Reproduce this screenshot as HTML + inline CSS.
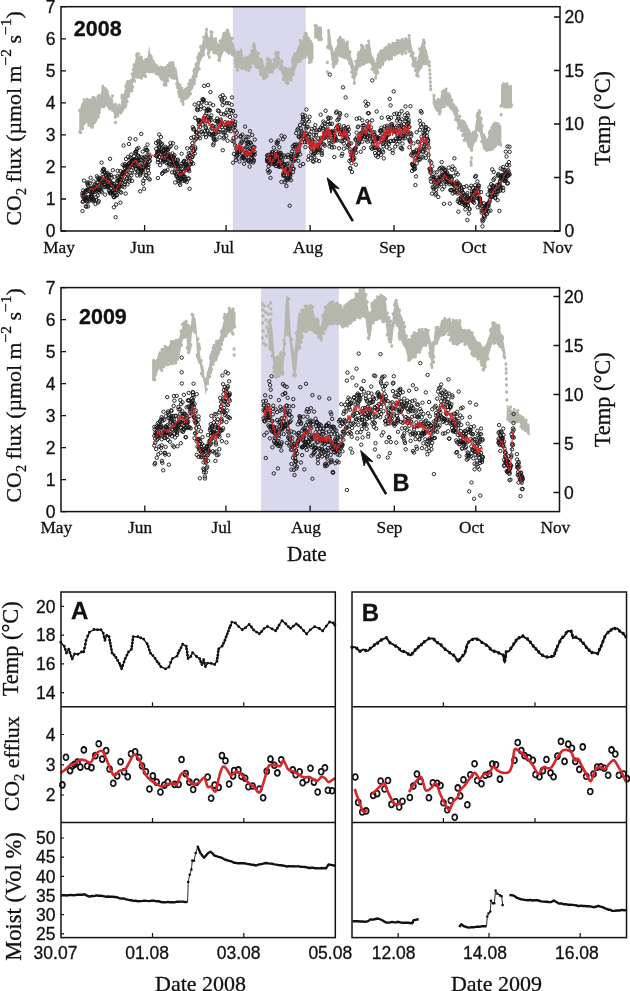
<!DOCTYPE html>
<html><head><meta charset="utf-8"><style>html,body{margin:0;padding:0;background:#fff;overflow:hidden}svg{display:block}text{fill:#111;stroke:#111;stroke-width:0.3px}</style></head><body>
<svg width="630" height="991" viewBox="0 0 630 991" style="will-change:transform">
<rect width="630" height="991" fill="#fff"/>
<rect x="232.8" y="6.7" width="73" height="224.3" fill="#d9d8ec"/>
<path d="M79.2,113.6 79.9,110.5 80.6,106.5 81.3,103.8 82,102.7 82.7,101.7 83.4,101.4 84.1,99.9 84.8,100.8 85.5,100.6 86.2,101.2 86.9,100.8 87.6,99.3 88.3,99.7 89,99.7 89.7,101 90.4,101 91.1,99.6 91.8,100.4 92.5,99 93.2,98.5 93.9,98.9 94.6,97.8 95.3,98.4 96,98.8 96.7,99.1 97.4,96.9 98.1,95.4 98.8,95 99.5,96.4 100.2,95.3 100.9,92.4 101.6,90.1 102.3,89.2 103,87.1 103.7,85.9 104.4,88.1 105.1,89.4 105.8,89.5 106.5,89.3 107.2,89.6 107.9,90 108.6,92.3 109.3,94.9 110,96.4 110.7,97.6 111.4,98.1 112.1,97.1 112.8,98.7 113.5,103.4 114.2,104.8 114.9,104.9 115.6,105.6 116.3,104.6 117,105.6 117.7,107 118.4,106.2 119.1,106.6 119.8,107 120.5,106.3 121.2,100.8 121.9,95.8 122.6,95 123.3,95.3 124,93.8 124.7,90 125.4,87.5 126.1,85.7 126.8,85.2 127.5,82.8 128.2,81.3 128.9,80.6 129.6,79.6 130.3,78.9 131,79.4 131.7,78.2 132.4,72.9 133.1,70.2 133.8,66.6 134.5,63.4 135.2,60.8 135.9,56.3 136.6,55 137.3,55.5 138,54.8 138.7,55.8 139.4,56.4 140.1,56.9 140.8,56.3 141.5,57.1 142.2,57.1 142.9,58.2 143.6,60.3 144.3,61 145,61.3 145.7,58.9 146.4,57.9 147.1,57.9 147.8,55 148.5,50.8 149.2,45.4 149.9,50.7 150.6,54.8 151.3,57.6 152,61.9 152.7,63.5 153.4,62.7 154.1,63.7 154.8,62.9 155.5,64.9 156.2,64.1 156.9,66.5 157.6,66 158.3,66.3 159,68.3 159.7,67.8 160.4,67.9 161.1,69.1 161.8,68.1 162.5,68.1 163.2,68.1 163.9,67.9 164.6,68.3 165.3,68.7 166,68.4 166.7,68.2 167.4,67 168.1,65.7 168.8,63.7 169.5,63.2 170.2,63.7 170.9,62.2 171.6,62.3 172.3,62.1 173,63 173.7,64.8 174.4,65.2 175.1,67 175.8,67.5 176.5,68.3 177.2,72.4 177.9,76.7 178.6,80.9 179.3,83.7 180,85.2 180.7,87.4 181.4,87 182.1,87.9 182.8,89 183.5,89.9 184.2,88 184.9,88.2 185.6,88.1 186.3,86.3 187,86.3 187.7,87.1 188.4,84.4 189.1,83.7 189.8,81.7 190.5,81.4 191.2,79 191.9,75.8 192.6,74.9 193.3,71.7 194,71.1 194.7,67.6 195.4,65.5 196.1,63.8 196.8,62 197.5,60.7 198.2,57.1 198.9,55.1 199.6,51.3 200.3,49.6 201,46 201.7,45.1 202.4,41.9 203.1,39.8 203.8,38 204.5,35.4 205.2,32.1 205.9,29.9 206.6,28.8 207.3,31.5 208,34.9 208.7,38.7 209.4,37.2 210.1,34.5 210.8,31.8 211.5,31 212.2,32.3 212.9,36.1 213.6,38.3 214.3,39.2 215,39.3 215.7,40.3 216.4,40 217.1,42 217.8,42.9 218.5,43.6 219.2,44 219.9,41.9 220.6,39.2 221.3,38.4 222,35.7 222.7,35 223.4,34 224.1,33.5 224.8,34.4 225.5,32.4 226.2,32 226.9,30.8 227.6,31.7 228.3,31.9 229,32.2 229.7,33.1 230.4,34.6 231.1,36.8 231.8,39.1 232.5,41.2 233.2,42.9 233.9,44.1 234.6,47.1 235.3,48.9 236,50 236.7,54.1 237.4,54.8 238.1,52.6 238.8,52.4 239.5,52.1 240.2,49.6 240.9,47.7 241.6,48.5 242.3,51.6 243,54.8 243.7,58.1 244.4,58.7 245.1,58.9 245.8,59.9 246.5,58.8 247.2,58.4 247.9,57.9 248.6,55.8 249.3,56.2 250,54.8 250.7,52.9 251.4,51.5 252.1,50.7 252.8,48.3 253.5,45 254.2,43.8 254.9,43.3 255.6,45.1 256.3,49.1 257,51.9 257.7,52.9 258.4,54.2 259.1,56.5 259.8,58.1 260.5,57.8 261.2,61.3 261.9,62.5 262.6,63.8 263.3,64.7 264,65.5 264.7,68 265.4,66.3 266.1,64 266.8,60.3 267.5,58.4 268.2,55.5 268.9,57.8 269.6,58.5 270.3,60.2 271,60.3 271.7,62.5 272.4,63.1 273.1,62.8 273.8,59.6 274.5,58.6 275.2,55.2 275.9,52.9 276.6,52.2 277.3,52.6 278,52.5 278.7,53.8 279.4,55.4 280.1,58.3 280.8,59.7 281.5,62 282.2,63.3 282.9,65.1 283.6,66.9 284.3,67.4 285,69.7 285.7,69.9 286.4,70.6 287.1,73 287.8,71.7 288.5,70.8 289.2,69.4 289.9,68.8 290.6,68 291.3,66.3 292,63 292.7,60.1 293.4,57.9 294.1,55.9 294.8,54.8 295.5,53.5 296.2,51.1 296.9,49.2 297.6,46.8 298.3,46.8 299,44.1 299.7,43 300.4,40.9 301.1,40.5 301.8,40.9 302.5,40 303.2,37.6 303.9,38.2 304.6,36.6 305.3,35.1 306,35 306.7,35.7 307.4,35 308.1,36.9 308.8,38.8 309.5,39.2 310.2,39.5 310.9,39.4 311.6,40.5 312.3,42.1 313,43.3 313.5,46.3 313.5,58.4 313,59 312.3,60.7 311.6,62.3 310.9,62.4 310.2,62.3 309.5,63.1 308.8,61.6 308.1,59.8 307.4,57 306.7,55.4 306,55.6 305.3,56.5 304.6,55.3 303.9,56.9 303.2,58.1 302.5,57.4 301.8,59.8 301.1,59.6 300.4,59.9 299.7,60.6 299,62.5 298.3,62.6 297.6,64 296.9,65.2 296.2,67.3 295.5,69.2 294.8,72.2 294.1,73 293.4,74.6 292.7,75.7 292,76.8 291.3,79.5 290.6,79 289.9,81.2 289.2,80.5 288.5,81.6 287.8,82.2 287.1,82.8 286.4,83.4 285.7,82.3 285,81.5 284.3,81 283.6,80.6 282.9,77.8 282.2,74.6 281.5,73.1 280.8,71.4 280.1,68.9 279.4,66.8 278.7,63 278,62.9 277.3,65.7 276.6,66.9 275.9,66.6 275.2,68.4 274.5,69.8 273.8,70.5 273.1,71.3 272.4,72.4 271.7,71.2 271,72.5 270.3,72.8 269.6,72.3 268.9,72.7 268.2,73.6 267.5,73.6 266.8,76.4 266.1,77.1 265.4,77.8 264.7,77.8 264,78.5 263.3,78.7 262.6,79.4 261.9,76.3 261.2,75.8 260.5,72.8 259.8,72.3 259.1,69.8 258.4,68.6 257.7,68.3 257,67 256.3,66.4 255.6,64.1 254.9,62.2 254.2,62.2 253.5,62.1 252.8,61.8 252.1,63.1 251.4,65 250.7,66.1 250,69.1 249.3,69.3 248.6,70.3 247.9,70.6 247.2,70.5 246.5,71.8 245.8,72.3 245.1,69.5 244.4,69.5 243.7,68 243,68.1 242.3,67.1 241.6,66.5 240.9,67.2 240.2,65.5 239.5,63.3 238.8,66 238.1,68.1 237.4,71.4 236.7,70.1 236,66.6 235.3,62.4 234.6,58.3 233.9,57.2 233.2,56.8 232.5,54.9 231.8,54.1 231.1,53.2 230.4,52.4 229.7,52.7 229,51.8 228.3,51.6 227.6,50.9 226.9,50.4 226.2,50.3 225.5,51.5 224.8,50.7 224.1,51.5 223.4,52.3 222.7,54 222,55.4 221.3,57.7 220.6,59 219.9,58.7 219.2,60.9 218.5,58.4 217.8,56.7 217.1,55.1 216.4,53.6 215.7,53.6 215,52.3 214.3,52.6 213.6,51.5 212.9,50.5 212.2,50.9 211.5,50.7 210.8,51.1 210.1,52.9 209.4,55 208.7,55.8 208,53.4 207.3,50.8 206.6,48.3 205.9,48.5 205.2,50 204.5,53.3 203.8,53.8 203.1,56.5 202.4,57.9 201.7,59.1 201,60.8 200.3,62.1 199.6,64.9 198.9,69.7 198.2,73.7 197.5,73.8 196.8,76.2 196.1,75.7 195.4,78.6 194.7,80.7 194,85.2 193.3,88.3 192.6,89.3 191.9,90 191.2,91.3 190.5,91.5 189.8,93.2 189.1,94.2 188.4,95.4 187.7,97.2 187,97.2 186.3,98.8 185.6,99.5 184.9,99.1 184.2,101.7 183.5,103.5 182.8,104 182.1,101.8 181.4,100.8 180.7,98.9 180,98.5 179.3,94.3 178.6,92.8 177.9,89.4 177.2,84.8 176.5,81.4 175.8,79.9 175.1,78.8 174.4,78.3 173.7,77.1 173,76.3 172.3,76.5 171.6,76.7 170.9,76.3 170.2,76.7 169.5,76.9 168.8,78.2 168.1,79.5 167.4,81.7 166.7,85.3 166,86.4 165.3,85.7 164.6,84.2 163.9,84 163.2,82 162.5,81.3 161.8,79.7 161.1,78.7 160.4,79.3 159.7,78.8 159,77.5 158.3,75.5 157.6,75.9 156.9,75.4 156.2,75 155.5,74.2 154.8,72.4 154.1,72.1 153.4,73.3 152.7,71.8 152,72.3 151.3,71.8 150.6,70.7 149.9,71 149.2,70.6 148.5,71.6 147.8,71.4 147.1,72.7 146.4,72.7 145.7,74.2 145,75.8 144.3,77.7 143.6,77 142.9,77.8 142.2,77.3 141.5,76.9 140.8,77.2 140.1,77 139.4,76.5 138.7,76.2 138,74.8 137.3,76.3 136.6,76.7 135.9,76.6 135.2,78.7 134.5,80.7 133.8,80.2 133.1,83.4 132.4,88.2 131.7,89.9 131,92.1 130.3,92.3 129.6,93.6 128.9,95.3 128.2,96.2 127.5,99.1 126.8,101.3 126.1,105.3 125.4,106.8 124.7,108.4 124,110.1 123.3,111.7 122.6,112.5 121.9,114.5 121.2,114 120.5,114.8 119.8,114.8 119.1,113.3 118.4,114.4 117.7,115 117,115.7 116.3,116.3 115.6,116.7 114.9,116.4 114.2,115.1 113.5,112.7 112.8,111.8 112.1,109.5 111.4,109.8 110.7,109.3 110,107.8 109.3,108.1 108.6,106.2 107.9,106.7 107.2,105.1 106.5,105.5 105.8,105.9 105.1,105.3 104.4,106.9 103.7,106.5 103,106.9 102.3,108.1 101.6,107.7 100.9,109.8 100.2,111.4 99.5,113.7 98.8,115.2 98.1,116.4 97.4,120 96.7,121.8 96,122.8 95.3,124.2 94.6,123.8 93.9,124.3 93.2,124.2 92.5,126 91.8,126.9 91.1,126.7 90.4,126.7 89.7,126 89,124.9 88.3,123.8 87.6,122 86.9,122.8 86.2,122.9 85.5,124 84.8,125.6 84.1,124.7 83.4,127.1 82.7,127 82,129.1 81.3,130.6 80.6,131.5 79.9,131.5 79.2,132.3ZM314.2,27.3 314.9,27.8 315.6,27.1 316.3,27.8 317,27.2 317.7,27.6 318.4,27.1 319.1,27.4 319.8,27.3 320.5,28.8 321.2,28.5 321.9,27.6 322,28.2 322,39.1 321.9,38.4 321.2,38.5 320.5,39.1 319.8,38.8 319.1,38.8 318.4,39.5 317.7,39.5 317,38.6 316.3,38.2 315.6,38.9 314.9,38.5 314.2,38.5ZM327.4,30.5 328.1,30.3 328.8,30.6 329.5,30.1 330.2,33.2 330.9,39.6 331.6,44.9 332.3,46 333,48.3 333.7,52.1 334.4,50.9 335.1,47.7 335.8,47.5 336.5,46.7 337.2,43.8 337.9,42.5 338.6,39.8 339.3,37.8 340,37.6 340.7,37 341.4,36.7 342.1,38.5 342.8,39.9 343.5,40 344.2,42.8 344.9,44.1 345.6,43.9 346.3,43.5 347,43.1 347.7,44 348.4,44.5 349.1,49.3 349.8,51.5 350.5,54.3 351.2,56.8 351.9,58.4 352.6,60.4 353.3,62.3 354,65.5 354.7,66.4 355.4,63 356.1,61.3 356.8,57.8 357.5,55.4 358.2,55.2 358.9,53.1 359.6,52 360.3,48.5 361,45.4 361.7,43.9 362.4,46.2 363.1,48.5 363.8,48.7 364.5,49 365.2,48.8 365.9,46.3 366.6,46.7 367.3,44.8 368,43.9 368.7,42.2 369.4,40.1 370.1,44.7 370.8,48.1 371.5,53.8 372.2,55.7 372.9,56.8 373.6,57.7 374.3,60.2 375,60.2 375.7,62.9 376.4,61.3 377.1,60.2 377.8,57.6 378.5,55.3 379.2,53.8 379.9,53.1 380.6,52.1 381.3,50.5 382,51.1 382.7,48.7 383.4,49.5 384.1,48.5 384.8,47.8 385.5,46.3 386.2,47.4 386.9,46.5 387.6,46.7 388.3,46.8 389,46.3 389.7,44.9 390.4,44.4 391.1,43.8 391.8,44.3 392.5,43.6 393.2,44.1 393.9,43.1 394.6,41.8 395.3,41.8 396,42.3 396.7,42.1 397.4,41.3 398.1,42.1 398.8,40.5 399.5,40.4 400.2,41.6 400.9,41.3 401.6,41.1 402.3,40.7 403,39.5 403.7,40.9 404.4,40.8 405.1,40.6 405.8,39.6 406.5,39.4 407.2,39.1 407.9,37.9 408.6,38.1 409.3,37.4 410,36 410.7,40.4 411.4,45.6 412.1,48.1 412.8,50.8 413.5,54.6 414.2,56.2 414.9,58.9 415.6,59.9 416.3,60.5 417,62.8 417.7,59 418.4,55.9 419.1,52.4 419.8,50.4 420.5,46.7 421.2,44.9 421.9,42.4 422.6,40.2 423.3,39.9 424,41.7 424.7,43.4 425.4,45.8 426.1,49.2 426.8,49.6 427.5,53.5 428.2,55.5 428.7,57.7 428.7,63.7 428.2,63.6 427.5,62.2 426.8,61.7 426.1,62.6 425.4,63.4 424.7,62.6 424,63.4 423.3,64 422.6,66.7 421.9,68.2 421.2,69.4 420.5,70 419.8,71.1 419.1,72.4 418.4,74.1 417.7,76.4 417,76.7 416.3,73.4 415.6,71.2 414.9,69.6 414.2,67.3 413.5,66.1 412.8,64.8 412.1,61.4 411.4,58.7 410.7,55.1 410,51.4 409.3,49.6 408.6,49.5 407.9,50.1 407.2,50.4 406.5,50.6 405.8,51.2 405.1,52.4 404.4,51.7 403.7,53.2 403,51.9 402.3,53.9 401.6,53.6 400.9,52.6 400.2,54.6 399.5,53.8 398.8,53.4 398.1,55.6 397.4,54.3 396.7,55 396,56.4 395.3,55.9 394.6,57 393.9,56.1 393.2,55.8 392.5,57.8 391.8,57.9 391.1,56.6 390.4,57.1 389.7,57.3 389,59.7 388.3,59.8 387.6,59.7 386.9,59.9 386.2,60.9 385.5,62.5 384.8,61.1 384.1,62.3 383.4,62.5 382.7,64 382,64.1 381.3,64.1 380.6,65.8 379.9,66.6 379.2,67.6 378.5,68.5 377.8,71.7 377.1,74 376.4,77.2 375.7,77.5 375,75.2 374.3,71 373.6,70.3 372.9,68.3 372.2,68.3 371.5,65.9 370.8,64.6 370.1,62.3 369.4,58.6 368.7,61 368,61.5 367.3,61.1 366.6,63 365.9,63.8 365.2,64.8 364.5,65.2 363.8,65.1 363.1,63.2 362.4,62.6 361.7,60.3 361,61.8 360.3,63 359.6,66.4 358.9,68 358.2,69.8 357.5,71.4 356.8,71.4 356.1,75.5 355.4,79 354.7,81.7 354,82 353.3,79.5 352.6,76.5 351.9,73.5 351.2,69.7 350.5,68.5 349.8,65.5 349.1,61.4 348.4,59.8 347.7,56.8 347,58.3 346.3,57.9 345.6,57.1 344.9,55.5 344.2,56.7 343.5,56.2 342.8,54.6 342.1,54.4 341.4,53.9 340.7,56.1 340,56.8 339.3,56.7 338.6,56.7 337.9,58.5 337.2,59.6 336.5,61.8 335.8,63.9 335.1,63.7 334.4,64.8 333.7,66 333,63.2 332.3,62.2 331.6,61.1 330.9,56.2 330.2,50.9 329.5,47.4 328.8,48 328.1,46.8 327.4,47.5ZM432.7,92.6 433.4,93.7 434.1,94.2 434.8,97.6 435.5,99.4 436.2,99.4 436.9,101 437.6,101.4 438.3,100.6 439,100.6 439.7,99.9 440.4,97.6 441.1,94.3 441.8,92.3 442.5,91 443.2,89.9 443.9,89.8 444.6,88.4 445.3,89.3 446,89.2 446.7,90.6 447.4,91.5 448.1,93.5 448.8,95.5 449.5,95.7 450.2,96.5 450.9,99 451.6,98.8 452.3,100.9 453,102.5 453.7,103.5 454.4,103.1 455.1,104.3 455.8,106.6 456.5,109.3 457.2,110.7 457.9,112.7 458.6,114.1 459.3,116.3 460,118.2 460.7,119.3 461.4,119.9 462.1,120.2 462.8,122.5 463.5,122.8 464.2,123.3 464.9,124.4 465.6,124.9 466.3,126.7 467,129 467.7,129.8 468.4,131.5 469.1,132.7 469.8,132.6 470.5,134.4 471.2,134 471.9,134.3 472.6,133.2 473.3,133 474,132.4 474.7,129.9 475.4,125.6 476.1,120.4 476.8,117.6 477.5,115.2 478.2,112.3 478.9,110.6 479.6,113.2 480.3,114.4 481,117.1 481.7,120.8 482.4,127.9 483.1,132 483.8,136.6 484.5,136.6 485.2,138.4 485.9,139.3 486.6,138.4 487.3,137.9 488,137.3 488.7,134.4 489.4,133.7 490.1,132.8 490.8,131.7 491.5,129.5 492.2,128.6 492.9,126.8 493.6,125 494.3,123.7 495,124.2 495.7,122.6 496.4,122.2 497.1,121.7 497.8,122.3 498.5,122.4 499.2,122.6 499.9,124.6 500.6,124.9 501.3,126.5 501.3,126.3 501.3,146.8 501.3,148.1 500.6,145.5 499.9,143.1 499.2,143 498.5,142.9 497.8,143.8 497.1,143.8 496.4,145.5 495.7,146.8 495,145.7 494.3,147 493.6,147.4 492.9,148.1 492.2,147.5 491.5,147.1 490.8,148.6 490.1,149.1 489.4,150.1 488.7,150.8 488,150.2 487.3,151.9 486.6,152.3 485.9,152.1 485.2,150.7 484.5,150.1 483.8,149.6 483.1,149.3 482.4,144.9 481.7,142.7 481,138.5 480.3,135.5 479.6,132.8 478.9,129.8 478.2,130.1 477.5,131.2 476.8,134.1 476.1,136.3 475.4,138.9 474.7,143.2 474,144.8 473.3,147.3 472.6,149.1 471.9,150.2 471.2,151 470.5,151.7 469.8,149.1 469.1,147.9 468.4,148 467.7,146.6 467,144 466.3,142.3 465.6,141.3 464.9,139.9 464.2,138.4 463.5,135.8 462.8,134 462.1,131.6 461.4,129.9 460.7,129.3 460,128.3 459.3,127.3 458.6,127.1 457.9,126.7 457.2,124.1 456.5,121.5 455.8,120.5 455.1,118 454.4,115.9 453.7,114.6 453,112.7 452.3,111.6 451.6,110.3 450.9,110.5 450.2,109 449.5,109.1 448.8,106.9 448.1,106.3 447.4,106.7 446.7,105.1 446,104.4 445.3,104.2 444.6,104.4 443.9,105.7 443.2,106.6 442.5,107.3 441.8,109.2 441.1,109.4 440.4,110.6 439.7,112.5 439,113.5 438.3,113.6 437.6,111.9 436.9,111.7 436.2,111.2 435.5,110.5 434.8,108.2 434.1,108 433.4,105.3 432.7,104.3ZM501,85.1 501.7,84.6 502.4,85.1 503.1,85.5 503.8,85 504.5,86.1 505.2,84.4 505.9,85 506.6,85.5 507.3,85 508,85.5 508.7,84.3 509.4,86.3 510.1,84.6 510.8,84.8 511.5,85.3 512,85.4 512,106.1 511.5,105.5 510.8,105.5 510.1,106.3 509.4,105.1 508.7,105.9 508,105.7 507.3,105 506.6,105.8 505.9,105.9 505.2,105.3 504.5,106.2 503.8,105.4 503.1,105.2 502.4,106.7 501.7,106.7 501,106Z" fill="#b6b7ac"/>
<path d="M104.1 89.1a1.4 1.4 0 1 0 2.7 0a1.4 1.4 0 1 0 -2.7 0M214.4 39.1a1.4 1.4 0 1 0 2.7 0a1.4 1.4 0 1 0 -2.7 0M218.7 41.2a1.4 1.4 0 1 0 2.7 0a1.4 1.4 0 1 0 -2.7 0M185.8 97.7a1.4 1.4 0 1 0 2.7 0a1.4 1.4 0 1 0 -2.7 0M284.9 69.9a1.4 1.4 0 1 0 2.7 0a1.4 1.4 0 1 0 -2.7 0M135.7 76.6a1.4 1.4 0 1 0 2.7 0a1.4 1.4 0 1 0 -2.7 0M149.9 57.5a1.4 1.4 0 1 0 2.7 0a1.4 1.4 0 1 0 -2.7 0M235.9 53.7a1.4 1.4 0 1 0 2.7 0a1.4 1.4 0 1 0 -2.7 0M234.2 63.1a1.4 1.4 0 1 0 2.7 0a1.4 1.4 0 1 0 -2.7 0M85.8 99.6a1.4 1.4 0 1 0 2.7 0a1.4 1.4 0 1 0 -2.7 0M237.8 52.5a1.4 1.4 0 1 0 2.7 0a1.4 1.4 0 1 0 -2.7 0M251 62.1a1.4 1.4 0 1 0 2.7 0a1.4 1.4 0 1 0 -2.7 0M305.1 34.9a1.4 1.4 0 1 0 2.7 0a1.4 1.4 0 1 0 -2.7 0M131.9 69.6a1.4 1.4 0 1 0 2.7 0a1.4 1.4 0 1 0 -2.7 0M147 71.4a1.4 1.4 0 1 0 2.7 0a1.4 1.4 0 1 0 -2.7 0M121.7 95.4a1.4 1.4 0 1 0 2.7 0a1.4 1.4 0 1 0 -2.7 0M233.7 60.3a1.4 1.4 0 1 0 2.7 0a1.4 1.4 0 1 0 -2.7 0M170 62.9a1.4 1.4 0 1 0 2.7 0a1.4 1.4 0 1 0 -2.7 0M111.1 96.2a1.4 1.4 0 1 0 2.7 0a1.4 1.4 0 1 0 -2.7 0M170 77.2a1.4 1.4 0 1 0 2.7 0a1.4 1.4 0 1 0 -2.7 0M249.5 67.2a1.4 1.4 0 1 0 2.7 0a1.4 1.4 0 1 0 -2.7 0M155 65.8a1.4 1.4 0 1 0 2.7 0a1.4 1.4 0 1 0 -2.7 0M252.7 44a1.4 1.4 0 1 0 2.7 0a1.4 1.4 0 1 0 -2.7 0M166.6 65.5a1.4 1.4 0 1 0 2.7 0a1.4 1.4 0 1 0 -2.7 0M117.5 105.4a1.4 1.4 0 1 0 2.7 0a1.4 1.4 0 1 0 -2.7 0M160.2 79.1a1.4 1.4 0 1 0 2.7 0a1.4 1.4 0 1 0 -2.7 0M303.8 35a1.4 1.4 0 1 0 2.7 0a1.4 1.4 0 1 0 -2.7 0M270.3 72.1a1.4 1.4 0 1 0 2.7 0a1.4 1.4 0 1 0 -2.7 0M89.4 100.2a1.4 1.4 0 1 0 2.7 0a1.4 1.4 0 1 0 -2.7 0M293.3 54.5a1.4 1.4 0 1 0 2.7 0a1.4 1.4 0 1 0 -2.7 0M288 69.4a1.4 1.4 0 1 0 2.7 0a1.4 1.4 0 1 0 -2.7 0M268.1 71.9a1.4 1.4 0 1 0 2.7 0a1.4 1.4 0 1 0 -2.7 0M86 100.8a1.4 1.4 0 1 0 2.7 0a1.4 1.4 0 1 0 -2.7 0M138.1 77.1a1.4 1.4 0 1 0 2.7 0a1.4 1.4 0 1 0 -2.7 0M157.3 68.1a1.4 1.4 0 1 0 2.7 0a1.4 1.4 0 1 0 -2.7 0M222.4 34.6a1.4 1.4 0 1 0 2.7 0a1.4 1.4 0 1 0 -2.7 0M152 61.4a1.4 1.4 0 1 0 2.7 0a1.4 1.4 0 1 0 -2.7 0M254.9 66.5a1.4 1.4 0 1 0 2.7 0a1.4 1.4 0 1 0 -2.7 0M298.9 40.7a1.4 1.4 0 1 0 2.7 0a1.4 1.4 0 1 0 -2.7 0M189.2 93.8a1.4 1.4 0 1 0 2.7 0a1.4 1.4 0 1 0 -2.7 0M168.4 63.2a1.4 1.4 0 1 0 2.7 0a1.4 1.4 0 1 0 -2.7 0M193.5 80.1a1.4 1.4 0 1 0 2.7 0a1.4 1.4 0 1 0 -2.7 0M265.9 76a1.4 1.4 0 1 0 2.7 0a1.4 1.4 0 1 0 -2.7 0M258.9 72a1.4 1.4 0 1 0 2.7 0a1.4 1.4 0 1 0 -2.7 0M152.7 63.7a1.4 1.4 0 1 0 2.7 0a1.4 1.4 0 1 0 -2.7 0M96.4 97a1.4 1.4 0 1 0 2.7 0a1.4 1.4 0 1 0 -2.7 0M135.8 54.1a1.4 1.4 0 1 0 2.7 0a1.4 1.4 0 1 0 -2.7 0M207.3 39a1.4 1.4 0 1 0 2.7 0a1.4 1.4 0 1 0 -2.7 0M284.8 82.5a1.4 1.4 0 1 0 2.7 0a1.4 1.4 0 1 0 -2.7 0M97.6 95.6a1.4 1.4 0 1 0 2.7 0a1.4 1.4 0 1 0 -2.7 0M244.1 58.2a1.4 1.4 0 1 0 2.7 0a1.4 1.4 0 1 0 -2.7 0M175.5 83.6a1.4 1.4 0 1 0 2.7 0a1.4 1.4 0 1 0 -2.7 0M253.1 63.3a1.4 1.4 0 1 0 2.7 0a1.4 1.4 0 1 0 -2.7 0M106.2 105.7a1.4 1.4 0 1 0 2.7 0a1.4 1.4 0 1 0 -2.7 0M210.7 32.6a1.4 1.4 0 1 0 2.7 0a1.4 1.4 0 1 0 -2.7 0M124.5 86.3a1.4 1.4 0 1 0 2.7 0a1.4 1.4 0 1 0 -2.7 0M113.8 117.1a1.4 1.4 0 1 0 2.7 0a1.4 1.4 0 1 0 -2.7 0M154.3 65.3a1.4 1.4 0 1 0 2.7 0a1.4 1.4 0 1 0 -2.7 0M196.7 58.8a1.4 1.4 0 1 0 2.7 0a1.4 1.4 0 1 0 -2.7 0M230.9 53.6a1.4 1.4 0 1 0 2.7 0a1.4 1.4 0 1 0 -2.7 0M189.1 93.7a1.4 1.4 0 1 0 2.7 0a1.4 1.4 0 1 0 -2.7 0M292.1 57.3a1.4 1.4 0 1 0 2.7 0a1.4 1.4 0 1 0 -2.7 0M105.8 91.2a1.4 1.4 0 1 0 2.7 0a1.4 1.4 0 1 0 -2.7 0M214.5 52.6a1.4 1.4 0 1 0 2.7 0a1.4 1.4 0 1 0 -2.7 0M280.8 61.9a1.4 1.4 0 1 0 2.7 0a1.4 1.4 0 1 0 -2.7 0M260.1 74.7a1.4 1.4 0 1 0 2.7 0a1.4 1.4 0 1 0 -2.7 0M217.5 59.9a1.4 1.4 0 1 0 2.7 0a1.4 1.4 0 1 0 -2.7 0M164.2 67.6a1.4 1.4 0 1 0 2.7 0a1.4 1.4 0 1 0 -2.7 0M137.6 76a1.4 1.4 0 1 0 2.7 0a1.4 1.4 0 1 0 -2.7 0M125.5 84.1a1.4 1.4 0 1 0 2.7 0a1.4 1.4 0 1 0 -2.7 0M236.8 52.6a1.4 1.4 0 1 0 2.7 0a1.4 1.4 0 1 0 -2.7 0M125.5 102.1a1.4 1.4 0 1 0 2.7 0a1.4 1.4 0 1 0 -2.7 0M92.7 97.8a1.4 1.4 0 1 0 2.7 0a1.4 1.4 0 1 0 -2.7 0M206.7 53.4a1.4 1.4 0 1 0 2.7 0a1.4 1.4 0 1 0 -2.7 0M116.2 114.8a1.4 1.4 0 1 0 2.7 0a1.4 1.4 0 1 0 -2.7 0M144.2 60.5a1.4 1.4 0 1 0 2.7 0a1.4 1.4 0 1 0 -2.7 0M151 71.8a1.4 1.4 0 1 0 2.7 0a1.4 1.4 0 1 0 -2.7 0M175.4 84a1.4 1.4 0 1 0 2.7 0a1.4 1.4 0 1 0 -2.7 0M163.1 68.9a1.4 1.4 0 1 0 2.7 0a1.4 1.4 0 1 0 -2.7 0M125.6 85.4a1.4 1.4 0 1 0 2.7 0a1.4 1.4 0 1 0 -2.7 0M177.1 91.6a1.4 1.4 0 1 0 2.7 0a1.4 1.4 0 1 0 -2.7 0M284.7 69.3a1.4 1.4 0 1 0 2.7 0a1.4 1.4 0 1 0 -2.7 0M81.3 128.5a1.4 1.4 0 1 0 2.7 0a1.4 1.4 0 1 0 -2.7 0M291 61.9a1.4 1.4 0 1 0 2.7 0a1.4 1.4 0 1 0 -2.7 0M164.7 85a1.4 1.4 0 1 0 2.7 0a1.4 1.4 0 1 0 -2.7 0M144.2 76.3a1.4 1.4 0 1 0 2.7 0a1.4 1.4 0 1 0 -2.7 0M103.3 88.7a1.4 1.4 0 1 0 2.7 0a1.4 1.4 0 1 0 -2.7 0M304.4 33.5a1.4 1.4 0 1 0 2.7 0a1.4 1.4 0 1 0 -2.7 0M298.8 60.9a1.4 1.4 0 1 0 2.7 0a1.4 1.4 0 1 0 -2.7 0M90.4 127a1.4 1.4 0 1 0 2.7 0a1.4 1.4 0 1 0 -2.7 0M289.7 79.9a1.4 1.4 0 1 0 2.7 0a1.4 1.4 0 1 0 -2.7 0M115.4 115.4a1.4 1.4 0 1 0 2.7 0a1.4 1.4 0 1 0 -2.7 0M172.6 78.3a1.4 1.4 0 1 0 2.7 0a1.4 1.4 0 1 0 -2.7 0M120.7 95.4a1.4 1.4 0 1 0 2.7 0a1.4 1.4 0 1 0 -2.7 0M199.2 47a1.4 1.4 0 1 0 2.7 0a1.4 1.4 0 1 0 -2.7 0M135.7 77.1a1.4 1.4 0 1 0 2.7 0a1.4 1.4 0 1 0 -2.7 0M87.5 125.2a1.4 1.4 0 1 0 2.7 0a1.4 1.4 0 1 0 -2.7 0M86.8 122.1a1.4 1.4 0 1 0 2.7 0a1.4 1.4 0 1 0 -2.7 0M218.3 60.3a1.4 1.4 0 1 0 2.7 0a1.4 1.4 0 1 0 -2.7 0M149.6 56.2a1.4 1.4 0 1 0 2.7 0a1.4 1.4 0 1 0 -2.7 0M177.6 93.5a1.4 1.4 0 1 0 2.7 0a1.4 1.4 0 1 0 -2.7 0M180.6 88.6a1.4 1.4 0 1 0 2.7 0a1.4 1.4 0 1 0 -2.7 0M192.5 71.2a1.4 1.4 0 1 0 2.7 0a1.4 1.4 0 1 0 -2.7 0M260.6 61.6a1.4 1.4 0 1 0 2.7 0a1.4 1.4 0 1 0 -2.7 0M188.7 80.6a1.4 1.4 0 1 0 2.7 0a1.4 1.4 0 1 0 -2.7 0M178.7 85a1.4 1.4 0 1 0 2.7 0a1.4 1.4 0 1 0 -2.7 0M197.4 55.7a1.4 1.4 0 1 0 2.7 0a1.4 1.4 0 1 0 -2.7 0M97.1 116.4a1.4 1.4 0 1 0 2.7 0a1.4 1.4 0 1 0 -2.7 0M197.7 54.1a1.4 1.4 0 1 0 2.7 0a1.4 1.4 0 1 0 -2.7 0M166.4 80.8a1.4 1.4 0 1 0 2.7 0a1.4 1.4 0 1 0 -2.7 0M278.7 68.8a1.4 1.4 0 1 0 2.7 0a1.4 1.4 0 1 0 -2.7 0M268.8 61.3a1.4 1.4 0 1 0 2.7 0a1.4 1.4 0 1 0 -2.7 0M193.1 83.6a1.4 1.4 0 1 0 2.7 0a1.4 1.4 0 1 0 -2.7 0M116.5 115.7a1.4 1.4 0 1 0 2.7 0a1.4 1.4 0 1 0 -2.7 0M93.2 98.7a1.4 1.4 0 1 0 2.7 0a1.4 1.4 0 1 0 -2.7 0M115 116a1.4 1.4 0 1 0 2.7 0a1.4 1.4 0 1 0 -2.7 0M269 60.4a1.4 1.4 0 1 0 2.7 0a1.4 1.4 0 1 0 -2.7 0M293.4 54a1.4 1.4 0 1 0 2.7 0a1.4 1.4 0 1 0 -2.7 0M196.4 57.8a1.4 1.4 0 1 0 2.7 0a1.4 1.4 0 1 0 -2.7 0M120.5 97.6a1.4 1.4 0 1 0 2.7 0a1.4 1.4 0 1 0 -2.7 0M237.1 66.1a1.4 1.4 0 1 0 2.7 0a1.4 1.4 0 1 0 -2.7 0M261.7 64.8a1.4 1.4 0 1 0 2.7 0a1.4 1.4 0 1 0 -2.7 0M226.9 33.2a1.4 1.4 0 1 0 2.7 0a1.4 1.4 0 1 0 -2.7 0M207.9 57.2a1.4 1.4 0 1 0 2.7 0a1.4 1.4 0 1 0 -2.7 0M102.4 106.7a1.4 1.4 0 1 0 2.7 0a1.4 1.4 0 1 0 -2.7 0M170.2 75.7a1.4 1.4 0 1 0 2.7 0a1.4 1.4 0 1 0 -2.7 0M309.9 61.5a1.4 1.4 0 1 0 2.7 0a1.4 1.4 0 1 0 -2.7 0M257 53.2a1.4 1.4 0 1 0 2.7 0a1.4 1.4 0 1 0 -2.7 0M252.1 46.5a1.4 1.4 0 1 0 2.7 0a1.4 1.4 0 1 0 -2.7 0M137.3 76.6a1.4 1.4 0 1 0 2.7 0a1.4 1.4 0 1 0 -2.7 0M215.1 52.8a1.4 1.4 0 1 0 2.7 0a1.4 1.4 0 1 0 -2.7 0M78.3 110.6a1.4 1.4 0 1 0 2.7 0a1.4 1.4 0 1 0 -2.7 0M222.2 34.4a1.4 1.4 0 1 0 2.7 0a1.4 1.4 0 1 0 -2.7 0M287.7 69.3a1.4 1.4 0 1 0 2.7 0a1.4 1.4 0 1 0 -2.7 0M230.9 38.5a1.4 1.4 0 1 0 2.7 0a1.4 1.4 0 1 0 -2.7 0M161 68a1.4 1.4 0 1 0 2.7 0a1.4 1.4 0 1 0 -2.7 0M130.4 90.8a1.4 1.4 0 1 0 2.7 0a1.4 1.4 0 1 0 -2.7 0M125.7 101.3a1.4 1.4 0 1 0 2.7 0a1.4 1.4 0 1 0 -2.7 0M109.4 108.2a1.4 1.4 0 1 0 2.7 0a1.4 1.4 0 1 0 -2.7 0M112.8 105.5a1.4 1.4 0 1 0 2.7 0a1.4 1.4 0 1 0 -2.7 0M282 79.4a1.4 1.4 0 1 0 2.7 0a1.4 1.4 0 1 0 -2.7 0M139.8 57.2a1.4 1.4 0 1 0 2.7 0a1.4 1.4 0 1 0 -2.7 0M209.6 31.9a1.4 1.4 0 1 0 2.7 0a1.4 1.4 0 1 0 -2.7 0M181.8 104.2a1.4 1.4 0 1 0 2.7 0a1.4 1.4 0 1 0 -2.7 0M136.1 74.8a1.4 1.4 0 1 0 2.7 0a1.4 1.4 0 1 0 -2.7 0M202.4 37.4a1.4 1.4 0 1 0 2.7 0a1.4 1.4 0 1 0 -2.7 0M91.5 124.2a1.4 1.4 0 1 0 2.7 0a1.4 1.4 0 1 0 -2.7 0M206.9 54.1a1.4 1.4 0 1 0 2.7 0a1.4 1.4 0 1 0 -2.7 0M124.6 105.4a1.4 1.4 0 1 0 2.7 0a1.4 1.4 0 1 0 -2.7 0M228.2 52.2a1.4 1.4 0 1 0 2.7 0a1.4 1.4 0 1 0 -2.7 0M150.3 59.1a1.4 1.4 0 1 0 2.7 0a1.4 1.4 0 1 0 -2.7 0M286.2 83.6a1.4 1.4 0 1 0 2.7 0a1.4 1.4 0 1 0 -2.7 0M79.3 132.6a1.4 1.4 0 1 0 2.7 0a1.4 1.4 0 1 0 -2.7 0M186.9 96a1.4 1.4 0 1 0 2.7 0a1.4 1.4 0 1 0 -2.7 0M130.8 74.3a1.4 1.4 0 1 0 2.7 0a1.4 1.4 0 1 0 -2.7 0M86.9 100.4a1.4 1.4 0 1 0 2.7 0a1.4 1.4 0 1 0 -2.7 0M240.7 68.2a1.4 1.4 0 1 0 2.7 0a1.4 1.4 0 1 0 -2.7 0M140.2 77.9a1.4 1.4 0 1 0 2.7 0a1.4 1.4 0 1 0 -2.7 0M262.6 78.2a1.4 1.4 0 1 0 2.7 0a1.4 1.4 0 1 0 -2.7 0M228.3 52.4a1.4 1.4 0 1 0 2.7 0a1.4 1.4 0 1 0 -2.7 0M284 68.6a1.4 1.4 0 1 0 2.7 0a1.4 1.4 0 1 0 -2.7 0M133.2 81a1.4 1.4 0 1 0 2.7 0a1.4 1.4 0 1 0 -2.7 0M252.7 44.6a1.4 1.4 0 1 0 2.7 0a1.4 1.4 0 1 0 -2.7 0M154.8 65.6a1.4 1.4 0 1 0 2.7 0a1.4 1.4 0 1 0 -2.7 0M225.6 51.3a1.4 1.4 0 1 0 2.7 0a1.4 1.4 0 1 0 -2.7 0M307.2 38.2a1.4 1.4 0 1 0 2.7 0a1.4 1.4 0 1 0 -2.7 0M241.3 67.5a1.4 1.4 0 1 0 2.7 0a1.4 1.4 0 1 0 -2.7 0M247.6 70.4a1.4 1.4 0 1 0 2.7 0a1.4 1.4 0 1 0 -2.7 0M127.5 93.7a1.4 1.4 0 1 0 2.7 0a1.4 1.4 0 1 0 -2.7 0M291.2 59.6a1.4 1.4 0 1 0 2.7 0a1.4 1.4 0 1 0 -2.7 0M102.8 105.9a1.4 1.4 0 1 0 2.7 0a1.4 1.4 0 1 0 -2.7 0M111.1 96.1a1.4 1.4 0 1 0 2.7 0a1.4 1.4 0 1 0 -2.7 0M240.1 68.1a1.4 1.4 0 1 0 2.7 0a1.4 1.4 0 1 0 -2.7 0M250.5 50.7a1.4 1.4 0 1 0 2.7 0a1.4 1.4 0 1 0 -2.7 0M163 84.9a1.4 1.4 0 1 0 2.7 0a1.4 1.4 0 1 0 -2.7 0M286.7 71.8a1.4 1.4 0 1 0 2.7 0a1.4 1.4 0 1 0 -2.7 0M292.1 74.6a1.4 1.4 0 1 0 2.7 0a1.4 1.4 0 1 0 -2.7 0M126.1 82.1a1.4 1.4 0 1 0 2.7 0a1.4 1.4 0 1 0 -2.7 0M276.5 64.3a1.4 1.4 0 1 0 2.7 0a1.4 1.4 0 1 0 -2.7 0M271.2 71.7a1.4 1.4 0 1 0 2.7 0a1.4 1.4 0 1 0 -2.7 0M101.3 88.4a1.4 1.4 0 1 0 2.7 0a1.4 1.4 0 1 0 -2.7 0M125.9 83.5a1.4 1.4 0 1 0 2.7 0a1.4 1.4 0 1 0 -2.7 0M82.8 99.9a1.4 1.4 0 1 0 2.7 0a1.4 1.4 0 1 0 -2.7 0M245.6 57.7a1.4 1.4 0 1 0 2.7 0a1.4 1.4 0 1 0 -2.7 0M303.7 57a1.4 1.4 0 1 0 2.7 0a1.4 1.4 0 1 0 -2.7 0M222.7 33.6a1.4 1.4 0 1 0 2.7 0a1.4 1.4 0 1 0 -2.7 0M180.1 100.9a1.4 1.4 0 1 0 2.7 0a1.4 1.4 0 1 0 -2.7 0M243 68.5a1.4 1.4 0 1 0 2.7 0a1.4 1.4 0 1 0 -2.7 0M279.9 61a1.4 1.4 0 1 0 2.7 0a1.4 1.4 0 1 0 -2.7 0M117.8 105.2a1.4 1.4 0 1 0 2.7 0a1.4 1.4 0 1 0 -2.7 0M256.4 67.5a1.4 1.4 0 1 0 2.7 0a1.4 1.4 0 1 0 -2.7 0M192.8 70.4a1.4 1.4 0 1 0 2.7 0a1.4 1.4 0 1 0 -2.7 0M121.1 95.3a1.4 1.4 0 1 0 2.7 0a1.4 1.4 0 1 0 -2.7 0M272.7 59.7a1.4 1.4 0 1 0 2.7 0a1.4 1.4 0 1 0 -2.7 0M144.3 59.7a1.4 1.4 0 1 0 2.7 0a1.4 1.4 0 1 0 -2.7 0M194.6 64.8a1.4 1.4 0 1 0 2.7 0a1.4 1.4 0 1 0 -2.7 0M96.8 117a1.4 1.4 0 1 0 2.7 0a1.4 1.4 0 1 0 -2.7 0M262.2 78.4a1.4 1.4 0 1 0 2.7 0a1.4 1.4 0 1 0 -2.7 0M171.9 64.5a1.4 1.4 0 1 0 2.7 0a1.4 1.4 0 1 0 -2.7 0M98 112.8a1.4 1.4 0 1 0 2.7 0a1.4 1.4 0 1 0 -2.7 0M126.1 84.1a1.4 1.4 0 1 0 2.7 0a1.4 1.4 0 1 0 -2.7 0M195.3 63.4a1.4 1.4 0 1 0 2.7 0a1.4 1.4 0 1 0 -2.7 0M132.6 65.8a1.4 1.4 0 1 0 2.7 0a1.4 1.4 0 1 0 -2.7 0M254.6 66a1.4 1.4 0 1 0 2.7 0a1.4 1.4 0 1 0 -2.7 0M159.5 67.2a1.4 1.4 0 1 0 2.7 0a1.4 1.4 0 1 0 -2.7 0M275.4 66.8a1.4 1.4 0 1 0 2.7 0a1.4 1.4 0 1 0 -2.7 0M117.6 106.6a1.4 1.4 0 1 0 2.7 0a1.4 1.4 0 1 0 -2.7 0M213.5 39.2a1.4 1.4 0 1 0 2.7 0a1.4 1.4 0 1 0 -2.7 0M285.2 70.2a1.4 1.4 0 1 0 2.7 0a1.4 1.4 0 1 0 -2.7 0M148.5 71.5a1.4 1.4 0 1 0 2.7 0a1.4 1.4 0 1 0 -2.7 0M114.1 104.5a1.4 1.4 0 1 0 2.7 0a1.4 1.4 0 1 0 -2.7 0M154.4 73.2a1.4 1.4 0 1 0 2.7 0a1.4 1.4 0 1 0 -2.7 0M154.7 65.6a1.4 1.4 0 1 0 2.7 0a1.4 1.4 0 1 0 -2.7 0M248.6 55.4a1.4 1.4 0 1 0 2.7 0a1.4 1.4 0 1 0 -2.7 0M101.7 88.1a1.4 1.4 0 1 0 2.7 0a1.4 1.4 0 1 0 -2.7 0M264.1 77.8a1.4 1.4 0 1 0 2.7 0a1.4 1.4 0 1 0 -2.7 0M123.8 107.2a1.4 1.4 0 1 0 2.7 0a1.4 1.4 0 1 0 -2.7 0M126.2 81.7a1.4 1.4 0 1 0 2.7 0a1.4 1.4 0 1 0 -2.7 0M171.3 77.3a1.4 1.4 0 1 0 2.7 0a1.4 1.4 0 1 0 -2.7 0M195.1 76a1.4 1.4 0 1 0 2.7 0a1.4 1.4 0 1 0 -2.7 0M111.1 110a1.4 1.4 0 1 0 2.7 0a1.4 1.4 0 1 0 -2.7 0M251.5 62.7a1.4 1.4 0 1 0 2.7 0a1.4 1.4 0 1 0 -2.7 0M212.3 51.7a1.4 1.4 0 1 0 2.7 0a1.4 1.4 0 1 0 -2.7 0M131.4 86.9a1.4 1.4 0 1 0 2.7 0a1.4 1.4 0 1 0 -2.7 0M259.2 74.1a1.4 1.4 0 1 0 2.7 0a1.4 1.4 0 1 0 -2.7 0M237.1 66.9a1.4 1.4 0 1 0 2.7 0a1.4 1.4 0 1 0 -2.7 0M151.2 71.2a1.4 1.4 0 1 0 2.7 0a1.4 1.4 0 1 0 -2.7 0M176.2 87.2a1.4 1.4 0 1 0 2.7 0a1.4 1.4 0 1 0 -2.7 0M225.4 31.5a1.4 1.4 0 1 0 2.7 0a1.4 1.4 0 1 0 -2.7 0M184.5 98.4a1.4 1.4 0 1 0 2.7 0a1.4 1.4 0 1 0 -2.7 0M236.1 70.2a1.4 1.4 0 1 0 2.7 0a1.4 1.4 0 1 0 -2.7 0M231.2 54.7a1.4 1.4 0 1 0 2.7 0a1.4 1.4 0 1 0 -2.7 0M192.6 83.5a1.4 1.4 0 1 0 2.7 0a1.4 1.4 0 1 0 -2.7 0M205.2 29.6a1.4 1.4 0 1 0 2.7 0a1.4 1.4 0 1 0 -2.7 0M298.2 60.6a1.4 1.4 0 1 0 2.7 0a1.4 1.4 0 1 0 -2.7 0M212.5 52.5a1.4 1.4 0 1 0 2.7 0a1.4 1.4 0 1 0 -2.7 0M197.9 68.9a1.4 1.4 0 1 0 2.7 0a1.4 1.4 0 1 0 -2.7 0M200.1 46.4a1.4 1.4 0 1 0 2.7 0a1.4 1.4 0 1 0 -2.7 0M127.1 96.1a1.4 1.4 0 1 0 2.7 0a1.4 1.4 0 1 0 -2.7 0M256.6 54.3a1.4 1.4 0 1 0 2.7 0a1.4 1.4 0 1 0 -2.7 0M161.1 67.8a1.4 1.4 0 1 0 2.7 0a1.4 1.4 0 1 0 -2.7 0M171.5 62.9a1.4 1.4 0 1 0 2.7 0a1.4 1.4 0 1 0 -2.7 0M176.4 87.5a1.4 1.4 0 1 0 2.7 0a1.4 1.4 0 1 0 -2.7 0M140 57.6a1.4 1.4 0 1 0 2.7 0a1.4 1.4 0 1 0 -2.7 0M298.1 61.1a1.4 1.4 0 1 0 2.7 0a1.4 1.4 0 1 0 -2.7 0M265.6 59.2a1.4 1.4 0 1 0 2.7 0a1.4 1.4 0 1 0 -2.7 0M108.1 108.5a1.4 1.4 0 1 0 2.7 0a1.4 1.4 0 1 0 -2.7 0M226.5 31.9a1.4 1.4 0 1 0 2.7 0a1.4 1.4 0 1 0 -2.7 0M130.8 88.4a1.4 1.4 0 1 0 2.7 0a1.4 1.4 0 1 0 -2.7 0M227.5 53.1a1.4 1.4 0 1 0 2.7 0a1.4 1.4 0 1 0 -2.7 0M187.5 84a1.4 1.4 0 1 0 2.7 0a1.4 1.4 0 1 0 -2.7 0M107.2 106.6a1.4 1.4 0 1 0 2.7 0a1.4 1.4 0 1 0 -2.7 0M277.2 52.7a1.4 1.4 0 1 0 2.7 0a1.4 1.4 0 1 0 -2.7 0M137.3 54a1.4 1.4 0 1 0 2.7 0a1.4 1.4 0 1 0 -2.7 0M78.5 132.2a1.4 1.4 0 1 0 2.7 0a1.4 1.4 0 1 0 -2.7 0M135.2 55.4a1.4 1.4 0 1 0 2.7 0a1.4 1.4 0 1 0 -2.7 0M178.2 96.6a1.4 1.4 0 1 0 2.7 0a1.4 1.4 0 1 0 -2.7 0M162.8 84.7a1.4 1.4 0 1 0 2.7 0a1.4 1.4 0 1 0 -2.7 0M91.2 127a1.4 1.4 0 1 0 2.7 0a1.4 1.4 0 1 0 -2.7 0M261.6 65.3a1.4 1.4 0 1 0 2.7 0a1.4 1.4 0 1 0 -2.7 0M226.2 30.3a1.4 1.4 0 1 0 2.7 0a1.4 1.4 0 1 0 -2.7 0M300.8 58.3a1.4 1.4 0 1 0 2.7 0a1.4 1.4 0 1 0 -2.7 0M101.6 86.3a1.4 1.4 0 1 0 2.7 0a1.4 1.4 0 1 0 -2.7 0M259.7 59.2a1.4 1.4 0 1 0 2.7 0a1.4 1.4 0 1 0 -2.7 0M289.7 78.4a1.4 1.4 0 1 0 2.7 0a1.4 1.4 0 1 0 -2.7 0M286.6 83.3a1.4 1.4 0 1 0 2.7 0a1.4 1.4 0 1 0 -2.7 0M234.5 66a1.4 1.4 0 1 0 2.7 0a1.4 1.4 0 1 0 -2.7 0M274.4 54.1a1.4 1.4 0 1 0 2.7 0a1.4 1.4 0 1 0 -2.7 0M202.2 54.8a1.4 1.4 0 1 0 2.7 0a1.4 1.4 0 1 0 -2.7 0M284.7 82.4a1.4 1.4 0 1 0 2.7 0a1.4 1.4 0 1 0 -2.7 0M132.7 65a1.4 1.4 0 1 0 2.7 0a1.4 1.4 0 1 0 -2.7 0M91.5 97.8a1.4 1.4 0 1 0 2.7 0a1.4 1.4 0 1 0 -2.7 0M193 69.4a1.4 1.4 0 1 0 2.7 0a1.4 1.4 0 1 0 -2.7 0M280 61.4a1.4 1.4 0 1 0 2.7 0a1.4 1.4 0 1 0 -2.7 0M187.5 95.6a1.4 1.4 0 1 0 2.7 0a1.4 1.4 0 1 0 -2.7 0M274.8 52.5a1.4 1.4 0 1 0 2.7 0a1.4 1.4 0 1 0 -2.7 0M302.9 37a1.4 1.4 0 1 0 2.7 0a1.4 1.4 0 1 0 -2.7 0M226.9 32.5a1.4 1.4 0 1 0 2.7 0a1.4 1.4 0 1 0 -2.7 0M237.8 63.9a1.4 1.4 0 1 0 2.7 0a1.4 1.4 0 1 0 -2.7 0M307.9 62.4a1.4 1.4 0 1 0 2.7 0a1.4 1.4 0 1 0 -2.7 0M288.1 70a1.4 1.4 0 1 0 2.7 0a1.4 1.4 0 1 0 -2.7 0M319 28.1a1.4 1.4 0 1 0 2.7 0a1.4 1.4 0 1 0 -2.7 0M319.8 37.9a1.4 1.4 0 1 0 2.7 0a1.4 1.4 0 1 0 -2.7 0M315.2 26.3a1.4 1.4 0 1 0 2.7 0a1.4 1.4 0 1 0 -2.7 0M320 39.4a1.4 1.4 0 1 0 2.7 0a1.4 1.4 0 1 0 -2.7 0M319 39.3a1.4 1.4 0 1 0 2.7 0a1.4 1.4 0 1 0 -2.7 0M317.7 39.5a1.4 1.4 0 1 0 2.7 0a1.4 1.4 0 1 0 -2.7 0M317.5 38.3a1.4 1.4 0 1 0 2.7 0a1.4 1.4 0 1 0 -2.7 0M318.1 28.1a1.4 1.4 0 1 0 2.7 0a1.4 1.4 0 1 0 -2.7 0M313.6 25.7a1.4 1.4 0 1 0 2.7 0a1.4 1.4 0 1 0 -2.7 0M407.8 36a1.4 1.4 0 1 0 2.7 0a1.4 1.4 0 1 0 -2.7 0M326.2 47.1a1.4 1.4 0 1 0 2.7 0a1.4 1.4 0 1 0 -2.7 0M344.9 44.4a1.4 1.4 0 1 0 2.7 0a1.4 1.4 0 1 0 -2.7 0M348.2 63.2a1.4 1.4 0 1 0 2.7 0a1.4 1.4 0 1 0 -2.7 0M344.3 57.5a1.4 1.4 0 1 0 2.7 0a1.4 1.4 0 1 0 -2.7 0M346 42.3a1.4 1.4 0 1 0 2.7 0a1.4 1.4 0 1 0 -2.7 0M387.7 44.8a1.4 1.4 0 1 0 2.7 0a1.4 1.4 0 1 0 -2.7 0M346.9 59.7a1.4 1.4 0 1 0 2.7 0a1.4 1.4 0 1 0 -2.7 0M408.3 49.6a1.4 1.4 0 1 0 2.7 0a1.4 1.4 0 1 0 -2.7 0M332.7 65.3a1.4 1.4 0 1 0 2.7 0a1.4 1.4 0 1 0 -2.7 0M399.2 41.2a1.4 1.4 0 1 0 2.7 0a1.4 1.4 0 1 0 -2.7 0M360 61a1.4 1.4 0 1 0 2.7 0a1.4 1.4 0 1 0 -2.7 0M376 59.6a1.4 1.4 0 1 0 2.7 0a1.4 1.4 0 1 0 -2.7 0M374.3 77.6a1.4 1.4 0 1 0 2.7 0a1.4 1.4 0 1 0 -2.7 0M344.9 56.9a1.4 1.4 0 1 0 2.7 0a1.4 1.4 0 1 0 -2.7 0M342.6 41.9a1.4 1.4 0 1 0 2.7 0a1.4 1.4 0 1 0 -2.7 0M326.5 47.1a1.4 1.4 0 1 0 2.7 0a1.4 1.4 0 1 0 -2.7 0M378.3 54a1.4 1.4 0 1 0 2.7 0a1.4 1.4 0 1 0 -2.7 0M408.8 50.9a1.4 1.4 0 1 0 2.7 0a1.4 1.4 0 1 0 -2.7 0M398.1 41.3a1.4 1.4 0 1 0 2.7 0a1.4 1.4 0 1 0 -2.7 0M332.3 66.9a1.4 1.4 0 1 0 2.7 0a1.4 1.4 0 1 0 -2.7 0M376.2 72.8a1.4 1.4 0 1 0 2.7 0a1.4 1.4 0 1 0 -2.7 0M380.5 51.3a1.4 1.4 0 1 0 2.7 0a1.4 1.4 0 1 0 -2.7 0M348.7 51.9a1.4 1.4 0 1 0 2.7 0a1.4 1.4 0 1 0 -2.7 0M351.4 75.9a1.4 1.4 0 1 0 2.7 0a1.4 1.4 0 1 0 -2.7 0M335.8 60a1.4 1.4 0 1 0 2.7 0a1.4 1.4 0 1 0 -2.7 0M327.8 48.1a1.4 1.4 0 1 0 2.7 0a1.4 1.4 0 1 0 -2.7 0M379 65.2a1.4 1.4 0 1 0 2.7 0a1.4 1.4 0 1 0 -2.7 0M414.1 70.7a1.4 1.4 0 1 0 2.7 0a1.4 1.4 0 1 0 -2.7 0M338.5 38.2a1.4 1.4 0 1 0 2.7 0a1.4 1.4 0 1 0 -2.7 0M354.4 61.4a1.4 1.4 0 1 0 2.7 0a1.4 1.4 0 1 0 -2.7 0M339.9 56.1a1.4 1.4 0 1 0 2.7 0a1.4 1.4 0 1 0 -2.7 0M341 55.9a1.4 1.4 0 1 0 2.7 0a1.4 1.4 0 1 0 -2.7 0M342.7 57.3a1.4 1.4 0 1 0 2.7 0a1.4 1.4 0 1 0 -2.7 0M365.4 46.3a1.4 1.4 0 1 0 2.7 0a1.4 1.4 0 1 0 -2.7 0M379.3 53.1a1.4 1.4 0 1 0 2.7 0a1.4 1.4 0 1 0 -2.7 0M404.8 39.4a1.4 1.4 0 1 0 2.7 0a1.4 1.4 0 1 0 -2.7 0M360 45.2a1.4 1.4 0 1 0 2.7 0a1.4 1.4 0 1 0 -2.7 0M407.5 51.4a1.4 1.4 0 1 0 2.7 0a1.4 1.4 0 1 0 -2.7 0M411.9 53a1.4 1.4 0 1 0 2.7 0a1.4 1.4 0 1 0 -2.7 0M423.1 63.1a1.4 1.4 0 1 0 2.7 0a1.4 1.4 0 1 0 -2.7 0M368.8 61.9a1.4 1.4 0 1 0 2.7 0a1.4 1.4 0 1 0 -2.7 0M379.8 51a1.4 1.4 0 1 0 2.7 0a1.4 1.4 0 1 0 -2.7 0M377.2 54.7a1.4 1.4 0 1 0 2.7 0a1.4 1.4 0 1 0 -2.7 0M424.3 63.5a1.4 1.4 0 1 0 2.7 0a1.4 1.4 0 1 0 -2.7 0M390.2 58.5a1.4 1.4 0 1 0 2.7 0a1.4 1.4 0 1 0 -2.7 0M415.7 62.5a1.4 1.4 0 1 0 2.7 0a1.4 1.4 0 1 0 -2.7 0M353 82.7a1.4 1.4 0 1 0 2.7 0a1.4 1.4 0 1 0 -2.7 0M381 64.6a1.4 1.4 0 1 0 2.7 0a1.4 1.4 0 1 0 -2.7 0M351.4 76.9a1.4 1.4 0 1 0 2.7 0a1.4 1.4 0 1 0 -2.7 0M422.4 40.2a1.4 1.4 0 1 0 2.7 0a1.4 1.4 0 1 0 -2.7 0M391.6 43.4a1.4 1.4 0 1 0 2.7 0a1.4 1.4 0 1 0 -2.7 0M422.9 63.3a1.4 1.4 0 1 0 2.7 0a1.4 1.4 0 1 0 -2.7 0M373.3 72.2a1.4 1.4 0 1 0 2.7 0a1.4 1.4 0 1 0 -2.7 0M338.6 37.6a1.4 1.4 0 1 0 2.7 0a1.4 1.4 0 1 0 -2.7 0M367.2 41.2a1.4 1.4 0 1 0 2.7 0a1.4 1.4 0 1 0 -2.7 0M334.9 63.3a1.4 1.4 0 1 0 2.7 0a1.4 1.4 0 1 0 -2.7 0M387.8 59.2a1.4 1.4 0 1 0 2.7 0a1.4 1.4 0 1 0 -2.7 0M346.4 57.9a1.4 1.4 0 1 0 2.7 0a1.4 1.4 0 1 0 -2.7 0M381.6 63.7a1.4 1.4 0 1 0 2.7 0a1.4 1.4 0 1 0 -2.7 0M357.5 52.6a1.4 1.4 0 1 0 2.7 0a1.4 1.4 0 1 0 -2.7 0M378 54.2a1.4 1.4 0 1 0 2.7 0a1.4 1.4 0 1 0 -2.7 0M327.3 30.7a1.4 1.4 0 1 0 2.7 0a1.4 1.4 0 1 0 -2.7 0M350.2 72.2a1.4 1.4 0 1 0 2.7 0a1.4 1.4 0 1 0 -2.7 0M354.9 73.9a1.4 1.4 0 1 0 2.7 0a1.4 1.4 0 1 0 -2.7 0M404.3 39.1a1.4 1.4 0 1 0 2.7 0a1.4 1.4 0 1 0 -2.7 0M414.3 58.4a1.4 1.4 0 1 0 2.7 0a1.4 1.4 0 1 0 -2.7 0M365.3 46.2a1.4 1.4 0 1 0 2.7 0a1.4 1.4 0 1 0 -2.7 0M337.1 41.8a1.4 1.4 0 1 0 2.7 0a1.4 1.4 0 1 0 -2.7 0M400.9 39.7a1.4 1.4 0 1 0 2.7 0a1.4 1.4 0 1 0 -2.7 0M361.8 64.2a1.4 1.4 0 1 0 2.7 0a1.4 1.4 0 1 0 -2.7 0M412.2 66.1a1.4 1.4 0 1 0 2.7 0a1.4 1.4 0 1 0 -2.7 0M400.9 53.8a1.4 1.4 0 1 0 2.7 0a1.4 1.4 0 1 0 -2.7 0M374.2 78a1.4 1.4 0 1 0 2.7 0a1.4 1.4 0 1 0 -2.7 0M418.7 49.3a1.4 1.4 0 1 0 2.7 0a1.4 1.4 0 1 0 -2.7 0M326.5 47.4a1.4 1.4 0 1 0 2.7 0a1.4 1.4 0 1 0 -2.7 0M376.5 71.9a1.4 1.4 0 1 0 2.7 0a1.4 1.4 0 1 0 -2.7 0M368.4 61.7a1.4 1.4 0 1 0 2.7 0a1.4 1.4 0 1 0 -2.7 0M387.6 45.3a1.4 1.4 0 1 0 2.7 0a1.4 1.4 0 1 0 -2.7 0M372.4 69.8a1.4 1.4 0 1 0 2.7 0a1.4 1.4 0 1 0 -2.7 0M365.6 61.9a1.4 1.4 0 1 0 2.7 0a1.4 1.4 0 1 0 -2.7 0M358.7 65.5a1.4 1.4 0 1 0 2.7 0a1.4 1.4 0 1 0 -2.7 0M376.7 56.1a1.4 1.4 0 1 0 2.7 0a1.4 1.4 0 1 0 -2.7 0M356.8 54.8a1.4 1.4 0 1 0 2.7 0a1.4 1.4 0 1 0 -2.7 0M385 47.4a1.4 1.4 0 1 0 2.7 0a1.4 1.4 0 1 0 -2.7 0M358.9 64.8a1.4 1.4 0 1 0 2.7 0a1.4 1.4 0 1 0 -2.7 0M423.2 42.9a1.4 1.4 0 1 0 2.7 0a1.4 1.4 0 1 0 -2.7 0M418.3 49.1a1.4 1.4 0 1 0 2.7 0a1.4 1.4 0 1 0 -2.7 0M383.3 48.7a1.4 1.4 0 1 0 2.7 0a1.4 1.4 0 1 0 -2.7 0M404.4 53.1a1.4 1.4 0 1 0 2.7 0a1.4 1.4 0 1 0 -2.7 0M378.5 67.3a1.4 1.4 0 1 0 2.7 0a1.4 1.4 0 1 0 -2.7 0M365.5 45.6a1.4 1.4 0 1 0 2.7 0a1.4 1.4 0 1 0 -2.7 0M361.6 64a1.4 1.4 0 1 0 2.7 0a1.4 1.4 0 1 0 -2.7 0M379.3 51.7a1.4 1.4 0 1 0 2.7 0a1.4 1.4 0 1 0 -2.7 0M366.7 61.3a1.4 1.4 0 1 0 2.7 0a1.4 1.4 0 1 0 -2.7 0M415.2 75.2a1.4 1.4 0 1 0 2.7 0a1.4 1.4 0 1 0 -2.7 0M370.6 69.1a1.4 1.4 0 1 0 2.7 0a1.4 1.4 0 1 0 -2.7 0M360.8 62.2a1.4 1.4 0 1 0 2.7 0a1.4 1.4 0 1 0 -2.7 0M343.3 44.3a1.4 1.4 0 1 0 2.7 0a1.4 1.4 0 1 0 -2.7 0M409.7 55.5a1.4 1.4 0 1 0 2.7 0a1.4 1.4 0 1 0 -2.7 0M416.7 76.1a1.4 1.4 0 1 0 2.7 0a1.4 1.4 0 1 0 -2.7 0M426.4 63.4a1.4 1.4 0 1 0 2.7 0a1.4 1.4 0 1 0 -2.7 0M341.9 40.2a1.4 1.4 0 1 0 2.7 0a1.4 1.4 0 1 0 -2.7 0M377.2 54.8a1.4 1.4 0 1 0 2.7 0a1.4 1.4 0 1 0 -2.7 0M389.9 57.3a1.4 1.4 0 1 0 2.7 0a1.4 1.4 0 1 0 -2.7 0M426.7 63a1.4 1.4 0 1 0 2.7 0a1.4 1.4 0 1 0 -2.7 0M367.7 59.5a1.4 1.4 0 1 0 2.7 0a1.4 1.4 0 1 0 -2.7 0M396 40.7a1.4 1.4 0 1 0 2.7 0a1.4 1.4 0 1 0 -2.7 0M411.4 64.4a1.4 1.4 0 1 0 2.7 0a1.4 1.4 0 1 0 -2.7 0M346 43.5a1.4 1.4 0 1 0 2.7 0a1.4 1.4 0 1 0 -2.7 0M353 83.4a1.4 1.4 0 1 0 2.7 0a1.4 1.4 0 1 0 -2.7 0M427.1 64.3a1.4 1.4 0 1 0 2.7 0a1.4 1.4 0 1 0 -2.7 0M338.4 38.9a1.4 1.4 0 1 0 2.7 0a1.4 1.4 0 1 0 -2.7 0M336.9 40.4a1.4 1.4 0 1 0 2.7 0a1.4 1.4 0 1 0 -2.7 0M379 66.6a1.4 1.4 0 1 0 2.7 0a1.4 1.4 0 1 0 -2.7 0M407.8 35.7a1.4 1.4 0 1 0 2.7 0a1.4 1.4 0 1 0 -2.7 0M404.1 40.7a1.4 1.4 0 1 0 2.7 0a1.4 1.4 0 1 0 -2.7 0M361.9 47.4a1.4 1.4 0 1 0 2.7 0a1.4 1.4 0 1 0 -2.7 0M336.1 60.3a1.4 1.4 0 1 0 2.7 0a1.4 1.4 0 1 0 -2.7 0M361.4 46.4a1.4 1.4 0 1 0 2.7 0a1.4 1.4 0 1 0 -2.7 0M331.6 64.2a1.4 1.4 0 1 0 2.7 0a1.4 1.4 0 1 0 -2.7 0M492 125.9a1.4 1.4 0 1 0 2.7 0a1.4 1.4 0 1 0 -2.7 0M454.2 119.4a1.4 1.4 0 1 0 2.7 0a1.4 1.4 0 1 0 -2.7 0M483.5 137.6a1.4 1.4 0 1 0 2.7 0a1.4 1.4 0 1 0 -2.7 0M472.4 133.5a1.4 1.4 0 1 0 2.7 0a1.4 1.4 0 1 0 -2.7 0M488.4 132.4a1.4 1.4 0 1 0 2.7 0a1.4 1.4 0 1 0 -2.7 0M456.1 110.6a1.4 1.4 0 1 0 2.7 0a1.4 1.4 0 1 0 -2.7 0M450.6 100.3a1.4 1.4 0 1 0 2.7 0a1.4 1.4 0 1 0 -2.7 0M462.1 121.7a1.4 1.4 0 1 0 2.7 0a1.4 1.4 0 1 0 -2.7 0M463.5 123.2a1.4 1.4 0 1 0 2.7 0a1.4 1.4 0 1 0 -2.7 0M436.3 101.5a1.4 1.4 0 1 0 2.7 0a1.4 1.4 0 1 0 -2.7 0M482.8 137.1a1.4 1.4 0 1 0 2.7 0a1.4 1.4 0 1 0 -2.7 0M498.6 143a1.4 1.4 0 1 0 2.7 0a1.4 1.4 0 1 0 -2.7 0M464.9 126a1.4 1.4 0 1 0 2.7 0a1.4 1.4 0 1 0 -2.7 0M468.6 134.1a1.4 1.4 0 1 0 2.7 0a1.4 1.4 0 1 0 -2.7 0M475.6 135.4a1.4 1.4 0 1 0 2.7 0a1.4 1.4 0 1 0 -2.7 0M476.1 114.7a1.4 1.4 0 1 0 2.7 0a1.4 1.4 0 1 0 -2.7 0M440.9 92.1a1.4 1.4 0 1 0 2.7 0a1.4 1.4 0 1 0 -2.7 0M488.9 131a1.4 1.4 0 1 0 2.7 0a1.4 1.4 0 1 0 -2.7 0M475.1 136.8a1.4 1.4 0 1 0 2.7 0a1.4 1.4 0 1 0 -2.7 0M442.9 106.6a1.4 1.4 0 1 0 2.7 0a1.4 1.4 0 1 0 -2.7 0M482.3 135.2a1.4 1.4 0 1 0 2.7 0a1.4 1.4 0 1 0 -2.7 0M488 133.4a1.4 1.4 0 1 0 2.7 0a1.4 1.4 0 1 0 -2.7 0M469.2 134.6a1.4 1.4 0 1 0 2.7 0a1.4 1.4 0 1 0 -2.7 0M447.8 95.5a1.4 1.4 0 1 0 2.7 0a1.4 1.4 0 1 0 -2.7 0M474.4 138.9a1.4 1.4 0 1 0 2.7 0a1.4 1.4 0 1 0 -2.7 0M493.4 146.5a1.4 1.4 0 1 0 2.7 0a1.4 1.4 0 1 0 -2.7 0M465.6 127.8a1.4 1.4 0 1 0 2.7 0a1.4 1.4 0 1 0 -2.7 0M471.2 133.9a1.4 1.4 0 1 0 2.7 0a1.4 1.4 0 1 0 -2.7 0M442.6 90.9a1.4 1.4 0 1 0 2.7 0a1.4 1.4 0 1 0 -2.7 0M437.5 100.7a1.4 1.4 0 1 0 2.7 0a1.4 1.4 0 1 0 -2.7 0M444.4 103.8a1.4 1.4 0 1 0 2.7 0a1.4 1.4 0 1 0 -2.7 0M489 149.5a1.4 1.4 0 1 0 2.7 0a1.4 1.4 0 1 0 -2.7 0M460.5 121a1.4 1.4 0 1 0 2.7 0a1.4 1.4 0 1 0 -2.7 0M466.7 129.7a1.4 1.4 0 1 0 2.7 0a1.4 1.4 0 1 0 -2.7 0M461.4 135.4a1.4 1.4 0 1 0 2.7 0a1.4 1.4 0 1 0 -2.7 0M493.4 123.3a1.4 1.4 0 1 0 2.7 0a1.4 1.4 0 1 0 -2.7 0M461.8 135.2a1.4 1.4 0 1 0 2.7 0a1.4 1.4 0 1 0 -2.7 0M444.8 89.2a1.4 1.4 0 1 0 2.7 0a1.4 1.4 0 1 0 -2.7 0M462.9 140.2a1.4 1.4 0 1 0 2.7 0a1.4 1.4 0 1 0 -2.7 0M490.7 149.1a1.4 1.4 0 1 0 2.7 0a1.4 1.4 0 1 0 -2.7 0M473.9 139.7a1.4 1.4 0 1 0 2.7 0a1.4 1.4 0 1 0 -2.7 0M477.8 129.8a1.4 1.4 0 1 0 2.7 0a1.4 1.4 0 1 0 -2.7 0M470.5 150a1.4 1.4 0 1 0 2.7 0a1.4 1.4 0 1 0 -2.7 0M475.8 116.4a1.4 1.4 0 1 0 2.7 0a1.4 1.4 0 1 0 -2.7 0M492.1 124.9a1.4 1.4 0 1 0 2.7 0a1.4 1.4 0 1 0 -2.7 0M477.9 110.9a1.4 1.4 0 1 0 2.7 0a1.4 1.4 0 1 0 -2.7 0M476.7 113.4a1.4 1.4 0 1 0 2.7 0a1.4 1.4 0 1 0 -2.7 0M459.9 130.2a1.4 1.4 0 1 0 2.7 0a1.4 1.4 0 1 0 -2.7 0M458.5 116.4a1.4 1.4 0 1 0 2.7 0a1.4 1.4 0 1 0 -2.7 0M492.4 146.1a1.4 1.4 0 1 0 2.7 0a1.4 1.4 0 1 0 -2.7 0M490.5 127.6a1.4 1.4 0 1 0 2.7 0a1.4 1.4 0 1 0 -2.7 0M467.8 131.7a1.4 1.4 0 1 0 2.7 0a1.4 1.4 0 1 0 -2.7 0M469.4 134.3a1.4 1.4 0 1 0 2.7 0a1.4 1.4 0 1 0 -2.7 0M439.1 111.5a1.4 1.4 0 1 0 2.7 0a1.4 1.4 0 1 0 -2.7 0M436.9 99.5a1.4 1.4 0 1 0 2.7 0a1.4 1.4 0 1 0 -2.7 0M461.5 134.9a1.4 1.4 0 1 0 2.7 0a1.4 1.4 0 1 0 -2.7 0M480.4 141.5a1.4 1.4 0 1 0 2.7 0a1.4 1.4 0 1 0 -2.7 0M499.3 144.8a1.4 1.4 0 1 0 2.7 0a1.4 1.4 0 1 0 -2.7 0M488.3 132.2a1.4 1.4 0 1 0 2.7 0a1.4 1.4 0 1 0 -2.7 0M497.2 144.2a1.4 1.4 0 1 0 2.7 0a1.4 1.4 0 1 0 -2.7 0M440.7 106.9a1.4 1.4 0 1 0 2.7 0a1.4 1.4 0 1 0 -2.7 0M447.6 93.9a1.4 1.4 0 1 0 2.7 0a1.4 1.4 0 1 0 -2.7 0M472.1 132.5a1.4 1.4 0 1 0 2.7 0a1.4 1.4 0 1 0 -2.7 0M479.9 118.8a1.4 1.4 0 1 0 2.7 0a1.4 1.4 0 1 0 -2.7 0M474 140.6a1.4 1.4 0 1 0 2.7 0a1.4 1.4 0 1 0 -2.7 0M494.3 145.3a1.4 1.4 0 1 0 2.7 0a1.4 1.4 0 1 0 -2.7 0M482.5 136.8a1.4 1.4 0 1 0 2.7 0a1.4 1.4 0 1 0 -2.7 0M478 130.7a1.4 1.4 0 1 0 2.7 0a1.4 1.4 0 1 0 -2.7 0M456.9 128.2a1.4 1.4 0 1 0 2.7 0a1.4 1.4 0 1 0 -2.7 0M480.9 125.9a1.4 1.4 0 1 0 2.7 0a1.4 1.4 0 1 0 -2.7 0M438.2 113.8a1.4 1.4 0 1 0 2.7 0a1.4 1.4 0 1 0 -2.7 0M439.1 111.7a1.4 1.4 0 1 0 2.7 0a1.4 1.4 0 1 0 -2.7 0M448.8 96.8a1.4 1.4 0 1 0 2.7 0a1.4 1.4 0 1 0 -2.7 0M488.8 147.9a1.4 1.4 0 1 0 2.7 0a1.4 1.4 0 1 0 -2.7 0M432.8 95.8a1.4 1.4 0 1 0 2.7 0a1.4 1.4 0 1 0 -2.7 0M444.1 104.1a1.4 1.4 0 1 0 2.7 0a1.4 1.4 0 1 0 -2.7 0M478.5 112.6a1.4 1.4 0 1 0 2.7 0a1.4 1.4 0 1 0 -2.7 0M491.4 148a1.4 1.4 0 1 0 2.7 0a1.4 1.4 0 1 0 -2.7 0M486.8 149.5a1.4 1.4 0 1 0 2.7 0a1.4 1.4 0 1 0 -2.7 0M454.8 108a1.4 1.4 0 1 0 2.7 0a1.4 1.4 0 1 0 -2.7 0M491.2 146.5a1.4 1.4 0 1 0 2.7 0a1.4 1.4 0 1 0 -2.7 0M443.9 105.3a1.4 1.4 0 1 0 2.7 0a1.4 1.4 0 1 0 -2.7 0M510.2 105.1a1.4 1.4 0 1 0 2.7 0a1.4 1.4 0 1 0 -2.7 0M505.8 107.2a1.4 1.4 0 1 0 2.7 0a1.4 1.4 0 1 0 -2.7 0M508.2 106.6a1.4 1.4 0 1 0 2.7 0a1.4 1.4 0 1 0 -2.7 0M503.6 85.8a1.4 1.4 0 1 0 2.7 0a1.4 1.4 0 1 0 -2.7 0M509.3 106.7a1.4 1.4 0 1 0 2.7 0a1.4 1.4 0 1 0 -2.7 0M503 106.8a1.4 1.4 0 1 0 2.7 0a1.4 1.4 0 1 0 -2.7 0M505.2 105.9a1.4 1.4 0 1 0 2.7 0a1.4 1.4 0 1 0 -2.7 0M505.7 84a1.4 1.4 0 1 0 2.7 0a1.4 1.4 0 1 0 -2.7 0M503.4 86.3a1.4 1.4 0 1 0 2.7 0a1.4 1.4 0 1 0 -2.7 0M504.9 84.4a1.4 1.4 0 1 0 2.7 0a1.4 1.4 0 1 0 -2.7 0M502.2 84.1a1.4 1.4 0 1 0 2.7 0a1.4 1.4 0 1 0 -2.7 0M499.7 106.1a1.4 1.4 0 1 0 2.7 0a1.4 1.4 0 1 0 -2.7 0M504.6 105.8a1.4 1.4 0 1 0 2.7 0a1.4 1.4 0 1 0 -2.7 0M114.2 122.5a1.4 1.4 0 1 0 2.7 0a1.4 1.4 0 1 0 -2.7 0M470.1 158a1.4 1.4 0 1 0 2.7 0a1.4 1.4 0 1 0 -2.7 0M469.6 162a1.4 1.4 0 1 0 2.7 0a1.4 1.4 0 1 0 -2.7 0M469.9 165a1.4 1.4 0 1 0 2.7 0a1.4 1.4 0 1 0 -2.7 0M499.8 114.7a1.4 1.4 0 1 0 2.7 0a1.4 1.4 0 1 0 -2.7 0M326 62.6a1.4 1.4 0 1 0 2.7 0a1.4 1.4 0 1 0 -2.7 0M326 72a1.4 1.4 0 1 0 2.7 0a1.4 1.4 0 1 0 -2.7 0M428.2 66a1.4 1.4 0 1 0 2.7 0a1.4 1.4 0 1 0 -2.7 0M428.4 70a1.4 1.4 0 1 0 2.7 0a1.4 1.4 0 1 0 -2.7 0M428.6 74a1.4 1.4 0 1 0 2.7 0a1.4 1.4 0 1 0 -2.7 0M428.8 78a1.4 1.4 0 1 0 2.7 0a1.4 1.4 0 1 0 -2.7 0M429 82a1.4 1.4 0 1 0 2.7 0a1.4 1.4 0 1 0 -2.7 0M429.2 86a1.4 1.4 0 1 0 2.7 0a1.4 1.4 0 1 0 -2.7 0M429.4 89.5a1.4 1.4 0 1 0 2.7 0a1.4 1.4 0 1 0 -2.7 0M428 62a1.4 1.4 0 1 0 2.7 0a1.4 1.4 0 1 0 -2.7 0" fill="#b6b7ac"/>
<path d="M80.7 195.4a1.7 1.7 0 1 0 3.4 0a1.7 1.7 0 1 0 -3.4 0M80.9 201.9a1.7 1.7 0 1 0 3.4 0a1.7 1.7 0 1 0 -3.4 0M80.8 211a1.7 1.7 0 1 0 3.4 0a1.7 1.7 0 1 0 -3.4 0M80.7 193.2a1.7 1.7 0 1 0 3.4 0a1.7 1.7 0 1 0 -3.4 0M81.6 197.6a1.7 1.7 0 1 0 3.4 0a1.7 1.7 0 1 0 -3.4 0M81.5 190.5a1.7 1.7 0 1 0 3.4 0a1.7 1.7 0 1 0 -3.4 0M81.9 194.9a1.7 1.7 0 1 0 3.4 0a1.7 1.7 0 1 0 -3.4 0M81.5 201.3a1.7 1.7 0 1 0 3.4 0a1.7 1.7 0 1 0 -3.4 0M82.4 192.7a1.7 1.7 0 1 0 3.4 0a1.7 1.7 0 1 0 -3.4 0M82.7 198.1a1.7 1.7 0 1 0 3.4 0a1.7 1.7 0 1 0 -3.4 0M82.3 194.4a1.7 1.7 0 1 0 3.4 0a1.7 1.7 0 1 0 -3.4 0M82.3 180.6a1.7 1.7 0 1 0 3.4 0a1.7 1.7 0 1 0 -3.4 0M83.2 197.8a1.7 1.7 0 1 0 3.4 0a1.7 1.7 0 1 0 -3.4 0M83.5 197.9a1.7 1.7 0 1 0 3.4 0a1.7 1.7 0 1 0 -3.4 0M83.5 196.2a1.7 1.7 0 1 0 3.4 0a1.7 1.7 0 1 0 -3.4 0M83.4 200.3a1.7 1.7 0 1 0 3.4 0a1.7 1.7 0 1 0 -3.4 0M84 206.2a1.7 1.7 0 1 0 3.4 0a1.7 1.7 0 1 0 -3.4 0M84.2 196.6a1.7 1.7 0 1 0 3.4 0a1.7 1.7 0 1 0 -3.4 0M84.1 190.6a1.7 1.7 0 1 0 3.4 0a1.7 1.7 0 1 0 -3.4 0M83.9 191.9a1.7 1.7 0 1 0 3.4 0a1.7 1.7 0 1 0 -3.4 0M85.1 201.2a1.7 1.7 0 1 0 3.4 0a1.7 1.7 0 1 0 -3.4 0M84.8 199.6a1.7 1.7 0 1 0 3.4 0a1.7 1.7 0 1 0 -3.4 0M84.7 206.8a1.7 1.7 0 1 0 3.4 0a1.7 1.7 0 1 0 -3.4 0M85.1 201.6a1.7 1.7 0 1 0 3.4 0a1.7 1.7 0 1 0 -3.4 0M85.7 184.2a1.7 1.7 0 1 0 3.4 0a1.7 1.7 0 1 0 -3.4 0M85.6 189.7a1.7 1.7 0 1 0 3.4 0a1.7 1.7 0 1 0 -3.4 0M85.6 190.3a1.7 1.7 0 1 0 3.4 0a1.7 1.7 0 1 0 -3.4 0M85.6 182.7a1.7 1.7 0 1 0 3.4 0a1.7 1.7 0 1 0 -3.4 0M86.5 190.3a1.7 1.7 0 1 0 3.4 0a1.7 1.7 0 1 0 -3.4 0M86.3 206.4a1.7 1.7 0 1 0 3.4 0a1.7 1.7 0 1 0 -3.4 0M86.5 185.7a1.7 1.7 0 1 0 3.4 0a1.7 1.7 0 1 0 -3.4 0M86.7 182.5a1.7 1.7 0 1 0 3.4 0a1.7 1.7 0 1 0 -3.4 0M87.1 197.2a1.7 1.7 0 1 0 3.4 0a1.7 1.7 0 1 0 -3.4 0M87.3 191.1a1.7 1.7 0 1 0 3.4 0a1.7 1.7 0 1 0 -3.4 0M87.1 201.5a1.7 1.7 0 1 0 3.4 0a1.7 1.7 0 1 0 -3.4 0M87.1 188.6a1.7 1.7 0 1 0 3.4 0a1.7 1.7 0 1 0 -3.4 0M87.9 200.1a1.7 1.7 0 1 0 3.4 0a1.7 1.7 0 1 0 -3.4 0M88.3 191.5a1.7 1.7 0 1 0 3.4 0a1.7 1.7 0 1 0 -3.4 0M88.2 183.4a1.7 1.7 0 1 0 3.4 0a1.7 1.7 0 1 0 -3.4 0M88 198.7a1.7 1.7 0 1 0 3.4 0a1.7 1.7 0 1 0 -3.4 0M89 197.5a1.7 1.7 0 1 0 3.4 0a1.7 1.7 0 1 0 -3.4 0M89.1 196.4a1.7 1.7 0 1 0 3.4 0a1.7 1.7 0 1 0 -3.4 0M88.9 177.8a1.7 1.7 0 1 0 3.4 0a1.7 1.7 0 1 0 -3.4 0M89 196.8a1.7 1.7 0 1 0 3.4 0a1.7 1.7 0 1 0 -3.4 0M88.8 188.9a1.7 1.7 0 1 0 3.4 0a1.7 1.7 0 1 0 -3.4 0M89.8 195.7a1.7 1.7 0 1 0 3.4 0a1.7 1.7 0 1 0 -3.4 0M89.6 193.6a1.7 1.7 0 1 0 3.4 0a1.7 1.7 0 1 0 -3.4 0M89.5 189.1a1.7 1.7 0 1 0 3.4 0a1.7 1.7 0 1 0 -3.4 0M89.9 188.1a1.7 1.7 0 1 0 3.4 0a1.7 1.7 0 1 0 -3.4 0M90.4 199.3a1.7 1.7 0 1 0 3.4 0a1.7 1.7 0 1 0 -3.4 0M90.7 194a1.7 1.7 0 1 0 3.4 0a1.7 1.7 0 1 0 -3.4 0M90.5 197a1.7 1.7 0 1 0 3.4 0a1.7 1.7 0 1 0 -3.4 0M90.7 192.2a1.7 1.7 0 1 0 3.4 0a1.7 1.7 0 1 0 -3.4 0M91.5 201.3a1.7 1.7 0 1 0 3.4 0a1.7 1.7 0 1 0 -3.4 0M91.5 199.2a1.7 1.7 0 1 0 3.4 0a1.7 1.7 0 1 0 -3.4 0M91.1 188.8a1.7 1.7 0 1 0 3.4 0a1.7 1.7 0 1 0 -3.4 0M91.1 192a1.7 1.7 0 1 0 3.4 0a1.7 1.7 0 1 0 -3.4 0M91.9 186.9a1.7 1.7 0 1 0 3.4 0a1.7 1.7 0 1 0 -3.4 0M91.9 181.4a1.7 1.7 0 1 0 3.4 0a1.7 1.7 0 1 0 -3.4 0M92.3 200.4a1.7 1.7 0 1 0 3.4 0a1.7 1.7 0 1 0 -3.4 0M91.9 189.9a1.7 1.7 0 1 0 3.4 0a1.7 1.7 0 1 0 -3.4 0M91.9 199.7a1.7 1.7 0 1 0 3.4 0a1.7 1.7 0 1 0 -3.4 0M92.9 189.6a1.7 1.7 0 1 0 3.4 0a1.7 1.7 0 1 0 -3.4 0M92.8 189.4a1.7 1.7 0 1 0 3.4 0a1.7 1.7 0 1 0 -3.4 0M92.7 185.3a1.7 1.7 0 1 0 3.4 0a1.7 1.7 0 1 0 -3.4 0M92.7 188.9a1.7 1.7 0 1 0 3.4 0a1.7 1.7 0 1 0 -3.4 0M93.8 185.1a1.7 1.7 0 1 0 3.4 0a1.7 1.7 0 1 0 -3.4 0M93.7 188.2a1.7 1.7 0 1 0 3.4 0a1.7 1.7 0 1 0 -3.4 0M93.6 191.8a1.7 1.7 0 1 0 3.4 0a1.7 1.7 0 1 0 -3.4 0M93.8 204a1.7 1.7 0 1 0 3.4 0a1.7 1.7 0 1 0 -3.4 0M93.5 187.9a1.7 1.7 0 1 0 3.4 0a1.7 1.7 0 1 0 -3.4 0M94.5 190.1a1.7 1.7 0 1 0 3.4 0a1.7 1.7 0 1 0 -3.4 0M94.4 197.2a1.7 1.7 0 1 0 3.4 0a1.7 1.7 0 1 0 -3.4 0M94.5 188.3a1.7 1.7 0 1 0 3.4 0a1.7 1.7 0 1 0 -3.4 0M94.6 200.2a1.7 1.7 0 1 0 3.4 0a1.7 1.7 0 1 0 -3.4 0M95.2 185.8a1.7 1.7 0 1 0 3.4 0a1.7 1.7 0 1 0 -3.4 0M95.5 182.4a1.7 1.7 0 1 0 3.4 0a1.7 1.7 0 1 0 -3.4 0M95.1 191.3a1.7 1.7 0 1 0 3.4 0a1.7 1.7 0 1 0 -3.4 0M95.1 176.3a1.7 1.7 0 1 0 3.4 0a1.7 1.7 0 1 0 -3.4 0M96 177.8a1.7 1.7 0 1 0 3.4 0a1.7 1.7 0 1 0 -3.4 0M95.9 195.7a1.7 1.7 0 1 0 3.4 0a1.7 1.7 0 1 0 -3.4 0M96.3 202.5a1.7 1.7 0 1 0 3.4 0a1.7 1.7 0 1 0 -3.4 0M96.2 182.6a1.7 1.7 0 1 0 3.4 0a1.7 1.7 0 1 0 -3.4 0M97.1 201.2a1.7 1.7 0 1 0 3.4 0a1.7 1.7 0 1 0 -3.4 0M97 189.9a1.7 1.7 0 1 0 3.4 0a1.7 1.7 0 1 0 -3.4 0M97.1 179.2a1.7 1.7 0 1 0 3.4 0a1.7 1.7 0 1 0 -3.4 0M97 185.2a1.7 1.7 0 1 0 3.4 0a1.7 1.7 0 1 0 -3.4 0M97.7 177.9a1.7 1.7 0 1 0 3.4 0a1.7 1.7 0 1 0 -3.4 0M97.8 180a1.7 1.7 0 1 0 3.4 0a1.7 1.7 0 1 0 -3.4 0M97.6 192.2a1.7 1.7 0 1 0 3.4 0a1.7 1.7 0 1 0 -3.4 0M97.6 190.2a1.7 1.7 0 1 0 3.4 0a1.7 1.7 0 1 0 -3.4 0M98.5 178.6a1.7 1.7 0 1 0 3.4 0a1.7 1.7 0 1 0 -3.4 0M98.3 189.7a1.7 1.7 0 1 0 3.4 0a1.7 1.7 0 1 0 -3.4 0M98.5 179a1.7 1.7 0 1 0 3.4 0a1.7 1.7 0 1 0 -3.4 0M98.4 188.1a1.7 1.7 0 1 0 3.4 0a1.7 1.7 0 1 0 -3.4 0M99.5 190.8a1.7 1.7 0 1 0 3.4 0a1.7 1.7 0 1 0 -3.4 0M99.5 186.4a1.7 1.7 0 1 0 3.4 0a1.7 1.7 0 1 0 -3.4 0M99.5 183.8a1.7 1.7 0 1 0 3.4 0a1.7 1.7 0 1 0 -3.4 0M99.1 181.1a1.7 1.7 0 1 0 3.4 0a1.7 1.7 0 1 0 -3.4 0M100.1 182.1a1.7 1.7 0 1 0 3.4 0a1.7 1.7 0 1 0 -3.4 0M99.9 162.6a1.7 1.7 0 1 0 3.4 0a1.7 1.7 0 1 0 -3.4 0M100.1 192.3a1.7 1.7 0 1 0 3.4 0a1.7 1.7 0 1 0 -3.4 0M100.2 179.1a1.7 1.7 0 1 0 3.4 0a1.7 1.7 0 1 0 -3.4 0M100.9 174.5a1.7 1.7 0 1 0 3.4 0a1.7 1.7 0 1 0 -3.4 0M100.8 171.4a1.7 1.7 0 1 0 3.4 0a1.7 1.7 0 1 0 -3.4 0M100.8 183.2a1.7 1.7 0 1 0 3.4 0a1.7 1.7 0 1 0 -3.4 0M100.7 182.4a1.7 1.7 0 1 0 3.4 0a1.7 1.7 0 1 0 -3.4 0M101.6 187.3a1.7 1.7 0 1 0 3.4 0a1.7 1.7 0 1 0 -3.4 0M101.5 170.1a1.7 1.7 0 1 0 3.4 0a1.7 1.7 0 1 0 -3.4 0M101.7 168.9a1.7 1.7 0 1 0 3.4 0a1.7 1.7 0 1 0 -3.4 0M101.8 177a1.7 1.7 0 1 0 3.4 0a1.7 1.7 0 1 0 -3.4 0M102.6 180a1.7 1.7 0 1 0 3.4 0a1.7 1.7 0 1 0 -3.4 0M102.5 171.7a1.7 1.7 0 1 0 3.4 0a1.7 1.7 0 1 0 -3.4 0M102.4 169.3a1.7 1.7 0 1 0 3.4 0a1.7 1.7 0 1 0 -3.4 0M102.7 184.7a1.7 1.7 0 1 0 3.4 0a1.7 1.7 0 1 0 -3.4 0M103.4 194.6a1.7 1.7 0 1 0 3.4 0a1.7 1.7 0 1 0 -3.4 0M103.1 179a1.7 1.7 0 1 0 3.4 0a1.7 1.7 0 1 0 -3.4 0M103.3 172.6a1.7 1.7 0 1 0 3.4 0a1.7 1.7 0 1 0 -3.4 0M103.4 187.2a1.7 1.7 0 1 0 3.4 0a1.7 1.7 0 1 0 -3.4 0M104.3 180.7a1.7 1.7 0 1 0 3.4 0a1.7 1.7 0 1 0 -3.4 0M104.1 184.5a1.7 1.7 0 1 0 3.4 0a1.7 1.7 0 1 0 -3.4 0M104.1 174.9a1.7 1.7 0 1 0 3.4 0a1.7 1.7 0 1 0 -3.4 0M104.2 178.5a1.7 1.7 0 1 0 3.4 0a1.7 1.7 0 1 0 -3.4 0M104.9 173.6a1.7 1.7 0 1 0 3.4 0a1.7 1.7 0 1 0 -3.4 0M105 186.8a1.7 1.7 0 1 0 3.4 0a1.7 1.7 0 1 0 -3.4 0M105.1 186.2a1.7 1.7 0 1 0 3.4 0a1.7 1.7 0 1 0 -3.4 0M104.7 180.1a1.7 1.7 0 1 0 3.4 0a1.7 1.7 0 1 0 -3.4 0M105.8 172.7a1.7 1.7 0 1 0 3.4 0a1.7 1.7 0 1 0 -3.4 0M105.5 178.2a1.7 1.7 0 1 0 3.4 0a1.7 1.7 0 1 0 -3.4 0M105.9 174.9a1.7 1.7 0 1 0 3.4 0a1.7 1.7 0 1 0 -3.4 0M105.9 184.5a1.7 1.7 0 1 0 3.4 0a1.7 1.7 0 1 0 -3.4 0M106.7 186.4a1.7 1.7 0 1 0 3.4 0a1.7 1.7 0 1 0 -3.4 0M106.4 179.6a1.7 1.7 0 1 0 3.4 0a1.7 1.7 0 1 0 -3.4 0M106.5 186.1a1.7 1.7 0 1 0 3.4 0a1.7 1.7 0 1 0 -3.4 0M106.5 186.7a1.7 1.7 0 1 0 3.4 0a1.7 1.7 0 1 0 -3.4 0M106.7 183.5a1.7 1.7 0 1 0 3.4 0a1.7 1.7 0 1 0 -3.4 0M107.2 189.8a1.7 1.7 0 1 0 3.4 0a1.7 1.7 0 1 0 -3.4 0M107.3 184.9a1.7 1.7 0 1 0 3.4 0a1.7 1.7 0 1 0 -3.4 0M107.3 174.8a1.7 1.7 0 1 0 3.4 0a1.7 1.7 0 1 0 -3.4 0M107.5 191.2a1.7 1.7 0 1 0 3.4 0a1.7 1.7 0 1 0 -3.4 0M108 176.7a1.7 1.7 0 1 0 3.4 0a1.7 1.7 0 1 0 -3.4 0M108 181.8a1.7 1.7 0 1 0 3.4 0a1.7 1.7 0 1 0 -3.4 0M108.2 180.8a1.7 1.7 0 1 0 3.4 0a1.7 1.7 0 1 0 -3.4 0M108.1 193a1.7 1.7 0 1 0 3.4 0a1.7 1.7 0 1 0 -3.4 0M108.3 158.8a1.7 1.7 0 1 0 3.4 0a1.7 1.7 0 1 0 -3.4 0M109 193.4a1.7 1.7 0 1 0 3.4 0a1.7 1.7 0 1 0 -3.4 0M109.1 192.4a1.7 1.7 0 1 0 3.4 0a1.7 1.7 0 1 0 -3.4 0M109.1 188.4a1.7 1.7 0 1 0 3.4 0a1.7 1.7 0 1 0 -3.4 0M109.1 174.9a1.7 1.7 0 1 0 3.4 0a1.7 1.7 0 1 0 -3.4 0M109.6 185.4a1.7 1.7 0 1 0 3.4 0a1.7 1.7 0 1 0 -3.4 0M109.5 192.8a1.7 1.7 0 1 0 3.4 0a1.7 1.7 0 1 0 -3.4 0M109.5 183a1.7 1.7 0 1 0 3.4 0a1.7 1.7 0 1 0 -3.4 0M109.9 177.7a1.7 1.7 0 1 0 3.4 0a1.7 1.7 0 1 0 -3.4 0M110.6 191.6a1.7 1.7 0 1 0 3.4 0a1.7 1.7 0 1 0 -3.4 0M110.3 185.7a1.7 1.7 0 1 0 3.4 0a1.7 1.7 0 1 0 -3.4 0M110.4 184.7a1.7 1.7 0 1 0 3.4 0a1.7 1.7 0 1 0 -3.4 0M110.5 183.2a1.7 1.7 0 1 0 3.4 0a1.7 1.7 0 1 0 -3.4 0M111.2 195.1a1.7 1.7 0 1 0 3.4 0a1.7 1.7 0 1 0 -3.4 0M111.1 193a1.7 1.7 0 1 0 3.4 0a1.7 1.7 0 1 0 -3.4 0M111.1 170.2a1.7 1.7 0 1 0 3.4 0a1.7 1.7 0 1 0 -3.4 0M111.4 190.5a1.7 1.7 0 1 0 3.4 0a1.7 1.7 0 1 0 -3.4 0M112.2 197a1.7 1.7 0 1 0 3.4 0a1.7 1.7 0 1 0 -3.4 0M112.2 207.3a1.7 1.7 0 1 0 3.4 0a1.7 1.7 0 1 0 -3.4 0M112.3 197.2a1.7 1.7 0 1 0 3.4 0a1.7 1.7 0 1 0 -3.4 0M112.3 183.9a1.7 1.7 0 1 0 3.4 0a1.7 1.7 0 1 0 -3.4 0M112.9 189.1a1.7 1.7 0 1 0 3.4 0a1.7 1.7 0 1 0 -3.4 0M112.7 176.8a1.7 1.7 0 1 0 3.4 0a1.7 1.7 0 1 0 -3.4 0M112.9 192.5a1.7 1.7 0 1 0 3.4 0a1.7 1.7 0 1 0 -3.4 0M112.7 187.9a1.7 1.7 0 1 0 3.4 0a1.7 1.7 0 1 0 -3.4 0M113.9 217.2a1.7 1.7 0 1 0 3.4 0a1.7 1.7 0 1 0 -3.4 0M113.7 196a1.7 1.7 0 1 0 3.4 0a1.7 1.7 0 1 0 -3.4 0M113.8 187.7a1.7 1.7 0 1 0 3.4 0a1.7 1.7 0 1 0 -3.4 0M113.6 185.7a1.7 1.7 0 1 0 3.4 0a1.7 1.7 0 1 0 -3.4 0M114.6 190.4a1.7 1.7 0 1 0 3.4 0a1.7 1.7 0 1 0 -3.4 0M114.3 186.7a1.7 1.7 0 1 0 3.4 0a1.7 1.7 0 1 0 -3.4 0M114.6 187.8a1.7 1.7 0 1 0 3.4 0a1.7 1.7 0 1 0 -3.4 0M114.5 204.4a1.7 1.7 0 1 0 3.4 0a1.7 1.7 0 1 0 -3.4 0M115.1 189.8a1.7 1.7 0 1 0 3.4 0a1.7 1.7 0 1 0 -3.4 0M115.2 181.2a1.7 1.7 0 1 0 3.4 0a1.7 1.7 0 1 0 -3.4 0M115.1 194.9a1.7 1.7 0 1 0 3.4 0a1.7 1.7 0 1 0 -3.4 0M115.2 195.3a1.7 1.7 0 1 0 3.4 0a1.7 1.7 0 1 0 -3.4 0M115.9 175.9a1.7 1.7 0 1 0 3.4 0a1.7 1.7 0 1 0 -3.4 0M115.9 170.8a1.7 1.7 0 1 0 3.4 0a1.7 1.7 0 1 0 -3.4 0M116.1 186.9a1.7 1.7 0 1 0 3.4 0a1.7 1.7 0 1 0 -3.4 0M116.1 180.4a1.7 1.7 0 1 0 3.4 0a1.7 1.7 0 1 0 -3.4 0M116.1 186.5a1.7 1.7 0 1 0 3.4 0a1.7 1.7 0 1 0 -3.4 0M116.8 191a1.7 1.7 0 1 0 3.4 0a1.7 1.7 0 1 0 -3.4 0M116.7 180.3a1.7 1.7 0 1 0 3.4 0a1.7 1.7 0 1 0 -3.4 0M116.9 187.7a1.7 1.7 0 1 0 3.4 0a1.7 1.7 0 1 0 -3.4 0M116.8 177.5a1.7 1.7 0 1 0 3.4 0a1.7 1.7 0 1 0 -3.4 0M116.7 185.6a1.7 1.7 0 1 0 3.4 0a1.7 1.7 0 1 0 -3.4 0M117.6 186.1a1.7 1.7 0 1 0 3.4 0a1.7 1.7 0 1 0 -3.4 0M117.5 180.4a1.7 1.7 0 1 0 3.4 0a1.7 1.7 0 1 0 -3.4 0M117.8 181.8a1.7 1.7 0 1 0 3.4 0a1.7 1.7 0 1 0 -3.4 0M117.5 184.9a1.7 1.7 0 1 0 3.4 0a1.7 1.7 0 1 0 -3.4 0M118.6 191.7a1.7 1.7 0 1 0 3.4 0a1.7 1.7 0 1 0 -3.4 0M118.7 176.1a1.7 1.7 0 1 0 3.4 0a1.7 1.7 0 1 0 -3.4 0M118.7 202.6a1.7 1.7 0 1 0 3.4 0a1.7 1.7 0 1 0 -3.4 0M118.7 171.1a1.7 1.7 0 1 0 3.4 0a1.7 1.7 0 1 0 -3.4 0M118.4 186.6a1.7 1.7 0 1 0 3.4 0a1.7 1.7 0 1 0 -3.4 0M119.1 179.8a1.7 1.7 0 1 0 3.4 0a1.7 1.7 0 1 0 -3.4 0M119.2 184.7a1.7 1.7 0 1 0 3.4 0a1.7 1.7 0 1 0 -3.4 0M119.5 192.7a1.7 1.7 0 1 0 3.4 0a1.7 1.7 0 1 0 -3.4 0M119.3 181.3a1.7 1.7 0 1 0 3.4 0a1.7 1.7 0 1 0 -3.4 0M120.2 177a1.7 1.7 0 1 0 3.4 0a1.7 1.7 0 1 0 -3.4 0M120.3 176.4a1.7 1.7 0 1 0 3.4 0a1.7 1.7 0 1 0 -3.4 0M119.9 179.2a1.7 1.7 0 1 0 3.4 0a1.7 1.7 0 1 0 -3.4 0M120.3 173.7a1.7 1.7 0 1 0 3.4 0a1.7 1.7 0 1 0 -3.4 0M120.7 186.3a1.7 1.7 0 1 0 3.4 0a1.7 1.7 0 1 0 -3.4 0M121 164.8a1.7 1.7 0 1 0 3.4 0a1.7 1.7 0 1 0 -3.4 0M121.1 172.4a1.7 1.7 0 1 0 3.4 0a1.7 1.7 0 1 0 -3.4 0M121 174.6a1.7 1.7 0 1 0 3.4 0a1.7 1.7 0 1 0 -3.4 0M121.9 145.5a1.7 1.7 0 1 0 3.4 0a1.7 1.7 0 1 0 -3.4 0M121.9 173.7a1.7 1.7 0 1 0 3.4 0a1.7 1.7 0 1 0 -3.4 0M121.6 180a1.7 1.7 0 1 0 3.4 0a1.7 1.7 0 1 0 -3.4 0M121.7 173.2a1.7 1.7 0 1 0 3.4 0a1.7 1.7 0 1 0 -3.4 0M122.7 171.4a1.7 1.7 0 1 0 3.4 0a1.7 1.7 0 1 0 -3.4 0M122.6 166a1.7 1.7 0 1 0 3.4 0a1.7 1.7 0 1 0 -3.4 0M122.6 187.2a1.7 1.7 0 1 0 3.4 0a1.7 1.7 0 1 0 -3.4 0M122.3 171.8a1.7 1.7 0 1 0 3.4 0a1.7 1.7 0 1 0 -3.4 0M123.2 164.1a1.7 1.7 0 1 0 3.4 0a1.7 1.7 0 1 0 -3.4 0M123.1 167.8a1.7 1.7 0 1 0 3.4 0a1.7 1.7 0 1 0 -3.4 0M123.1 184.2a1.7 1.7 0 1 0 3.4 0a1.7 1.7 0 1 0 -3.4 0M123.4 182.1a1.7 1.7 0 1 0 3.4 0a1.7 1.7 0 1 0 -3.4 0M124 165.5a1.7 1.7 0 1 0 3.4 0a1.7 1.7 0 1 0 -3.4 0M124 193.6a1.7 1.7 0 1 0 3.4 0a1.7 1.7 0 1 0 -3.4 0M124 171.1a1.7 1.7 0 1 0 3.4 0a1.7 1.7 0 1 0 -3.4 0M124.3 159.1a1.7 1.7 0 1 0 3.4 0a1.7 1.7 0 1 0 -3.4 0M124.7 173.9a1.7 1.7 0 1 0 3.4 0a1.7 1.7 0 1 0 -3.4 0M125.1 167.4a1.7 1.7 0 1 0 3.4 0a1.7 1.7 0 1 0 -3.4 0M124.8 178.9a1.7 1.7 0 1 0 3.4 0a1.7 1.7 0 1 0 -3.4 0M124.8 165.9a1.7 1.7 0 1 0 3.4 0a1.7 1.7 0 1 0 -3.4 0M125.7 174.5a1.7 1.7 0 1 0 3.4 0a1.7 1.7 0 1 0 -3.4 0M125.5 170.2a1.7 1.7 0 1 0 3.4 0a1.7 1.7 0 1 0 -3.4 0M125.5 177.9a1.7 1.7 0 1 0 3.4 0a1.7 1.7 0 1 0 -3.4 0M125.9 184.3a1.7 1.7 0 1 0 3.4 0a1.7 1.7 0 1 0 -3.4 0M126.3 156.7a1.7 1.7 0 1 0 3.4 0a1.7 1.7 0 1 0 -3.4 0M126.4 164.8a1.7 1.7 0 1 0 3.4 0a1.7 1.7 0 1 0 -3.4 0M126.7 167.4a1.7 1.7 0 1 0 3.4 0a1.7 1.7 0 1 0 -3.4 0M126.5 166.7a1.7 1.7 0 1 0 3.4 0a1.7 1.7 0 1 0 -3.4 0M127.4 163.5a1.7 1.7 0 1 0 3.4 0a1.7 1.7 0 1 0 -3.4 0M127.4 163.1a1.7 1.7 0 1 0 3.4 0a1.7 1.7 0 1 0 -3.4 0M127.3 144a1.7 1.7 0 1 0 3.4 0a1.7 1.7 0 1 0 -3.4 0M127.5 181.6a1.7 1.7 0 1 0 3.4 0a1.7 1.7 0 1 0 -3.4 0M128.1 167.1a1.7 1.7 0 1 0 3.4 0a1.7 1.7 0 1 0 -3.4 0M128.2 138.6a1.7 1.7 0 1 0 3.4 0a1.7 1.7 0 1 0 -3.4 0M128 177.9a1.7 1.7 0 1 0 3.4 0a1.7 1.7 0 1 0 -3.4 0M127.9 179.8a1.7 1.7 0 1 0 3.4 0a1.7 1.7 0 1 0 -3.4 0M128.7 157.6a1.7 1.7 0 1 0 3.4 0a1.7 1.7 0 1 0 -3.4 0M128.8 173.1a1.7 1.7 0 1 0 3.4 0a1.7 1.7 0 1 0 -3.4 0M128.8 159.4a1.7 1.7 0 1 0 3.4 0a1.7 1.7 0 1 0 -3.4 0M129 163.9a1.7 1.7 0 1 0 3.4 0a1.7 1.7 0 1 0 -3.4 0M129.6 175.3a1.7 1.7 0 1 0 3.4 0a1.7 1.7 0 1 0 -3.4 0M129.6 162.7a1.7 1.7 0 1 0 3.4 0a1.7 1.7 0 1 0 -3.4 0M129.7 170.4a1.7 1.7 0 1 0 3.4 0a1.7 1.7 0 1 0 -3.4 0M129.5 154.6a1.7 1.7 0 1 0 3.4 0a1.7 1.7 0 1 0 -3.4 0M130.3 163.9a1.7 1.7 0 1 0 3.4 0a1.7 1.7 0 1 0 -3.4 0M130.3 160.1a1.7 1.7 0 1 0 3.4 0a1.7 1.7 0 1 0 -3.4 0M130.4 180.9a1.7 1.7 0 1 0 3.4 0a1.7 1.7 0 1 0 -3.4 0M130.4 160.5a1.7 1.7 0 1 0 3.4 0a1.7 1.7 0 1 0 -3.4 0M131.2 160a1.7 1.7 0 1 0 3.4 0a1.7 1.7 0 1 0 -3.4 0M131.2 164.2a1.7 1.7 0 1 0 3.4 0a1.7 1.7 0 1 0 -3.4 0M131.5 162.2a1.7 1.7 0 1 0 3.4 0a1.7 1.7 0 1 0 -3.4 0M131.3 167.5a1.7 1.7 0 1 0 3.4 0a1.7 1.7 0 1 0 -3.4 0M132.2 160.2a1.7 1.7 0 1 0 3.4 0a1.7 1.7 0 1 0 -3.4 0M132.1 165.5a1.7 1.7 0 1 0 3.4 0a1.7 1.7 0 1 0 -3.4 0M132.2 161.9a1.7 1.7 0 1 0 3.4 0a1.7 1.7 0 1 0 -3.4 0M132.3 156.2a1.7 1.7 0 1 0 3.4 0a1.7 1.7 0 1 0 -3.4 0M133 159.4a1.7 1.7 0 1 0 3.4 0a1.7 1.7 0 1 0 -3.4 0M133.1 172.3a1.7 1.7 0 1 0 3.4 0a1.7 1.7 0 1 0 -3.4 0M132.8 165.9a1.7 1.7 0 1 0 3.4 0a1.7 1.7 0 1 0 -3.4 0M132.7 159.2a1.7 1.7 0 1 0 3.4 0a1.7 1.7 0 1 0 -3.4 0M133.8 139.2a1.7 1.7 0 1 0 3.4 0a1.7 1.7 0 1 0 -3.4 0M133.6 166.4a1.7 1.7 0 1 0 3.4 0a1.7 1.7 0 1 0 -3.4 0M133.9 153.5a1.7 1.7 0 1 0 3.4 0a1.7 1.7 0 1 0 -3.4 0M133.6 152.3a1.7 1.7 0 1 0 3.4 0a1.7 1.7 0 1 0 -3.4 0M134.4 151.5a1.7 1.7 0 1 0 3.4 0a1.7 1.7 0 1 0 -3.4 0M134.3 168.7a1.7 1.7 0 1 0 3.4 0a1.7 1.7 0 1 0 -3.4 0M134.5 151.2a1.7 1.7 0 1 0 3.4 0a1.7 1.7 0 1 0 -3.4 0M134.3 159.6a1.7 1.7 0 1 0 3.4 0a1.7 1.7 0 1 0 -3.4 0M135.3 148.9a1.7 1.7 0 1 0 3.4 0a1.7 1.7 0 1 0 -3.4 0M135.3 162.2a1.7 1.7 0 1 0 3.4 0a1.7 1.7 0 1 0 -3.4 0M135.3 160.4a1.7 1.7 0 1 0 3.4 0a1.7 1.7 0 1 0 -3.4 0M135.5 175.5a1.7 1.7 0 1 0 3.4 0a1.7 1.7 0 1 0 -3.4 0M135.4 162.6a1.7 1.7 0 1 0 3.4 0a1.7 1.7 0 1 0 -3.4 0M136.2 155.5a1.7 1.7 0 1 0 3.4 0a1.7 1.7 0 1 0 -3.4 0M136.2 166.1a1.7 1.7 0 1 0 3.4 0a1.7 1.7 0 1 0 -3.4 0M136.2 161a1.7 1.7 0 1 0 3.4 0a1.7 1.7 0 1 0 -3.4 0M136 171.7a1.7 1.7 0 1 0 3.4 0a1.7 1.7 0 1 0 -3.4 0M136.8 168.1a1.7 1.7 0 1 0 3.4 0a1.7 1.7 0 1 0 -3.4 0M136.7 155.9a1.7 1.7 0 1 0 3.4 0a1.7 1.7 0 1 0 -3.4 0M136.8 147.8a1.7 1.7 0 1 0 3.4 0a1.7 1.7 0 1 0 -3.4 0M136.7 170.6a1.7 1.7 0 1 0 3.4 0a1.7 1.7 0 1 0 -3.4 0M137.5 159.8a1.7 1.7 0 1 0 3.4 0a1.7 1.7 0 1 0 -3.4 0M137.5 156.8a1.7 1.7 0 1 0 3.4 0a1.7 1.7 0 1 0 -3.4 0M137.5 167.9a1.7 1.7 0 1 0 3.4 0a1.7 1.7 0 1 0 -3.4 0M137.5 166.5a1.7 1.7 0 1 0 3.4 0a1.7 1.7 0 1 0 -3.4 0M138.5 175.5a1.7 1.7 0 1 0 3.4 0a1.7 1.7 0 1 0 -3.4 0M138.6 169.4a1.7 1.7 0 1 0 3.4 0a1.7 1.7 0 1 0 -3.4 0M138.5 191.3a1.7 1.7 0 1 0 3.4 0a1.7 1.7 0 1 0 -3.4 0M138.6 174.1a1.7 1.7 0 1 0 3.4 0a1.7 1.7 0 1 0 -3.4 0M139.4 168.2a1.7 1.7 0 1 0 3.4 0a1.7 1.7 0 1 0 -3.4 0M139.3 160.1a1.7 1.7 0 1 0 3.4 0a1.7 1.7 0 1 0 -3.4 0M139.2 171.4a1.7 1.7 0 1 0 3.4 0a1.7 1.7 0 1 0 -3.4 0M139.5 172.8a1.7 1.7 0 1 0 3.4 0a1.7 1.7 0 1 0 -3.4 0M139.5 133.9a1.7 1.7 0 1 0 3.4 0a1.7 1.7 0 1 0 -3.4 0M139.9 157.4a1.7 1.7 0 1 0 3.4 0a1.7 1.7 0 1 0 -3.4 0M140.1 170.5a1.7 1.7 0 1 0 3.4 0a1.7 1.7 0 1 0 -3.4 0M139.9 162.8a1.7 1.7 0 1 0 3.4 0a1.7 1.7 0 1 0 -3.4 0M140.2 170.8a1.7 1.7 0 1 0 3.4 0a1.7 1.7 0 1 0 -3.4 0M140.7 166.8a1.7 1.7 0 1 0 3.4 0a1.7 1.7 0 1 0 -3.4 0M140.9 164a1.7 1.7 0 1 0 3.4 0a1.7 1.7 0 1 0 -3.4 0M141.1 167.8a1.7 1.7 0 1 0 3.4 0a1.7 1.7 0 1 0 -3.4 0M141 151.6a1.7 1.7 0 1 0 3.4 0a1.7 1.7 0 1 0 -3.4 0M141.6 180.8a1.7 1.7 0 1 0 3.4 0a1.7 1.7 0 1 0 -3.4 0M141.8 167.8a1.7 1.7 0 1 0 3.4 0a1.7 1.7 0 1 0 -3.4 0M141.6 172a1.7 1.7 0 1 0 3.4 0a1.7 1.7 0 1 0 -3.4 0M141.6 183.7a1.7 1.7 0 1 0 3.4 0a1.7 1.7 0 1 0 -3.4 0M141.5 158.1a1.7 1.7 0 1 0 3.4 0a1.7 1.7 0 1 0 -3.4 0M142.3 188.7a1.7 1.7 0 1 0 3.4 0a1.7 1.7 0 1 0 -3.4 0M142.3 166.7a1.7 1.7 0 1 0 3.4 0a1.7 1.7 0 1 0 -3.4 0M142.7 156.8a1.7 1.7 0 1 0 3.4 0a1.7 1.7 0 1 0 -3.4 0M142.5 168.1a1.7 1.7 0 1 0 3.4 0a1.7 1.7 0 1 0 -3.4 0M143.3 159.8a1.7 1.7 0 1 0 3.4 0a1.7 1.7 0 1 0 -3.4 0M143.2 178.4a1.7 1.7 0 1 0 3.4 0a1.7 1.7 0 1 0 -3.4 0M143.5 164.6a1.7 1.7 0 1 0 3.4 0a1.7 1.7 0 1 0 -3.4 0M143.3 162.4a1.7 1.7 0 1 0 3.4 0a1.7 1.7 0 1 0 -3.4 0M143.9 148.1a1.7 1.7 0 1 0 3.4 0a1.7 1.7 0 1 0 -3.4 0M144 149.9a1.7 1.7 0 1 0 3.4 0a1.7 1.7 0 1 0 -3.4 0M144.3 157.5a1.7 1.7 0 1 0 3.4 0a1.7 1.7 0 1 0 -3.4 0M144.1 175.3a1.7 1.7 0 1 0 3.4 0a1.7 1.7 0 1 0 -3.4 0M144.8 164.1a1.7 1.7 0 1 0 3.4 0a1.7 1.7 0 1 0 -3.4 0M145.1 150a1.7 1.7 0 1 0 3.4 0a1.7 1.7 0 1 0 -3.4 0M144.8 161.2a1.7 1.7 0 1 0 3.4 0a1.7 1.7 0 1 0 -3.4 0M144.8 174.9a1.7 1.7 0 1 0 3.4 0a1.7 1.7 0 1 0 -3.4 0M144.7 166a1.7 1.7 0 1 0 3.4 0a1.7 1.7 0 1 0 -3.4 0M145.8 155a1.7 1.7 0 1 0 3.4 0a1.7 1.7 0 1 0 -3.4 0M145.8 144.5a1.7 1.7 0 1 0 3.4 0a1.7 1.7 0 1 0 -3.4 0M145.7 150.7a1.7 1.7 0 1 0 3.4 0a1.7 1.7 0 1 0 -3.4 0M145.6 165.4a1.7 1.7 0 1 0 3.4 0a1.7 1.7 0 1 0 -3.4 0M146.5 167.7a1.7 1.7 0 1 0 3.4 0a1.7 1.7 0 1 0 -3.4 0M146.3 170.2a1.7 1.7 0 1 0 3.4 0a1.7 1.7 0 1 0 -3.4 0M146.7 158.7a1.7 1.7 0 1 0 3.4 0a1.7 1.7 0 1 0 -3.4 0M146.7 164.8a1.7 1.7 0 1 0 3.4 0a1.7 1.7 0 1 0 -3.4 0M147.1 173.2a1.7 1.7 0 1 0 3.4 0a1.7 1.7 0 1 0 -3.4 0M147.1 178.6a1.7 1.7 0 1 0 3.4 0a1.7 1.7 0 1 0 -3.4 0M147.2 161.7a1.7 1.7 0 1 0 3.4 0a1.7 1.7 0 1 0 -3.4 0M147.5 154.7a1.7 1.7 0 1 0 3.4 0a1.7 1.7 0 1 0 -3.4 0M148 157a1.7 1.7 0 1 0 3.4 0a1.7 1.7 0 1 0 -3.4 0M147.9 157.4a1.7 1.7 0 1 0 3.4 0a1.7 1.7 0 1 0 -3.4 0M148.2 160.8a1.7 1.7 0 1 0 3.4 0a1.7 1.7 0 1 0 -3.4 0M148.1 179.5a1.7 1.7 0 1 0 3.4 0a1.7 1.7 0 1 0 -3.4 0M154.7 156.1a1.7 1.7 0 1 0 3.4 0a1.7 1.7 0 1 0 -3.4 0M154.5 155.5a1.7 1.7 0 1 0 3.4 0a1.7 1.7 0 1 0 -3.4 0M154.5 148.8a1.7 1.7 0 1 0 3.4 0a1.7 1.7 0 1 0 -3.4 0M154.3 142.8a1.7 1.7 0 1 0 3.4 0a1.7 1.7 0 1 0 -3.4 0M155.2 154.6a1.7 1.7 0 1 0 3.4 0a1.7 1.7 0 1 0 -3.4 0M155.1 156a1.7 1.7 0 1 0 3.4 0a1.7 1.7 0 1 0 -3.4 0M155.5 151.6a1.7 1.7 0 1 0 3.4 0a1.7 1.7 0 1 0 -3.4 0M155.2 156.3a1.7 1.7 0 1 0 3.4 0a1.7 1.7 0 1 0 -3.4 0M156.3 141.6a1.7 1.7 0 1 0 3.4 0a1.7 1.7 0 1 0 -3.4 0M156.2 152.4a1.7 1.7 0 1 0 3.4 0a1.7 1.7 0 1 0 -3.4 0M156.3 159.6a1.7 1.7 0 1 0 3.4 0a1.7 1.7 0 1 0 -3.4 0M156.2 162.2a1.7 1.7 0 1 0 3.4 0a1.7 1.7 0 1 0 -3.4 0M156.2 178a1.7 1.7 0 1 0 3.4 0a1.7 1.7 0 1 0 -3.4 0M156.7 152.1a1.7 1.7 0 1 0 3.4 0a1.7 1.7 0 1 0 -3.4 0M156.9 145.8a1.7 1.7 0 1 0 3.4 0a1.7 1.7 0 1 0 -3.4 0M157 152.5a1.7 1.7 0 1 0 3.4 0a1.7 1.7 0 1 0 -3.4 0M157.1 152a1.7 1.7 0 1 0 3.4 0a1.7 1.7 0 1 0 -3.4 0M157.1 140.9a1.7 1.7 0 1 0 3.4 0a1.7 1.7 0 1 0 -3.4 0M157.8 157a1.7 1.7 0 1 0 3.4 0a1.7 1.7 0 1 0 -3.4 0M157.5 146.9a1.7 1.7 0 1 0 3.4 0a1.7 1.7 0 1 0 -3.4 0M157.7 151.3a1.7 1.7 0 1 0 3.4 0a1.7 1.7 0 1 0 -3.4 0M157.6 147.6a1.7 1.7 0 1 0 3.4 0a1.7 1.7 0 1 0 -3.4 0M157.5 134.5a1.7 1.7 0 1 0 3.4 0a1.7 1.7 0 1 0 -3.4 0M158.6 160.7a1.7 1.7 0 1 0 3.4 0a1.7 1.7 0 1 0 -3.4 0M158.7 154.1a1.7 1.7 0 1 0 3.4 0a1.7 1.7 0 1 0 -3.4 0M158.5 142.3a1.7 1.7 0 1 0 3.4 0a1.7 1.7 0 1 0 -3.4 0M158.4 165.2a1.7 1.7 0 1 0 3.4 0a1.7 1.7 0 1 0 -3.4 0M159.4 144.8a1.7 1.7 0 1 0 3.4 0a1.7 1.7 0 1 0 -3.4 0M159.4 152a1.7 1.7 0 1 0 3.4 0a1.7 1.7 0 1 0 -3.4 0M159.2 154.1a1.7 1.7 0 1 0 3.4 0a1.7 1.7 0 1 0 -3.4 0M159.2 137.1a1.7 1.7 0 1 0 3.4 0a1.7 1.7 0 1 0 -3.4 0M160.2 152.2a1.7 1.7 0 1 0 3.4 0a1.7 1.7 0 1 0 -3.4 0M160.3 143.8a1.7 1.7 0 1 0 3.4 0a1.7 1.7 0 1 0 -3.4 0M160.3 173.8a1.7 1.7 0 1 0 3.4 0a1.7 1.7 0 1 0 -3.4 0M160 149a1.7 1.7 0 1 0 3.4 0a1.7 1.7 0 1 0 -3.4 0M161 172.7a1.7 1.7 0 1 0 3.4 0a1.7 1.7 0 1 0 -3.4 0M160.7 147.6a1.7 1.7 0 1 0 3.4 0a1.7 1.7 0 1 0 -3.4 0M161 162a1.7 1.7 0 1 0 3.4 0a1.7 1.7 0 1 0 -3.4 0M160.8 157.4a1.7 1.7 0 1 0 3.4 0a1.7 1.7 0 1 0 -3.4 0M161.6 160.6a1.7 1.7 0 1 0 3.4 0a1.7 1.7 0 1 0 -3.4 0M161.8 150.7a1.7 1.7 0 1 0 3.4 0a1.7 1.7 0 1 0 -3.4 0M161.8 153.8a1.7 1.7 0 1 0 3.4 0a1.7 1.7 0 1 0 -3.4 0M161.5 159.8a1.7 1.7 0 1 0 3.4 0a1.7 1.7 0 1 0 -3.4 0M162.3 160.3a1.7 1.7 0 1 0 3.4 0a1.7 1.7 0 1 0 -3.4 0M162.7 157.1a1.7 1.7 0 1 0 3.4 0a1.7 1.7 0 1 0 -3.4 0M162.3 149.5a1.7 1.7 0 1 0 3.4 0a1.7 1.7 0 1 0 -3.4 0M162.4 150.7a1.7 1.7 0 1 0 3.4 0a1.7 1.7 0 1 0 -3.4 0M162.6 171a1.7 1.7 0 1 0 3.4 0a1.7 1.7 0 1 0 -3.4 0M163.2 159.4a1.7 1.7 0 1 0 3.4 0a1.7 1.7 0 1 0 -3.4 0M163.2 157.1a1.7 1.7 0 1 0 3.4 0a1.7 1.7 0 1 0 -3.4 0M163.5 152.8a1.7 1.7 0 1 0 3.4 0a1.7 1.7 0 1 0 -3.4 0M163.1 153.7a1.7 1.7 0 1 0 3.4 0a1.7 1.7 0 1 0 -3.4 0M164.2 148.4a1.7 1.7 0 1 0 3.4 0a1.7 1.7 0 1 0 -3.4 0M163.9 146.9a1.7 1.7 0 1 0 3.4 0a1.7 1.7 0 1 0 -3.4 0M164.3 149.4a1.7 1.7 0 1 0 3.4 0a1.7 1.7 0 1 0 -3.4 0M164 171.2a1.7 1.7 0 1 0 3.4 0a1.7 1.7 0 1 0 -3.4 0M163.9 159.9a1.7 1.7 0 1 0 3.4 0a1.7 1.7 0 1 0 -3.4 0M165 150.1a1.7 1.7 0 1 0 3.4 0a1.7 1.7 0 1 0 -3.4 0M165 155.9a1.7 1.7 0 1 0 3.4 0a1.7 1.7 0 1 0 -3.4 0M164.7 163.1a1.7 1.7 0 1 0 3.4 0a1.7 1.7 0 1 0 -3.4 0M165 154.5a1.7 1.7 0 1 0 3.4 0a1.7 1.7 0 1 0 -3.4 0M165.5 161.9a1.7 1.7 0 1 0 3.4 0a1.7 1.7 0 1 0 -3.4 0M165.6 148.5a1.7 1.7 0 1 0 3.4 0a1.7 1.7 0 1 0 -3.4 0M165.9 169.8a1.7 1.7 0 1 0 3.4 0a1.7 1.7 0 1 0 -3.4 0M165.8 160.2a1.7 1.7 0 1 0 3.4 0a1.7 1.7 0 1 0 -3.4 0M166.3 149.8a1.7 1.7 0 1 0 3.4 0a1.7 1.7 0 1 0 -3.4 0M166.6 156.7a1.7 1.7 0 1 0 3.4 0a1.7 1.7 0 1 0 -3.4 0M166.3 156.1a1.7 1.7 0 1 0 3.4 0a1.7 1.7 0 1 0 -3.4 0M166.5 155.9a1.7 1.7 0 1 0 3.4 0a1.7 1.7 0 1 0 -3.4 0M167.5 154.3a1.7 1.7 0 1 0 3.4 0a1.7 1.7 0 1 0 -3.4 0M167.1 155.1a1.7 1.7 0 1 0 3.4 0a1.7 1.7 0 1 0 -3.4 0M167.5 163.9a1.7 1.7 0 1 0 3.4 0a1.7 1.7 0 1 0 -3.4 0M167.5 165.5a1.7 1.7 0 1 0 3.4 0a1.7 1.7 0 1 0 -3.4 0M167.9 163.9a1.7 1.7 0 1 0 3.4 0a1.7 1.7 0 1 0 -3.4 0M168 158a1.7 1.7 0 1 0 3.4 0a1.7 1.7 0 1 0 -3.4 0M168.1 156.1a1.7 1.7 0 1 0 3.4 0a1.7 1.7 0 1 0 -3.4 0M167.9 147.2a1.7 1.7 0 1 0 3.4 0a1.7 1.7 0 1 0 -3.4 0M168.8 158.1a1.7 1.7 0 1 0 3.4 0a1.7 1.7 0 1 0 -3.4 0M169.1 146.2a1.7 1.7 0 1 0 3.4 0a1.7 1.7 0 1 0 -3.4 0M169 155.3a1.7 1.7 0 1 0 3.4 0a1.7 1.7 0 1 0 -3.4 0M168.7 143a1.7 1.7 0 1 0 3.4 0a1.7 1.7 0 1 0 -3.4 0M169.7 158a1.7 1.7 0 1 0 3.4 0a1.7 1.7 0 1 0 -3.4 0M169.8 163.7a1.7 1.7 0 1 0 3.4 0a1.7 1.7 0 1 0 -3.4 0M169.8 166a1.7 1.7 0 1 0 3.4 0a1.7 1.7 0 1 0 -3.4 0M169.6 159.4a1.7 1.7 0 1 0 3.4 0a1.7 1.7 0 1 0 -3.4 0M170.7 153.5a1.7 1.7 0 1 0 3.4 0a1.7 1.7 0 1 0 -3.4 0M170.4 172.3a1.7 1.7 0 1 0 3.4 0a1.7 1.7 0 1 0 -3.4 0M170.3 159.2a1.7 1.7 0 1 0 3.4 0a1.7 1.7 0 1 0 -3.4 0M170.5 164.7a1.7 1.7 0 1 0 3.4 0a1.7 1.7 0 1 0 -3.4 0M171.5 158.3a1.7 1.7 0 1 0 3.4 0a1.7 1.7 0 1 0 -3.4 0M171.3 143.3a1.7 1.7 0 1 0 3.4 0a1.7 1.7 0 1 0 -3.4 0M171.5 159.7a1.7 1.7 0 1 0 3.4 0a1.7 1.7 0 1 0 -3.4 0M171.2 162.2a1.7 1.7 0 1 0 3.4 0a1.7 1.7 0 1 0 -3.4 0M171.3 156.2a1.7 1.7 0 1 0 3.4 0a1.7 1.7 0 1 0 -3.4 0M172 157a1.7 1.7 0 1 0 3.4 0a1.7 1.7 0 1 0 -3.4 0M171.9 165.4a1.7 1.7 0 1 0 3.4 0a1.7 1.7 0 1 0 -3.4 0M171.9 162.1a1.7 1.7 0 1 0 3.4 0a1.7 1.7 0 1 0 -3.4 0M172 162.1a1.7 1.7 0 1 0 3.4 0a1.7 1.7 0 1 0 -3.4 0M173 171.6a1.7 1.7 0 1 0 3.4 0a1.7 1.7 0 1 0 -3.4 0M173.1 173a1.7 1.7 0 1 0 3.4 0a1.7 1.7 0 1 0 -3.4 0M172.7 155.1a1.7 1.7 0 1 0 3.4 0a1.7 1.7 0 1 0 -3.4 0M172.7 162.9a1.7 1.7 0 1 0 3.4 0a1.7 1.7 0 1 0 -3.4 0M173.7 159.6a1.7 1.7 0 1 0 3.4 0a1.7 1.7 0 1 0 -3.4 0M173.8 168.7a1.7 1.7 0 1 0 3.4 0a1.7 1.7 0 1 0 -3.4 0M173.9 164.9a1.7 1.7 0 1 0 3.4 0a1.7 1.7 0 1 0 -3.4 0M173.5 182.5a1.7 1.7 0 1 0 3.4 0a1.7 1.7 0 1 0 -3.4 0M174.3 166.2a1.7 1.7 0 1 0 3.4 0a1.7 1.7 0 1 0 -3.4 0M174.7 174.1a1.7 1.7 0 1 0 3.4 0a1.7 1.7 0 1 0 -3.4 0M174.5 175.5a1.7 1.7 0 1 0 3.4 0a1.7 1.7 0 1 0 -3.4 0M174.5 147.5a1.7 1.7 0 1 0 3.4 0a1.7 1.7 0 1 0 -3.4 0M174.4 162.8a1.7 1.7 0 1 0 3.4 0a1.7 1.7 0 1 0 -3.4 0M175.5 162.5a1.7 1.7 0 1 0 3.4 0a1.7 1.7 0 1 0 -3.4 0M175.1 176.7a1.7 1.7 0 1 0 3.4 0a1.7 1.7 0 1 0 -3.4 0M175.4 164.6a1.7 1.7 0 1 0 3.4 0a1.7 1.7 0 1 0 -3.4 0M175.2 163.9a1.7 1.7 0 1 0 3.4 0a1.7 1.7 0 1 0 -3.4 0M176.2 178.2a1.7 1.7 0 1 0 3.4 0a1.7 1.7 0 1 0 -3.4 0M176.1 159.7a1.7 1.7 0 1 0 3.4 0a1.7 1.7 0 1 0 -3.4 0M176.1 160.5a1.7 1.7 0 1 0 3.4 0a1.7 1.7 0 1 0 -3.4 0M176.2 169.1a1.7 1.7 0 1 0 3.4 0a1.7 1.7 0 1 0 -3.4 0M176.2 168.3a1.7 1.7 0 1 0 3.4 0a1.7 1.7 0 1 0 -3.4 0M177.1 175.7a1.7 1.7 0 1 0 3.4 0a1.7 1.7 0 1 0 -3.4 0M177.1 180.6a1.7 1.7 0 1 0 3.4 0a1.7 1.7 0 1 0 -3.4 0M177 167a1.7 1.7 0 1 0 3.4 0a1.7 1.7 0 1 0 -3.4 0M176.7 180.9a1.7 1.7 0 1 0 3.4 0a1.7 1.7 0 1 0 -3.4 0M177.6 178.5a1.7 1.7 0 1 0 3.4 0a1.7 1.7 0 1 0 -3.4 0M177.7 176.5a1.7 1.7 0 1 0 3.4 0a1.7 1.7 0 1 0 -3.4 0M177.7 183.3a1.7 1.7 0 1 0 3.4 0a1.7 1.7 0 1 0 -3.4 0M177.8 171.5a1.7 1.7 0 1 0 3.4 0a1.7 1.7 0 1 0 -3.4 0M178.5 184.9a1.7 1.7 0 1 0 3.4 0a1.7 1.7 0 1 0 -3.4 0M178.4 175.6a1.7 1.7 0 1 0 3.4 0a1.7 1.7 0 1 0 -3.4 0M178.6 179.5a1.7 1.7 0 1 0 3.4 0a1.7 1.7 0 1 0 -3.4 0M178.6 165.8a1.7 1.7 0 1 0 3.4 0a1.7 1.7 0 1 0 -3.4 0M179.4 172.4a1.7 1.7 0 1 0 3.4 0a1.7 1.7 0 1 0 -3.4 0M179.4 179.2a1.7 1.7 0 1 0 3.4 0a1.7 1.7 0 1 0 -3.4 0M179.5 166.1a1.7 1.7 0 1 0 3.4 0a1.7 1.7 0 1 0 -3.4 0M179.3 171.6a1.7 1.7 0 1 0 3.4 0a1.7 1.7 0 1 0 -3.4 0M179.9 178.2a1.7 1.7 0 1 0 3.4 0a1.7 1.7 0 1 0 -3.4 0M179.9 174a1.7 1.7 0 1 0 3.4 0a1.7 1.7 0 1 0 -3.4 0M180 163.8a1.7 1.7 0 1 0 3.4 0a1.7 1.7 0 1 0 -3.4 0M179.9 153.8a1.7 1.7 0 1 0 3.4 0a1.7 1.7 0 1 0 -3.4 0M180.7 169.2a1.7 1.7 0 1 0 3.4 0a1.7 1.7 0 1 0 -3.4 0M180.9 180.8a1.7 1.7 0 1 0 3.4 0a1.7 1.7 0 1 0 -3.4 0M180.8 176.3a1.7 1.7 0 1 0 3.4 0a1.7 1.7 0 1 0 -3.4 0M180.7 174.6a1.7 1.7 0 1 0 3.4 0a1.7 1.7 0 1 0 -3.4 0M181.6 176.1a1.7 1.7 0 1 0 3.4 0a1.7 1.7 0 1 0 -3.4 0M181.7 162.2a1.7 1.7 0 1 0 3.4 0a1.7 1.7 0 1 0 -3.4 0M181.9 171a1.7 1.7 0 1 0 3.4 0a1.7 1.7 0 1 0 -3.4 0M181.8 172.3a1.7 1.7 0 1 0 3.4 0a1.7 1.7 0 1 0 -3.4 0M182.4 180.2a1.7 1.7 0 1 0 3.4 0a1.7 1.7 0 1 0 -3.4 0M182.5 160.8a1.7 1.7 0 1 0 3.4 0a1.7 1.7 0 1 0 -3.4 0M182.6 176.9a1.7 1.7 0 1 0 3.4 0a1.7 1.7 0 1 0 -3.4 0M182.3 161.2a1.7 1.7 0 1 0 3.4 0a1.7 1.7 0 1 0 -3.4 0M183.1 179.1a1.7 1.7 0 1 0 3.4 0a1.7 1.7 0 1 0 -3.4 0M183.4 180.9a1.7 1.7 0 1 0 3.4 0a1.7 1.7 0 1 0 -3.4 0M183.2 164.8a1.7 1.7 0 1 0 3.4 0a1.7 1.7 0 1 0 -3.4 0M183.1 176.6a1.7 1.7 0 1 0 3.4 0a1.7 1.7 0 1 0 -3.4 0M184 163.9a1.7 1.7 0 1 0 3.4 0a1.7 1.7 0 1 0 -3.4 0M184.3 161.7a1.7 1.7 0 1 0 3.4 0a1.7 1.7 0 1 0 -3.4 0M184 168.2a1.7 1.7 0 1 0 3.4 0a1.7 1.7 0 1 0 -3.4 0M184 166.3a1.7 1.7 0 1 0 3.4 0a1.7 1.7 0 1 0 -3.4 0M185 182.1a1.7 1.7 0 1 0 3.4 0a1.7 1.7 0 1 0 -3.4 0M184.8 166.3a1.7 1.7 0 1 0 3.4 0a1.7 1.7 0 1 0 -3.4 0M184.7 164.9a1.7 1.7 0 1 0 3.4 0a1.7 1.7 0 1 0 -3.4 0M184.9 167.7a1.7 1.7 0 1 0 3.4 0a1.7 1.7 0 1 0 -3.4 0M185.9 157a1.7 1.7 0 1 0 3.4 0a1.7 1.7 0 1 0 -3.4 0M185.7 169.8a1.7 1.7 0 1 0 3.4 0a1.7 1.7 0 1 0 -3.4 0M185.6 166.6a1.7 1.7 0 1 0 3.4 0a1.7 1.7 0 1 0 -3.4 0M185.5 148.3a1.7 1.7 0 1 0 3.4 0a1.7 1.7 0 1 0 -3.4 0M186.5 167.3a1.7 1.7 0 1 0 3.4 0a1.7 1.7 0 1 0 -3.4 0M186.4 178.6a1.7 1.7 0 1 0 3.4 0a1.7 1.7 0 1 0 -3.4 0M186.6 168.3a1.7 1.7 0 1 0 3.4 0a1.7 1.7 0 1 0 -3.4 0M186.7 158.1a1.7 1.7 0 1 0 3.4 0a1.7 1.7 0 1 0 -3.4 0M187.1 153.2a1.7 1.7 0 1 0 3.4 0a1.7 1.7 0 1 0 -3.4 0M187.1 169.6a1.7 1.7 0 1 0 3.4 0a1.7 1.7 0 1 0 -3.4 0M187.5 171.2a1.7 1.7 0 1 0 3.4 0a1.7 1.7 0 1 0 -3.4 0M187.2 178.6a1.7 1.7 0 1 0 3.4 0a1.7 1.7 0 1 0 -3.4 0M188.2 158a1.7 1.7 0 1 0 3.4 0a1.7 1.7 0 1 0 -3.4 0M187.9 164.9a1.7 1.7 0 1 0 3.4 0a1.7 1.7 0 1 0 -3.4 0M187.9 155.4a1.7 1.7 0 1 0 3.4 0a1.7 1.7 0 1 0 -3.4 0M187.9 188.8a1.7 1.7 0 1 0 3.4 0a1.7 1.7 0 1 0 -3.4 0M188.9 161.5a1.7 1.7 0 1 0 3.4 0a1.7 1.7 0 1 0 -3.4 0M189 152.7a1.7 1.7 0 1 0 3.4 0a1.7 1.7 0 1 0 -3.4 0M188.8 163.7a1.7 1.7 0 1 0 3.4 0a1.7 1.7 0 1 0 -3.4 0M188.7 164.1a1.7 1.7 0 1 0 3.4 0a1.7 1.7 0 1 0 -3.4 0M189.9 162.1a1.7 1.7 0 1 0 3.4 0a1.7 1.7 0 1 0 -3.4 0M189.8 147.9a1.7 1.7 0 1 0 3.4 0a1.7 1.7 0 1 0 -3.4 0M189.7 147.7a1.7 1.7 0 1 0 3.4 0a1.7 1.7 0 1 0 -3.4 0M189.5 137.9a1.7 1.7 0 1 0 3.4 0a1.7 1.7 0 1 0 -3.4 0M190.7 146.5a1.7 1.7 0 1 0 3.4 0a1.7 1.7 0 1 0 -3.4 0M190.5 157.2a1.7 1.7 0 1 0 3.4 0a1.7 1.7 0 1 0 -3.4 0M190.3 157.1a1.7 1.7 0 1 0 3.4 0a1.7 1.7 0 1 0 -3.4 0M190.6 143a1.7 1.7 0 1 0 3.4 0a1.7 1.7 0 1 0 -3.4 0M191.3 155.4a1.7 1.7 0 1 0 3.4 0a1.7 1.7 0 1 0 -3.4 0M191.1 127.3a1.7 1.7 0 1 0 3.4 0a1.7 1.7 0 1 0 -3.4 0M191.4 163.7a1.7 1.7 0 1 0 3.4 0a1.7 1.7 0 1 0 -3.4 0M191.5 129.4a1.7 1.7 0 1 0 3.4 0a1.7 1.7 0 1 0 -3.4 0M192 137a1.7 1.7 0 1 0 3.4 0a1.7 1.7 0 1 0 -3.4 0M191.9 151.1a1.7 1.7 0 1 0 3.4 0a1.7 1.7 0 1 0 -3.4 0M192.3 128.8a1.7 1.7 0 1 0 3.4 0a1.7 1.7 0 1 0 -3.4 0M192.2 150.5a1.7 1.7 0 1 0 3.4 0a1.7 1.7 0 1 0 -3.4 0M193.1 153.5a1.7 1.7 0 1 0 3.4 0a1.7 1.7 0 1 0 -3.4 0M193.1 140.2a1.7 1.7 0 1 0 3.4 0a1.7 1.7 0 1 0 -3.4 0M193 104.5a1.7 1.7 0 1 0 3.4 0a1.7 1.7 0 1 0 -3.4 0M193.6 149a1.7 1.7 0 1 0 3.4 0a1.7 1.7 0 1 0 -3.4 0M193.6 147.3a1.7 1.7 0 1 0 3.4 0a1.7 1.7 0 1 0 -3.4 0M193.5 117.8a1.7 1.7 0 1 0 3.4 0a1.7 1.7 0 1 0 -3.4 0M194.6 132.9a1.7 1.7 0 1 0 3.4 0a1.7 1.7 0 1 0 -3.4 0M194.5 132.1a1.7 1.7 0 1 0 3.4 0a1.7 1.7 0 1 0 -3.4 0M194.4 138.8a1.7 1.7 0 1 0 3.4 0a1.7 1.7 0 1 0 -3.4 0M195.2 109.4a1.7 1.7 0 1 0 3.4 0a1.7 1.7 0 1 0 -3.4 0M195.1 131.9a1.7 1.7 0 1 0 3.4 0a1.7 1.7 0 1 0 -3.4 0M195.2 136.3a1.7 1.7 0 1 0 3.4 0a1.7 1.7 0 1 0 -3.4 0M195.1 132.9a1.7 1.7 0 1 0 3.4 0a1.7 1.7 0 1 0 -3.4 0M196.3 120.2a1.7 1.7 0 1 0 3.4 0a1.7 1.7 0 1 0 -3.4 0M196 110.1a1.7 1.7 0 1 0 3.4 0a1.7 1.7 0 1 0 -3.4 0M196.3 107.5a1.7 1.7 0 1 0 3.4 0a1.7 1.7 0 1 0 -3.4 0M197.1 121.6a1.7 1.7 0 1 0 3.4 0a1.7 1.7 0 1 0 -3.4 0M197.1 124.7a1.7 1.7 0 1 0 3.4 0a1.7 1.7 0 1 0 -3.4 0M196.9 103a1.7 1.7 0 1 0 3.4 0a1.7 1.7 0 1 0 -3.4 0M196.8 136.6a1.7 1.7 0 1 0 3.4 0a1.7 1.7 0 1 0 -3.4 0M197.9 123.3a1.7 1.7 0 1 0 3.4 0a1.7 1.7 0 1 0 -3.4 0M197.5 119.9a1.7 1.7 0 1 0 3.4 0a1.7 1.7 0 1 0 -3.4 0M197.7 120.3a1.7 1.7 0 1 0 3.4 0a1.7 1.7 0 1 0 -3.4 0M198.7 109.3a1.7 1.7 0 1 0 3.4 0a1.7 1.7 0 1 0 -3.4 0M198.4 127a1.7 1.7 0 1 0 3.4 0a1.7 1.7 0 1 0 -3.4 0M198.4 138.2a1.7 1.7 0 1 0 3.4 0a1.7 1.7 0 1 0 -3.4 0M199.3 106.3a1.7 1.7 0 1 0 3.4 0a1.7 1.7 0 1 0 -3.4 0M199.2 132.1a1.7 1.7 0 1 0 3.4 0a1.7 1.7 0 1 0 -3.4 0M199.2 121.9a1.7 1.7 0 1 0 3.4 0a1.7 1.7 0 1 0 -3.4 0M200.2 102.3a1.7 1.7 0 1 0 3.4 0a1.7 1.7 0 1 0 -3.4 0M200.3 131.5a1.7 1.7 0 1 0 3.4 0a1.7 1.7 0 1 0 -3.4 0M199.9 121.3a1.7 1.7 0 1 0 3.4 0a1.7 1.7 0 1 0 -3.4 0M201 124.5a1.7 1.7 0 1 0 3.4 0a1.7 1.7 0 1 0 -3.4 0M200.8 99.2a1.7 1.7 0 1 0 3.4 0a1.7 1.7 0 1 0 -3.4 0M200.9 134.2a1.7 1.7 0 1 0 3.4 0a1.7 1.7 0 1 0 -3.4 0M201.9 100.1a1.7 1.7 0 1 0 3.4 0a1.7 1.7 0 1 0 -3.4 0M201.5 100.7a1.7 1.7 0 1 0 3.4 0a1.7 1.7 0 1 0 -3.4 0M201.8 99.3a1.7 1.7 0 1 0 3.4 0a1.7 1.7 0 1 0 -3.4 0M202.5 85.9a1.7 1.7 0 1 0 3.4 0a1.7 1.7 0 1 0 -3.4 0M202.3 117.7a1.7 1.7 0 1 0 3.4 0a1.7 1.7 0 1 0 -3.4 0M202.6 119.2a1.7 1.7 0 1 0 3.4 0a1.7 1.7 0 1 0 -3.4 0M202.5 108.3a1.7 1.7 0 1 0 3.4 0a1.7 1.7 0 1 0 -3.4 0M203.5 123.3a1.7 1.7 0 1 0 3.4 0a1.7 1.7 0 1 0 -3.4 0M203.4 131.1a1.7 1.7 0 1 0 3.4 0a1.7 1.7 0 1 0 -3.4 0M203.4 115.7a1.7 1.7 0 1 0 3.4 0a1.7 1.7 0 1 0 -3.4 0M204.3 137.1a1.7 1.7 0 1 0 3.4 0a1.7 1.7 0 1 0 -3.4 0M203.9 134.5a1.7 1.7 0 1 0 3.4 0a1.7 1.7 0 1 0 -3.4 0M203.9 126.8a1.7 1.7 0 1 0 3.4 0a1.7 1.7 0 1 0 -3.4 0M204.2 128.2a1.7 1.7 0 1 0 3.4 0a1.7 1.7 0 1 0 -3.4 0M204.7 120.2a1.7 1.7 0 1 0 3.4 0a1.7 1.7 0 1 0 -3.4 0M204.9 111.1a1.7 1.7 0 1 0 3.4 0a1.7 1.7 0 1 0 -3.4 0M204.8 103.2a1.7 1.7 0 1 0 3.4 0a1.7 1.7 0 1 0 -3.4 0M204.7 113.3a1.7 1.7 0 1 0 3.4 0a1.7 1.7 0 1 0 -3.4 0M205.7 130.7a1.7 1.7 0 1 0 3.4 0a1.7 1.7 0 1 0 -3.4 0M205.7 130.6a1.7 1.7 0 1 0 3.4 0a1.7 1.7 0 1 0 -3.4 0M205.7 109.7a1.7 1.7 0 1 0 3.4 0a1.7 1.7 0 1 0 -3.4 0M206.3 110.2a1.7 1.7 0 1 0 3.4 0a1.7 1.7 0 1 0 -3.4 0M206.4 85.1a1.7 1.7 0 1 0 3.4 0a1.7 1.7 0 1 0 -3.4 0M206.4 116.7a1.7 1.7 0 1 0 3.4 0a1.7 1.7 0 1 0 -3.4 0M206.7 108.7a1.7 1.7 0 1 0 3.4 0a1.7 1.7 0 1 0 -3.4 0M207.5 121.7a1.7 1.7 0 1 0 3.4 0a1.7 1.7 0 1 0 -3.4 0M207.5 109.9a1.7 1.7 0 1 0 3.4 0a1.7 1.7 0 1 0 -3.4 0M207.3 117.7a1.7 1.7 0 1 0 3.4 0a1.7 1.7 0 1 0 -3.4 0M207.4 134.3a1.7 1.7 0 1 0 3.4 0a1.7 1.7 0 1 0 -3.4 0M208 133.7a1.7 1.7 0 1 0 3.4 0a1.7 1.7 0 1 0 -3.4 0M208.2 103.5a1.7 1.7 0 1 0 3.4 0a1.7 1.7 0 1 0 -3.4 0M208.3 110.5a1.7 1.7 0 1 0 3.4 0a1.7 1.7 0 1 0 -3.4 0M207.9 119.6a1.7 1.7 0 1 0 3.4 0a1.7 1.7 0 1 0 -3.4 0M208.7 117.7a1.7 1.7 0 1 0 3.4 0a1.7 1.7 0 1 0 -3.4 0M208.8 134.5a1.7 1.7 0 1 0 3.4 0a1.7 1.7 0 1 0 -3.4 0M208.8 92.1a1.7 1.7 0 1 0 3.4 0a1.7 1.7 0 1 0 -3.4 0M209.6 119.8a1.7 1.7 0 1 0 3.4 0a1.7 1.7 0 1 0 -3.4 0M209.8 128.3a1.7 1.7 0 1 0 3.4 0a1.7 1.7 0 1 0 -3.4 0M209.6 115.4a1.7 1.7 0 1 0 3.4 0a1.7 1.7 0 1 0 -3.4 0M210.5 125.7a1.7 1.7 0 1 0 3.4 0a1.7 1.7 0 1 0 -3.4 0M210.3 135.3a1.7 1.7 0 1 0 3.4 0a1.7 1.7 0 1 0 -3.4 0M210.3 128.6a1.7 1.7 0 1 0 3.4 0a1.7 1.7 0 1 0 -3.4 0M211.2 134a1.7 1.7 0 1 0 3.4 0a1.7 1.7 0 1 0 -3.4 0M211.2 125.9a1.7 1.7 0 1 0 3.4 0a1.7 1.7 0 1 0 -3.4 0M211.5 105.2a1.7 1.7 0 1 0 3.4 0a1.7 1.7 0 1 0 -3.4 0M211.5 145.2a1.7 1.7 0 1 0 3.4 0a1.7 1.7 0 1 0 -3.4 0M212.2 139.4a1.7 1.7 0 1 0 3.4 0a1.7 1.7 0 1 0 -3.4 0M212 143.5a1.7 1.7 0 1 0 3.4 0a1.7 1.7 0 1 0 -3.4 0M212.1 138.6a1.7 1.7 0 1 0 3.4 0a1.7 1.7 0 1 0 -3.4 0M211.9 137.1a1.7 1.7 0 1 0 3.4 0a1.7 1.7 0 1 0 -3.4 0M213 132.3a1.7 1.7 0 1 0 3.4 0a1.7 1.7 0 1 0 -3.4 0M212.7 134.1a1.7 1.7 0 1 0 3.4 0a1.7 1.7 0 1 0 -3.4 0M213.1 140.1a1.7 1.7 0 1 0 3.4 0a1.7 1.7 0 1 0 -3.4 0M213.7 120.9a1.7 1.7 0 1 0 3.4 0a1.7 1.7 0 1 0 -3.4 0M213.9 133.9a1.7 1.7 0 1 0 3.4 0a1.7 1.7 0 1 0 -3.4 0M213.8 132.1a1.7 1.7 0 1 0 3.4 0a1.7 1.7 0 1 0 -3.4 0M214.6 139.7a1.7 1.7 0 1 0 3.4 0a1.7 1.7 0 1 0 -3.4 0M214.5 128.4a1.7 1.7 0 1 0 3.4 0a1.7 1.7 0 1 0 -3.4 0M214.6 126.6a1.7 1.7 0 1 0 3.4 0a1.7 1.7 0 1 0 -3.4 0M215.5 118.4a1.7 1.7 0 1 0 3.4 0a1.7 1.7 0 1 0 -3.4 0M215.5 121.2a1.7 1.7 0 1 0 3.4 0a1.7 1.7 0 1 0 -3.4 0M215.5 121.5a1.7 1.7 0 1 0 3.4 0a1.7 1.7 0 1 0 -3.4 0M216.2 121.7a1.7 1.7 0 1 0 3.4 0a1.7 1.7 0 1 0 -3.4 0M216.3 132.2a1.7 1.7 0 1 0 3.4 0a1.7 1.7 0 1 0 -3.4 0M216.2 110.5a1.7 1.7 0 1 0 3.4 0a1.7 1.7 0 1 0 -3.4 0M216.9 124.2a1.7 1.7 0 1 0 3.4 0a1.7 1.7 0 1 0 -3.4 0M217.1 111.1a1.7 1.7 0 1 0 3.4 0a1.7 1.7 0 1 0 -3.4 0M217 120.5a1.7 1.7 0 1 0 3.4 0a1.7 1.7 0 1 0 -3.4 0M217.8 132a1.7 1.7 0 1 0 3.4 0a1.7 1.7 0 1 0 -3.4 0M217.9 137.3a1.7 1.7 0 1 0 3.4 0a1.7 1.7 0 1 0 -3.4 0M217.8 123.2a1.7 1.7 0 1 0 3.4 0a1.7 1.7 0 1 0 -3.4 0M218.3 129.6a1.7 1.7 0 1 0 3.4 0a1.7 1.7 0 1 0 -3.4 0M218.7 96.7a1.7 1.7 0 1 0 3.4 0a1.7 1.7 0 1 0 -3.4 0M218.7 123a1.7 1.7 0 1 0 3.4 0a1.7 1.7 0 1 0 -3.4 0M219.5 113.8a1.7 1.7 0 1 0 3.4 0a1.7 1.7 0 1 0 -3.4 0M219.3 125.1a1.7 1.7 0 1 0 3.4 0a1.7 1.7 0 1 0 -3.4 0M219.1 119.5a1.7 1.7 0 1 0 3.4 0a1.7 1.7 0 1 0 -3.4 0M220.3 100.7a1.7 1.7 0 1 0 3.4 0a1.7 1.7 0 1 0 -3.4 0M220.2 127.1a1.7 1.7 0 1 0 3.4 0a1.7 1.7 0 1 0 -3.4 0M219.9 99.2a1.7 1.7 0 1 0 3.4 0a1.7 1.7 0 1 0 -3.4 0M220.2 122.8a1.7 1.7 0 1 0 3.4 0a1.7 1.7 0 1 0 -3.4 0M221.1 150.2a1.7 1.7 0 1 0 3.4 0a1.7 1.7 0 1 0 -3.4 0M220.9 105a1.7 1.7 0 1 0 3.4 0a1.7 1.7 0 1 0 -3.4 0M221 95.2a1.7 1.7 0 1 0 3.4 0a1.7 1.7 0 1 0 -3.4 0M221.7 132.1a1.7 1.7 0 1 0 3.4 0a1.7 1.7 0 1 0 -3.4 0M221.8 138.5a1.7 1.7 0 1 0 3.4 0a1.7 1.7 0 1 0 -3.4 0M221.9 133.1a1.7 1.7 0 1 0 3.4 0a1.7 1.7 0 1 0 -3.4 0M222.3 114.3a1.7 1.7 0 1 0 3.4 0a1.7 1.7 0 1 0 -3.4 0M222.7 102.5a1.7 1.7 0 1 0 3.4 0a1.7 1.7 0 1 0 -3.4 0M222.5 137.3a1.7 1.7 0 1 0 3.4 0a1.7 1.7 0 1 0 -3.4 0M223.3 132.2a1.7 1.7 0 1 0 3.4 0a1.7 1.7 0 1 0 -3.4 0M223.4 122.2a1.7 1.7 0 1 0 3.4 0a1.7 1.7 0 1 0 -3.4 0M223.1 97.8a1.7 1.7 0 1 0 3.4 0a1.7 1.7 0 1 0 -3.4 0M223.5 127.7a1.7 1.7 0 1 0 3.4 0a1.7 1.7 0 1 0 -3.4 0M223.9 127.3a1.7 1.7 0 1 0 3.4 0a1.7 1.7 0 1 0 -3.4 0M224.1 125a1.7 1.7 0 1 0 3.4 0a1.7 1.7 0 1 0 -3.4 0M224 113.1a1.7 1.7 0 1 0 3.4 0a1.7 1.7 0 1 0 -3.4 0M225.1 124.6a1.7 1.7 0 1 0 3.4 0a1.7 1.7 0 1 0 -3.4 0M225.1 103.2a1.7 1.7 0 1 0 3.4 0a1.7 1.7 0 1 0 -3.4 0M224.7 136a1.7 1.7 0 1 0 3.4 0a1.7 1.7 0 1 0 -3.4 0M225.6 109.6a1.7 1.7 0 1 0 3.4 0a1.7 1.7 0 1 0 -3.4 0M225.9 140.7a1.7 1.7 0 1 0 3.4 0a1.7 1.7 0 1 0 -3.4 0M225.8 115.1a1.7 1.7 0 1 0 3.4 0a1.7 1.7 0 1 0 -3.4 0M226.3 128.4a1.7 1.7 0 1 0 3.4 0a1.7 1.7 0 1 0 -3.4 0M226.4 129.4a1.7 1.7 0 1 0 3.4 0a1.7 1.7 0 1 0 -3.4 0M226.5 123.2a1.7 1.7 0 1 0 3.4 0a1.7 1.7 0 1 0 -3.4 0M227.2 103.2a1.7 1.7 0 1 0 3.4 0a1.7 1.7 0 1 0 -3.4 0M227.5 128.7a1.7 1.7 0 1 0 3.4 0a1.7 1.7 0 1 0 -3.4 0M227.2 130.3a1.7 1.7 0 1 0 3.4 0a1.7 1.7 0 1 0 -3.4 0M227.9 123.1a1.7 1.7 0 1 0 3.4 0a1.7 1.7 0 1 0 -3.4 0M228.2 126.1a1.7 1.7 0 1 0 3.4 0a1.7 1.7 0 1 0 -3.4 0M228.3 117a1.7 1.7 0 1 0 3.4 0a1.7 1.7 0 1 0 -3.4 0M228.2 109.9a1.7 1.7 0 1 0 3.4 0a1.7 1.7 0 1 0 -3.4 0M229 110.5a1.7 1.7 0 1 0 3.4 0a1.7 1.7 0 1 0 -3.4 0M229.1 131.2a1.7 1.7 0 1 0 3.4 0a1.7 1.7 0 1 0 -3.4 0M229.1 123.9a1.7 1.7 0 1 0 3.4 0a1.7 1.7 0 1 0 -3.4 0M229.7 124.1a1.7 1.7 0 1 0 3.4 0a1.7 1.7 0 1 0 -3.4 0M229.9 113a1.7 1.7 0 1 0 3.4 0a1.7 1.7 0 1 0 -3.4 0M229.9 104.8a1.7 1.7 0 1 0 3.4 0a1.7 1.7 0 1 0 -3.4 0M229.8 125.8a1.7 1.7 0 1 0 3.4 0a1.7 1.7 0 1 0 -3.4 0M230.4 123.7a1.7 1.7 0 1 0 3.4 0a1.7 1.7 0 1 0 -3.4 0M230.3 97.5a1.7 1.7 0 1 0 3.4 0a1.7 1.7 0 1 0 -3.4 0M230.7 141a1.7 1.7 0 1 0 3.4 0a1.7 1.7 0 1 0 -3.4 0M231.1 127.6a1.7 1.7 0 1 0 3.4 0a1.7 1.7 0 1 0 -3.4 0M231.2 120.6a1.7 1.7 0 1 0 3.4 0a1.7 1.7 0 1 0 -3.4 0M231.3 111a1.7 1.7 0 1 0 3.4 0a1.7 1.7 0 1 0 -3.4 0M231.4 162.7a1.7 1.7 0 1 0 3.4 0a1.7 1.7 0 1 0 -3.4 0M232.3 141.7a1.7 1.7 0 1 0 3.4 0a1.7 1.7 0 1 0 -3.4 0M231.9 138a1.7 1.7 0 1 0 3.4 0a1.7 1.7 0 1 0 -3.4 0M232.2 153.9a1.7 1.7 0 1 0 3.4 0a1.7 1.7 0 1 0 -3.4 0M233 124.6a1.7 1.7 0 1 0 3.4 0a1.7 1.7 0 1 0 -3.4 0M233 125.2a1.7 1.7 0 1 0 3.4 0a1.7 1.7 0 1 0 -3.4 0M232.8 127.1a1.7 1.7 0 1 0 3.4 0a1.7 1.7 0 1 0 -3.4 0M233.5 121.8a1.7 1.7 0 1 0 3.4 0a1.7 1.7 0 1 0 -3.4 0M233.7 130.7a1.7 1.7 0 1 0 3.4 0a1.7 1.7 0 1 0 -3.4 0M233.7 115.9a1.7 1.7 0 1 0 3.4 0a1.7 1.7 0 1 0 -3.4 0M233.5 145.3a1.7 1.7 0 1 0 3.4 0a1.7 1.7 0 1 0 -3.4 0M234.6 148.6a1.7 1.7 0 1 0 3.4 0a1.7 1.7 0 1 0 -3.4 0M234.3 160.1a1.7 1.7 0 1 0 3.4 0a1.7 1.7 0 1 0 -3.4 0M234.4 137.2a1.7 1.7 0 1 0 3.4 0a1.7 1.7 0 1 0 -3.4 0M234.6 157.3a1.7 1.7 0 1 0 3.4 0a1.7 1.7 0 1 0 -3.4 0M235.3 155.4a1.7 1.7 0 1 0 3.4 0a1.7 1.7 0 1 0 -3.4 0M235.1 132.7a1.7 1.7 0 1 0 3.4 0a1.7 1.7 0 1 0 -3.4 0M235.2 155.6a1.7 1.7 0 1 0 3.4 0a1.7 1.7 0 1 0 -3.4 0M235.2 152.7a1.7 1.7 0 1 0 3.4 0a1.7 1.7 0 1 0 -3.4 0M236 150.8a1.7 1.7 0 1 0 3.4 0a1.7 1.7 0 1 0 -3.4 0M236.3 152.1a1.7 1.7 0 1 0 3.4 0a1.7 1.7 0 1 0 -3.4 0M236.1 149.8a1.7 1.7 0 1 0 3.4 0a1.7 1.7 0 1 0 -3.4 0M237 149.4a1.7 1.7 0 1 0 3.4 0a1.7 1.7 0 1 0 -3.4 0M237 154.1a1.7 1.7 0 1 0 3.4 0a1.7 1.7 0 1 0 -3.4 0M236.7 150.4a1.7 1.7 0 1 0 3.4 0a1.7 1.7 0 1 0 -3.4 0M237.7 151.8a1.7 1.7 0 1 0 3.4 0a1.7 1.7 0 1 0 -3.4 0M237.8 161.5a1.7 1.7 0 1 0 3.4 0a1.7 1.7 0 1 0 -3.4 0M237.9 151.7a1.7 1.7 0 1 0 3.4 0a1.7 1.7 0 1 0 -3.4 0M238.3 148.1a1.7 1.7 0 1 0 3.4 0a1.7 1.7 0 1 0 -3.4 0M238.7 144a1.7 1.7 0 1 0 3.4 0a1.7 1.7 0 1 0 -3.4 0M238.4 151.4a1.7 1.7 0 1 0 3.4 0a1.7 1.7 0 1 0 -3.4 0M238.6 136.7a1.7 1.7 0 1 0 3.4 0a1.7 1.7 0 1 0 -3.4 0M239.5 150.4a1.7 1.7 0 1 0 3.4 0a1.7 1.7 0 1 0 -3.4 0M239.1 136a1.7 1.7 0 1 0 3.4 0a1.7 1.7 0 1 0 -3.4 0M239.4 148.8a1.7 1.7 0 1 0 3.4 0a1.7 1.7 0 1 0 -3.4 0M240 158a1.7 1.7 0 1 0 3.4 0a1.7 1.7 0 1 0 -3.4 0M239.9 141.4a1.7 1.7 0 1 0 3.4 0a1.7 1.7 0 1 0 -3.4 0M239.9 142.9a1.7 1.7 0 1 0 3.4 0a1.7 1.7 0 1 0 -3.4 0M240.7 134.6a1.7 1.7 0 1 0 3.4 0a1.7 1.7 0 1 0 -3.4 0M241.1 157.3a1.7 1.7 0 1 0 3.4 0a1.7 1.7 0 1 0 -3.4 0M240.9 153.4a1.7 1.7 0 1 0 3.4 0a1.7 1.7 0 1 0 -3.4 0M241.8 139.7a1.7 1.7 0 1 0 3.4 0a1.7 1.7 0 1 0 -3.4 0M241.9 157.3a1.7 1.7 0 1 0 3.4 0a1.7 1.7 0 1 0 -3.4 0M241.5 157.8a1.7 1.7 0 1 0 3.4 0a1.7 1.7 0 1 0 -3.4 0M241.8 155.7a1.7 1.7 0 1 0 3.4 0a1.7 1.7 0 1 0 -3.4 0M242.6 155.7a1.7 1.7 0 1 0 3.4 0a1.7 1.7 0 1 0 -3.4 0M242.3 158.2a1.7 1.7 0 1 0 3.4 0a1.7 1.7 0 1 0 -3.4 0M242.4 163.8a1.7 1.7 0 1 0 3.4 0a1.7 1.7 0 1 0 -3.4 0M243.4 126.6a1.7 1.7 0 1 0 3.4 0a1.7 1.7 0 1 0 -3.4 0M243.3 159.7a1.7 1.7 0 1 0 3.4 0a1.7 1.7 0 1 0 -3.4 0M243.3 149.6a1.7 1.7 0 1 0 3.4 0a1.7 1.7 0 1 0 -3.4 0M244.1 147.6a1.7 1.7 0 1 0 3.4 0a1.7 1.7 0 1 0 -3.4 0M244.1 157.3a1.7 1.7 0 1 0 3.4 0a1.7 1.7 0 1 0 -3.4 0M244 140a1.7 1.7 0 1 0 3.4 0a1.7 1.7 0 1 0 -3.4 0M244.2 153a1.7 1.7 0 1 0 3.4 0a1.7 1.7 0 1 0 -3.4 0M244.8 154.6a1.7 1.7 0 1 0 3.4 0a1.7 1.7 0 1 0 -3.4 0M244.9 136.7a1.7 1.7 0 1 0 3.4 0a1.7 1.7 0 1 0 -3.4 0M245.1 143.2a1.7 1.7 0 1 0 3.4 0a1.7 1.7 0 1 0 -3.4 0M244.9 153a1.7 1.7 0 1 0 3.4 0a1.7 1.7 0 1 0 -3.4 0M245.7 153.4a1.7 1.7 0 1 0 3.4 0a1.7 1.7 0 1 0 -3.4 0M245.6 146.7a1.7 1.7 0 1 0 3.4 0a1.7 1.7 0 1 0 -3.4 0M245.6 154.5a1.7 1.7 0 1 0 3.4 0a1.7 1.7 0 1 0 -3.4 0M246.6 137.1a1.7 1.7 0 1 0 3.4 0a1.7 1.7 0 1 0 -3.4 0M246.6 143.8a1.7 1.7 0 1 0 3.4 0a1.7 1.7 0 1 0 -3.4 0M246.3 142a1.7 1.7 0 1 0 3.4 0a1.7 1.7 0 1 0 -3.4 0M246.3 160.6a1.7 1.7 0 1 0 3.4 0a1.7 1.7 0 1 0 -3.4 0M247.5 151.3a1.7 1.7 0 1 0 3.4 0a1.7 1.7 0 1 0 -3.4 0M247.2 161.6a1.7 1.7 0 1 0 3.4 0a1.7 1.7 0 1 0 -3.4 0M247.3 160.2a1.7 1.7 0 1 0 3.4 0a1.7 1.7 0 1 0 -3.4 0M248.1 148.5a1.7 1.7 0 1 0 3.4 0a1.7 1.7 0 1 0 -3.4 0M248.3 131.2a1.7 1.7 0 1 0 3.4 0a1.7 1.7 0 1 0 -3.4 0M248.1 142.4a1.7 1.7 0 1 0 3.4 0a1.7 1.7 0 1 0 -3.4 0M247.9 166.6a1.7 1.7 0 1 0 3.4 0a1.7 1.7 0 1 0 -3.4 0M249.1 142.8a1.7 1.7 0 1 0 3.4 0a1.7 1.7 0 1 0 -3.4 0M248.9 162a1.7 1.7 0 1 0 3.4 0a1.7 1.7 0 1 0 -3.4 0M249 149.5a1.7 1.7 0 1 0 3.4 0a1.7 1.7 0 1 0 -3.4 0M249.6 154.7a1.7 1.7 0 1 0 3.4 0a1.7 1.7 0 1 0 -3.4 0M249.6 157.9a1.7 1.7 0 1 0 3.4 0a1.7 1.7 0 1 0 -3.4 0M249.5 153.7a1.7 1.7 0 1 0 3.4 0a1.7 1.7 0 1 0 -3.4 0M249.8 144.6a1.7 1.7 0 1 0 3.4 0a1.7 1.7 0 1 0 -3.4 0M250.3 159.1a1.7 1.7 0 1 0 3.4 0a1.7 1.7 0 1 0 -3.4 0M250.6 150.3a1.7 1.7 0 1 0 3.4 0a1.7 1.7 0 1 0 -3.4 0M250.7 155.4a1.7 1.7 0 1 0 3.4 0a1.7 1.7 0 1 0 -3.4 0M250.5 135a1.7 1.7 0 1 0 3.4 0a1.7 1.7 0 1 0 -3.4 0M251.4 147.3a1.7 1.7 0 1 0 3.4 0a1.7 1.7 0 1 0 -3.4 0M251.3 154.2a1.7 1.7 0 1 0 3.4 0a1.7 1.7 0 1 0 -3.4 0M251.3 154.2a1.7 1.7 0 1 0 3.4 0a1.7 1.7 0 1 0 -3.4 0M251.5 162.5a1.7 1.7 0 1 0 3.4 0a1.7 1.7 0 1 0 -3.4 0M252 160.8a1.7 1.7 0 1 0 3.4 0a1.7 1.7 0 1 0 -3.4 0M252 159.7a1.7 1.7 0 1 0 3.4 0a1.7 1.7 0 1 0 -3.4 0M252 153.2a1.7 1.7 0 1 0 3.4 0a1.7 1.7 0 1 0 -3.4 0M253.1 154.6a1.7 1.7 0 1 0 3.4 0a1.7 1.7 0 1 0 -3.4 0M253 151.8a1.7 1.7 0 1 0 3.4 0a1.7 1.7 0 1 0 -3.4 0M253.1 139.6a1.7 1.7 0 1 0 3.4 0a1.7 1.7 0 1 0 -3.4 0M252.7 147.1a1.7 1.7 0 1 0 3.4 0a1.7 1.7 0 1 0 -3.4 0M265.5 158.7a1.7 1.7 0 1 0 3.4 0a1.7 1.7 0 1 0 -3.4 0M265.4 155.4a1.7 1.7 0 1 0 3.4 0a1.7 1.7 0 1 0 -3.4 0M265.3 161.2a1.7 1.7 0 1 0 3.4 0a1.7 1.7 0 1 0 -3.4 0M265.5 159.3a1.7 1.7 0 1 0 3.4 0a1.7 1.7 0 1 0 -3.4 0M266.3 160.7a1.7 1.7 0 1 0 3.4 0a1.7 1.7 0 1 0 -3.4 0M266.3 155.9a1.7 1.7 0 1 0 3.4 0a1.7 1.7 0 1 0 -3.4 0M266.5 160.3a1.7 1.7 0 1 0 3.4 0a1.7 1.7 0 1 0 -3.4 0M266.2 170.2a1.7 1.7 0 1 0 3.4 0a1.7 1.7 0 1 0 -3.4 0M267 172.6a1.7 1.7 0 1 0 3.4 0a1.7 1.7 0 1 0 -3.4 0M266.9 166.2a1.7 1.7 0 1 0 3.4 0a1.7 1.7 0 1 0 -3.4 0M267.1 154.7a1.7 1.7 0 1 0 3.4 0a1.7 1.7 0 1 0 -3.4 0M267 163a1.7 1.7 0 1 0 3.4 0a1.7 1.7 0 1 0 -3.4 0M267.8 155.2a1.7 1.7 0 1 0 3.4 0a1.7 1.7 0 1 0 -3.4 0M268 161.3a1.7 1.7 0 1 0 3.4 0a1.7 1.7 0 1 0 -3.4 0M267.9 160.1a1.7 1.7 0 1 0 3.4 0a1.7 1.7 0 1 0 -3.4 0M268.1 171.5a1.7 1.7 0 1 0 3.4 0a1.7 1.7 0 1 0 -3.4 0M268.5 163a1.7 1.7 0 1 0 3.4 0a1.7 1.7 0 1 0 -3.4 0M268.8 177.9a1.7 1.7 0 1 0 3.4 0a1.7 1.7 0 1 0 -3.4 0M268.7 161.4a1.7 1.7 0 1 0 3.4 0a1.7 1.7 0 1 0 -3.4 0M268.8 164.3a1.7 1.7 0 1 0 3.4 0a1.7 1.7 0 1 0 -3.4 0M269.3 157.4a1.7 1.7 0 1 0 3.4 0a1.7 1.7 0 1 0 -3.4 0M269.4 158a1.7 1.7 0 1 0 3.4 0a1.7 1.7 0 1 0 -3.4 0M269.3 140.6a1.7 1.7 0 1 0 3.4 0a1.7 1.7 0 1 0 -3.4 0M269.4 162a1.7 1.7 0 1 0 3.4 0a1.7 1.7 0 1 0 -3.4 0M270.4 163.2a1.7 1.7 0 1 0 3.4 0a1.7 1.7 0 1 0 -3.4 0M270.3 152.1a1.7 1.7 0 1 0 3.4 0a1.7 1.7 0 1 0 -3.4 0M270.3 161.7a1.7 1.7 0 1 0 3.4 0a1.7 1.7 0 1 0 -3.4 0M270.5 154a1.7 1.7 0 1 0 3.4 0a1.7 1.7 0 1 0 -3.4 0M270.9 158.9a1.7 1.7 0 1 0 3.4 0a1.7 1.7 0 1 0 -3.4 0M271.3 158.2a1.7 1.7 0 1 0 3.4 0a1.7 1.7 0 1 0 -3.4 0M271 162.8a1.7 1.7 0 1 0 3.4 0a1.7 1.7 0 1 0 -3.4 0M271.1 152.2a1.7 1.7 0 1 0 3.4 0a1.7 1.7 0 1 0 -3.4 0M271.9 163.9a1.7 1.7 0 1 0 3.4 0a1.7 1.7 0 1 0 -3.4 0M272.1 147.7a1.7 1.7 0 1 0 3.4 0a1.7 1.7 0 1 0 -3.4 0M272.1 157.1a1.7 1.7 0 1 0 3.4 0a1.7 1.7 0 1 0 -3.4 0M271.7 161.7a1.7 1.7 0 1 0 3.4 0a1.7 1.7 0 1 0 -3.4 0M272.5 160.5a1.7 1.7 0 1 0 3.4 0a1.7 1.7 0 1 0 -3.4 0M272.9 161.6a1.7 1.7 0 1 0 3.4 0a1.7 1.7 0 1 0 -3.4 0M272.9 164.4a1.7 1.7 0 1 0 3.4 0a1.7 1.7 0 1 0 -3.4 0M272.6 156.5a1.7 1.7 0 1 0 3.4 0a1.7 1.7 0 1 0 -3.4 0M273.6 155.4a1.7 1.7 0 1 0 3.4 0a1.7 1.7 0 1 0 -3.4 0M273.5 158.4a1.7 1.7 0 1 0 3.4 0a1.7 1.7 0 1 0 -3.4 0M273.7 162a1.7 1.7 0 1 0 3.4 0a1.7 1.7 0 1 0 -3.4 0M273.6 164a1.7 1.7 0 1 0 3.4 0a1.7 1.7 0 1 0 -3.4 0M274.5 151.5a1.7 1.7 0 1 0 3.4 0a1.7 1.7 0 1 0 -3.4 0M274.2 166a1.7 1.7 0 1 0 3.4 0a1.7 1.7 0 1 0 -3.4 0M274.2 154.6a1.7 1.7 0 1 0 3.4 0a1.7 1.7 0 1 0 -3.4 0M274.2 158.9a1.7 1.7 0 1 0 3.4 0a1.7 1.7 0 1 0 -3.4 0M274.9 155.2a1.7 1.7 0 1 0 3.4 0a1.7 1.7 0 1 0 -3.4 0M275 141.9a1.7 1.7 0 1 0 3.4 0a1.7 1.7 0 1 0 -3.4 0M275 153.9a1.7 1.7 0 1 0 3.4 0a1.7 1.7 0 1 0 -3.4 0M275.1 143.7a1.7 1.7 0 1 0 3.4 0a1.7 1.7 0 1 0 -3.4 0M275.9 142.9a1.7 1.7 0 1 0 3.4 0a1.7 1.7 0 1 0 -3.4 0M276 156.9a1.7 1.7 0 1 0 3.4 0a1.7 1.7 0 1 0 -3.4 0M276.1 162.7a1.7 1.7 0 1 0 3.4 0a1.7 1.7 0 1 0 -3.4 0M275.9 160.6a1.7 1.7 0 1 0 3.4 0a1.7 1.7 0 1 0 -3.4 0M276.6 158.3a1.7 1.7 0 1 0 3.4 0a1.7 1.7 0 1 0 -3.4 0M276.6 159a1.7 1.7 0 1 0 3.4 0a1.7 1.7 0 1 0 -3.4 0M276.7 140.5a1.7 1.7 0 1 0 3.4 0a1.7 1.7 0 1 0 -3.4 0M276.8 152.5a1.7 1.7 0 1 0 3.4 0a1.7 1.7 0 1 0 -3.4 0M277.6 154.5a1.7 1.7 0 1 0 3.4 0a1.7 1.7 0 1 0 -3.4 0M277.6 147.3a1.7 1.7 0 1 0 3.4 0a1.7 1.7 0 1 0 -3.4 0M277.3 166.9a1.7 1.7 0 1 0 3.4 0a1.7 1.7 0 1 0 -3.4 0M277.3 165.2a1.7 1.7 0 1 0 3.4 0a1.7 1.7 0 1 0 -3.4 0M278.2 165.6a1.7 1.7 0 1 0 3.4 0a1.7 1.7 0 1 0 -3.4 0M278.1 166.4a1.7 1.7 0 1 0 3.4 0a1.7 1.7 0 1 0 -3.4 0M278.3 153.5a1.7 1.7 0 1 0 3.4 0a1.7 1.7 0 1 0 -3.4 0M278.1 165.6a1.7 1.7 0 1 0 3.4 0a1.7 1.7 0 1 0 -3.4 0M278.9 164.9a1.7 1.7 0 1 0 3.4 0a1.7 1.7 0 1 0 -3.4 0M279 152.9a1.7 1.7 0 1 0 3.4 0a1.7 1.7 0 1 0 -3.4 0M279 163.1a1.7 1.7 0 1 0 3.4 0a1.7 1.7 0 1 0 -3.4 0M279.2 158.2a1.7 1.7 0 1 0 3.4 0a1.7 1.7 0 1 0 -3.4 0M279.7 157a1.7 1.7 0 1 0 3.4 0a1.7 1.7 0 1 0 -3.4 0M279.9 155.2a1.7 1.7 0 1 0 3.4 0a1.7 1.7 0 1 0 -3.4 0M279.7 181.9a1.7 1.7 0 1 0 3.4 0a1.7 1.7 0 1 0 -3.4 0M279.8 135.7a1.7 1.7 0 1 0 3.4 0a1.7 1.7 0 1 0 -3.4 0M280.5 160a1.7 1.7 0 1 0 3.4 0a1.7 1.7 0 1 0 -3.4 0M280.7 167.3a1.7 1.7 0 1 0 3.4 0a1.7 1.7 0 1 0 -3.4 0M280.8 166.4a1.7 1.7 0 1 0 3.4 0a1.7 1.7 0 1 0 -3.4 0M280.5 162.3a1.7 1.7 0 1 0 3.4 0a1.7 1.7 0 1 0 -3.4 0M281.6 173.4a1.7 1.7 0 1 0 3.4 0a1.7 1.7 0 1 0 -3.4 0M281.3 139.2a1.7 1.7 0 1 0 3.4 0a1.7 1.7 0 1 0 -3.4 0M281.5 175.4a1.7 1.7 0 1 0 3.4 0a1.7 1.7 0 1 0 -3.4 0M281.3 164.2a1.7 1.7 0 1 0 3.4 0a1.7 1.7 0 1 0 -3.4 0M282.3 155.5a1.7 1.7 0 1 0 3.4 0a1.7 1.7 0 1 0 -3.4 0M282.3 174.9a1.7 1.7 0 1 0 3.4 0a1.7 1.7 0 1 0 -3.4 0M282.3 175.9a1.7 1.7 0 1 0 3.4 0a1.7 1.7 0 1 0 -3.4 0M282.3 163.9a1.7 1.7 0 1 0 3.4 0a1.7 1.7 0 1 0 -3.4 0M283 136.8a1.7 1.7 0 1 0 3.4 0a1.7 1.7 0 1 0 -3.4 0M283 164.3a1.7 1.7 0 1 0 3.4 0a1.7 1.7 0 1 0 -3.4 0M283.3 182.2a1.7 1.7 0 1 0 3.4 0a1.7 1.7 0 1 0 -3.4 0M283.3 171.8a1.7 1.7 0 1 0 3.4 0a1.7 1.7 0 1 0 -3.4 0M283.8 167.9a1.7 1.7 0 1 0 3.4 0a1.7 1.7 0 1 0 -3.4 0M284 157.1a1.7 1.7 0 1 0 3.4 0a1.7 1.7 0 1 0 -3.4 0M284 180.1a1.7 1.7 0 1 0 3.4 0a1.7 1.7 0 1 0 -3.4 0M283.9 172.6a1.7 1.7 0 1 0 3.4 0a1.7 1.7 0 1 0 -3.4 0M284.8 168.3a1.7 1.7 0 1 0 3.4 0a1.7 1.7 0 1 0 -3.4 0M284.7 186a1.7 1.7 0 1 0 3.4 0a1.7 1.7 0 1 0 -3.4 0M284.5 171.5a1.7 1.7 0 1 0 3.4 0a1.7 1.7 0 1 0 -3.4 0M284.5 168.4a1.7 1.7 0 1 0 3.4 0a1.7 1.7 0 1 0 -3.4 0M285.3 163.8a1.7 1.7 0 1 0 3.4 0a1.7 1.7 0 1 0 -3.4 0M285.3 178.4a1.7 1.7 0 1 0 3.4 0a1.7 1.7 0 1 0 -3.4 0M285.4 180.4a1.7 1.7 0 1 0 3.4 0a1.7 1.7 0 1 0 -3.4 0M285.4 170.7a1.7 1.7 0 1 0 3.4 0a1.7 1.7 0 1 0 -3.4 0M286.4 177.4a1.7 1.7 0 1 0 3.4 0a1.7 1.7 0 1 0 -3.4 0M286.2 156.8a1.7 1.7 0 1 0 3.4 0a1.7 1.7 0 1 0 -3.4 0M286.1 154.9a1.7 1.7 0 1 0 3.4 0a1.7 1.7 0 1 0 -3.4 0M286.3 178.5a1.7 1.7 0 1 0 3.4 0a1.7 1.7 0 1 0 -3.4 0M286.9 163.5a1.7 1.7 0 1 0 3.4 0a1.7 1.7 0 1 0 -3.4 0M287.3 171.4a1.7 1.7 0 1 0 3.4 0a1.7 1.7 0 1 0 -3.4 0M287.1 170.8a1.7 1.7 0 1 0 3.4 0a1.7 1.7 0 1 0 -3.4 0M287.3 173.6a1.7 1.7 0 1 0 3.4 0a1.7 1.7 0 1 0 -3.4 0M288 205.7a1.7 1.7 0 1 0 3.4 0a1.7 1.7 0 1 0 -3.4 0M287.8 178.7a1.7 1.7 0 1 0 3.4 0a1.7 1.7 0 1 0 -3.4 0M287.7 168.2a1.7 1.7 0 1 0 3.4 0a1.7 1.7 0 1 0 -3.4 0M287.7 174.8a1.7 1.7 0 1 0 3.4 0a1.7 1.7 0 1 0 -3.4 0M288.5 174.5a1.7 1.7 0 1 0 3.4 0a1.7 1.7 0 1 0 -3.4 0M288.5 172.8a1.7 1.7 0 1 0 3.4 0a1.7 1.7 0 1 0 -3.4 0M288.7 169.4a1.7 1.7 0 1 0 3.4 0a1.7 1.7 0 1 0 -3.4 0M288.5 176.1a1.7 1.7 0 1 0 3.4 0a1.7 1.7 0 1 0 -3.4 0M289.7 156a1.7 1.7 0 1 0 3.4 0a1.7 1.7 0 1 0 -3.4 0M289.3 180.3a1.7 1.7 0 1 0 3.4 0a1.7 1.7 0 1 0 -3.4 0M289.6 154.1a1.7 1.7 0 1 0 3.4 0a1.7 1.7 0 1 0 -3.4 0M289.5 159.4a1.7 1.7 0 1 0 3.4 0a1.7 1.7 0 1 0 -3.4 0M290.2 158.9a1.7 1.7 0 1 0 3.4 0a1.7 1.7 0 1 0 -3.4 0M290.4 157.1a1.7 1.7 0 1 0 3.4 0a1.7 1.7 0 1 0 -3.4 0M290.5 151.3a1.7 1.7 0 1 0 3.4 0a1.7 1.7 0 1 0 -3.4 0M290.3 165.9a1.7 1.7 0 1 0 3.4 0a1.7 1.7 0 1 0 -3.4 0M291 146.3a1.7 1.7 0 1 0 3.4 0a1.7 1.7 0 1 0 -3.4 0M291.3 172.2a1.7 1.7 0 1 0 3.4 0a1.7 1.7 0 1 0 -3.4 0M291.3 169a1.7 1.7 0 1 0 3.4 0a1.7 1.7 0 1 0 -3.4 0M291.2 161a1.7 1.7 0 1 0 3.4 0a1.7 1.7 0 1 0 -3.4 0M292 168.6a1.7 1.7 0 1 0 3.4 0a1.7 1.7 0 1 0 -3.4 0M292.1 148.6a1.7 1.7 0 1 0 3.4 0a1.7 1.7 0 1 0 -3.4 0M291.8 156.6a1.7 1.7 0 1 0 3.4 0a1.7 1.7 0 1 0 -3.4 0M292.5 154.6a1.7 1.7 0 1 0 3.4 0a1.7 1.7 0 1 0 -3.4 0M292.5 144.7a1.7 1.7 0 1 0 3.4 0a1.7 1.7 0 1 0 -3.4 0M292.5 160.9a1.7 1.7 0 1 0 3.4 0a1.7 1.7 0 1 0 -3.4 0M293.4 147.1a1.7 1.7 0 1 0 3.4 0a1.7 1.7 0 1 0 -3.4 0M293.6 158.8a1.7 1.7 0 1 0 3.4 0a1.7 1.7 0 1 0 -3.4 0M293.5 144.8a1.7 1.7 0 1 0 3.4 0a1.7 1.7 0 1 0 -3.4 0M294.5 146.8a1.7 1.7 0 1 0 3.4 0a1.7 1.7 0 1 0 -3.4 0M294.5 133.1a1.7 1.7 0 1 0 3.4 0a1.7 1.7 0 1 0 -3.4 0M294.4 155.8a1.7 1.7 0 1 0 3.4 0a1.7 1.7 0 1 0 -3.4 0M295.3 154.2a1.7 1.7 0 1 0 3.4 0a1.7 1.7 0 1 0 -3.4 0M295.1 144.5a1.7 1.7 0 1 0 3.4 0a1.7 1.7 0 1 0 -3.4 0M295 155.1a1.7 1.7 0 1 0 3.4 0a1.7 1.7 0 1 0 -3.4 0M295.7 129.8a1.7 1.7 0 1 0 3.4 0a1.7 1.7 0 1 0 -3.4 0M295.9 151.6a1.7 1.7 0 1 0 3.4 0a1.7 1.7 0 1 0 -3.4 0M295.7 155.8a1.7 1.7 0 1 0 3.4 0a1.7 1.7 0 1 0 -3.4 0M296.9 136.6a1.7 1.7 0 1 0 3.4 0a1.7 1.7 0 1 0 -3.4 0M296.6 160.9a1.7 1.7 0 1 0 3.4 0a1.7 1.7 0 1 0 -3.4 0M296.5 128.6a1.7 1.7 0 1 0 3.4 0a1.7 1.7 0 1 0 -3.4 0M296.9 149.3a1.7 1.7 0 1 0 3.4 0a1.7 1.7 0 1 0 -3.4 0M297.7 146.1a1.7 1.7 0 1 0 3.4 0a1.7 1.7 0 1 0 -3.4 0M297.3 151.6a1.7 1.7 0 1 0 3.4 0a1.7 1.7 0 1 0 -3.4 0M297.5 137a1.7 1.7 0 1 0 3.4 0a1.7 1.7 0 1 0 -3.4 0M297.7 144.2a1.7 1.7 0 1 0 3.4 0a1.7 1.7 0 1 0 -3.4 0M298.5 165.8a1.7 1.7 0 1 0 3.4 0a1.7 1.7 0 1 0 -3.4 0M298.4 154.4a1.7 1.7 0 1 0 3.4 0a1.7 1.7 0 1 0 -3.4 0M298.4 125a1.7 1.7 0 1 0 3.4 0a1.7 1.7 0 1 0 -3.4 0M299 136a1.7 1.7 0 1 0 3.4 0a1.7 1.7 0 1 0 -3.4 0M298.9 138.4a1.7 1.7 0 1 0 3.4 0a1.7 1.7 0 1 0 -3.4 0M299.2 128.4a1.7 1.7 0 1 0 3.4 0a1.7 1.7 0 1 0 -3.4 0M300.1 131.3a1.7 1.7 0 1 0 3.4 0a1.7 1.7 0 1 0 -3.4 0M299.8 132.6a1.7 1.7 0 1 0 3.4 0a1.7 1.7 0 1 0 -3.4 0M299.8 133.7a1.7 1.7 0 1 0 3.4 0a1.7 1.7 0 1 0 -3.4 0M300.9 114.7a1.7 1.7 0 1 0 3.4 0a1.7 1.7 0 1 0 -3.4 0M300.7 121.4a1.7 1.7 0 1 0 3.4 0a1.7 1.7 0 1 0 -3.4 0M300.5 142.2a1.7 1.7 0 1 0 3.4 0a1.7 1.7 0 1 0 -3.4 0M301.4 119.2a1.7 1.7 0 1 0 3.4 0a1.7 1.7 0 1 0 -3.4 0M301.3 117a1.7 1.7 0 1 0 3.4 0a1.7 1.7 0 1 0 -3.4 0M301.4 164.1a1.7 1.7 0 1 0 3.4 0a1.7 1.7 0 1 0 -3.4 0M302.4 124a1.7 1.7 0 1 0 3.4 0a1.7 1.7 0 1 0 -3.4 0M302.5 136.3a1.7 1.7 0 1 0 3.4 0a1.7 1.7 0 1 0 -3.4 0M302.1 138.7a1.7 1.7 0 1 0 3.4 0a1.7 1.7 0 1 0 -3.4 0M303.3 115.6a1.7 1.7 0 1 0 3.4 0a1.7 1.7 0 1 0 -3.4 0M303.1 142.1a1.7 1.7 0 1 0 3.4 0a1.7 1.7 0 1 0 -3.4 0M303 123.3a1.7 1.7 0 1 0 3.4 0a1.7 1.7 0 1 0 -3.4 0M303.8 133.2a1.7 1.7 0 1 0 3.4 0a1.7 1.7 0 1 0 -3.4 0M304.1 138.2a1.7 1.7 0 1 0 3.4 0a1.7 1.7 0 1 0 -3.4 0M303.7 147.1a1.7 1.7 0 1 0 3.4 0a1.7 1.7 0 1 0 -3.4 0M304.9 127a1.7 1.7 0 1 0 3.4 0a1.7 1.7 0 1 0 -3.4 0M304.7 109.5a1.7 1.7 0 1 0 3.4 0a1.7 1.7 0 1 0 -3.4 0M304.5 128.5a1.7 1.7 0 1 0 3.4 0a1.7 1.7 0 1 0 -3.4 0M305.5 142.2a1.7 1.7 0 1 0 3.4 0a1.7 1.7 0 1 0 -3.4 0M305.5 133.6a1.7 1.7 0 1 0 3.4 0a1.7 1.7 0 1 0 -3.4 0M305.7 140.4a1.7 1.7 0 1 0 3.4 0a1.7 1.7 0 1 0 -3.4 0M305.3 119.7a1.7 1.7 0 1 0 3.4 0a1.7 1.7 0 1 0 -3.4 0M306.1 126.8a1.7 1.7 0 1 0 3.4 0a1.7 1.7 0 1 0 -3.4 0M306.4 136.3a1.7 1.7 0 1 0 3.4 0a1.7 1.7 0 1 0 -3.4 0M306.5 159.7a1.7 1.7 0 1 0 3.4 0a1.7 1.7 0 1 0 -3.4 0M307 137.1a1.7 1.7 0 1 0 3.4 0a1.7 1.7 0 1 0 -3.4 0M307 156.1a1.7 1.7 0 1 0 3.4 0a1.7 1.7 0 1 0 -3.4 0M307.3 121.5a1.7 1.7 0 1 0 3.4 0a1.7 1.7 0 1 0 -3.4 0M307.7 134.4a1.7 1.7 0 1 0 3.4 0a1.7 1.7 0 1 0 -3.4 0M307.9 140.7a1.7 1.7 0 1 0 3.4 0a1.7 1.7 0 1 0 -3.4 0M307.9 116.9a1.7 1.7 0 1 0 3.4 0a1.7 1.7 0 1 0 -3.4 0M308.8 146.8a1.7 1.7 0 1 0 3.4 0a1.7 1.7 0 1 0 -3.4 0M308.9 144.3a1.7 1.7 0 1 0 3.4 0a1.7 1.7 0 1 0 -3.4 0M308.8 157.8a1.7 1.7 0 1 0 3.4 0a1.7 1.7 0 1 0 -3.4 0M309.4 148.2a1.7 1.7 0 1 0 3.4 0a1.7 1.7 0 1 0 -3.4 0M309.6 131.5a1.7 1.7 0 1 0 3.4 0a1.7 1.7 0 1 0 -3.4 0M309.5 143.2a1.7 1.7 0 1 0 3.4 0a1.7 1.7 0 1 0 -3.4 0M309.6 152.1a1.7 1.7 0 1 0 3.4 0a1.7 1.7 0 1 0 -3.4 0M310.2 143.8a1.7 1.7 0 1 0 3.4 0a1.7 1.7 0 1 0 -3.4 0M310.1 128.9a1.7 1.7 0 1 0 3.4 0a1.7 1.7 0 1 0 -3.4 0M310.1 139.4a1.7 1.7 0 1 0 3.4 0a1.7 1.7 0 1 0 -3.4 0M311.3 155.5a1.7 1.7 0 1 0 3.4 0a1.7 1.7 0 1 0 -3.4 0M311.1 161a1.7 1.7 0 1 0 3.4 0a1.7 1.7 0 1 0 -3.4 0M310.9 140.5a1.7 1.7 0 1 0 3.4 0a1.7 1.7 0 1 0 -3.4 0M312 151.6a1.7 1.7 0 1 0 3.4 0a1.7 1.7 0 1 0 -3.4 0M311.7 153.6a1.7 1.7 0 1 0 3.4 0a1.7 1.7 0 1 0 -3.4 0M312.1 135a1.7 1.7 0 1 0 3.4 0a1.7 1.7 0 1 0 -3.4 0M311.8 161.8a1.7 1.7 0 1 0 3.4 0a1.7 1.7 0 1 0 -3.4 0M312.9 139.4a1.7 1.7 0 1 0 3.4 0a1.7 1.7 0 1 0 -3.4 0M312.5 148.5a1.7 1.7 0 1 0 3.4 0a1.7 1.7 0 1 0 -3.4 0M312.9 128.2a1.7 1.7 0 1 0 3.4 0a1.7 1.7 0 1 0 -3.4 0M312.6 156.9a1.7 1.7 0 1 0 3.4 0a1.7 1.7 0 1 0 -3.4 0M313.6 125.1a1.7 1.7 0 1 0 3.4 0a1.7 1.7 0 1 0 -3.4 0M313.5 144.9a1.7 1.7 0 1 0 3.4 0a1.7 1.7 0 1 0 -3.4 0M313.3 153a1.7 1.7 0 1 0 3.4 0a1.7 1.7 0 1 0 -3.4 0M314.2 135.2a1.7 1.7 0 1 0 3.4 0a1.7 1.7 0 1 0 -3.4 0M314.4 130.2a1.7 1.7 0 1 0 3.4 0a1.7 1.7 0 1 0 -3.4 0M314.2 151.6a1.7 1.7 0 1 0 3.4 0a1.7 1.7 0 1 0 -3.4 0M315.3 149.1a1.7 1.7 0 1 0 3.4 0a1.7 1.7 0 1 0 -3.4 0M314.9 132.1a1.7 1.7 0 1 0 3.4 0a1.7 1.7 0 1 0 -3.4 0M314.9 160.1a1.7 1.7 0 1 0 3.4 0a1.7 1.7 0 1 0 -3.4 0M316 150.2a1.7 1.7 0 1 0 3.4 0a1.7 1.7 0 1 0 -3.4 0M316.1 147.7a1.7 1.7 0 1 0 3.4 0a1.7 1.7 0 1 0 -3.4 0M315.9 152.5a1.7 1.7 0 1 0 3.4 0a1.7 1.7 0 1 0 -3.4 0M316 145.9a1.7 1.7 0 1 0 3.4 0a1.7 1.7 0 1 0 -3.4 0M316.7 141.8a1.7 1.7 0 1 0 3.4 0a1.7 1.7 0 1 0 -3.4 0M316.6 138.4a1.7 1.7 0 1 0 3.4 0a1.7 1.7 0 1 0 -3.4 0M316.8 145.2a1.7 1.7 0 1 0 3.4 0a1.7 1.7 0 1 0 -3.4 0M317.6 149.9a1.7 1.7 0 1 0 3.4 0a1.7 1.7 0 1 0 -3.4 0M317.4 161.1a1.7 1.7 0 1 0 3.4 0a1.7 1.7 0 1 0 -3.4 0M317.5 129.9a1.7 1.7 0 1 0 3.4 0a1.7 1.7 0 1 0 -3.4 0M318.2 149.5a1.7 1.7 0 1 0 3.4 0a1.7 1.7 0 1 0 -3.4 0M318.1 147.5a1.7 1.7 0 1 0 3.4 0a1.7 1.7 0 1 0 -3.4 0M318.5 129.7a1.7 1.7 0 1 0 3.4 0a1.7 1.7 0 1 0 -3.4 0M318.5 141.5a1.7 1.7 0 1 0 3.4 0a1.7 1.7 0 1 0 -3.4 0M319.2 137.8a1.7 1.7 0 1 0 3.4 0a1.7 1.7 0 1 0 -3.4 0M319 114.7a1.7 1.7 0 1 0 3.4 0a1.7 1.7 0 1 0 -3.4 0M319 127.9a1.7 1.7 0 1 0 3.4 0a1.7 1.7 0 1 0 -3.4 0M319.3 142.4a1.7 1.7 0 1 0 3.4 0a1.7 1.7 0 1 0 -3.4 0M320.1 150.6a1.7 1.7 0 1 0 3.4 0a1.7 1.7 0 1 0 -3.4 0M320.1 153.2a1.7 1.7 0 1 0 3.4 0a1.7 1.7 0 1 0 -3.4 0M320.1 154.8a1.7 1.7 0 1 0 3.4 0a1.7 1.7 0 1 0 -3.4 0M320.9 139.2a1.7 1.7 0 1 0 3.4 0a1.7 1.7 0 1 0 -3.4 0M320.8 125.4a1.7 1.7 0 1 0 3.4 0a1.7 1.7 0 1 0 -3.4 0M320.9 138.3a1.7 1.7 0 1 0 3.4 0a1.7 1.7 0 1 0 -3.4 0M321.7 137.1a1.7 1.7 0 1 0 3.4 0a1.7 1.7 0 1 0 -3.4 0M321.5 144.3a1.7 1.7 0 1 0 3.4 0a1.7 1.7 0 1 0 -3.4 0M321.7 121.5a1.7 1.7 0 1 0 3.4 0a1.7 1.7 0 1 0 -3.4 0M321.3 128.2a1.7 1.7 0 1 0 3.4 0a1.7 1.7 0 1 0 -3.4 0M322.3 144.3a1.7 1.7 0 1 0 3.4 0a1.7 1.7 0 1 0 -3.4 0M322.3 133.8a1.7 1.7 0 1 0 3.4 0a1.7 1.7 0 1 0 -3.4 0M322.5 123.2a1.7 1.7 0 1 0 3.4 0a1.7 1.7 0 1 0 -3.4 0M323 126.8a1.7 1.7 0 1 0 3.4 0a1.7 1.7 0 1 0 -3.4 0M323.1 145.7a1.7 1.7 0 1 0 3.4 0a1.7 1.7 0 1 0 -3.4 0M322.9 132.6a1.7 1.7 0 1 0 3.4 0a1.7 1.7 0 1 0 -3.4 0M323 138.1a1.7 1.7 0 1 0 3.4 0a1.7 1.7 0 1 0 -3.4 0M323.9 110.8a1.7 1.7 0 1 0 3.4 0a1.7 1.7 0 1 0 -3.4 0M323.9 136.6a1.7 1.7 0 1 0 3.4 0a1.7 1.7 0 1 0 -3.4 0M324 134.2a1.7 1.7 0 1 0 3.4 0a1.7 1.7 0 1 0 -3.4 0M324.9 131.1a1.7 1.7 0 1 0 3.4 0a1.7 1.7 0 1 0 -3.4 0M324.8 135.7a1.7 1.7 0 1 0 3.4 0a1.7 1.7 0 1 0 -3.4 0M324.5 129.9a1.7 1.7 0 1 0 3.4 0a1.7 1.7 0 1 0 -3.4 0M325.4 132.1a1.7 1.7 0 1 0 3.4 0a1.7 1.7 0 1 0 -3.4 0M325.4 134.2a1.7 1.7 0 1 0 3.4 0a1.7 1.7 0 1 0 -3.4 0M325.5 137.1a1.7 1.7 0 1 0 3.4 0a1.7 1.7 0 1 0 -3.4 0M326.5 117.6a1.7 1.7 0 1 0 3.4 0a1.7 1.7 0 1 0 -3.4 0M326.3 121.9a1.7 1.7 0 1 0 3.4 0a1.7 1.7 0 1 0 -3.4 0M326.5 124.4a1.7 1.7 0 1 0 3.4 0a1.7 1.7 0 1 0 -3.4 0M327 118.3a1.7 1.7 0 1 0 3.4 0a1.7 1.7 0 1 0 -3.4 0M327.3 140.5a1.7 1.7 0 1 0 3.4 0a1.7 1.7 0 1 0 -3.4 0M327.2 131.4a1.7 1.7 0 1 0 3.4 0a1.7 1.7 0 1 0 -3.4 0M327 131.9a1.7 1.7 0 1 0 3.4 0a1.7 1.7 0 1 0 -3.4 0M327.8 146.4a1.7 1.7 0 1 0 3.4 0a1.7 1.7 0 1 0 -3.4 0M327.9 143.2a1.7 1.7 0 1 0 3.4 0a1.7 1.7 0 1 0 -3.4 0M328.1 74.6a1.7 1.7 0 1 0 3.4 0a1.7 1.7 0 1 0 -3.4 0M328.5 123.9a1.7 1.7 0 1 0 3.4 0a1.7 1.7 0 1 0 -3.4 0M328.6 131.7a1.7 1.7 0 1 0 3.4 0a1.7 1.7 0 1 0 -3.4 0M328.8 118a1.7 1.7 0 1 0 3.4 0a1.7 1.7 0 1 0 -3.4 0M329.6 132.2a1.7 1.7 0 1 0 3.4 0a1.7 1.7 0 1 0 -3.4 0M329.5 144.4a1.7 1.7 0 1 0 3.4 0a1.7 1.7 0 1 0 -3.4 0M329.6 137.9a1.7 1.7 0 1 0 3.4 0a1.7 1.7 0 1 0 -3.4 0M329.5 135.7a1.7 1.7 0 1 0 3.4 0a1.7 1.7 0 1 0 -3.4 0M330.3 123.8a1.7 1.7 0 1 0 3.4 0a1.7 1.7 0 1 0 -3.4 0M330.1 132a1.7 1.7 0 1 0 3.4 0a1.7 1.7 0 1 0 -3.4 0M330.2 147.4a1.7 1.7 0 1 0 3.4 0a1.7 1.7 0 1 0 -3.4 0M330.9 141.3a1.7 1.7 0 1 0 3.4 0a1.7 1.7 0 1 0 -3.4 0M330.9 131a1.7 1.7 0 1 0 3.4 0a1.7 1.7 0 1 0 -3.4 0M331 133.3a1.7 1.7 0 1 0 3.4 0a1.7 1.7 0 1 0 -3.4 0M331.8 140.2a1.7 1.7 0 1 0 3.4 0a1.7 1.7 0 1 0 -3.4 0M332 132.4a1.7 1.7 0 1 0 3.4 0a1.7 1.7 0 1 0 -3.4 0M332.1 133.3a1.7 1.7 0 1 0 3.4 0a1.7 1.7 0 1 0 -3.4 0M332.6 140.7a1.7 1.7 0 1 0 3.4 0a1.7 1.7 0 1 0 -3.4 0M332.5 147.3a1.7 1.7 0 1 0 3.4 0a1.7 1.7 0 1 0 -3.4 0M332.6 157a1.7 1.7 0 1 0 3.4 0a1.7 1.7 0 1 0 -3.4 0M333.3 136.5a1.7 1.7 0 1 0 3.4 0a1.7 1.7 0 1 0 -3.4 0M333.3 137.8a1.7 1.7 0 1 0 3.4 0a1.7 1.7 0 1 0 -3.4 0M333.5 140.4a1.7 1.7 0 1 0 3.4 0a1.7 1.7 0 1 0 -3.4 0M333.5 136.2a1.7 1.7 0 1 0 3.4 0a1.7 1.7 0 1 0 -3.4 0M334.4 112.8a1.7 1.7 0 1 0 3.4 0a1.7 1.7 0 1 0 -3.4 0M334.3 128.1a1.7 1.7 0 1 0 3.4 0a1.7 1.7 0 1 0 -3.4 0M334.4 139.1a1.7 1.7 0 1 0 3.4 0a1.7 1.7 0 1 0 -3.4 0M335.3 140.5a1.7 1.7 0 1 0 3.4 0a1.7 1.7 0 1 0 -3.4 0M335.1 130.5a1.7 1.7 0 1 0 3.4 0a1.7 1.7 0 1 0 -3.4 0M335 111.6a1.7 1.7 0 1 0 3.4 0a1.7 1.7 0 1 0 -3.4 0M335.9 126.9a1.7 1.7 0 1 0 3.4 0a1.7 1.7 0 1 0 -3.4 0M335.7 125.7a1.7 1.7 0 1 0 3.4 0a1.7 1.7 0 1 0 -3.4 0M335.7 120.2a1.7 1.7 0 1 0 3.4 0a1.7 1.7 0 1 0 -3.4 0M336.5 129.2a1.7 1.7 0 1 0 3.4 0a1.7 1.7 0 1 0 -3.4 0M336.9 119.2a1.7 1.7 0 1 0 3.4 0a1.7 1.7 0 1 0 -3.4 0M336.6 129a1.7 1.7 0 1 0 3.4 0a1.7 1.7 0 1 0 -3.4 0M337.4 117.5a1.7 1.7 0 1 0 3.4 0a1.7 1.7 0 1 0 -3.4 0M337.4 148.3a1.7 1.7 0 1 0 3.4 0a1.7 1.7 0 1 0 -3.4 0M337.5 125.1a1.7 1.7 0 1 0 3.4 0a1.7 1.7 0 1 0 -3.4 0M338.5 134.1a1.7 1.7 0 1 0 3.4 0a1.7 1.7 0 1 0 -3.4 0M338.1 113.1a1.7 1.7 0 1 0 3.4 0a1.7 1.7 0 1 0 -3.4 0M338.1 134.2a1.7 1.7 0 1 0 3.4 0a1.7 1.7 0 1 0 -3.4 0M338.4 114.5a1.7 1.7 0 1 0 3.4 0a1.7 1.7 0 1 0 -3.4 0M338.9 140.8a1.7 1.7 0 1 0 3.4 0a1.7 1.7 0 1 0 -3.4 0M339.1 128.7a1.7 1.7 0 1 0 3.4 0a1.7 1.7 0 1 0 -3.4 0M339 130.5a1.7 1.7 0 1 0 3.4 0a1.7 1.7 0 1 0 -3.4 0M340.1 133.5a1.7 1.7 0 1 0 3.4 0a1.7 1.7 0 1 0 -3.4 0M339.9 155.9a1.7 1.7 0 1 0 3.4 0a1.7 1.7 0 1 0 -3.4 0M339.7 130a1.7 1.7 0 1 0 3.4 0a1.7 1.7 0 1 0 -3.4 0M340 132.7a1.7 1.7 0 1 0 3.4 0a1.7 1.7 0 1 0 -3.4 0M340.7 132.3a1.7 1.7 0 1 0 3.4 0a1.7 1.7 0 1 0 -3.4 0M340.6 153.8a1.7 1.7 0 1 0 3.4 0a1.7 1.7 0 1 0 -3.4 0M340.5 141.3a1.7 1.7 0 1 0 3.4 0a1.7 1.7 0 1 0 -3.4 0M341.6 133.9a1.7 1.7 0 1 0 3.4 0a1.7 1.7 0 1 0 -3.4 0M341.6 137.6a1.7 1.7 0 1 0 3.4 0a1.7 1.7 0 1 0 -3.4 0M341.3 87.4a1.7 1.7 0 1 0 3.4 0a1.7 1.7 0 1 0 -3.4 0M342.1 143.5a1.7 1.7 0 1 0 3.4 0a1.7 1.7 0 1 0 -3.4 0M342.1 148.7a1.7 1.7 0 1 0 3.4 0a1.7 1.7 0 1 0 -3.4 0M342.1 126.1a1.7 1.7 0 1 0 3.4 0a1.7 1.7 0 1 0 -3.4 0M343.1 137.7a1.7 1.7 0 1 0 3.4 0a1.7 1.7 0 1 0 -3.4 0M342.9 139.8a1.7 1.7 0 1 0 3.4 0a1.7 1.7 0 1 0 -3.4 0M343.1 130.3a1.7 1.7 0 1 0 3.4 0a1.7 1.7 0 1 0 -3.4 0M343.9 136.9a1.7 1.7 0 1 0 3.4 0a1.7 1.7 0 1 0 -3.4 0M343.9 97.4a1.7 1.7 0 1 0 3.4 0a1.7 1.7 0 1 0 -3.4 0M343.7 127.9a1.7 1.7 0 1 0 3.4 0a1.7 1.7 0 1 0 -3.4 0M344.5 129.9a1.7 1.7 0 1 0 3.4 0a1.7 1.7 0 1 0 -3.4 0M344.7 134.4a1.7 1.7 0 1 0 3.4 0a1.7 1.7 0 1 0 -3.4 0M344.8 131.4a1.7 1.7 0 1 0 3.4 0a1.7 1.7 0 1 0 -3.4 0M344.8 115.4a1.7 1.7 0 1 0 3.4 0a1.7 1.7 0 1 0 -3.4 0M345.5 137.9a1.7 1.7 0 1 0 3.4 0a1.7 1.7 0 1 0 -3.4 0M345.7 131a1.7 1.7 0 1 0 3.4 0a1.7 1.7 0 1 0 -3.4 0M345.7 147a1.7 1.7 0 1 0 3.4 0a1.7 1.7 0 1 0 -3.4 0M346.4 145.1a1.7 1.7 0 1 0 3.4 0a1.7 1.7 0 1 0 -3.4 0M346.4 127a1.7 1.7 0 1 0 3.4 0a1.7 1.7 0 1 0 -3.4 0M346.4 139.3a1.7 1.7 0 1 0 3.4 0a1.7 1.7 0 1 0 -3.4 0M347.1 145a1.7 1.7 0 1 0 3.4 0a1.7 1.7 0 1 0 -3.4 0M347.1 129.5a1.7 1.7 0 1 0 3.4 0a1.7 1.7 0 1 0 -3.4 0M347.1 134.2a1.7 1.7 0 1 0 3.4 0a1.7 1.7 0 1 0 -3.4 0M347.8 143.3a1.7 1.7 0 1 0 3.4 0a1.7 1.7 0 1 0 -3.4 0M347.7 160.9a1.7 1.7 0 1 0 3.4 0a1.7 1.7 0 1 0 -3.4 0M347.9 148.9a1.7 1.7 0 1 0 3.4 0a1.7 1.7 0 1 0 -3.4 0M348.6 168.5a1.7 1.7 0 1 0 3.4 0a1.7 1.7 0 1 0 -3.4 0M348.6 152.1a1.7 1.7 0 1 0 3.4 0a1.7 1.7 0 1 0 -3.4 0M348.6 168.1a1.7 1.7 0 1 0 3.4 0a1.7 1.7 0 1 0 -3.4 0M349.4 159.8a1.7 1.7 0 1 0 3.4 0a1.7 1.7 0 1 0 -3.4 0M349.6 143.3a1.7 1.7 0 1 0 3.4 0a1.7 1.7 0 1 0 -3.4 0M349.6 155.6a1.7 1.7 0 1 0 3.4 0a1.7 1.7 0 1 0 -3.4 0M349.7 163.2a1.7 1.7 0 1 0 3.4 0a1.7 1.7 0 1 0 -3.4 0M350.3 172a1.7 1.7 0 1 0 3.4 0a1.7 1.7 0 1 0 -3.4 0M350.1 155a1.7 1.7 0 1 0 3.4 0a1.7 1.7 0 1 0 -3.4 0M350.4 152.4a1.7 1.7 0 1 0 3.4 0a1.7 1.7 0 1 0 -3.4 0M351.3 156a1.7 1.7 0 1 0 3.4 0a1.7 1.7 0 1 0 -3.4 0M351.1 155.5a1.7 1.7 0 1 0 3.4 0a1.7 1.7 0 1 0 -3.4 0M351.3 159a1.7 1.7 0 1 0 3.4 0a1.7 1.7 0 1 0 -3.4 0M351.9 151.6a1.7 1.7 0 1 0 3.4 0a1.7 1.7 0 1 0 -3.4 0M351.9 159.7a1.7 1.7 0 1 0 3.4 0a1.7 1.7 0 1 0 -3.4 0M351.8 151.4a1.7 1.7 0 1 0 3.4 0a1.7 1.7 0 1 0 -3.4 0M352.6 149.4a1.7 1.7 0 1 0 3.4 0a1.7 1.7 0 1 0 -3.4 0M352.8 149.5a1.7 1.7 0 1 0 3.4 0a1.7 1.7 0 1 0 -3.4 0M352.6 158a1.7 1.7 0 1 0 3.4 0a1.7 1.7 0 1 0 -3.4 0M353.4 150.3a1.7 1.7 0 1 0 3.4 0a1.7 1.7 0 1 0 -3.4 0M353.7 139.4a1.7 1.7 0 1 0 3.4 0a1.7 1.7 0 1 0 -3.4 0M353.4 148.6a1.7 1.7 0 1 0 3.4 0a1.7 1.7 0 1 0 -3.4 0M353.3 148.9a1.7 1.7 0 1 0 3.4 0a1.7 1.7 0 1 0 -3.4 0M354.1 164.7a1.7 1.7 0 1 0 3.4 0a1.7 1.7 0 1 0 -3.4 0M354.2 139.9a1.7 1.7 0 1 0 3.4 0a1.7 1.7 0 1 0 -3.4 0M354.3 152.7a1.7 1.7 0 1 0 3.4 0a1.7 1.7 0 1 0 -3.4 0M354.2 147.8a1.7 1.7 0 1 0 3.4 0a1.7 1.7 0 1 0 -3.4 0M355 118.8a1.7 1.7 0 1 0 3.4 0a1.7 1.7 0 1 0 -3.4 0M355.1 137.5a1.7 1.7 0 1 0 3.4 0a1.7 1.7 0 1 0 -3.4 0M354.9 132.6a1.7 1.7 0 1 0 3.4 0a1.7 1.7 0 1 0 -3.4 0M356 127.2a1.7 1.7 0 1 0 3.4 0a1.7 1.7 0 1 0 -3.4 0M355.7 143.4a1.7 1.7 0 1 0 3.4 0a1.7 1.7 0 1 0 -3.4 0M356 139.5a1.7 1.7 0 1 0 3.4 0a1.7 1.7 0 1 0 -3.4 0M356.5 139.1a1.7 1.7 0 1 0 3.4 0a1.7 1.7 0 1 0 -3.4 0M356.6 144.2a1.7 1.7 0 1 0 3.4 0a1.7 1.7 0 1 0 -3.4 0M356.6 126.6a1.7 1.7 0 1 0 3.4 0a1.7 1.7 0 1 0 -3.4 0M357.4 141.4a1.7 1.7 0 1 0 3.4 0a1.7 1.7 0 1 0 -3.4 0M357.7 118.1a1.7 1.7 0 1 0 3.4 0a1.7 1.7 0 1 0 -3.4 0M357.3 142.8a1.7 1.7 0 1 0 3.4 0a1.7 1.7 0 1 0 -3.4 0M357.5 138.7a1.7 1.7 0 1 0 3.4 0a1.7 1.7 0 1 0 -3.4 0M358.3 137a1.7 1.7 0 1 0 3.4 0a1.7 1.7 0 1 0 -3.4 0M358.5 133.6a1.7 1.7 0 1 0 3.4 0a1.7 1.7 0 1 0 -3.4 0M359 151.8a1.7 1.7 0 1 0 3.4 0a1.7 1.7 0 1 0 -3.4 0M359 139.2a1.7 1.7 0 1 0 3.4 0a1.7 1.7 0 1 0 -3.4 0M359.3 137.6a1.7 1.7 0 1 0 3.4 0a1.7 1.7 0 1 0 -3.4 0M359.8 132.9a1.7 1.7 0 1 0 3.4 0a1.7 1.7 0 1 0 -3.4 0M359.7 137.5a1.7 1.7 0 1 0 3.4 0a1.7 1.7 0 1 0 -3.4 0M359.8 137.3a1.7 1.7 0 1 0 3.4 0a1.7 1.7 0 1 0 -3.4 0M360.5 141.7a1.7 1.7 0 1 0 3.4 0a1.7 1.7 0 1 0 -3.4 0M360.8 125.7a1.7 1.7 0 1 0 3.4 0a1.7 1.7 0 1 0 -3.4 0M360.5 132.4a1.7 1.7 0 1 0 3.4 0a1.7 1.7 0 1 0 -3.4 0M360.6 120.3a1.7 1.7 0 1 0 3.4 0a1.7 1.7 0 1 0 -3.4 0M361.7 130.6a1.7 1.7 0 1 0 3.4 0a1.7 1.7 0 1 0 -3.4 0M361.3 132.9a1.7 1.7 0 1 0 3.4 0a1.7 1.7 0 1 0 -3.4 0M361.3 130.2a1.7 1.7 0 1 0 3.4 0a1.7 1.7 0 1 0 -3.4 0M362.1 125.3a1.7 1.7 0 1 0 3.4 0a1.7 1.7 0 1 0 -3.4 0M362.1 148.1a1.7 1.7 0 1 0 3.4 0a1.7 1.7 0 1 0 -3.4 0M362.4 125.5a1.7 1.7 0 1 0 3.4 0a1.7 1.7 0 1 0 -3.4 0M362.9 133.2a1.7 1.7 0 1 0 3.4 0a1.7 1.7 0 1 0 -3.4 0M363.1 136.5a1.7 1.7 0 1 0 3.4 0a1.7 1.7 0 1 0 -3.4 0M363.1 136.5a1.7 1.7 0 1 0 3.4 0a1.7 1.7 0 1 0 -3.4 0M363.3 136.9a1.7 1.7 0 1 0 3.4 0a1.7 1.7 0 1 0 -3.4 0M364.1 133.4a1.7 1.7 0 1 0 3.4 0a1.7 1.7 0 1 0 -3.4 0M363.9 134.9a1.7 1.7 0 1 0 3.4 0a1.7 1.7 0 1 0 -3.4 0M363.8 101.6a1.7 1.7 0 1 0 3.4 0a1.7 1.7 0 1 0 -3.4 0M364.6 105.8a1.7 1.7 0 1 0 3.4 0a1.7 1.7 0 1 0 -3.4 0M364.8 134.6a1.7 1.7 0 1 0 3.4 0a1.7 1.7 0 1 0 -3.4 0M364.8 140a1.7 1.7 0 1 0 3.4 0a1.7 1.7 0 1 0 -3.4 0M365.6 121.2a1.7 1.7 0 1 0 3.4 0a1.7 1.7 0 1 0 -3.4 0M365.4 137.5a1.7 1.7 0 1 0 3.4 0a1.7 1.7 0 1 0 -3.4 0M365.7 141.6a1.7 1.7 0 1 0 3.4 0a1.7 1.7 0 1 0 -3.4 0M366.3 126.4a1.7 1.7 0 1 0 3.4 0a1.7 1.7 0 1 0 -3.4 0M366.4 104.1a1.7 1.7 0 1 0 3.4 0a1.7 1.7 0 1 0 -3.4 0M366.5 127.5a1.7 1.7 0 1 0 3.4 0a1.7 1.7 0 1 0 -3.4 0M366.2 113.1a1.7 1.7 0 1 0 3.4 0a1.7 1.7 0 1 0 -3.4 0M367 131.4a1.7 1.7 0 1 0 3.4 0a1.7 1.7 0 1 0 -3.4 0M366.9 129.4a1.7 1.7 0 1 0 3.4 0a1.7 1.7 0 1 0 -3.4 0M367.1 113.3a1.7 1.7 0 1 0 3.4 0a1.7 1.7 0 1 0 -3.4 0M367.7 122.6a1.7 1.7 0 1 0 3.4 0a1.7 1.7 0 1 0 -3.4 0M367.7 135.8a1.7 1.7 0 1 0 3.4 0a1.7 1.7 0 1 0 -3.4 0M368.1 138.5a1.7 1.7 0 1 0 3.4 0a1.7 1.7 0 1 0 -3.4 0M368.5 136.1a1.7 1.7 0 1 0 3.4 0a1.7 1.7 0 1 0 -3.4 0M368.5 130.1a1.7 1.7 0 1 0 3.4 0a1.7 1.7 0 1 0 -3.4 0M368.8 136.7a1.7 1.7 0 1 0 3.4 0a1.7 1.7 0 1 0 -3.4 0M369.4 141.5a1.7 1.7 0 1 0 3.4 0a1.7 1.7 0 1 0 -3.4 0M369.4 147.4a1.7 1.7 0 1 0 3.4 0a1.7 1.7 0 1 0 -3.4 0M369.4 127.5a1.7 1.7 0 1 0 3.4 0a1.7 1.7 0 1 0 -3.4 0M370.4 120.4a1.7 1.7 0 1 0 3.4 0a1.7 1.7 0 1 0 -3.4 0M370.3 148.8a1.7 1.7 0 1 0 3.4 0a1.7 1.7 0 1 0 -3.4 0M370.5 80.4a1.7 1.7 0 1 0 3.4 0a1.7 1.7 0 1 0 -3.4 0M371.2 132.5a1.7 1.7 0 1 0 3.4 0a1.7 1.7 0 1 0 -3.4 0M371.3 142.6a1.7 1.7 0 1 0 3.4 0a1.7 1.7 0 1 0 -3.4 0M371.3 144.3a1.7 1.7 0 1 0 3.4 0a1.7 1.7 0 1 0 -3.4 0M372 148.1a1.7 1.7 0 1 0 3.4 0a1.7 1.7 0 1 0 -3.4 0M371.9 140.5a1.7 1.7 0 1 0 3.4 0a1.7 1.7 0 1 0 -3.4 0M371.8 134.8a1.7 1.7 0 1 0 3.4 0a1.7 1.7 0 1 0 -3.4 0M372.7 141.6a1.7 1.7 0 1 0 3.4 0a1.7 1.7 0 1 0 -3.4 0M372.6 132.1a1.7 1.7 0 1 0 3.4 0a1.7 1.7 0 1 0 -3.4 0M372.9 134.6a1.7 1.7 0 1 0 3.4 0a1.7 1.7 0 1 0 -3.4 0M373.3 153a1.7 1.7 0 1 0 3.4 0a1.7 1.7 0 1 0 -3.4 0M373.5 147.3a1.7 1.7 0 1 0 3.4 0a1.7 1.7 0 1 0 -3.4 0M373.7 148a1.7 1.7 0 1 0 3.4 0a1.7 1.7 0 1 0 -3.4 0M374.2 138.6a1.7 1.7 0 1 0 3.4 0a1.7 1.7 0 1 0 -3.4 0M374.3 137.6a1.7 1.7 0 1 0 3.4 0a1.7 1.7 0 1 0 -3.4 0M374.3 155.6a1.7 1.7 0 1 0 3.4 0a1.7 1.7 0 1 0 -3.4 0M374.4 136.4a1.7 1.7 0 1 0 3.4 0a1.7 1.7 0 1 0 -3.4 0M375 111.5a1.7 1.7 0 1 0 3.4 0a1.7 1.7 0 1 0 -3.4 0M375.1 138.7a1.7 1.7 0 1 0 3.4 0a1.7 1.7 0 1 0 -3.4 0M375.3 139.5a1.7 1.7 0 1 0 3.4 0a1.7 1.7 0 1 0 -3.4 0M375.9 148a1.7 1.7 0 1 0 3.4 0a1.7 1.7 0 1 0 -3.4 0M376.1 157.1a1.7 1.7 0 1 0 3.4 0a1.7 1.7 0 1 0 -3.4 0M375.7 138.6a1.7 1.7 0 1 0 3.4 0a1.7 1.7 0 1 0 -3.4 0M376.9 149.6a1.7 1.7 0 1 0 3.4 0a1.7 1.7 0 1 0 -3.4 0M376.9 138.4a1.7 1.7 0 1 0 3.4 0a1.7 1.7 0 1 0 -3.4 0M376.9 149.5a1.7 1.7 0 1 0 3.4 0a1.7 1.7 0 1 0 -3.4 0M376.9 153.3a1.7 1.7 0 1 0 3.4 0a1.7 1.7 0 1 0 -3.4 0M377.7 149.9a1.7 1.7 0 1 0 3.4 0a1.7 1.7 0 1 0 -3.4 0M377.4 152.9a1.7 1.7 0 1 0 3.4 0a1.7 1.7 0 1 0 -3.4 0M377.4 141.7a1.7 1.7 0 1 0 3.4 0a1.7 1.7 0 1 0 -3.4 0M378.2 130.7a1.7 1.7 0 1 0 3.4 0a1.7 1.7 0 1 0 -3.4 0M378.5 135.8a1.7 1.7 0 1 0 3.4 0a1.7 1.7 0 1 0 -3.4 0M378.5 138a1.7 1.7 0 1 0 3.4 0a1.7 1.7 0 1 0 -3.4 0M379.3 154.8a1.7 1.7 0 1 0 3.4 0a1.7 1.7 0 1 0 -3.4 0M379 131.6a1.7 1.7 0 1 0 3.4 0a1.7 1.7 0 1 0 -3.4 0M379.2 130.5a1.7 1.7 0 1 0 3.4 0a1.7 1.7 0 1 0 -3.4 0M379.7 130.7a1.7 1.7 0 1 0 3.4 0a1.7 1.7 0 1 0 -3.4 0M379.7 127.8a1.7 1.7 0 1 0 3.4 0a1.7 1.7 0 1 0 -3.4 0M380 117.8a1.7 1.7 0 1 0 3.4 0a1.7 1.7 0 1 0 -3.4 0M380.7 140.1a1.7 1.7 0 1 0 3.4 0a1.7 1.7 0 1 0 -3.4 0M380.7 150.5a1.7 1.7 0 1 0 3.4 0a1.7 1.7 0 1 0 -3.4 0M380.9 133.7a1.7 1.7 0 1 0 3.4 0a1.7 1.7 0 1 0 -3.4 0M381.7 146.2a1.7 1.7 0 1 0 3.4 0a1.7 1.7 0 1 0 -3.4 0M381.5 152.1a1.7 1.7 0 1 0 3.4 0a1.7 1.7 0 1 0 -3.4 0M381.3 143.9a1.7 1.7 0 1 0 3.4 0a1.7 1.7 0 1 0 -3.4 0M382.3 128.8a1.7 1.7 0 1 0 3.4 0a1.7 1.7 0 1 0 -3.4 0M382.1 158.4a1.7 1.7 0 1 0 3.4 0a1.7 1.7 0 1 0 -3.4 0M382.2 142.3a1.7 1.7 0 1 0 3.4 0a1.7 1.7 0 1 0 -3.4 0M383.3 133.8a1.7 1.7 0 1 0 3.4 0a1.7 1.7 0 1 0 -3.4 0M383.1 134.4a1.7 1.7 0 1 0 3.4 0a1.7 1.7 0 1 0 -3.4 0M382.9 126.5a1.7 1.7 0 1 0 3.4 0a1.7 1.7 0 1 0 -3.4 0M383.8 138.5a1.7 1.7 0 1 0 3.4 0a1.7 1.7 0 1 0 -3.4 0M384 137.7a1.7 1.7 0 1 0 3.4 0a1.7 1.7 0 1 0 -3.4 0M384.1 136.6a1.7 1.7 0 1 0 3.4 0a1.7 1.7 0 1 0 -3.4 0M384.7 136.9a1.7 1.7 0 1 0 3.4 0a1.7 1.7 0 1 0 -3.4 0M384.6 140a1.7 1.7 0 1 0 3.4 0a1.7 1.7 0 1 0 -3.4 0M384.5 142.4a1.7 1.7 0 1 0 3.4 0a1.7 1.7 0 1 0 -3.4 0M384.9 147a1.7 1.7 0 1 0 3.4 0a1.7 1.7 0 1 0 -3.4 0M385.6 127.6a1.7 1.7 0 1 0 3.4 0a1.7 1.7 0 1 0 -3.4 0M385.6 134.9a1.7 1.7 0 1 0 3.4 0a1.7 1.7 0 1 0 -3.4 0M385.5 125.7a1.7 1.7 0 1 0 3.4 0a1.7 1.7 0 1 0 -3.4 0M386.3 117.2a1.7 1.7 0 1 0 3.4 0a1.7 1.7 0 1 0 -3.4 0M386.5 142.4a1.7 1.7 0 1 0 3.4 0a1.7 1.7 0 1 0 -3.4 0M386.2 130.7a1.7 1.7 0 1 0 3.4 0a1.7 1.7 0 1 0 -3.4 0M386.4 131.2a1.7 1.7 0 1 0 3.4 0a1.7 1.7 0 1 0 -3.4 0M387.3 144.1a1.7 1.7 0 1 0 3.4 0a1.7 1.7 0 1 0 -3.4 0M387.2 134.5a1.7 1.7 0 1 0 3.4 0a1.7 1.7 0 1 0 -3.4 0M387.3 119.3a1.7 1.7 0 1 0 3.4 0a1.7 1.7 0 1 0 -3.4 0M387.9 129.5a1.7 1.7 0 1 0 3.4 0a1.7 1.7 0 1 0 -3.4 0M388 98.9a1.7 1.7 0 1 0 3.4 0a1.7 1.7 0 1 0 -3.4 0M387.7 148.7a1.7 1.7 0 1 0 3.4 0a1.7 1.7 0 1 0 -3.4 0M387.9 132.1a1.7 1.7 0 1 0 3.4 0a1.7 1.7 0 1 0 -3.4 0M388.9 105.4a1.7 1.7 0 1 0 3.4 0a1.7 1.7 0 1 0 -3.4 0M388.8 141.2a1.7 1.7 0 1 0 3.4 0a1.7 1.7 0 1 0 -3.4 0M388.6 129.6a1.7 1.7 0 1 0 3.4 0a1.7 1.7 0 1 0 -3.4 0M388.6 128.5a1.7 1.7 0 1 0 3.4 0a1.7 1.7 0 1 0 -3.4 0M389.3 124.4a1.7 1.7 0 1 0 3.4 0a1.7 1.7 0 1 0 -3.4 0M389.3 140.8a1.7 1.7 0 1 0 3.4 0a1.7 1.7 0 1 0 -3.4 0M389.4 117.7a1.7 1.7 0 1 0 3.4 0a1.7 1.7 0 1 0 -3.4 0M390.5 128.1a1.7 1.7 0 1 0 3.4 0a1.7 1.7 0 1 0 -3.4 0M390.4 126.1a1.7 1.7 0 1 0 3.4 0a1.7 1.7 0 1 0 -3.4 0M390.5 124.1a1.7 1.7 0 1 0 3.4 0a1.7 1.7 0 1 0 -3.4 0M391 127.6a1.7 1.7 0 1 0 3.4 0a1.7 1.7 0 1 0 -3.4 0M390.9 150.3a1.7 1.7 0 1 0 3.4 0a1.7 1.7 0 1 0 -3.4 0M391 152.9a1.7 1.7 0 1 0 3.4 0a1.7 1.7 0 1 0 -3.4 0M391.7 140.9a1.7 1.7 0 1 0 3.4 0a1.7 1.7 0 1 0 -3.4 0M391.7 127.7a1.7 1.7 0 1 0 3.4 0a1.7 1.7 0 1 0 -3.4 0M392 91.4a1.7 1.7 0 1 0 3.4 0a1.7 1.7 0 1 0 -3.4 0M392.5 140.6a1.7 1.7 0 1 0 3.4 0a1.7 1.7 0 1 0 -3.4 0M392.6 114a1.7 1.7 0 1 0 3.4 0a1.7 1.7 0 1 0 -3.4 0M392.5 131a1.7 1.7 0 1 0 3.4 0a1.7 1.7 0 1 0 -3.4 0M392.7 131.8a1.7 1.7 0 1 0 3.4 0a1.7 1.7 0 1 0 -3.4 0M393.5 146.5a1.7 1.7 0 1 0 3.4 0a1.7 1.7 0 1 0 -3.4 0M393.7 127.9a1.7 1.7 0 1 0 3.4 0a1.7 1.7 0 1 0 -3.4 0M393.6 132.2a1.7 1.7 0 1 0 3.4 0a1.7 1.7 0 1 0 -3.4 0M394.1 138.8a1.7 1.7 0 1 0 3.4 0a1.7 1.7 0 1 0 -3.4 0M394.1 141.4a1.7 1.7 0 1 0 3.4 0a1.7 1.7 0 1 0 -3.4 0M394.3 130.6a1.7 1.7 0 1 0 3.4 0a1.7 1.7 0 1 0 -3.4 0M395.1 130a1.7 1.7 0 1 0 3.4 0a1.7 1.7 0 1 0 -3.4 0M395 113.5a1.7 1.7 0 1 0 3.4 0a1.7 1.7 0 1 0 -3.4 0M395.2 120.5a1.7 1.7 0 1 0 3.4 0a1.7 1.7 0 1 0 -3.4 0M395.7 125.5a1.7 1.7 0 1 0 3.4 0a1.7 1.7 0 1 0 -3.4 0M395.7 144.1a1.7 1.7 0 1 0 3.4 0a1.7 1.7 0 1 0 -3.4 0M396 134.7a1.7 1.7 0 1 0 3.4 0a1.7 1.7 0 1 0 -3.4 0M396 136.1a1.7 1.7 0 1 0 3.4 0a1.7 1.7 0 1 0 -3.4 0M396.6 116.7a1.7 1.7 0 1 0 3.4 0a1.7 1.7 0 1 0 -3.4 0M396.5 138.7a1.7 1.7 0 1 0 3.4 0a1.7 1.7 0 1 0 -3.4 0M396.5 118.6a1.7 1.7 0 1 0 3.4 0a1.7 1.7 0 1 0 -3.4 0M397.3 126a1.7 1.7 0 1 0 3.4 0a1.7 1.7 0 1 0 -3.4 0M397.7 141.3a1.7 1.7 0 1 0 3.4 0a1.7 1.7 0 1 0 -3.4 0M397.6 114a1.7 1.7 0 1 0 3.4 0a1.7 1.7 0 1 0 -3.4 0M398.5 121.3a1.7 1.7 0 1 0 3.4 0a1.7 1.7 0 1 0 -3.4 0M398.1 135.8a1.7 1.7 0 1 0 3.4 0a1.7 1.7 0 1 0 -3.4 0M398.1 139.1a1.7 1.7 0 1 0 3.4 0a1.7 1.7 0 1 0 -3.4 0M398.3 137.9a1.7 1.7 0 1 0 3.4 0a1.7 1.7 0 1 0 -3.4 0M398.9 131.5a1.7 1.7 0 1 0 3.4 0a1.7 1.7 0 1 0 -3.4 0M399 126.2a1.7 1.7 0 1 0 3.4 0a1.7 1.7 0 1 0 -3.4 0M399 148a1.7 1.7 0 1 0 3.4 0a1.7 1.7 0 1 0 -3.4 0M399.3 129.6a1.7 1.7 0 1 0 3.4 0a1.7 1.7 0 1 0 -3.4 0M400.1 119.3a1.7 1.7 0 1 0 3.4 0a1.7 1.7 0 1 0 -3.4 0M399.8 147.9a1.7 1.7 0 1 0 3.4 0a1.7 1.7 0 1 0 -3.4 0M399.9 111.1a1.7 1.7 0 1 0 3.4 0a1.7 1.7 0 1 0 -3.4 0M399.7 125.3a1.7 1.7 0 1 0 3.4 0a1.7 1.7 0 1 0 -3.4 0M400.8 143.6a1.7 1.7 0 1 0 3.4 0a1.7 1.7 0 1 0 -3.4 0M400.5 149.2a1.7 1.7 0 1 0 3.4 0a1.7 1.7 0 1 0 -3.4 0M400.9 135.8a1.7 1.7 0 1 0 3.4 0a1.7 1.7 0 1 0 -3.4 0M401.3 127.8a1.7 1.7 0 1 0 3.4 0a1.7 1.7 0 1 0 -3.4 0M401.7 136.4a1.7 1.7 0 1 0 3.4 0a1.7 1.7 0 1 0 -3.4 0M401.4 138.2a1.7 1.7 0 1 0 3.4 0a1.7 1.7 0 1 0 -3.4 0M402.2 127.4a1.7 1.7 0 1 0 3.4 0a1.7 1.7 0 1 0 -3.4 0M402.1 134.1a1.7 1.7 0 1 0 3.4 0a1.7 1.7 0 1 0 -3.4 0M402.2 124.1a1.7 1.7 0 1 0 3.4 0a1.7 1.7 0 1 0 -3.4 0M403.1 138.4a1.7 1.7 0 1 0 3.4 0a1.7 1.7 0 1 0 -3.4 0M403.1 115.1a1.7 1.7 0 1 0 3.4 0a1.7 1.7 0 1 0 -3.4 0M403 131.6a1.7 1.7 0 1 0 3.4 0a1.7 1.7 0 1 0 -3.4 0M404 133.7a1.7 1.7 0 1 0 3.4 0a1.7 1.7 0 1 0 -3.4 0M403.8 106.4a1.7 1.7 0 1 0 3.4 0a1.7 1.7 0 1 0 -3.4 0M403.7 121.3a1.7 1.7 0 1 0 3.4 0a1.7 1.7 0 1 0 -3.4 0M404.5 128.2a1.7 1.7 0 1 0 3.4 0a1.7 1.7 0 1 0 -3.4 0M404.7 119.1a1.7 1.7 0 1 0 3.4 0a1.7 1.7 0 1 0 -3.4 0M404.9 117.8a1.7 1.7 0 1 0 3.4 0a1.7 1.7 0 1 0 -3.4 0M405.7 133.6a1.7 1.7 0 1 0 3.4 0a1.7 1.7 0 1 0 -3.4 0M405.5 123.8a1.7 1.7 0 1 0 3.4 0a1.7 1.7 0 1 0 -3.4 0M405.7 113.2a1.7 1.7 0 1 0 3.4 0a1.7 1.7 0 1 0 -3.4 0M406.3 123.2a1.7 1.7 0 1 0 3.4 0a1.7 1.7 0 1 0 -3.4 0M406.2 131.9a1.7 1.7 0 1 0 3.4 0a1.7 1.7 0 1 0 -3.4 0M406.3 115.4a1.7 1.7 0 1 0 3.4 0a1.7 1.7 0 1 0 -3.4 0M406.5 137.3a1.7 1.7 0 1 0 3.4 0a1.7 1.7 0 1 0 -3.4 0M407 127a1.7 1.7 0 1 0 3.4 0a1.7 1.7 0 1 0 -3.4 0M407.1 122.6a1.7 1.7 0 1 0 3.4 0a1.7 1.7 0 1 0 -3.4 0M406.9 119.8a1.7 1.7 0 1 0 3.4 0a1.7 1.7 0 1 0 -3.4 0M407.9 140.7a1.7 1.7 0 1 0 3.4 0a1.7 1.7 0 1 0 -3.4 0M407.7 127a1.7 1.7 0 1 0 3.4 0a1.7 1.7 0 1 0 -3.4 0M407.9 139.6a1.7 1.7 0 1 0 3.4 0a1.7 1.7 0 1 0 -3.4 0M407.7 147.3a1.7 1.7 0 1 0 3.4 0a1.7 1.7 0 1 0 -3.4 0M408.6 142.2a1.7 1.7 0 1 0 3.4 0a1.7 1.7 0 1 0 -3.4 0M408.8 106.2a1.7 1.7 0 1 0 3.4 0a1.7 1.7 0 1 0 -3.4 0M408.5 140.5a1.7 1.7 0 1 0 3.4 0a1.7 1.7 0 1 0 -3.4 0M408.6 132.8a1.7 1.7 0 1 0 3.4 0a1.7 1.7 0 1 0 -3.4 0M409.5 154.9a1.7 1.7 0 1 0 3.4 0a1.7 1.7 0 1 0 -3.4 0M409.6 134.1a1.7 1.7 0 1 0 3.4 0a1.7 1.7 0 1 0 -3.4 0M409.3 136.3a1.7 1.7 0 1 0 3.4 0a1.7 1.7 0 1 0 -3.4 0M410.3 171a1.7 1.7 0 1 0 3.4 0a1.7 1.7 0 1 0 -3.4 0M410.4 163.8a1.7 1.7 0 1 0 3.4 0a1.7 1.7 0 1 0 -3.4 0M410.5 153.6a1.7 1.7 0 1 0 3.4 0a1.7 1.7 0 1 0 -3.4 0M411 165.5a1.7 1.7 0 1 0 3.4 0a1.7 1.7 0 1 0 -3.4 0M411.3 165.1a1.7 1.7 0 1 0 3.4 0a1.7 1.7 0 1 0 -3.4 0M410.9 164.3a1.7 1.7 0 1 0 3.4 0a1.7 1.7 0 1 0 -3.4 0M411.2 152.1a1.7 1.7 0 1 0 3.4 0a1.7 1.7 0 1 0 -3.4 0M411.8 143.4a1.7 1.7 0 1 0 3.4 0a1.7 1.7 0 1 0 -3.4 0M411.9 168.8a1.7 1.7 0 1 0 3.4 0a1.7 1.7 0 1 0 -3.4 0M411.7 153.5a1.7 1.7 0 1 0 3.4 0a1.7 1.7 0 1 0 -3.4 0M412.5 169.5a1.7 1.7 0 1 0 3.4 0a1.7 1.7 0 1 0 -3.4 0M412.5 152a1.7 1.7 0 1 0 3.4 0a1.7 1.7 0 1 0 -3.4 0M412.7 166.8a1.7 1.7 0 1 0 3.4 0a1.7 1.7 0 1 0 -3.4 0M412.8 165.8a1.7 1.7 0 1 0 3.4 0a1.7 1.7 0 1 0 -3.4 0M413.7 185.1a1.7 1.7 0 1 0 3.4 0a1.7 1.7 0 1 0 -3.4 0M413.7 158.2a1.7 1.7 0 1 0 3.4 0a1.7 1.7 0 1 0 -3.4 0M413.4 168.8a1.7 1.7 0 1 0 3.4 0a1.7 1.7 0 1 0 -3.4 0M414.3 176.4a1.7 1.7 0 1 0 3.4 0a1.7 1.7 0 1 0 -3.4 0M414.4 151.4a1.7 1.7 0 1 0 3.4 0a1.7 1.7 0 1 0 -3.4 0M414.5 157.3a1.7 1.7 0 1 0 3.4 0a1.7 1.7 0 1 0 -3.4 0M414.9 149.8a1.7 1.7 0 1 0 3.4 0a1.7 1.7 0 1 0 -3.4 0M415.2 163.3a1.7 1.7 0 1 0 3.4 0a1.7 1.7 0 1 0 -3.4 0M414.9 132.2a1.7 1.7 0 1 0 3.4 0a1.7 1.7 0 1 0 -3.4 0M415.7 154.4a1.7 1.7 0 1 0 3.4 0a1.7 1.7 0 1 0 -3.4 0M415.9 156a1.7 1.7 0 1 0 3.4 0a1.7 1.7 0 1 0 -3.4 0M416.1 141.7a1.7 1.7 0 1 0 3.4 0a1.7 1.7 0 1 0 -3.4 0M416.5 152.8a1.7 1.7 0 1 0 3.4 0a1.7 1.7 0 1 0 -3.4 0M416.6 142.3a1.7 1.7 0 1 0 3.4 0a1.7 1.7 0 1 0 -3.4 0M416.6 159.8a1.7 1.7 0 1 0 3.4 0a1.7 1.7 0 1 0 -3.4 0M417.7 149.2a1.7 1.7 0 1 0 3.4 0a1.7 1.7 0 1 0 -3.4 0M417.6 159.1a1.7 1.7 0 1 0 3.4 0a1.7 1.7 0 1 0 -3.4 0M417.3 152.1a1.7 1.7 0 1 0 3.4 0a1.7 1.7 0 1 0 -3.4 0M418.2 159.5a1.7 1.7 0 1 0 3.4 0a1.7 1.7 0 1 0 -3.4 0M418.1 120.8a1.7 1.7 0 1 0 3.4 0a1.7 1.7 0 1 0 -3.4 0M418.2 129.8a1.7 1.7 0 1 0 3.4 0a1.7 1.7 0 1 0 -3.4 0M418.9 124.4a1.7 1.7 0 1 0 3.4 0a1.7 1.7 0 1 0 -3.4 0M419.2 111.1a1.7 1.7 0 1 0 3.4 0a1.7 1.7 0 1 0 -3.4 0M418.9 148.5a1.7 1.7 0 1 0 3.4 0a1.7 1.7 0 1 0 -3.4 0M420 112.6a1.7 1.7 0 1 0 3.4 0a1.7 1.7 0 1 0 -3.4 0M419.7 127.2a1.7 1.7 0 1 0 3.4 0a1.7 1.7 0 1 0 -3.4 0M419.8 136.6a1.7 1.7 0 1 0 3.4 0a1.7 1.7 0 1 0 -3.4 0M420 156.8a1.7 1.7 0 1 0 3.4 0a1.7 1.7 0 1 0 -3.4 0M420.8 151.2a1.7 1.7 0 1 0 3.4 0a1.7 1.7 0 1 0 -3.4 0M420.8 139.5a1.7 1.7 0 1 0 3.4 0a1.7 1.7 0 1 0 -3.4 0M420.5 143.4a1.7 1.7 0 1 0 3.4 0a1.7 1.7 0 1 0 -3.4 0M421.4 152.2a1.7 1.7 0 1 0 3.4 0a1.7 1.7 0 1 0 -3.4 0M421.5 124.3a1.7 1.7 0 1 0 3.4 0a1.7 1.7 0 1 0 -3.4 0M421.4 157.4a1.7 1.7 0 1 0 3.4 0a1.7 1.7 0 1 0 -3.4 0M421.7 132.7a1.7 1.7 0 1 0 3.4 0a1.7 1.7 0 1 0 -3.4 0M422.4 146.9a1.7 1.7 0 1 0 3.4 0a1.7 1.7 0 1 0 -3.4 0M422.3 135.2a1.7 1.7 0 1 0 3.4 0a1.7 1.7 0 1 0 -3.4 0M422.1 148.8a1.7 1.7 0 1 0 3.4 0a1.7 1.7 0 1 0 -3.4 0M423.1 144.5a1.7 1.7 0 1 0 3.4 0a1.7 1.7 0 1 0 -3.4 0M423 130.7a1.7 1.7 0 1 0 3.4 0a1.7 1.7 0 1 0 -3.4 0M423.1 133.7a1.7 1.7 0 1 0 3.4 0a1.7 1.7 0 1 0 -3.4 0M423.1 138.9a1.7 1.7 0 1 0 3.4 0a1.7 1.7 0 1 0 -3.4 0M424.1 157.9a1.7 1.7 0 1 0 3.4 0a1.7 1.7 0 1 0 -3.4 0M423.7 127.9a1.7 1.7 0 1 0 3.4 0a1.7 1.7 0 1 0 -3.4 0M423.7 148.8a1.7 1.7 0 1 0 3.4 0a1.7 1.7 0 1 0 -3.4 0M423.9 129.7a1.7 1.7 0 1 0 3.4 0a1.7 1.7 0 1 0 -3.4 0M424.6 143.6a1.7 1.7 0 1 0 3.4 0a1.7 1.7 0 1 0 -3.4 0M424.5 127.1a1.7 1.7 0 1 0 3.4 0a1.7 1.7 0 1 0 -3.4 0M424.6 153.1a1.7 1.7 0 1 0 3.4 0a1.7 1.7 0 1 0 -3.4 0M424.9 142.7a1.7 1.7 0 1 0 3.4 0a1.7 1.7 0 1 0 -3.4 0M425.5 132.3a1.7 1.7 0 1 0 3.4 0a1.7 1.7 0 1 0 -3.4 0M425.7 138.6a1.7 1.7 0 1 0 3.4 0a1.7 1.7 0 1 0 -3.4 0M425.3 136.2a1.7 1.7 0 1 0 3.4 0a1.7 1.7 0 1 0 -3.4 0M426.3 143.6a1.7 1.7 0 1 0 3.4 0a1.7 1.7 0 1 0 -3.4 0M426.4 140.7a1.7 1.7 0 1 0 3.4 0a1.7 1.7 0 1 0 -3.4 0M426.3 140a1.7 1.7 0 1 0 3.4 0a1.7 1.7 0 1 0 -3.4 0M426.9 129.2a1.7 1.7 0 1 0 3.4 0a1.7 1.7 0 1 0 -3.4 0M426.9 154.8a1.7 1.7 0 1 0 3.4 0a1.7 1.7 0 1 0 -3.4 0M427.3 147.5a1.7 1.7 0 1 0 3.4 0a1.7 1.7 0 1 0 -3.4 0M428.1 160.8a1.7 1.7 0 1 0 3.4 0a1.7 1.7 0 1 0 -3.4 0M428.1 169.4a1.7 1.7 0 1 0 3.4 0a1.7 1.7 0 1 0 -3.4 0M427.8 168.6a1.7 1.7 0 1 0 3.4 0a1.7 1.7 0 1 0 -3.4 0M428.8 172.8a1.7 1.7 0 1 0 3.4 0a1.7 1.7 0 1 0 -3.4 0M428.9 171.7a1.7 1.7 0 1 0 3.4 0a1.7 1.7 0 1 0 -3.4 0M428.9 178.7a1.7 1.7 0 1 0 3.4 0a1.7 1.7 0 1 0 -3.4 0M429.3 181.7a1.7 1.7 0 1 0 3.4 0a1.7 1.7 0 1 0 -3.4 0M429.3 169.7a1.7 1.7 0 1 0 3.4 0a1.7 1.7 0 1 0 -3.4 0M429.6 162.4a1.7 1.7 0 1 0 3.4 0a1.7 1.7 0 1 0 -3.4 0M430.3 193.6a1.7 1.7 0 1 0 3.4 0a1.7 1.7 0 1 0 -3.4 0M430.4 176.8a1.7 1.7 0 1 0 3.4 0a1.7 1.7 0 1 0 -3.4 0M430.5 166.3a1.7 1.7 0 1 0 3.4 0a1.7 1.7 0 1 0 -3.4 0M431.2 177.1a1.7 1.7 0 1 0 3.4 0a1.7 1.7 0 1 0 -3.4 0M431.1 179.4a1.7 1.7 0 1 0 3.4 0a1.7 1.7 0 1 0 -3.4 0M431 187a1.7 1.7 0 1 0 3.4 0a1.7 1.7 0 1 0 -3.4 0M431.1 179.1a1.7 1.7 0 1 0 3.4 0a1.7 1.7 0 1 0 -3.4 0M431.8 179.1a1.7 1.7 0 1 0 3.4 0a1.7 1.7 0 1 0 -3.4 0M431.8 187.6a1.7 1.7 0 1 0 3.4 0a1.7 1.7 0 1 0 -3.4 0M432 189.1a1.7 1.7 0 1 0 3.4 0a1.7 1.7 0 1 0 -3.4 0M432.8 172.6a1.7 1.7 0 1 0 3.4 0a1.7 1.7 0 1 0 -3.4 0M432.5 182.9a1.7 1.7 0 1 0 3.4 0a1.7 1.7 0 1 0 -3.4 0M432.5 177.2a1.7 1.7 0 1 0 3.4 0a1.7 1.7 0 1 0 -3.4 0M433.6 194.6a1.7 1.7 0 1 0 3.4 0a1.7 1.7 0 1 0 -3.4 0M433.4 181.5a1.7 1.7 0 1 0 3.4 0a1.7 1.7 0 1 0 -3.4 0M433.3 182.1a1.7 1.7 0 1 0 3.4 0a1.7 1.7 0 1 0 -3.4 0M434.4 189.9a1.7 1.7 0 1 0 3.4 0a1.7 1.7 0 1 0 -3.4 0M434.5 193.5a1.7 1.7 0 1 0 3.4 0a1.7 1.7 0 1 0 -3.4 0M434.4 182.7a1.7 1.7 0 1 0 3.4 0a1.7 1.7 0 1 0 -3.4 0M435.2 177.5a1.7 1.7 0 1 0 3.4 0a1.7 1.7 0 1 0 -3.4 0M435 172.3a1.7 1.7 0 1 0 3.4 0a1.7 1.7 0 1 0 -3.4 0M435.3 185.8a1.7 1.7 0 1 0 3.4 0a1.7 1.7 0 1 0 -3.4 0M435.9 184a1.7 1.7 0 1 0 3.4 0a1.7 1.7 0 1 0 -3.4 0M436 180.5a1.7 1.7 0 1 0 3.4 0a1.7 1.7 0 1 0 -3.4 0M435.9 182a1.7 1.7 0 1 0 3.4 0a1.7 1.7 0 1 0 -3.4 0M436.9 186.2a1.7 1.7 0 1 0 3.4 0a1.7 1.7 0 1 0 -3.4 0M436.9 179.1a1.7 1.7 0 1 0 3.4 0a1.7 1.7 0 1 0 -3.4 0M436.6 197a1.7 1.7 0 1 0 3.4 0a1.7 1.7 0 1 0 -3.4 0M437.7 181.8a1.7 1.7 0 1 0 3.4 0a1.7 1.7 0 1 0 -3.4 0M437.7 169.2a1.7 1.7 0 1 0 3.4 0a1.7 1.7 0 1 0 -3.4 0M437.7 182.8a1.7 1.7 0 1 0 3.4 0a1.7 1.7 0 1 0 -3.4 0M438.2 179a1.7 1.7 0 1 0 3.4 0a1.7 1.7 0 1 0 -3.4 0M438.4 168.1a1.7 1.7 0 1 0 3.4 0a1.7 1.7 0 1 0 -3.4 0M438.2 176.6a1.7 1.7 0 1 0 3.4 0a1.7 1.7 0 1 0 -3.4 0M439.2 177a1.7 1.7 0 1 0 3.4 0a1.7 1.7 0 1 0 -3.4 0M439.3 177.6a1.7 1.7 0 1 0 3.4 0a1.7 1.7 0 1 0 -3.4 0M439.1 184.1a1.7 1.7 0 1 0 3.4 0a1.7 1.7 0 1 0 -3.4 0M439.9 178.2a1.7 1.7 0 1 0 3.4 0a1.7 1.7 0 1 0 -3.4 0M439.7 180.2a1.7 1.7 0 1 0 3.4 0a1.7 1.7 0 1 0 -3.4 0M440 162.1a1.7 1.7 0 1 0 3.4 0a1.7 1.7 0 1 0 -3.4 0M440 167.5a1.7 1.7 0 1 0 3.4 0a1.7 1.7 0 1 0 -3.4 0M440.8 174.4a1.7 1.7 0 1 0 3.4 0a1.7 1.7 0 1 0 -3.4 0M440.6 172.4a1.7 1.7 0 1 0 3.4 0a1.7 1.7 0 1 0 -3.4 0M440.6 189.3a1.7 1.7 0 1 0 3.4 0a1.7 1.7 0 1 0 -3.4 0M441.3 176.1a1.7 1.7 0 1 0 3.4 0a1.7 1.7 0 1 0 -3.4 0M441.4 179.4a1.7 1.7 0 1 0 3.4 0a1.7 1.7 0 1 0 -3.4 0M441.7 168.1a1.7 1.7 0 1 0 3.4 0a1.7 1.7 0 1 0 -3.4 0M441.5 175.2a1.7 1.7 0 1 0 3.4 0a1.7 1.7 0 1 0 -3.4 0M442.3 169.2a1.7 1.7 0 1 0 3.4 0a1.7 1.7 0 1 0 -3.4 0M442.3 176.6a1.7 1.7 0 1 0 3.4 0a1.7 1.7 0 1 0 -3.4 0M442.3 203.8a1.7 1.7 0 1 0 3.4 0a1.7 1.7 0 1 0 -3.4 0M442.5 186.6a1.7 1.7 0 1 0 3.4 0a1.7 1.7 0 1 0 -3.4 0M442.9 174.9a1.7 1.7 0 1 0 3.4 0a1.7 1.7 0 1 0 -3.4 0M443.1 181.8a1.7 1.7 0 1 0 3.4 0a1.7 1.7 0 1 0 -3.4 0M443.1 170.1a1.7 1.7 0 1 0 3.4 0a1.7 1.7 0 1 0 -3.4 0M443.7 174.6a1.7 1.7 0 1 0 3.4 0a1.7 1.7 0 1 0 -3.4 0M443.8 175.1a1.7 1.7 0 1 0 3.4 0a1.7 1.7 0 1 0 -3.4 0M443.8 173.7a1.7 1.7 0 1 0 3.4 0a1.7 1.7 0 1 0 -3.4 0M443.8 170.3a1.7 1.7 0 1 0 3.4 0a1.7 1.7 0 1 0 -3.4 0M444.8 179.1a1.7 1.7 0 1 0 3.4 0a1.7 1.7 0 1 0 -3.4 0M444.8 175.1a1.7 1.7 0 1 0 3.4 0a1.7 1.7 0 1 0 -3.4 0M444.8 183.6a1.7 1.7 0 1 0 3.4 0a1.7 1.7 0 1 0 -3.4 0M444.7 181.9a1.7 1.7 0 1 0 3.4 0a1.7 1.7 0 1 0 -3.4 0M445.3 179.2a1.7 1.7 0 1 0 3.4 0a1.7 1.7 0 1 0 -3.4 0M445.4 181.6a1.7 1.7 0 1 0 3.4 0a1.7 1.7 0 1 0 -3.4 0M445.3 172.6a1.7 1.7 0 1 0 3.4 0a1.7 1.7 0 1 0 -3.4 0M445.6 173.8a1.7 1.7 0 1 0 3.4 0a1.7 1.7 0 1 0 -3.4 0M446.3 176.7a1.7 1.7 0 1 0 3.4 0a1.7 1.7 0 1 0 -3.4 0M446.4 176.6a1.7 1.7 0 1 0 3.4 0a1.7 1.7 0 1 0 -3.4 0M446.5 180.4a1.7 1.7 0 1 0 3.4 0a1.7 1.7 0 1 0 -3.4 0M446.9 181.8a1.7 1.7 0 1 0 3.4 0a1.7 1.7 0 1 0 -3.4 0M447 167.7a1.7 1.7 0 1 0 3.4 0a1.7 1.7 0 1 0 -3.4 0M447 180.9a1.7 1.7 0 1 0 3.4 0a1.7 1.7 0 1 0 -3.4 0M448.1 184.3a1.7 1.7 0 1 0 3.4 0a1.7 1.7 0 1 0 -3.4 0M448.1 203.6a1.7 1.7 0 1 0 3.4 0a1.7 1.7 0 1 0 -3.4 0M447.7 177a1.7 1.7 0 1 0 3.4 0a1.7 1.7 0 1 0 -3.4 0M448.8 176.2a1.7 1.7 0 1 0 3.4 0a1.7 1.7 0 1 0 -3.4 0M448.5 176.5a1.7 1.7 0 1 0 3.4 0a1.7 1.7 0 1 0 -3.4 0M448.6 190.2a1.7 1.7 0 1 0 3.4 0a1.7 1.7 0 1 0 -3.4 0M449.4 189.9a1.7 1.7 0 1 0 3.4 0a1.7 1.7 0 1 0 -3.4 0M449.4 183.2a1.7 1.7 0 1 0 3.4 0a1.7 1.7 0 1 0 -3.4 0M449.5 177.4a1.7 1.7 0 1 0 3.4 0a1.7 1.7 0 1 0 -3.4 0M450.3 169.7a1.7 1.7 0 1 0 3.4 0a1.7 1.7 0 1 0 -3.4 0M450.1 179.4a1.7 1.7 0 1 0 3.4 0a1.7 1.7 0 1 0 -3.4 0M450.5 183.1a1.7 1.7 0 1 0 3.4 0a1.7 1.7 0 1 0 -3.4 0M450.1 189.9a1.7 1.7 0 1 0 3.4 0a1.7 1.7 0 1 0 -3.4 0M450.9 166.5a1.7 1.7 0 1 0 3.4 0a1.7 1.7 0 1 0 -3.4 0M451.1 183.6a1.7 1.7 0 1 0 3.4 0a1.7 1.7 0 1 0 -3.4 0M451.1 193.5a1.7 1.7 0 1 0 3.4 0a1.7 1.7 0 1 0 -3.4 0M451.8 184.6a1.7 1.7 0 1 0 3.4 0a1.7 1.7 0 1 0 -3.4 0M452.1 184.9a1.7 1.7 0 1 0 3.4 0a1.7 1.7 0 1 0 -3.4 0M451.9 176.1a1.7 1.7 0 1 0 3.4 0a1.7 1.7 0 1 0 -3.4 0M452.8 191.8a1.7 1.7 0 1 0 3.4 0a1.7 1.7 0 1 0 -3.4 0M452.5 189.4a1.7 1.7 0 1 0 3.4 0a1.7 1.7 0 1 0 -3.4 0M452.8 168.8a1.7 1.7 0 1 0 3.4 0a1.7 1.7 0 1 0 -3.4 0M452.7 158.3a1.7 1.7 0 1 0 3.4 0a1.7 1.7 0 1 0 -3.4 0M453.5 186.3a1.7 1.7 0 1 0 3.4 0a1.7 1.7 0 1 0 -3.4 0M453.5 183.7a1.7 1.7 0 1 0 3.4 0a1.7 1.7 0 1 0 -3.4 0M453.5 192.3a1.7 1.7 0 1 0 3.4 0a1.7 1.7 0 1 0 -3.4 0M454.1 190.5a1.7 1.7 0 1 0 3.4 0a1.7 1.7 0 1 0 -3.4 0M454.4 183.7a1.7 1.7 0 1 0 3.4 0a1.7 1.7 0 1 0 -3.4 0M454.4 172.7a1.7 1.7 0 1 0 3.4 0a1.7 1.7 0 1 0 -3.4 0M455.3 190.3a1.7 1.7 0 1 0 3.4 0a1.7 1.7 0 1 0 -3.4 0M455.3 181.4a1.7 1.7 0 1 0 3.4 0a1.7 1.7 0 1 0 -3.4 0M455.3 183.7a1.7 1.7 0 1 0 3.4 0a1.7 1.7 0 1 0 -3.4 0M456.1 201.3a1.7 1.7 0 1 0 3.4 0a1.7 1.7 0 1 0 -3.4 0M455.8 193.6a1.7 1.7 0 1 0 3.4 0a1.7 1.7 0 1 0 -3.4 0M456.1 174.4a1.7 1.7 0 1 0 3.4 0a1.7 1.7 0 1 0 -3.4 0M456.7 211.7a1.7 1.7 0 1 0 3.4 0a1.7 1.7 0 1 0 -3.4 0M456.9 199.3a1.7 1.7 0 1 0 3.4 0a1.7 1.7 0 1 0 -3.4 0M456.5 192.3a1.7 1.7 0 1 0 3.4 0a1.7 1.7 0 1 0 -3.4 0M456.7 183.1a1.7 1.7 0 1 0 3.4 0a1.7 1.7 0 1 0 -3.4 0M457.5 186.5a1.7 1.7 0 1 0 3.4 0a1.7 1.7 0 1 0 -3.4 0M457.6 189.9a1.7 1.7 0 1 0 3.4 0a1.7 1.7 0 1 0 -3.4 0M457.6 202.6a1.7 1.7 0 1 0 3.4 0a1.7 1.7 0 1 0 -3.4 0M458.1 184.7a1.7 1.7 0 1 0 3.4 0a1.7 1.7 0 1 0 -3.4 0M458.3 202.9a1.7 1.7 0 1 0 3.4 0a1.7 1.7 0 1 0 -3.4 0M458.4 185.7a1.7 1.7 0 1 0 3.4 0a1.7 1.7 0 1 0 -3.4 0M459.3 197.1a1.7 1.7 0 1 0 3.4 0a1.7 1.7 0 1 0 -3.4 0M459.2 200a1.7 1.7 0 1 0 3.4 0a1.7 1.7 0 1 0 -3.4 0M459 198.8a1.7 1.7 0 1 0 3.4 0a1.7 1.7 0 1 0 -3.4 0M459.9 191.1a1.7 1.7 0 1 0 3.4 0a1.7 1.7 0 1 0 -3.4 0M459.8 188a1.7 1.7 0 1 0 3.4 0a1.7 1.7 0 1 0 -3.4 0M460.1 189.8a1.7 1.7 0 1 0 3.4 0a1.7 1.7 0 1 0 -3.4 0M459.9 203.7a1.7 1.7 0 1 0 3.4 0a1.7 1.7 0 1 0 -3.4 0M460.5 195.3a1.7 1.7 0 1 0 3.4 0a1.7 1.7 0 1 0 -3.4 0M460.7 201.4a1.7 1.7 0 1 0 3.4 0a1.7 1.7 0 1 0 -3.4 0M460.5 197.7a1.7 1.7 0 1 0 3.4 0a1.7 1.7 0 1 0 -3.4 0M460.9 192.8a1.7 1.7 0 1 0 3.4 0a1.7 1.7 0 1 0 -3.4 0M461.5 199.5a1.7 1.7 0 1 0 3.4 0a1.7 1.7 0 1 0 -3.4 0M461.3 192.6a1.7 1.7 0 1 0 3.4 0a1.7 1.7 0 1 0 -3.4 0M461.6 196.5a1.7 1.7 0 1 0 3.4 0a1.7 1.7 0 1 0 -3.4 0M461.6 199.7a1.7 1.7 0 1 0 3.4 0a1.7 1.7 0 1 0 -3.4 0M462.1 202.5a1.7 1.7 0 1 0 3.4 0a1.7 1.7 0 1 0 -3.4 0M462.2 187.1a1.7 1.7 0 1 0 3.4 0a1.7 1.7 0 1 0 -3.4 0M462.4 202a1.7 1.7 0 1 0 3.4 0a1.7 1.7 0 1 0 -3.4 0M463.2 195.9a1.7 1.7 0 1 0 3.4 0a1.7 1.7 0 1 0 -3.4 0M463.2 205.6a1.7 1.7 0 1 0 3.4 0a1.7 1.7 0 1 0 -3.4 0M463.3 203.7a1.7 1.7 0 1 0 3.4 0a1.7 1.7 0 1 0 -3.4 0M463.3 205.5a1.7 1.7 0 1 0 3.4 0a1.7 1.7 0 1 0 -3.4 0M463.7 209.4a1.7 1.7 0 1 0 3.4 0a1.7 1.7 0 1 0 -3.4 0M464 200.7a1.7 1.7 0 1 0 3.4 0a1.7 1.7 0 1 0 -3.4 0M464 204.9a1.7 1.7 0 1 0 3.4 0a1.7 1.7 0 1 0 -3.4 0M464.7 201.9a1.7 1.7 0 1 0 3.4 0a1.7 1.7 0 1 0 -3.4 0M464.8 186.1a1.7 1.7 0 1 0 3.4 0a1.7 1.7 0 1 0 -3.4 0M464.5 202.4a1.7 1.7 0 1 0 3.4 0a1.7 1.7 0 1 0 -3.4 0M464.9 194.9a1.7 1.7 0 1 0 3.4 0a1.7 1.7 0 1 0 -3.4 0M465.4 198.8a1.7 1.7 0 1 0 3.4 0a1.7 1.7 0 1 0 -3.4 0M465.6 197a1.7 1.7 0 1 0 3.4 0a1.7 1.7 0 1 0 -3.4 0M465.7 220.1a1.7 1.7 0 1 0 3.4 0a1.7 1.7 0 1 0 -3.4 0M465.7 193.1a1.7 1.7 0 1 0 3.4 0a1.7 1.7 0 1 0 -3.4 0M466.3 201.2a1.7 1.7 0 1 0 3.4 0a1.7 1.7 0 1 0 -3.4 0M466.3 204.9a1.7 1.7 0 1 0 3.4 0a1.7 1.7 0 1 0 -3.4 0M466.1 205.6a1.7 1.7 0 1 0 3.4 0a1.7 1.7 0 1 0 -3.4 0M467.2 198.3a1.7 1.7 0 1 0 3.4 0a1.7 1.7 0 1 0 -3.4 0M467.2 213.6a1.7 1.7 0 1 0 3.4 0a1.7 1.7 0 1 0 -3.4 0M467.1 201.1a1.7 1.7 0 1 0 3.4 0a1.7 1.7 0 1 0 -3.4 0M467.8 209.5a1.7 1.7 0 1 0 3.4 0a1.7 1.7 0 1 0 -3.4 0M467.8 208.7a1.7 1.7 0 1 0 3.4 0a1.7 1.7 0 1 0 -3.4 0M467.9 188.1a1.7 1.7 0 1 0 3.4 0a1.7 1.7 0 1 0 -3.4 0M468.1 199.5a1.7 1.7 0 1 0 3.4 0a1.7 1.7 0 1 0 -3.4 0M468.8 198a1.7 1.7 0 1 0 3.4 0a1.7 1.7 0 1 0 -3.4 0M468.9 198.2a1.7 1.7 0 1 0 3.4 0a1.7 1.7 0 1 0 -3.4 0M468.9 198.3a1.7 1.7 0 1 0 3.4 0a1.7 1.7 0 1 0 -3.4 0M469.7 200a1.7 1.7 0 1 0 3.4 0a1.7 1.7 0 1 0 -3.4 0M469.4 197.4a1.7 1.7 0 1 0 3.4 0a1.7 1.7 0 1 0 -3.4 0M469.6 185.8a1.7 1.7 0 1 0 3.4 0a1.7 1.7 0 1 0 -3.4 0M470.5 199.4a1.7 1.7 0 1 0 3.4 0a1.7 1.7 0 1 0 -3.4 0M470.4 193.9a1.7 1.7 0 1 0 3.4 0a1.7 1.7 0 1 0 -3.4 0M470.3 191.7a1.7 1.7 0 1 0 3.4 0a1.7 1.7 0 1 0 -3.4 0M471.3 200.4a1.7 1.7 0 1 0 3.4 0a1.7 1.7 0 1 0 -3.4 0M471.1 187.7a1.7 1.7 0 1 0 3.4 0a1.7 1.7 0 1 0 -3.4 0M471.2 201.8a1.7 1.7 0 1 0 3.4 0a1.7 1.7 0 1 0 -3.4 0M471 196a1.7 1.7 0 1 0 3.4 0a1.7 1.7 0 1 0 -3.4 0M471.8 194.7a1.7 1.7 0 1 0 3.4 0a1.7 1.7 0 1 0 -3.4 0M472 192.4a1.7 1.7 0 1 0 3.4 0a1.7 1.7 0 1 0 -3.4 0M471.8 199.3a1.7 1.7 0 1 0 3.4 0a1.7 1.7 0 1 0 -3.4 0M472.1 191.2a1.7 1.7 0 1 0 3.4 0a1.7 1.7 0 1 0 -3.4 0M472.5 202.8a1.7 1.7 0 1 0 3.4 0a1.7 1.7 0 1 0 -3.4 0M472.9 193.1a1.7 1.7 0 1 0 3.4 0a1.7 1.7 0 1 0 -3.4 0M472.9 191.2a1.7 1.7 0 1 0 3.4 0a1.7 1.7 0 1 0 -3.4 0M473.5 185.2a1.7 1.7 0 1 0 3.4 0a1.7 1.7 0 1 0 -3.4 0M473.7 194a1.7 1.7 0 1 0 3.4 0a1.7 1.7 0 1 0 -3.4 0M473.4 176.8a1.7 1.7 0 1 0 3.4 0a1.7 1.7 0 1 0 -3.4 0M473.4 191.4a1.7 1.7 0 1 0 3.4 0a1.7 1.7 0 1 0 -3.4 0M474.3 175.9a1.7 1.7 0 1 0 3.4 0a1.7 1.7 0 1 0 -3.4 0M474.1 188.6a1.7 1.7 0 1 0 3.4 0a1.7 1.7 0 1 0 -3.4 0M474.1 192.7a1.7 1.7 0 1 0 3.4 0a1.7 1.7 0 1 0 -3.4 0M474.4 188.3a1.7 1.7 0 1 0 3.4 0a1.7 1.7 0 1 0 -3.4 0M475 197.7a1.7 1.7 0 1 0 3.4 0a1.7 1.7 0 1 0 -3.4 0M475 195.9a1.7 1.7 0 1 0 3.4 0a1.7 1.7 0 1 0 -3.4 0M475 189.3a1.7 1.7 0 1 0 3.4 0a1.7 1.7 0 1 0 -3.4 0M476 198.2a1.7 1.7 0 1 0 3.4 0a1.7 1.7 0 1 0 -3.4 0M475.9 207.2a1.7 1.7 0 1 0 3.4 0a1.7 1.7 0 1 0 -3.4 0M475.7 181.4a1.7 1.7 0 1 0 3.4 0a1.7 1.7 0 1 0 -3.4 0M476.5 185.6a1.7 1.7 0 1 0 3.4 0a1.7 1.7 0 1 0 -3.4 0M476.6 187.3a1.7 1.7 0 1 0 3.4 0a1.7 1.7 0 1 0 -3.4 0M476.7 188.5a1.7 1.7 0 1 0 3.4 0a1.7 1.7 0 1 0 -3.4 0M476.9 191.9a1.7 1.7 0 1 0 3.4 0a1.7 1.7 0 1 0 -3.4 0M477.7 199.7a1.7 1.7 0 1 0 3.4 0a1.7 1.7 0 1 0 -3.4 0M477.3 185.5a1.7 1.7 0 1 0 3.4 0a1.7 1.7 0 1 0 -3.4 0M477.7 205.2a1.7 1.7 0 1 0 3.4 0a1.7 1.7 0 1 0 -3.4 0M477.4 198.4a1.7 1.7 0 1 0 3.4 0a1.7 1.7 0 1 0 -3.4 0M478.2 198.1a1.7 1.7 0 1 0 3.4 0a1.7 1.7 0 1 0 -3.4 0M478.4 199a1.7 1.7 0 1 0 3.4 0a1.7 1.7 0 1 0 -3.4 0M478.1 201.2a1.7 1.7 0 1 0 3.4 0a1.7 1.7 0 1 0 -3.4 0M478.1 203.7a1.7 1.7 0 1 0 3.4 0a1.7 1.7 0 1 0 -3.4 0M479.3 192.1a1.7 1.7 0 1 0 3.4 0a1.7 1.7 0 1 0 -3.4 0M479 204.2a1.7 1.7 0 1 0 3.4 0a1.7 1.7 0 1 0 -3.4 0M479.3 202.3a1.7 1.7 0 1 0 3.4 0a1.7 1.7 0 1 0 -3.4 0M480 212.7a1.7 1.7 0 1 0 3.4 0a1.7 1.7 0 1 0 -3.4 0M479.7 208.5a1.7 1.7 0 1 0 3.4 0a1.7 1.7 0 1 0 -3.4 0M480 210.6a1.7 1.7 0 1 0 3.4 0a1.7 1.7 0 1 0 -3.4 0M480.8 221.4a1.7 1.7 0 1 0 3.4 0a1.7 1.7 0 1 0 -3.4 0M480.8 226.3a1.7 1.7 0 1 0 3.4 0a1.7 1.7 0 1 0 -3.4 0M480.7 219.3a1.7 1.7 0 1 0 3.4 0a1.7 1.7 0 1 0 -3.4 0M481.6 208.6a1.7 1.7 0 1 0 3.4 0a1.7 1.7 0 1 0 -3.4 0M481.4 211.7a1.7 1.7 0 1 0 3.4 0a1.7 1.7 0 1 0 -3.4 0M481.5 220.3a1.7 1.7 0 1 0 3.4 0a1.7 1.7 0 1 0 -3.4 0M481.5 206.4a1.7 1.7 0 1 0 3.4 0a1.7 1.7 0 1 0 -3.4 0M482.3 203.3a1.7 1.7 0 1 0 3.4 0a1.7 1.7 0 1 0 -3.4 0M482.3 212.1a1.7 1.7 0 1 0 3.4 0a1.7 1.7 0 1 0 -3.4 0M482.4 216.1a1.7 1.7 0 1 0 3.4 0a1.7 1.7 0 1 0 -3.4 0M482.2 216a1.7 1.7 0 1 0 3.4 0a1.7 1.7 0 1 0 -3.4 0M483.3 210.9a1.7 1.7 0 1 0 3.4 0a1.7 1.7 0 1 0 -3.4 0M483.3 205.6a1.7 1.7 0 1 0 3.4 0a1.7 1.7 0 1 0 -3.4 0M483.2 217.5a1.7 1.7 0 1 0 3.4 0a1.7 1.7 0 1 0 -3.4 0M483.3 210.1a1.7 1.7 0 1 0 3.4 0a1.7 1.7 0 1 0 -3.4 0M484.1 205.5a1.7 1.7 0 1 0 3.4 0a1.7 1.7 0 1 0 -3.4 0M484 213.4a1.7 1.7 0 1 0 3.4 0a1.7 1.7 0 1 0 -3.4 0M484.1 210.7a1.7 1.7 0 1 0 3.4 0a1.7 1.7 0 1 0 -3.4 0M483.7 207.3a1.7 1.7 0 1 0 3.4 0a1.7 1.7 0 1 0 -3.4 0M484.5 206.1a1.7 1.7 0 1 0 3.4 0a1.7 1.7 0 1 0 -3.4 0M484.7 209.6a1.7 1.7 0 1 0 3.4 0a1.7 1.7 0 1 0 -3.4 0M484.8 208.2a1.7 1.7 0 1 0 3.4 0a1.7 1.7 0 1 0 -3.4 0M484.8 210a1.7 1.7 0 1 0 3.4 0a1.7 1.7 0 1 0 -3.4 0M485.4 206.4a1.7 1.7 0 1 0 3.4 0a1.7 1.7 0 1 0 -3.4 0M485.6 203.8a1.7 1.7 0 1 0 3.4 0a1.7 1.7 0 1 0 -3.4 0M485.3 206.4a1.7 1.7 0 1 0 3.4 0a1.7 1.7 0 1 0 -3.4 0M485.3 214.1a1.7 1.7 0 1 0 3.4 0a1.7 1.7 0 1 0 -3.4 0M486.5 204.8a1.7 1.7 0 1 0 3.4 0a1.7 1.7 0 1 0 -3.4 0M486.1 194.5a1.7 1.7 0 1 0 3.4 0a1.7 1.7 0 1 0 -3.4 0M486.1 203.6a1.7 1.7 0 1 0 3.4 0a1.7 1.7 0 1 0 -3.4 0M486.1 205.1a1.7 1.7 0 1 0 3.4 0a1.7 1.7 0 1 0 -3.4 0M487 211.3a1.7 1.7 0 1 0 3.4 0a1.7 1.7 0 1 0 -3.4 0M487 203.3a1.7 1.7 0 1 0 3.4 0a1.7 1.7 0 1 0 -3.4 0M486.9 206.1a1.7 1.7 0 1 0 3.4 0a1.7 1.7 0 1 0 -3.4 0M487.7 187.4a1.7 1.7 0 1 0 3.4 0a1.7 1.7 0 1 0 -3.4 0M488 190.8a1.7 1.7 0 1 0 3.4 0a1.7 1.7 0 1 0 -3.4 0M487.8 201.7a1.7 1.7 0 1 0 3.4 0a1.7 1.7 0 1 0 -3.4 0M488.1 200.1a1.7 1.7 0 1 0 3.4 0a1.7 1.7 0 1 0 -3.4 0M488.7 195.6a1.7 1.7 0 1 0 3.4 0a1.7 1.7 0 1 0 -3.4 0M488.8 196.7a1.7 1.7 0 1 0 3.4 0a1.7 1.7 0 1 0 -3.4 0M488.5 190.5a1.7 1.7 0 1 0 3.4 0a1.7 1.7 0 1 0 -3.4 0M488.8 210.6a1.7 1.7 0 1 0 3.4 0a1.7 1.7 0 1 0 -3.4 0M489.5 196.9a1.7 1.7 0 1 0 3.4 0a1.7 1.7 0 1 0 -3.4 0M489.7 191.1a1.7 1.7 0 1 0 3.4 0a1.7 1.7 0 1 0 -3.4 0M489.5 184.1a1.7 1.7 0 1 0 3.4 0a1.7 1.7 0 1 0 -3.4 0M489.5 191.3a1.7 1.7 0 1 0 3.4 0a1.7 1.7 0 1 0 -3.4 0M490.2 196.7a1.7 1.7 0 1 0 3.4 0a1.7 1.7 0 1 0 -3.4 0M490.5 169.4a1.7 1.7 0 1 0 3.4 0a1.7 1.7 0 1 0 -3.4 0M490.3 196.7a1.7 1.7 0 1 0 3.4 0a1.7 1.7 0 1 0 -3.4 0M490.4 190.1a1.7 1.7 0 1 0 3.4 0a1.7 1.7 0 1 0 -3.4 0M491.2 192.9a1.7 1.7 0 1 0 3.4 0a1.7 1.7 0 1 0 -3.4 0M490.9 185.6a1.7 1.7 0 1 0 3.4 0a1.7 1.7 0 1 0 -3.4 0M491.2 187.7a1.7 1.7 0 1 0 3.4 0a1.7 1.7 0 1 0 -3.4 0M491.1 190.6a1.7 1.7 0 1 0 3.4 0a1.7 1.7 0 1 0 -3.4 0M491.9 186.2a1.7 1.7 0 1 0 3.4 0a1.7 1.7 0 1 0 -3.4 0M491.7 186.9a1.7 1.7 0 1 0 3.4 0a1.7 1.7 0 1 0 -3.4 0M491.8 179.9a1.7 1.7 0 1 0 3.4 0a1.7 1.7 0 1 0 -3.4 0M492 172a1.7 1.7 0 1 0 3.4 0a1.7 1.7 0 1 0 -3.4 0M492.5 178.5a1.7 1.7 0 1 0 3.4 0a1.7 1.7 0 1 0 -3.4 0M492.7 194.9a1.7 1.7 0 1 0 3.4 0a1.7 1.7 0 1 0 -3.4 0M492.9 194.8a1.7 1.7 0 1 0 3.4 0a1.7 1.7 0 1 0 -3.4 0M493.6 198.3a1.7 1.7 0 1 0 3.4 0a1.7 1.7 0 1 0 -3.4 0M493.4 197.5a1.7 1.7 0 1 0 3.4 0a1.7 1.7 0 1 0 -3.4 0M493.3 189.8a1.7 1.7 0 1 0 3.4 0a1.7 1.7 0 1 0 -3.4 0M493.7 194.8a1.7 1.7 0 1 0 3.4 0a1.7 1.7 0 1 0 -3.4 0M494.3 187.9a1.7 1.7 0 1 0 3.4 0a1.7 1.7 0 1 0 -3.4 0M494.1 187.9a1.7 1.7 0 1 0 3.4 0a1.7 1.7 0 1 0 -3.4 0M494.5 191.8a1.7 1.7 0 1 0 3.4 0a1.7 1.7 0 1 0 -3.4 0M494.9 194.5a1.7 1.7 0 1 0 3.4 0a1.7 1.7 0 1 0 -3.4 0M495.2 185a1.7 1.7 0 1 0 3.4 0a1.7 1.7 0 1 0 -3.4 0M495 189a1.7 1.7 0 1 0 3.4 0a1.7 1.7 0 1 0 -3.4 0M494.9 188.6a1.7 1.7 0 1 0 3.4 0a1.7 1.7 0 1 0 -3.4 0M496 191a1.7 1.7 0 1 0 3.4 0a1.7 1.7 0 1 0 -3.4 0M495.9 175.7a1.7 1.7 0 1 0 3.4 0a1.7 1.7 0 1 0 -3.4 0M496 200.2a1.7 1.7 0 1 0 3.4 0a1.7 1.7 0 1 0 -3.4 0M496.7 174a1.7 1.7 0 1 0 3.4 0a1.7 1.7 0 1 0 -3.4 0M496.7 191.6a1.7 1.7 0 1 0 3.4 0a1.7 1.7 0 1 0 -3.4 0M496.6 175.3a1.7 1.7 0 1 0 3.4 0a1.7 1.7 0 1 0 -3.4 0M496.8 185.4a1.7 1.7 0 1 0 3.4 0a1.7 1.7 0 1 0 -3.4 0M497.3 184.5a1.7 1.7 0 1 0 3.4 0a1.7 1.7 0 1 0 -3.4 0M497.3 184.5a1.7 1.7 0 1 0 3.4 0a1.7 1.7 0 1 0 -3.4 0M497.6 210.9a1.7 1.7 0 1 0 3.4 0a1.7 1.7 0 1 0 -3.4 0M497.7 186.7a1.7 1.7 0 1 0 3.4 0a1.7 1.7 0 1 0 -3.4 0M498.5 190.7a1.7 1.7 0 1 0 3.4 0a1.7 1.7 0 1 0 -3.4 0M498.1 182.1a1.7 1.7 0 1 0 3.4 0a1.7 1.7 0 1 0 -3.4 0M498.4 185.6a1.7 1.7 0 1 0 3.4 0a1.7 1.7 0 1 0 -3.4 0M498.3 180.8a1.7 1.7 0 1 0 3.4 0a1.7 1.7 0 1 0 -3.4 0M498.9 168.5a1.7 1.7 0 1 0 3.4 0a1.7 1.7 0 1 0 -3.4 0M499.3 176.6a1.7 1.7 0 1 0 3.4 0a1.7 1.7 0 1 0 -3.4 0M499.2 177.4a1.7 1.7 0 1 0 3.4 0a1.7 1.7 0 1 0 -3.4 0M498.9 188.7a1.7 1.7 0 1 0 3.4 0a1.7 1.7 0 1 0 -3.4 0M499.7 187.3a1.7 1.7 0 1 0 3.4 0a1.7 1.7 0 1 0 -3.4 0M499.9 178.4a1.7 1.7 0 1 0 3.4 0a1.7 1.7 0 1 0 -3.4 0M500.1 179.9a1.7 1.7 0 1 0 3.4 0a1.7 1.7 0 1 0 -3.4 0M499.9 175.2a1.7 1.7 0 1 0 3.4 0a1.7 1.7 0 1 0 -3.4 0M500.5 176.8a1.7 1.7 0 1 0 3.4 0a1.7 1.7 0 1 0 -3.4 0M500.7 175.6a1.7 1.7 0 1 0 3.4 0a1.7 1.7 0 1 0 -3.4 0M500.9 169.5a1.7 1.7 0 1 0 3.4 0a1.7 1.7 0 1 0 -3.4 0M501.5 190.7a1.7 1.7 0 1 0 3.4 0a1.7 1.7 0 1 0 -3.4 0M501.6 167a1.7 1.7 0 1 0 3.4 0a1.7 1.7 0 1 0 -3.4 0M501.6 179a1.7 1.7 0 1 0 3.4 0a1.7 1.7 0 1 0 -3.4 0M501.5 187.8a1.7 1.7 0 1 0 3.4 0a1.7 1.7 0 1 0 -3.4 0M502.5 180.9a1.7 1.7 0 1 0 3.4 0a1.7 1.7 0 1 0 -3.4 0M502.1 174.6a1.7 1.7 0 1 0 3.4 0a1.7 1.7 0 1 0 -3.4 0M502.2 177.4a1.7 1.7 0 1 0 3.4 0a1.7 1.7 0 1 0 -3.4 0M502.4 177a1.7 1.7 0 1 0 3.4 0a1.7 1.7 0 1 0 -3.4 0M503.1 174.1a1.7 1.7 0 1 0 3.4 0a1.7 1.7 0 1 0 -3.4 0M502.9 170.2a1.7 1.7 0 1 0 3.4 0a1.7 1.7 0 1 0 -3.4 0M503.3 180.4a1.7 1.7 0 1 0 3.4 0a1.7 1.7 0 1 0 -3.4 0M503.3 178.5a1.7 1.7 0 1 0 3.4 0a1.7 1.7 0 1 0 -3.4 0M504.1 151.7a1.7 1.7 0 1 0 3.4 0a1.7 1.7 0 1 0 -3.4 0M503.8 181a1.7 1.7 0 1 0 3.4 0a1.7 1.7 0 1 0 -3.4 0M504.1 173.5a1.7 1.7 0 1 0 3.4 0a1.7 1.7 0 1 0 -3.4 0M503.9 170.3a1.7 1.7 0 1 0 3.4 0a1.7 1.7 0 1 0 -3.4 0M504.5 172.4a1.7 1.7 0 1 0 3.4 0a1.7 1.7 0 1 0 -3.4 0M504.5 175a1.7 1.7 0 1 0 3.4 0a1.7 1.7 0 1 0 -3.4 0M504.5 179.2a1.7 1.7 0 1 0 3.4 0a1.7 1.7 0 1 0 -3.4 0M504.8 156.5a1.7 1.7 0 1 0 3.4 0a1.7 1.7 0 1 0 -3.4 0M505.4 183.6a1.7 1.7 0 1 0 3.4 0a1.7 1.7 0 1 0 -3.4 0M505.3 164.9a1.7 1.7 0 1 0 3.4 0a1.7 1.7 0 1 0 -3.4 0M505.7 146.5a1.7 1.7 0 1 0 3.4 0a1.7 1.7 0 1 0 -3.4 0M505.5 171.4a1.7 1.7 0 1 0 3.4 0a1.7 1.7 0 1 0 -3.4 0M506.3 175.9a1.7 1.7 0 1 0 3.4 0a1.7 1.7 0 1 0 -3.4 0M506.2 183.2a1.7 1.7 0 1 0 3.4 0a1.7 1.7 0 1 0 -3.4 0M506.3 175.5a1.7 1.7 0 1 0 3.4 0a1.7 1.7 0 1 0 -3.4 0M506.5 170.4a1.7 1.7 0 1 0 3.4 0a1.7 1.7 0 1 0 -3.4 0M507.1 172.6a1.7 1.7 0 1 0 3.4 0a1.7 1.7 0 1 0 -3.4 0M507.2 162.1a1.7 1.7 0 1 0 3.4 0a1.7 1.7 0 1 0 -3.4 0M507.3 165.4a1.7 1.7 0 1 0 3.4 0a1.7 1.7 0 1 0 -3.4 0M507.1 174.8a1.7 1.7 0 1 0 3.4 0a1.7 1.7 0 1 0 -3.4 0M508 174.5a1.7 1.7 0 1 0 3.4 0a1.7 1.7 0 1 0 -3.4 0M507.9 151.8a1.7 1.7 0 1 0 3.4 0a1.7 1.7 0 1 0 -3.4 0M507.8 146.7a1.7 1.7 0 1 0 3.4 0a1.7 1.7 0 1 0 -3.4 0" fill="none" stroke="#141414" stroke-width="0.9"/>
<path d="M82.9,198.4 83.6,194.9 84.9,196.3 86.2,193 87.3,193.8 88.1,191.2 89.3,191 90.1,188.5 90.9,190 92.2,188 93.3,190.1 94.3,187.8 95.2,189.1 96.4,186.2 97.3,188.2 98.1,186.1 99.2,185.6 100.1,181.1 101.2,181.1 102.4,176.7 103.2,179.6 104.1,177.9 105.1,179.8 106.1,178.8 106.8,181.3 108,180.2 108.9,183.6 109.6,182.5 110.3,184.9 111.3,184.7 112.3,187.2 113.1,186.4 114.3,190 115.4,189.3 116.4,190.1 117.5,185.7 118.6,186.9 119.4,183 120.3,184.2 121.4,179.2 122.6,179.5 123.6,175.6 124.3,176.6 125.4,172.6 126.3,173.2 127.4,169.4 128.5,170 129.5,166.4 130.4,167.5 131.3,164.4 132.2,165 133,161.4 134,162.8 135,160 135.9,161.9 136.7,160.4 137.7,164.2 138.4,163.6 139.3,166.2 140.2,165 141,167.8 142.1,166.9 143.3,168.1 144,164.2 145,164.3 146.3,159.8 147.5,159.6 148.6,157.2 149.8,157 150.7,154.8 151.7,156.3 152.8,154.8 153.5,156.3 154.8,155.2 155.7,156.4 156.6,154.6 157.9,154.6 158.7,153 159.7,153.1 160.8,153.5 161.5,156.1 162.3,156.6 163.1,159.2 164,158.9 165.3,159.3 166.2,155.8 167,156.5 168.2,152.7 169,153.3 170.2,153 171.4,156.3 172.5,158.4 173.6,163.3 174.5,164.1 175.7,168.5 176.7,168.4 177.6,172.6 178.9,173.1 179.7,176.3 180.7,173.2 181.6,175.3 182.9,172.3 184.1,173.9 185,170.7 186.3,171.9 187.4,167 188.7,168.7 189.7,162.1 190.4,161.4 191.3,155.3 192.6,151.7 193.9,144 194.8,144.6 195.9,133.9 196.9,134.3 198.1,125.8 199.1,129.6 200.3,121.9 201.2,124.7 202.4,116.5 203.3,122.1 204.2,116.2 205.1,123.4 206.4,117 207.3,123.1 208.3,119.6 209,126 210.3,123.9 211.5,129.6 212.8,125.1 213.9,132.1 214.9,128 216.1,133.6 217.2,127.3 218.2,129.5 219.2,122.7 220.1,127.2 221.2,118 222.4,124.1 223.6,121 224.7,126.4 225.8,121.6 226.9,125.1 228.1,120 229.2,125.9 230,121.2 231.3,125.7 232.4,120.4 233.6,132.3 234.9,136.1 236,151.9 237,145.4 237.9,150.4 238.8,143.7 239.6,152.9 240.7,145.3 241.8,152.1 243,146.3 243.9,154.8 244.7,150.2 245.9,156.9 246.9,150.3 247.7,155.8 248.6,151.4 249.4,157.6 250.3,151.4 251.5,155.4 252.6,148 253.6,152.6 254.8,146.7M267.5,158.8 268.5,153.4 269.2,162.2 270.3,157.5 271.5,165.5 272.6,159.3 273.7,160.6 274.7,152.4 275.5,158.5 276.4,152.6 277.1,157.6 278,155.2 279.2,162.7 280.1,160.6 281.2,167.2 282.3,165.1 283,171.2 284.2,168.3 284.9,174.4 285.6,166.9 286.7,174.1 287.7,171.6 288.4,176.2 289.7,166.4 290.8,172.2 291.9,162.8 293,166.6 293.9,155.3 294.8,160 295.9,147.7 296.8,153.3 297.7,145.5 298.6,150.9 299.5,140.7 300.3,146.7 301.5,138.2 302.5,140.6 303.6,131.5 304.4,136.9 305.3,129.6 306.5,141.1 307.7,135.9 308.7,144.4 309.7,139.1 310.4,148.6 311.2,140.5 312.1,150 312.8,142 313.8,152.3 315,141.6 315.8,148.4 316.9,143.3 318.2,148.8 319.2,139.2 319.9,145 321.1,136.9 321.8,142.2 322.8,131.1 323.7,141.2 325,131.1 326,137.1 327,126.9 328.1,136.1 328.9,126.9 330,137.9 330.7,130.8 331.6,141.1 332.9,138.6 334,143.8 335.1,129 335.8,134.6 336.6,124 337.4,128.1 338.2,125.7 339.2,133.6 340.2,130.4 341.2,136.6 342,132.2 342.8,136.5 343.6,128.8 344.4,136.4 345.6,127.3 346.4,138.9 347.1,132 348.3,145.2 349.5,144.9 350.6,157 351.9,150.4 352.8,162.8 354,151.8 354.9,152.2 355.7,144 357,144.6 357.9,134 359,141.1 359.8,133 360.6,140.2 361.6,127.6 362.4,134.3 363.7,129.5 364.9,134.3 365.7,124 366.7,134.2 367.7,121.5 369,129.2 370.1,124.5 371.2,134.1 372.3,130.8 373.1,140.1 373.9,135.6 374.6,146 375.6,136.1 376.7,147.2 377.5,141.5 378.6,148.3 379.8,137.5 380.5,143.6 381.6,132.5 382.8,140.7 383.9,129.3 384.7,139.5 385.8,130.7 386.6,136.4 387.5,125.7 388.3,134.5 389.3,124.4 390.2,135 391.3,125.2 392.6,135.6 393.8,127 394.5,133.7 395.6,128.9 396.7,133.7 397.6,125.2 398.8,135.2 399.8,127 401.1,137.2 402.1,130.2 403.4,133.1 404.1,125.8 405,133.9 406.1,125.1 407.3,133.3 408.4,125.8 409.6,140.2 410.8,139.6 411.9,158 412.8,155.7 413.7,163.2 414.7,159.4 415.7,162.9 416.8,154.8 418.1,155 419.2,144.7 420,150.2 421,137.5 421.8,142.4 423,135 423.9,142.7 425.1,138.6 426.1,144.5 427.1,138.3 427.8,144.3 428.8,146.3 429.8,163.3 430.5,167 431.7,180.5 432.6,179.5 433.5,182.7 434.6,180.7 435.8,185.6 436.9,181.9 437.6,184.1 438.4,179.5 439.1,182.2 440.4,178.9 441.5,180.9 442.2,176.9 443.2,179.1 444.3,173.8 445.1,176.4 446.4,175.7 447.3,179.8 448.6,179.3 449.7,182.6 450.7,178.9 451.5,182.8 452.4,179.1 453.5,182.5 454.3,180.8 455.4,187.4 456.6,186.2 457.4,192.6 458.6,191.4 459.8,195 461.1,193.4 462.4,198.9 463.6,197.3 464.5,201.9 465.7,200.4 467,202.7 468,200.7 468.8,202.7 469.5,199.8 470.6,201.3 471.8,195.9 472.9,196.1 473.8,193.1 474.6,195.2 475.3,190.4 476.3,193.1 477.5,187.8 478.8,195.7 479.7,193.3 480.9,204.5 481.8,208.8 483,214.7 484.2,210.6 485.3,212.7 486.2,208.1 487.3,208.5 488.5,202.3 489.2,203.6 490.5,197.8 491.7,196.1 492.5,191.1 493.4,191.4 494.2,188.5 495.1,190.8 496.2,186.7 497.1,188.5 498.3,184.9 499.2,186.7 500,183 501.2,184.6 501.9,180 502.9,179.8 503.9,174.8 504.8,175.5 506,171.9 507.3,171.5 508.3,167.3 509.2,168.9" fill="none" stroke="#d9262b" stroke-width="1.0" stroke-linejoin="round"/>
<rect x="61" y="6.7" width="499" height="224.3" fill="none" stroke="#111" stroke-width="1.5"/>
<path d="M61 231h5M61 199h5M61 166.9h5M61 134.9h5M61 102.8h5M61 70.8h5M61 38.8h5M61 6.7h5M560 231h-6M560 177.5h-6M560 124h-6M560 70.5h-6M560 17h-6M144.6 231v-6M226.1 231v-6M310.1 231v-6M394 231v-6M475.8 231v-6" stroke="#111" stroke-width="1.3" fill="none"/>
<text x="55.6" y="237.3" text-anchor="end" style="font-family:'Liberation Sans',sans-serif;font-size:17.5px">0</text>
<text x="55.6" y="205.3" text-anchor="end" style="font-family:'Liberation Sans',sans-serif;font-size:17.5px">1</text>
<text x="55.6" y="173.2" text-anchor="end" style="font-family:'Liberation Sans',sans-serif;font-size:17.5px">2</text>
<text x="55.6" y="141.2" text-anchor="end" style="font-family:'Liberation Sans',sans-serif;font-size:17.5px">3</text>
<text x="55.6" y="109.1" text-anchor="end" style="font-family:'Liberation Sans',sans-serif;font-size:17.5px">4</text>
<text x="55.6" y="77.1" text-anchor="end" style="font-family:'Liberation Sans',sans-serif;font-size:17.5px">5</text>
<text x="55.6" y="45.1" text-anchor="end" style="font-family:'Liberation Sans',sans-serif;font-size:17.5px">6</text>
<text x="55.6" y="13" text-anchor="end" style="font-family:'Liberation Sans',sans-serif;font-size:17.5px">7</text>
<text x="564.5" y="237.3" style="font-family:'Liberation Sans',sans-serif;font-size:17.5px">0</text>
<text x="564.5" y="183.8" style="font-family:'Liberation Sans',sans-serif;font-size:17.5px">5</text>
<text x="564.5" y="130.3" style="font-family:'Liberation Sans',sans-serif;font-size:17.5px">10</text>
<text x="564.5" y="76.8" style="font-family:'Liberation Sans',sans-serif;font-size:17.5px">15</text>
<text x="564.5" y="23.3" style="font-family:'Liberation Sans',sans-serif;font-size:17.5px">20</text>
<text x="59" y="252.6" text-anchor="middle" style="font-family:'Liberation Serif',serif;font-size:17.3px">May</text>
<text x="142.3" y="252.6" text-anchor="middle" style="font-family:'Liberation Serif',serif;font-size:17.3px">Jun</text>
<text x="224" y="252.6" text-anchor="middle" style="font-family:'Liberation Serif',serif;font-size:17.3px">Jul</text>
<text x="308" y="252.6" text-anchor="middle" style="font-family:'Liberation Serif',serif;font-size:17.3px">Aug</text>
<text x="392.2" y="252.6" text-anchor="middle" style="font-family:'Liberation Serif',serif;font-size:17.3px">Sep</text>
<text x="473.8" y="252.6" text-anchor="middle" style="font-family:'Liberation Serif',serif;font-size:17.3px">Oct</text>
<text x="557.6" y="252.6" text-anchor="middle" style="font-family:'Liberation Serif',serif;font-size:17.3px">Nov</text>
<text transform="translate(73.8 36.4) scale(1 1.065)" style="font-family:'Liberation Sans',sans-serif;font-weight:bold;font-size:21.5px">2008</text>
<text transform="translate(20.5 118.4) rotate(-90)" text-anchor="middle" style="font-family:'Liberation Serif',serif;font-size:21.85px">CO<tspan dy="5" style="font-size:14.3px">2</tspan><tspan dy="-5"> flux (µmol m</tspan><tspan dy="-10" style="font-size:15.5px">−2</tspan><tspan dy="10"> s</tspan><tspan dy="-10" style="font-size:15.5px">−1</tspan><tspan dy="10">)</tspan></text>
<text transform="translate(609.6 118.5) rotate(-90)" text-anchor="middle" style="font-family:'Liberation Serif',serif;font-size:22.4px">Temp (°C)</text>
<path d="M352.8 221.1L332 186" stroke="#111" stroke-width="2.6"/>
<path d="M327.2 177.8L330.9 193.2L332.6 187.2L339.2 188.6Z" fill="#111" stroke="#111" stroke-width="1" stroke-linejoin="round"/>
<text x="355.2" y="203.8" style="font-family:'Liberation Sans',sans-serif;font-weight:bold;font-size:23.5px">A</text>
<rect x="261" y="287.6" width="77.8" height="224" fill="#d9d8ec"/>
<path d="M152.1,361.6 152.8,360.8 153.5,361 154.2,360 154.9,360.2 155.6,360.2 156.3,358.7 157,359.1 157.7,355.9 158.4,352.7 159.1,352.1 159.8,350.7 160.5,351.4 161.2,351.7 161.9,350.1 162.6,350.3 163.3,349.6 164,347.5 164.7,347.7 165.4,347.6 166.1,346.7 166.8,345.4 167.5,346.2 168.2,346.6 168.9,345.3 169.6,344.3 170.3,343.4 171,343.5 171.7,342.2 172.4,342.2 173.1,342.6 173.8,343 174.5,341.6 175.2,341.9 175.9,340.6 176.6,340.9 177.3,339.4 178,338.6 178.7,338.1 179.4,337 180.1,334.8 180.8,331.5 181.5,330.7 182.2,326.8 182.9,323.5 183.6,320.3 184.3,321.4 185,321 185.7,321.4 186.4,322.2 187.1,324.7 187.8,326.5 188.5,326.7 189.2,326.9 189.9,326.2 190.6,325.8 191.3,321.8 192,315.3 192.7,316.3 193.4,315.6 194.1,316.2 194.8,317.9 195.5,318 196.2,324.1 196.9,334.5 197.6,338.3 198.3,341.5 199,345.8 199.7,350.4 200.4,356.1 201.1,360.1 201.8,362.6 202.5,364.7 203.2,366.3 203.9,369.5 204.6,378.5 205.3,381.6 206,379.3 206.7,373.1 207.4,370.7 208.1,368.4 208.8,366.8 209.5,362.2 210.2,358.8 210.9,356.4 211.6,355 212.3,352.2 213,349.7 213.7,347.5 214.4,346.5 215.1,345 215.8,344.2 216.5,343 217.2,341.2 217.9,341.4 218.6,338.6 219.3,339 220,336.4 220.7,333.7 221.4,329.9 222.1,327.3 222.8,325 223.5,321 224.2,319.1 224.9,314.8 225.6,314.1 226.3,313.9 227,313.6 227.7,311.7 228.4,310.2 229.1,309.7 229.8,309.2 230.5,310 231.2,309.6 231.9,310 232.6,310.1 233.3,309.4 234,310 234.7,311.5 235.4,312.6 235.5,312.7 235.5,325 235.4,325.5 234.7,327.5 234,328.6 233.3,329.8 232.6,330.3 231.9,332.2 231.2,331.1 230.5,331.2 229.8,330.9 229.1,332.5 228.4,332.9 227.7,333 227,332.9 226.3,334 225.6,335.9 224.9,337.2 224.2,339.2 223.5,341.2 222.8,342.4 222.1,344 221.4,345.9 220.7,348.5 220,353.1 219.3,354.6 218.6,356 217.9,357.3 217.2,358.2 216.5,358.6 215.8,359.6 215.1,361.7 214.4,362.4 213.7,364 213,363.8 212.3,367.1 211.6,368 210.9,370.6 210.2,374.1 209.5,377.4 208.8,382.1 208.1,383.2 207.4,383.7 206.7,385.6 206,393.2 205.3,394.4 204.6,387 203.9,382.2 203.2,377.7 202.5,377.2 201.8,374.1 201.1,371.8 200.4,367.4 199.7,364.1 199,360.7 198.3,357.3 197.6,356.4 196.9,354 196.2,340.1 195.5,333.2 194.8,331.9 194.1,329.8 193.4,331.1 192.7,331.5 192,332.5 191.3,340.4 190.6,347 189.9,349.7 189.2,351 188.5,352.2 187.8,351.2 187.1,345.4 186.4,337.5 185.7,337.2 185,336.9 184.3,338.4 183.6,338.8 182.9,339.9 182.2,342.2 181.5,344.5 180.8,349 180.1,353.8 179.4,356.7 178.7,360 178,361.5 177.3,360.6 176.6,362.6 175.9,361.9 175.2,361.5 174.5,362.1 173.8,362.8 173.1,361.7 172.4,361.4 171.7,362.9 171,362.3 170.3,361.8 169.6,362.7 168.9,362.6 168.2,362.7 167.5,362.7 166.8,363.5 166.1,364.8 165.4,364.5 164.7,364.1 164,364.8 163.3,366.5 162.6,368.3 161.9,369.4 161.2,369.5 160.5,370.4 159.8,369.5 159.1,369.6 158.4,370 157.7,371.7 157,374.6 156.3,376.6 155.6,377 154.9,379.3 154.2,379.8 153.5,380.9 152.8,381.5 152.1,380.1ZM268.5,333.5 269.2,328.7 269.9,321.8 270.6,319 271.3,323.6 272,326.1 272.7,332.3 273.4,341.5 274.1,350.4 274.8,356.2 275.5,357 276.2,356 276.9,356.9 277.6,356.4 278.3,357 279,357.1 279.7,355 280.4,355.6 281.1,353.2 281.8,352.9 282.5,351.6 283.2,345.6 283.9,339.9 284.6,324.9 285.3,306.2 286,299.1 286.7,295.1 287.4,296.4 288.1,297.3 288.8,299.6 289.5,309.9 290.2,323.3 290.9,333.7 291.6,339 292.3,343.6 293,345.8 293.7,349.9 294.4,352.6 295.1,346.1 295.8,337 296.5,331.4 297.2,324.4 297.9,318.2 298.6,316.3 299.3,315.2 300,315.1 300.7,312 301.4,311.9 302.1,310.8 302.8,309.6 303.5,309.1 304.2,309 304.9,308.1 305.6,307.6 306.3,305.9 307,305.6 307.7,305.2 308.4,306.5 309.1,306.8 309.8,307.6 310.5,306.2 311.2,305.9 311.9,304 312.6,307.3 313.3,309.9 314,313.5 314.7,316.9 315.4,318.3 316.1,319.2 316.8,319.6 317.5,320.7 318.2,322 318.9,323.4 319.6,324.9 320.3,325.9 321,326.5 321.7,322.1 322.4,317.6 323.1,313.9 323.8,311.8 324.5,310.9 325.2,309.4 325.9,307.6 326.6,306.9 327.3,304.4 328,304.3 328.7,304.3 329.4,303.4 330.1,303.3 330.8,304.6 331.5,303.4 332.2,303.6 332.9,304 333.6,302.4 334.3,302.5 335,303.9 335.7,303.1 336.4,305 337.1,304.2 337.8,303.8 338.5,305.1 339.2,305.3 339.9,304.9 340.6,306.3 341.3,307.5 342,307.5 342.7,308.2 343.4,308.4 344.1,307.4 344.8,306.8 345.5,306.8 346.2,307.1 346.9,305.4 347.6,305.3 348.3,303.5 349,302.9 349.7,302.2 350.4,301.6 351.1,300.1 351.8,300.6 352.5,299 353.2,298.7 353.9,297.9 354.6,297.4 355.3,295.3 356,296 356.7,294.1 357.4,292.4 358.1,292.7 358.8,290.4 359.5,290.6 360.2,289.3 360.9,289.3 361.6,288.9 362.3,289.9 363,289.1 363.7,290 364.4,291.6 365.1,291.1 365.8,294.1 366.5,298.9 367.2,303.8 367.9,306.1 368.6,310.7 369.3,313.4 370,314.1 370.7,310.6 371.4,308.4 372.1,303.8 372.8,300.7 373.5,300.4 374.2,299.1 374.9,298.4 375.6,299.2 376.3,298.7 377,298.1 377.7,297.4 378.4,298 379.1,296.9 379.8,296.4 380.5,296.4 381.2,297.8 381.9,297.6 382.6,297.5 383.3,296.8 384,295.8 384.7,296 385.4,296.3 386.1,301.8 386.8,309.2 387.5,315.6 388.2,316.4 388.9,318.4 389.6,319.2 390.3,319.8 391,323 391.7,324.1 392.4,320.4 393.1,311.5 393.8,308.7 394.5,306.2 395.2,303.5 395.9,302.8 396.6,302.6 397.3,302.1 398,303.1 398.7,306.4 399.4,310.2 400.1,312.3 400.8,314.3 401.5,315.8 402.2,317.1 402.9,318.4 403.6,322.4 404.3,325.3 405,329.5 405.7,332.9 406.4,336.7 407.1,338.3 407.8,339.6 408.5,340.7 409.2,341.1 409.9,340.4 410.6,341.2 411.3,338.3 412,336.3 412.7,334.3 413.4,334.8 414.1,334 414.8,333.6 415.5,333.7 416.2,332 416.9,332.4 417.6,332.2 418.3,331 419,331.3 419.7,330.6 420.4,330.5 421.1,331.2 421.8,330.7 422.5,330.3 423.2,330.5 423.9,330.6 424.6,331.8 425.3,330.7 426,331.3 426.7,330.7 427.4,330.3 428.1,331.3 428.8,333 429.5,336.1 430.2,339 430.9,341 431.6,342.8 432.3,344.4 433,341.5 433.7,341.1 434.4,332.6 435.1,329.5 435.8,329.9 436.5,329.1 437.2,328.1 437.9,328.2 438.6,328.4 439.3,328.1 440,325.3 440.7,322.5 441.4,319 442.1,320.3 442.8,319.7 443.5,319.3 444.2,320.5 444.9,319.8 445.6,319 446.3,319.9 447,320.7 447.7,319.4 448.4,320.6 449.1,320.5 449.8,321 450.5,320.2 451.2,321.2 451.9,322.3 452.6,320.9 453.3,321.4 454,321.4 454.7,321.5 455.4,321.4 456.1,321.8 456.8,322.6 457.5,321.3 458.2,322.9 458.9,321.7 459.6,322.3 460.3,322.5 461,324.6 461.7,326.8 462.4,329 463.1,329.1 463.8,329.2 464.5,328.9 465.2,328.4 465.9,330.1 466.6,329.3 467.3,330.3 468,330.5 468.7,331.1 469.4,332 470.1,333.4 470.8,333.7 471.5,333.1 472.2,334.9 472.9,334.3 473.6,335.3 474.3,335.7 475,337.1 475.7,339 476.4,339.8 477.1,341 477.8,342.2 478.5,343.9 479.2,344.3 479.9,345.1 480.6,346.2 481.3,347.4 482,347.3 482.7,347.8 483.4,348.9 484.1,348 484.8,346.8 485.5,345 486.2,343.7 486.9,341.9 487.6,339.5 488.3,337.6 489,336.3 489.7,334.4 490.4,332 491.1,328.8 491.8,325.3 492.5,324.5 493.2,324.5 493.9,323.3 494.6,324 495.3,324.5 496,324.5 496.7,324.4 497.4,326 498.1,326.6 498.8,327.8 499.5,327.5 500.2,329.5 500.9,332.6 501.6,333.6 502.3,336.9 503,338.5 503.7,342.2 504.4,346.5 505.1,350.4 505.5,354.3 505.5,359 505.1,359.8 504.4,357.8 503.7,355.8 503,354.1 502.3,351.6 501.6,350.7 500.9,347.4 500.2,345.9 499.5,344.1 498.8,343.2 498.1,343.5 497.4,343.1 496.7,342.9 496,340.8 495.3,340.3 494.6,340.6 493.9,341.8 493.2,342.8 492.5,343.5 491.8,345.1 491.1,347.8 490.4,349.9 489.7,351.9 489,354.1 488.3,357.2 487.6,360.4 486.9,360.7 486.2,363.4 485.5,366.3 484.8,368.1 484.1,370.5 483.4,370 482.7,366.5 482,364.9 481.3,363.6 480.6,361.1 479.9,357.9 479.2,357.2 478.5,357.2 477.8,356.8 477.1,357 476.4,357.5 475.7,357.4 475,358 474.3,356.8 473.6,355.5 472.9,355.9 472.2,353.3 471.5,352.5 470.8,350.6 470.1,350.1 469.4,349.9 468.7,347.5 468,347.6 467.3,344.6 466.6,345.4 465.9,344 465.2,344.5 464.5,343.8 463.8,342.8 463.1,342.3 462.4,342.7 461.7,343.4 461,343.3 460.3,342.5 459.6,341.3 458.9,343.3 458.2,343.8 457.5,344.4 456.8,344.3 456.1,344.5 455.4,345.5 454.7,344.2 454,343.3 453.3,343 452.6,342.7 451.9,342.1 451.2,340.7 450.5,340.7 449.8,336 449.1,333.2 448.4,332.1 447.7,332 447,333.5 446.3,333.6 445.6,333 444.9,332.4 444.2,332.3 443.5,333.6 442.8,333 442.1,333.3 441.4,334 440.7,334.6 440,337.6 439.3,340.1 438.6,341.1 437.9,340.6 437.2,341.8 436.5,342.8 435.8,343.5 435.1,344.1 434.4,349.1 433.7,360.2 433,364.5 432.3,367.3 431.6,364.8 430.9,360.6 430.2,356.9 429.5,351.7 428.8,347.3 428.1,344.1 427.4,344.6 426.7,343.9 426,344.1 425.3,344.9 424.6,343.5 423.9,343.6 423.2,344.1 422.5,346.5 421.8,346.8 421.1,348.4 420.4,350.4 419.7,350.8 419,352.5 418.3,353.7 417.6,353.2 416.9,354.6 416.2,356.7 415.5,356.5 414.8,357 414.1,356.6 413.4,357.8 412.7,358.3 412,359.7 411.3,359.7 410.6,362.1 409.9,361 409.2,361 408.5,361.4 407.8,359.4 407.1,355.5 406.4,352.9 405.7,350.1 405,347.9 404.3,347.3 403.6,346.4 402.9,345 402.2,343.5 401.5,341.2 400.8,339.9 400.1,339.5 399.4,336 398.7,332.6 398,328.1 397.3,325.2 396.6,323.6 395.9,321.7 395.2,323.7 394.5,326.3 393.8,328.1 393.1,332.8 392.4,340.1 391.7,344.7 391,343.8 390.3,341.9 389.6,341.1 388.9,338.4 388.2,337.6 387.5,334.4 386.8,331.5 386.1,327.1 385.4,321.5 384.7,321.1 384,320.3 383.3,320.3 382.6,320.4 381.9,320 381.2,321 380.5,319.2 379.8,319.5 379.1,320.4 378.4,319.6 377.7,320.8 377,320.8 376.3,320 375.6,321.2 374.9,321.6 374.2,320.7 373.5,321.3 372.8,322.5 372.1,326.1 371.4,331.2 370.7,335.9 370,338.7 369.3,338.6 368.6,337.6 367.9,335.6 367.2,332.8 366.5,327.2 365.8,321.4 365.1,316.4 364.4,316.1 363.7,313.9 363,313.9 362.3,313.9 361.6,316 360.9,314.8 360.2,317.1 359.5,317.3 358.8,316.8 358.1,317.4 357.4,318.3 356.7,317.9 356,319.2 355.3,319.3 354.6,318.7 353.9,320.3 353.2,321 352.5,320.2 351.8,321 351.1,322.5 350.4,322.8 349.7,322.8 349,323.7 348.3,323.8 347.6,325.1 346.9,326.5 346.2,325.8 345.5,326.9 344.8,327.2 344.1,328.1 343.4,328.4 342.7,328.8 342,327.9 341.3,327.4 340.6,326.1 339.9,324.4 339.2,324.3 338.5,322.1 337.8,322.3 337.1,321.9 336.4,322.8 335.7,322 335,323.1 334.3,321.8 333.6,321.5 332.9,321.7 332.2,323 331.5,322.7 330.8,322.3 330.1,323.1 329.4,324.9 328.7,323.8 328,325.2 327.3,325.3 326.6,327 325.9,328 325.2,329.4 324.5,329.8 323.8,331.6 323.1,332.4 322.4,334.3 321.7,336.8 321,339.4 320.3,339.4 319.6,338.4 318.9,338.2 318.2,336 317.5,335.2 316.8,335.3 316.1,334.2 315.4,334.7 314.7,333.7 314,332.4 313.3,330.2 312.6,330 311.9,328.4 311.2,329.5 310.5,329.6 309.8,330.8 309.1,329 308.4,331 307.7,329.9 307,329.3 306.3,330.4 305.6,330.9 304.9,332.5 304.2,333.1 303.5,331.9 302.8,333.1 302.1,334.7 301.4,339.4 300.7,344 300,346.6 299.3,348.1 298.6,350.6 297.9,352.5 297.2,359.2 296.5,367.4 295.8,373.9 295.1,376.7 294.4,379 293.7,376.1 293,370.2 292.3,365.8 291.6,360.5 290.9,353.1 290.2,346.5 289.5,339.9 288.8,335.5 288.1,334.2 287.4,332 286.7,333.1 286,334.8 285.3,338.3 284.6,351.6 283.9,363 283.2,369.2 282.5,374.9 281.8,375.1 281.1,374.4 280.4,376.2 279.7,375 279,376.7 278.3,376 277.6,375.5 276.9,376.6 276.2,375.5 275.5,375.6 274.8,375.6 274.1,372.4 273.4,365.8 272.7,357.8 272,354.6 271.3,351.8 270.6,350.5 269.9,350.2 269.2,349.1 268.5,349.4ZM506.7,405.5 507.4,404.9 508.1,405.6 508.8,407.8 509.5,407.4 510.2,407.5 510.9,409.8 511.6,409.7 512.3,411 513,410.7 513.7,411.8 514.4,411.8 515.1,411.6 515.8,410.3 516.5,411.2 517.2,412.4 517.9,412.5 518.6,413.1 519.3,413.4 520,414.8 520.7,417.4 521.4,417.5 522.1,417.2 522.8,419 523.5,417.8 524.2,418 524.9,417.8 525.6,419.6 526.3,419.3 527,421.8 527.7,423.4 528.4,423.8 529.1,425.4 529.7,425.3 529.7,436.5 529.1,434.9 528.4,435.1 527.7,434.4 527,433.8 526.3,430.8 525.6,431.2 524.9,429.8 524.2,428.9 523.5,428.9 522.8,428.4 522.1,426.8 521.4,425.9 520.7,425.1 520,423.7 519.3,421 518.6,421.4 517.9,421.5 517.2,422 516.5,420.6 515.8,419.8 515.1,419.8 514.4,419.9 513.7,420.8 513,420 512.3,421.4 511.6,420.7 510.9,420.1 510.2,420.2 509.5,419.3 508.8,418.7 508.1,419.4 507.4,419.2 506.7,418.3Z" fill="#b6b7ac"/>
<path d="M175 340.6a1.4 1.4 0 1 0 2.7 0a1.4 1.4 0 1 0 -2.7 0M206.3 383.6a1.4 1.4 0 1 0 2.7 0a1.4 1.4 0 1 0 -2.7 0M188.7 348.2a1.4 1.4 0 1 0 2.7 0a1.4 1.4 0 1 0 -2.7 0M162.4 366.7a1.4 1.4 0 1 0 2.7 0a1.4 1.4 0 1 0 -2.7 0M225.5 333.4a1.4 1.4 0 1 0 2.7 0a1.4 1.4 0 1 0 -2.7 0M163.7 346.6a1.4 1.4 0 1 0 2.7 0a1.4 1.4 0 1 0 -2.7 0M183.1 337a1.4 1.4 0 1 0 2.7 0a1.4 1.4 0 1 0 -2.7 0M231.7 309.3a1.4 1.4 0 1 0 2.7 0a1.4 1.4 0 1 0 -2.7 0M220 331.6a1.4 1.4 0 1 0 2.7 0a1.4 1.4 0 1 0 -2.7 0M173.6 341.6a1.4 1.4 0 1 0 2.7 0a1.4 1.4 0 1 0 -2.7 0M171.3 363.4a1.4 1.4 0 1 0 2.7 0a1.4 1.4 0 1 0 -2.7 0M227.9 308.5a1.4 1.4 0 1 0 2.7 0a1.4 1.4 0 1 0 -2.7 0M187.5 352.1a1.4 1.4 0 1 0 2.7 0a1.4 1.4 0 1 0 -2.7 0M230.9 332.4a1.4 1.4 0 1 0 2.7 0a1.4 1.4 0 1 0 -2.7 0M172.5 341.7a1.4 1.4 0 1 0 2.7 0a1.4 1.4 0 1 0 -2.7 0M183.6 336.8a1.4 1.4 0 1 0 2.7 0a1.4 1.4 0 1 0 -2.7 0M166.2 364.8a1.4 1.4 0 1 0 2.7 0a1.4 1.4 0 1 0 -2.7 0M204.6 380a1.4 1.4 0 1 0 2.7 0a1.4 1.4 0 1 0 -2.7 0M169.9 362a1.4 1.4 0 1 0 2.7 0a1.4 1.4 0 1 0 -2.7 0M187.7 351.4a1.4 1.4 0 1 0 2.7 0a1.4 1.4 0 1 0 -2.7 0M188.2 349.9a1.4 1.4 0 1 0 2.7 0a1.4 1.4 0 1 0 -2.7 0M195.8 355.1a1.4 1.4 0 1 0 2.7 0a1.4 1.4 0 1 0 -2.7 0M203.2 378.9a1.4 1.4 0 1 0 2.7 0a1.4 1.4 0 1 0 -2.7 0M197.2 359.3a1.4 1.4 0 1 0 2.7 0a1.4 1.4 0 1 0 -2.7 0M208.9 358.3a1.4 1.4 0 1 0 2.7 0a1.4 1.4 0 1 0 -2.7 0M181.1 324.2a1.4 1.4 0 1 0 2.7 0a1.4 1.4 0 1 0 -2.7 0M214.9 359.3a1.4 1.4 0 1 0 2.7 0a1.4 1.4 0 1 0 -2.7 0M209.5 356a1.4 1.4 0 1 0 2.7 0a1.4 1.4 0 1 0 -2.7 0M210.6 353.9a1.4 1.4 0 1 0 2.7 0a1.4 1.4 0 1 0 -2.7 0M193.1 331.9a1.4 1.4 0 1 0 2.7 0a1.4 1.4 0 1 0 -2.7 0M184.8 321.5a1.4 1.4 0 1 0 2.7 0a1.4 1.4 0 1 0 -2.7 0M214.9 343.7a1.4 1.4 0 1 0 2.7 0a1.4 1.4 0 1 0 -2.7 0M233.4 326.8a1.4 1.4 0 1 0 2.7 0a1.4 1.4 0 1 0 -2.7 0M212.6 346.9a1.4 1.4 0 1 0 2.7 0a1.4 1.4 0 1 0 -2.7 0M185.8 347.5a1.4 1.4 0 1 0 2.7 0a1.4 1.4 0 1 0 -2.7 0M198.1 362.1a1.4 1.4 0 1 0 2.7 0a1.4 1.4 0 1 0 -2.7 0M197.9 361.2a1.4 1.4 0 1 0 2.7 0a1.4 1.4 0 1 0 -2.7 0M215.4 342.9a1.4 1.4 0 1 0 2.7 0a1.4 1.4 0 1 0 -2.7 0M174.3 362.9a1.4 1.4 0 1 0 2.7 0a1.4 1.4 0 1 0 -2.7 0M153.4 379.7a1.4 1.4 0 1 0 2.7 0a1.4 1.4 0 1 0 -2.7 0M171.1 342.9a1.4 1.4 0 1 0 2.7 0a1.4 1.4 0 1 0 -2.7 0M212.6 345.7a1.4 1.4 0 1 0 2.7 0a1.4 1.4 0 1 0 -2.7 0M170 362a1.4 1.4 0 1 0 2.7 0a1.4 1.4 0 1 0 -2.7 0M214.4 359.9a1.4 1.4 0 1 0 2.7 0a1.4 1.4 0 1 0 -2.7 0M199.9 360.8a1.4 1.4 0 1 0 2.7 0a1.4 1.4 0 1 0 -2.7 0M204.7 380.2a1.4 1.4 0 1 0 2.7 0a1.4 1.4 0 1 0 -2.7 0M162.3 366.3a1.4 1.4 0 1 0 2.7 0a1.4 1.4 0 1 0 -2.7 0M227.7 331.3a1.4 1.4 0 1 0 2.7 0a1.4 1.4 0 1 0 -2.7 0M211.8 364.3a1.4 1.4 0 1 0 2.7 0a1.4 1.4 0 1 0 -2.7 0M208.5 376.7a1.4 1.4 0 1 0 2.7 0a1.4 1.4 0 1 0 -2.7 0M168.9 363.7a1.4 1.4 0 1 0 2.7 0a1.4 1.4 0 1 0 -2.7 0M187 352.6a1.4 1.4 0 1 0 2.7 0a1.4 1.4 0 1 0 -2.7 0M179.5 331.2a1.4 1.4 0 1 0 2.7 0a1.4 1.4 0 1 0 -2.7 0M191.6 315.1a1.4 1.4 0 1 0 2.7 0a1.4 1.4 0 1 0 -2.7 0M211.8 348.5a1.4 1.4 0 1 0 2.7 0a1.4 1.4 0 1 0 -2.7 0M184.8 335.8a1.4 1.4 0 1 0 2.7 0a1.4 1.4 0 1 0 -2.7 0M190.7 314.5a1.4 1.4 0 1 0 2.7 0a1.4 1.4 0 1 0 -2.7 0M222.8 317.9a1.4 1.4 0 1 0 2.7 0a1.4 1.4 0 1 0 -2.7 0M228.7 309.7a1.4 1.4 0 1 0 2.7 0a1.4 1.4 0 1 0 -2.7 0M162.5 349.4a1.4 1.4 0 1 0 2.7 0a1.4 1.4 0 1 0 -2.7 0M219.5 349.2a1.4 1.4 0 1 0 2.7 0a1.4 1.4 0 1 0 -2.7 0M170 341.8a1.4 1.4 0 1 0 2.7 0a1.4 1.4 0 1 0 -2.7 0M205 389.4a1.4 1.4 0 1 0 2.7 0a1.4 1.4 0 1 0 -2.7 0M210.1 354.8a1.4 1.4 0 1 0 2.7 0a1.4 1.4 0 1 0 -2.7 0M185.6 324.9a1.4 1.4 0 1 0 2.7 0a1.4 1.4 0 1 0 -2.7 0M166.1 364.5a1.4 1.4 0 1 0 2.7 0a1.4 1.4 0 1 0 -2.7 0M187.2 326a1.4 1.4 0 1 0 2.7 0a1.4 1.4 0 1 0 -2.7 0M162.4 365.8a1.4 1.4 0 1 0 2.7 0a1.4 1.4 0 1 0 -2.7 0M197.7 344.4a1.4 1.4 0 1 0 2.7 0a1.4 1.4 0 1 0 -2.7 0M164.3 363.9a1.4 1.4 0 1 0 2.7 0a1.4 1.4 0 1 0 -2.7 0M163.5 363.4a1.4 1.4 0 1 0 2.7 0a1.4 1.4 0 1 0 -2.7 0M169.9 342.9a1.4 1.4 0 1 0 2.7 0a1.4 1.4 0 1 0 -2.7 0M215.6 343.1a1.4 1.4 0 1 0 2.7 0a1.4 1.4 0 1 0 -2.7 0M209.3 372.5a1.4 1.4 0 1 0 2.7 0a1.4 1.4 0 1 0 -2.7 0M187.2 326.2a1.4 1.4 0 1 0 2.7 0a1.4 1.4 0 1 0 -2.7 0M223.4 317a1.4 1.4 0 1 0 2.7 0a1.4 1.4 0 1 0 -2.7 0M220.3 344.3a1.4 1.4 0 1 0 2.7 0a1.4 1.4 0 1 0 -2.7 0M186 348.2a1.4 1.4 0 1 0 2.7 0a1.4 1.4 0 1 0 -2.7 0M171.2 342.8a1.4 1.4 0 1 0 2.7 0a1.4 1.4 0 1 0 -2.7 0M196.6 339a1.4 1.4 0 1 0 2.7 0a1.4 1.4 0 1 0 -2.7 0M203.5 380.6a1.4 1.4 0 1 0 2.7 0a1.4 1.4 0 1 0 -2.7 0M223.5 314.5a1.4 1.4 0 1 0 2.7 0a1.4 1.4 0 1 0 -2.7 0M198.3 349a1.4 1.4 0 1 0 2.7 0a1.4 1.4 0 1 0 -2.7 0M209.9 369.6a1.4 1.4 0 1 0 2.7 0a1.4 1.4 0 1 0 -2.7 0M171.4 363.3a1.4 1.4 0 1 0 2.7 0a1.4 1.4 0 1 0 -2.7 0M180.1 345a1.4 1.4 0 1 0 2.7 0a1.4 1.4 0 1 0 -2.7 0M189.5 345.1a1.4 1.4 0 1 0 2.7 0a1.4 1.4 0 1 0 -2.7 0M201.2 375.7a1.4 1.4 0 1 0 2.7 0a1.4 1.4 0 1 0 -2.7 0M160.6 349.8a1.4 1.4 0 1 0 2.7 0a1.4 1.4 0 1 0 -2.7 0M196.3 357.2a1.4 1.4 0 1 0 2.7 0a1.4 1.4 0 1 0 -2.7 0M224.6 335.8a1.4 1.4 0 1 0 2.7 0a1.4 1.4 0 1 0 -2.7 0M160.4 370.3a1.4 1.4 0 1 0 2.7 0a1.4 1.4 0 1 0 -2.7 0M200.1 373.6a1.4 1.4 0 1 0 2.7 0a1.4 1.4 0 1 0 -2.7 0M187 326.7a1.4 1.4 0 1 0 2.7 0a1.4 1.4 0 1 0 -2.7 0M210.2 369.7a1.4 1.4 0 1 0 2.7 0a1.4 1.4 0 1 0 -2.7 0M194 332.1a1.4 1.4 0 1 0 2.7 0a1.4 1.4 0 1 0 -2.7 0M152.3 360.6a1.4 1.4 0 1 0 2.7 0a1.4 1.4 0 1 0 -2.7 0M215.2 341.5a1.4 1.4 0 1 0 2.7 0a1.4 1.4 0 1 0 -2.7 0M211 352.1a1.4 1.4 0 1 0 2.7 0a1.4 1.4 0 1 0 -2.7 0M198 347.1a1.4 1.4 0 1 0 2.7 0a1.4 1.4 0 1 0 -2.7 0M305 331.5a1.4 1.4 0 1 0 2.7 0a1.4 1.4 0 1 0 -2.7 0M336.3 323.3a1.4 1.4 0 1 0 2.7 0a1.4 1.4 0 1 0 -2.7 0M325.7 325.8a1.4 1.4 0 1 0 2.7 0a1.4 1.4 0 1 0 -2.7 0M300.8 336.2a1.4 1.4 0 1 0 2.7 0a1.4 1.4 0 1 0 -2.7 0M324.9 307a1.4 1.4 0 1 0 2.7 0a1.4 1.4 0 1 0 -2.7 0M355.1 294.3a1.4 1.4 0 1 0 2.7 0a1.4 1.4 0 1 0 -2.7 0M492.4 323.1a1.4 1.4 0 1 0 2.7 0a1.4 1.4 0 1 0 -2.7 0M381.6 321.5a1.4 1.4 0 1 0 2.7 0a1.4 1.4 0 1 0 -2.7 0M269.1 349.3a1.4 1.4 0 1 0 2.7 0a1.4 1.4 0 1 0 -2.7 0M316.2 321.2a1.4 1.4 0 1 0 2.7 0a1.4 1.4 0 1 0 -2.7 0M502.6 356a1.4 1.4 0 1 0 2.7 0a1.4 1.4 0 1 0 -2.7 0M480 362.1a1.4 1.4 0 1 0 2.7 0a1.4 1.4 0 1 0 -2.7 0M480.7 348.4a1.4 1.4 0 1 0 2.7 0a1.4 1.4 0 1 0 -2.7 0M298.5 347.5a1.4 1.4 0 1 0 2.7 0a1.4 1.4 0 1 0 -2.7 0M389.3 321.3a1.4 1.4 0 1 0 2.7 0a1.4 1.4 0 1 0 -2.7 0M447.2 334.4a1.4 1.4 0 1 0 2.7 0a1.4 1.4 0 1 0 -2.7 0M393.8 322.6a1.4 1.4 0 1 0 2.7 0a1.4 1.4 0 1 0 -2.7 0M441.8 334.4a1.4 1.4 0 1 0 2.7 0a1.4 1.4 0 1 0 -2.7 0M346.8 304.6a1.4 1.4 0 1 0 2.7 0a1.4 1.4 0 1 0 -2.7 0M327.8 305a1.4 1.4 0 1 0 2.7 0a1.4 1.4 0 1 0 -2.7 0M420.8 329.4a1.4 1.4 0 1 0 2.7 0a1.4 1.4 0 1 0 -2.7 0M448.2 319.5a1.4 1.4 0 1 0 2.7 0a1.4 1.4 0 1 0 -2.7 0M358.6 290.1a1.4 1.4 0 1 0 2.7 0a1.4 1.4 0 1 0 -2.7 0M456.1 344.2a1.4 1.4 0 1 0 2.7 0a1.4 1.4 0 1 0 -2.7 0M305.4 306.3a1.4 1.4 0 1 0 2.7 0a1.4 1.4 0 1 0 -2.7 0M267.4 330.1a1.4 1.4 0 1 0 2.7 0a1.4 1.4 0 1 0 -2.7 0M307.6 307a1.4 1.4 0 1 0 2.7 0a1.4 1.4 0 1 0 -2.7 0M283.1 353.9a1.4 1.4 0 1 0 2.7 0a1.4 1.4 0 1 0 -2.7 0M308.2 307.3a1.4 1.4 0 1 0 2.7 0a1.4 1.4 0 1 0 -2.7 0M349.9 321.3a1.4 1.4 0 1 0 2.7 0a1.4 1.4 0 1 0 -2.7 0M351.3 320.2a1.4 1.4 0 1 0 2.7 0a1.4 1.4 0 1 0 -2.7 0M386 334.5a1.4 1.4 0 1 0 2.7 0a1.4 1.4 0 1 0 -2.7 0M297.8 348.3a1.4 1.4 0 1 0 2.7 0a1.4 1.4 0 1 0 -2.7 0M300.8 310.4a1.4 1.4 0 1 0 2.7 0a1.4 1.4 0 1 0 -2.7 0M309.2 305.7a1.4 1.4 0 1 0 2.7 0a1.4 1.4 0 1 0 -2.7 0M479.3 346.2a1.4 1.4 0 1 0 2.7 0a1.4 1.4 0 1 0 -2.7 0M458.2 322a1.4 1.4 0 1 0 2.7 0a1.4 1.4 0 1 0 -2.7 0M346.1 325.8a1.4 1.4 0 1 0 2.7 0a1.4 1.4 0 1 0 -2.7 0M285.6 331.4a1.4 1.4 0 1 0 2.7 0a1.4 1.4 0 1 0 -2.7 0M381.1 296.7a1.4 1.4 0 1 0 2.7 0a1.4 1.4 0 1 0 -2.7 0M422.4 343.7a1.4 1.4 0 1 0 2.7 0a1.4 1.4 0 1 0 -2.7 0M280.1 354.3a1.4 1.4 0 1 0 2.7 0a1.4 1.4 0 1 0 -2.7 0M398 336.7a1.4 1.4 0 1 0 2.7 0a1.4 1.4 0 1 0 -2.7 0M418.4 352.2a1.4 1.4 0 1 0 2.7 0a1.4 1.4 0 1 0 -2.7 0M442.2 332.3a1.4 1.4 0 1 0 2.7 0a1.4 1.4 0 1 0 -2.7 0M329.9 323.4a1.4 1.4 0 1 0 2.7 0a1.4 1.4 0 1 0 -2.7 0M471.5 354.9a1.4 1.4 0 1 0 2.7 0a1.4 1.4 0 1 0 -2.7 0M307.8 329.3a1.4 1.4 0 1 0 2.7 0a1.4 1.4 0 1 0 -2.7 0M384.4 299.1a1.4 1.4 0 1 0 2.7 0a1.4 1.4 0 1 0 -2.7 0M422.2 344.9a1.4 1.4 0 1 0 2.7 0a1.4 1.4 0 1 0 -2.7 0M281.5 372a1.4 1.4 0 1 0 2.7 0a1.4 1.4 0 1 0 -2.7 0M482.1 369.9a1.4 1.4 0 1 0 2.7 0a1.4 1.4 0 1 0 -2.7 0M477.7 358.4a1.4 1.4 0 1 0 2.7 0a1.4 1.4 0 1 0 -2.7 0M276.6 357.1a1.4 1.4 0 1 0 2.7 0a1.4 1.4 0 1 0 -2.7 0M467.9 331a1.4 1.4 0 1 0 2.7 0a1.4 1.4 0 1 0 -2.7 0M371.8 322.6a1.4 1.4 0 1 0 2.7 0a1.4 1.4 0 1 0 -2.7 0M298.1 314.4a1.4 1.4 0 1 0 2.7 0a1.4 1.4 0 1 0 -2.7 0M443.8 320.4a1.4 1.4 0 1 0 2.7 0a1.4 1.4 0 1 0 -2.7 0M364.7 295.1a1.4 1.4 0 1 0 2.7 0a1.4 1.4 0 1 0 -2.7 0M300.3 337.8a1.4 1.4 0 1 0 2.7 0a1.4 1.4 0 1 0 -2.7 0M365.9 302a1.4 1.4 0 1 0 2.7 0a1.4 1.4 0 1 0 -2.7 0M319.7 340.2a1.4 1.4 0 1 0 2.7 0a1.4 1.4 0 1 0 -2.7 0M366.9 338a1.4 1.4 0 1 0 2.7 0a1.4 1.4 0 1 0 -2.7 0M470.4 353.6a1.4 1.4 0 1 0 2.7 0a1.4 1.4 0 1 0 -2.7 0M388.4 341.7a1.4 1.4 0 1 0 2.7 0a1.4 1.4 0 1 0 -2.7 0M497.8 328.1a1.4 1.4 0 1 0 2.7 0a1.4 1.4 0 1 0 -2.7 0M446.1 320.5a1.4 1.4 0 1 0 2.7 0a1.4 1.4 0 1 0 -2.7 0M335 304.1a1.4 1.4 0 1 0 2.7 0a1.4 1.4 0 1 0 -2.7 0M497 327.3a1.4 1.4 0 1 0 2.7 0a1.4 1.4 0 1 0 -2.7 0M422.9 343.4a1.4 1.4 0 1 0 2.7 0a1.4 1.4 0 1 0 -2.7 0M424.4 345.3a1.4 1.4 0 1 0 2.7 0a1.4 1.4 0 1 0 -2.7 0M432.6 356.9a1.4 1.4 0 1 0 2.7 0a1.4 1.4 0 1 0 -2.7 0M398.1 310.6a1.4 1.4 0 1 0 2.7 0a1.4 1.4 0 1 0 -2.7 0M498.7 344.7a1.4 1.4 0 1 0 2.7 0a1.4 1.4 0 1 0 -2.7 0M339.1 306.9a1.4 1.4 0 1 0 2.7 0a1.4 1.4 0 1 0 -2.7 0M310.3 327.9a1.4 1.4 0 1 0 2.7 0a1.4 1.4 0 1 0 -2.7 0M347.7 323.1a1.4 1.4 0 1 0 2.7 0a1.4 1.4 0 1 0 -2.7 0M405 336.3a1.4 1.4 0 1 0 2.7 0a1.4 1.4 0 1 0 -2.7 0M283 354.6a1.4 1.4 0 1 0 2.7 0a1.4 1.4 0 1 0 -2.7 0M494 324.2a1.4 1.4 0 1 0 2.7 0a1.4 1.4 0 1 0 -2.7 0M274 376.7a1.4 1.4 0 1 0 2.7 0a1.4 1.4 0 1 0 -2.7 0M483.8 366a1.4 1.4 0 1 0 2.7 0a1.4 1.4 0 1 0 -2.7 0M443.4 318.7a1.4 1.4 0 1 0 2.7 0a1.4 1.4 0 1 0 -2.7 0M478.2 357.7a1.4 1.4 0 1 0 2.7 0a1.4 1.4 0 1 0 -2.7 0M284.2 334.1a1.4 1.4 0 1 0 2.7 0a1.4 1.4 0 1 0 -2.7 0M323.8 307.8a1.4 1.4 0 1 0 2.7 0a1.4 1.4 0 1 0 -2.7 0M444.3 320.7a1.4 1.4 0 1 0 2.7 0a1.4 1.4 0 1 0 -2.7 0M333.3 323.1a1.4 1.4 0 1 0 2.7 0a1.4 1.4 0 1 0 -2.7 0M419.7 348.1a1.4 1.4 0 1 0 2.7 0a1.4 1.4 0 1 0 -2.7 0M463.5 344.4a1.4 1.4 0 1 0 2.7 0a1.4 1.4 0 1 0 -2.7 0M311.5 306.9a1.4 1.4 0 1 0 2.7 0a1.4 1.4 0 1 0 -2.7 0M497.5 326.3a1.4 1.4 0 1 0 2.7 0a1.4 1.4 0 1 0 -2.7 0M391.7 313.9a1.4 1.4 0 1 0 2.7 0a1.4 1.4 0 1 0 -2.7 0M451.9 320.2a1.4 1.4 0 1 0 2.7 0a1.4 1.4 0 1 0 -2.7 0M480.4 365a1.4 1.4 0 1 0 2.7 0a1.4 1.4 0 1 0 -2.7 0M317.1 337.2a1.4 1.4 0 1 0 2.7 0a1.4 1.4 0 1 0 -2.7 0M274.7 376.9a1.4 1.4 0 1 0 2.7 0a1.4 1.4 0 1 0 -2.7 0M310.8 328.5a1.4 1.4 0 1 0 2.7 0a1.4 1.4 0 1 0 -2.7 0M418 330.3a1.4 1.4 0 1 0 2.7 0a1.4 1.4 0 1 0 -2.7 0M454.9 321a1.4 1.4 0 1 0 2.7 0a1.4 1.4 0 1 0 -2.7 0M283.6 343.5a1.4 1.4 0 1 0 2.7 0a1.4 1.4 0 1 0 -2.7 0M453.1 322.3a1.4 1.4 0 1 0 2.7 0a1.4 1.4 0 1 0 -2.7 0M483.6 366.9a1.4 1.4 0 1 0 2.7 0a1.4 1.4 0 1 0 -2.7 0M353.5 319.3a1.4 1.4 0 1 0 2.7 0a1.4 1.4 0 1 0 -2.7 0M489.5 329.6a1.4 1.4 0 1 0 2.7 0a1.4 1.4 0 1 0 -2.7 0M327.8 323.8a1.4 1.4 0 1 0 2.7 0a1.4 1.4 0 1 0 -2.7 0M367.2 338.7a1.4 1.4 0 1 0 2.7 0a1.4 1.4 0 1 0 -2.7 0M300.4 310.3a1.4 1.4 0 1 0 2.7 0a1.4 1.4 0 1 0 -2.7 0M449 340.1a1.4 1.4 0 1 0 2.7 0a1.4 1.4 0 1 0 -2.7 0M458.6 321.7a1.4 1.4 0 1 0 2.7 0a1.4 1.4 0 1 0 -2.7 0M268.3 324.2a1.4 1.4 0 1 0 2.7 0a1.4 1.4 0 1 0 -2.7 0M328.9 323a1.4 1.4 0 1 0 2.7 0a1.4 1.4 0 1 0 -2.7 0M371.9 321.2a1.4 1.4 0 1 0 2.7 0a1.4 1.4 0 1 0 -2.7 0M424.4 329.5a1.4 1.4 0 1 0 2.7 0a1.4 1.4 0 1 0 -2.7 0M292.2 375.1a1.4 1.4 0 1 0 2.7 0a1.4 1.4 0 1 0 -2.7 0M428.3 353.4a1.4 1.4 0 1 0 2.7 0a1.4 1.4 0 1 0 -2.7 0M451.7 343.3a1.4 1.4 0 1 0 2.7 0a1.4 1.4 0 1 0 -2.7 0M393.1 304.9a1.4 1.4 0 1 0 2.7 0a1.4 1.4 0 1 0 -2.7 0M287.5 299.1a1.4 1.4 0 1 0 2.7 0a1.4 1.4 0 1 0 -2.7 0M336.4 323.9a1.4 1.4 0 1 0 2.7 0a1.4 1.4 0 1 0 -2.7 0M330.9 323.5a1.4 1.4 0 1 0 2.7 0a1.4 1.4 0 1 0 -2.7 0M312.7 331.5a1.4 1.4 0 1 0 2.7 0a1.4 1.4 0 1 0 -2.7 0M282.5 340.2a1.4 1.4 0 1 0 2.7 0a1.4 1.4 0 1 0 -2.7 0M268.9 320a1.4 1.4 0 1 0 2.7 0a1.4 1.4 0 1 0 -2.7 0M472.2 355.5a1.4 1.4 0 1 0 2.7 0a1.4 1.4 0 1 0 -2.7 0M272.7 371.7a1.4 1.4 0 1 0 2.7 0a1.4 1.4 0 1 0 -2.7 0M349 323.1a1.4 1.4 0 1 0 2.7 0a1.4 1.4 0 1 0 -2.7 0M345.2 304.6a1.4 1.4 0 1 0 2.7 0a1.4 1.4 0 1 0 -2.7 0M435.9 340.9a1.4 1.4 0 1 0 2.7 0a1.4 1.4 0 1 0 -2.7 0M320.1 337.7a1.4 1.4 0 1 0 2.7 0a1.4 1.4 0 1 0 -2.7 0M383.1 320.9a1.4 1.4 0 1 0 2.7 0a1.4 1.4 0 1 0 -2.7 0M294.9 333.2a1.4 1.4 0 1 0 2.7 0a1.4 1.4 0 1 0 -2.7 0M299.9 342.1a1.4 1.4 0 1 0 2.7 0a1.4 1.4 0 1 0 -2.7 0M402.4 322.8a1.4 1.4 0 1 0 2.7 0a1.4 1.4 0 1 0 -2.7 0M452.3 343.3a1.4 1.4 0 1 0 2.7 0a1.4 1.4 0 1 0 -2.7 0M381.8 297.5a1.4 1.4 0 1 0 2.7 0a1.4 1.4 0 1 0 -2.7 0M414 356.8a1.4 1.4 0 1 0 2.7 0a1.4 1.4 0 1 0 -2.7 0M478.3 343.7a1.4 1.4 0 1 0 2.7 0a1.4 1.4 0 1 0 -2.7 0M308.9 306.2a1.4 1.4 0 1 0 2.7 0a1.4 1.4 0 1 0 -2.7 0M498.6 346.4a1.4 1.4 0 1 0 2.7 0a1.4 1.4 0 1 0 -2.7 0M374.8 319.6a1.4 1.4 0 1 0 2.7 0a1.4 1.4 0 1 0 -2.7 0M478.3 344.4a1.4 1.4 0 1 0 2.7 0a1.4 1.4 0 1 0 -2.7 0M443.1 334.1a1.4 1.4 0 1 0 2.7 0a1.4 1.4 0 1 0 -2.7 0M381.2 297.6a1.4 1.4 0 1 0 2.7 0a1.4 1.4 0 1 0 -2.7 0M367.9 313.2a1.4 1.4 0 1 0 2.7 0a1.4 1.4 0 1 0 -2.7 0M339.7 307.2a1.4 1.4 0 1 0 2.7 0a1.4 1.4 0 1 0 -2.7 0M349.9 321.8a1.4 1.4 0 1 0 2.7 0a1.4 1.4 0 1 0 -2.7 0M294.2 375.3a1.4 1.4 0 1 0 2.7 0a1.4 1.4 0 1 0 -2.7 0M434.2 343.2a1.4 1.4 0 1 0 2.7 0a1.4 1.4 0 1 0 -2.7 0M386 335a1.4 1.4 0 1 0 2.7 0a1.4 1.4 0 1 0 -2.7 0M407.2 360a1.4 1.4 0 1 0 2.7 0a1.4 1.4 0 1 0 -2.7 0M280.2 373.7a1.4 1.4 0 1 0 2.7 0a1.4 1.4 0 1 0 -2.7 0M327.2 304.8a1.4 1.4 0 1 0 2.7 0a1.4 1.4 0 1 0 -2.7 0M432.3 362a1.4 1.4 0 1 0 2.7 0a1.4 1.4 0 1 0 -2.7 0M331.5 301.9a1.4 1.4 0 1 0 2.7 0a1.4 1.4 0 1 0 -2.7 0M345.3 306.6a1.4 1.4 0 1 0 2.7 0a1.4 1.4 0 1 0 -2.7 0M403.4 326.6a1.4 1.4 0 1 0 2.7 0a1.4 1.4 0 1 0 -2.7 0M483.3 348a1.4 1.4 0 1 0 2.7 0a1.4 1.4 0 1 0 -2.7 0M315.7 319.5a1.4 1.4 0 1 0 2.7 0a1.4 1.4 0 1 0 -2.7 0M393.9 302.7a1.4 1.4 0 1 0 2.7 0a1.4 1.4 0 1 0 -2.7 0M436.6 327.4a1.4 1.4 0 1 0 2.7 0a1.4 1.4 0 1 0 -2.7 0M389.3 321.2a1.4 1.4 0 1 0 2.7 0a1.4 1.4 0 1 0 -2.7 0M354.5 294.2a1.4 1.4 0 1 0 2.7 0a1.4 1.4 0 1 0 -2.7 0M439.5 335.3a1.4 1.4 0 1 0 2.7 0a1.4 1.4 0 1 0 -2.7 0M418.5 350.1a1.4 1.4 0 1 0 2.7 0a1.4 1.4 0 1 0 -2.7 0M483.8 367.1a1.4 1.4 0 1 0 2.7 0a1.4 1.4 0 1 0 -2.7 0M329.1 304.9a1.4 1.4 0 1 0 2.7 0a1.4 1.4 0 1 0 -2.7 0M363.4 316a1.4 1.4 0 1 0 2.7 0a1.4 1.4 0 1 0 -2.7 0M409.1 340.1a1.4 1.4 0 1 0 2.7 0a1.4 1.4 0 1 0 -2.7 0M339.1 306.5a1.4 1.4 0 1 0 2.7 0a1.4 1.4 0 1 0 -2.7 0M363.7 316.6a1.4 1.4 0 1 0 2.7 0a1.4 1.4 0 1 0 -2.7 0M469.9 334.2a1.4 1.4 0 1 0 2.7 0a1.4 1.4 0 1 0 -2.7 0M360.7 290.2a1.4 1.4 0 1 0 2.7 0a1.4 1.4 0 1 0 -2.7 0M418 351.6a1.4 1.4 0 1 0 2.7 0a1.4 1.4 0 1 0 -2.7 0M435.5 343a1.4 1.4 0 1 0 2.7 0a1.4 1.4 0 1 0 -2.7 0M496.8 325.7a1.4 1.4 0 1 0 2.7 0a1.4 1.4 0 1 0 -2.7 0M476.5 359a1.4 1.4 0 1 0 2.7 0a1.4 1.4 0 1 0 -2.7 0M370.4 306.7a1.4 1.4 0 1 0 2.7 0a1.4 1.4 0 1 0 -2.7 0M315.2 318.9a1.4 1.4 0 1 0 2.7 0a1.4 1.4 0 1 0 -2.7 0M338.9 305.6a1.4 1.4 0 1 0 2.7 0a1.4 1.4 0 1 0 -2.7 0M376.2 297a1.4 1.4 0 1 0 2.7 0a1.4 1.4 0 1 0 -2.7 0M387.6 317.6a1.4 1.4 0 1 0 2.7 0a1.4 1.4 0 1 0 -2.7 0M481.7 369.3a1.4 1.4 0 1 0 2.7 0a1.4 1.4 0 1 0 -2.7 0M471 333.3a1.4 1.4 0 1 0 2.7 0a1.4 1.4 0 1 0 -2.7 0M281.3 374.2a1.4 1.4 0 1 0 2.7 0a1.4 1.4 0 1 0 -2.7 0M345.8 305.6a1.4 1.4 0 1 0 2.7 0a1.4 1.4 0 1 0 -2.7 0M394.9 300.6a1.4 1.4 0 1 0 2.7 0a1.4 1.4 0 1 0 -2.7 0M398.4 338.9a1.4 1.4 0 1 0 2.7 0a1.4 1.4 0 1 0 -2.7 0M481 348.3a1.4 1.4 0 1 0 2.7 0a1.4 1.4 0 1 0 -2.7 0M343.3 306.3a1.4 1.4 0 1 0 2.7 0a1.4 1.4 0 1 0 -2.7 0M458.5 320.7a1.4 1.4 0 1 0 2.7 0a1.4 1.4 0 1 0 -2.7 0M379.5 295.5a1.4 1.4 0 1 0 2.7 0a1.4 1.4 0 1 0 -2.7 0M279.2 354.4a1.4 1.4 0 1 0 2.7 0a1.4 1.4 0 1 0 -2.7 0M267.3 332.5a1.4 1.4 0 1 0 2.7 0a1.4 1.4 0 1 0 -2.7 0M396 325.2a1.4 1.4 0 1 0 2.7 0a1.4 1.4 0 1 0 -2.7 0M493.3 341.5a1.4 1.4 0 1 0 2.7 0a1.4 1.4 0 1 0 -2.7 0M279 355.5a1.4 1.4 0 1 0 2.7 0a1.4 1.4 0 1 0 -2.7 0M424.1 329.8a1.4 1.4 0 1 0 2.7 0a1.4 1.4 0 1 0 -2.7 0M418.8 349.8a1.4 1.4 0 1 0 2.7 0a1.4 1.4 0 1 0 -2.7 0M503.4 357.7a1.4 1.4 0 1 0 2.7 0a1.4 1.4 0 1 0 -2.7 0M310.4 329.7a1.4 1.4 0 1 0 2.7 0a1.4 1.4 0 1 0 -2.7 0M315.3 319.1a1.4 1.4 0 1 0 2.7 0a1.4 1.4 0 1 0 -2.7 0M316.6 321.4a1.4 1.4 0 1 0 2.7 0a1.4 1.4 0 1 0 -2.7 0M323.5 329.6a1.4 1.4 0 1 0 2.7 0a1.4 1.4 0 1 0 -2.7 0M330.3 302.4a1.4 1.4 0 1 0 2.7 0a1.4 1.4 0 1 0 -2.7 0M279.3 353.2a1.4 1.4 0 1 0 2.7 0a1.4 1.4 0 1 0 -2.7 0M426.9 330.7a1.4 1.4 0 1 0 2.7 0a1.4 1.4 0 1 0 -2.7 0M477.9 357.6a1.4 1.4 0 1 0 2.7 0a1.4 1.4 0 1 0 -2.7 0M362.5 289.5a1.4 1.4 0 1 0 2.7 0a1.4 1.4 0 1 0 -2.7 0M279.9 352.7a1.4 1.4 0 1 0 2.7 0a1.4 1.4 0 1 0 -2.7 0M316.4 320.5a1.4 1.4 0 1 0 2.7 0a1.4 1.4 0 1 0 -2.7 0M413.1 333.3a1.4 1.4 0 1 0 2.7 0a1.4 1.4 0 1 0 -2.7 0M431.4 343.1a1.4 1.4 0 1 0 2.7 0a1.4 1.4 0 1 0 -2.7 0M452 320.7a1.4 1.4 0 1 0 2.7 0a1.4 1.4 0 1 0 -2.7 0M277.2 376.3a1.4 1.4 0 1 0 2.7 0a1.4 1.4 0 1 0 -2.7 0M336.1 303.5a1.4 1.4 0 1 0 2.7 0a1.4 1.4 0 1 0 -2.7 0M478.5 345.7a1.4 1.4 0 1 0 2.7 0a1.4 1.4 0 1 0 -2.7 0M467.3 330.5a1.4 1.4 0 1 0 2.7 0a1.4 1.4 0 1 0 -2.7 0M477.3 343.3a1.4 1.4 0 1 0 2.7 0a1.4 1.4 0 1 0 -2.7 0M489.1 330.4a1.4 1.4 0 1 0 2.7 0a1.4 1.4 0 1 0 -2.7 0M494.1 342.3a1.4 1.4 0 1 0 2.7 0a1.4 1.4 0 1 0 -2.7 0M434.7 328a1.4 1.4 0 1 0 2.7 0a1.4 1.4 0 1 0 -2.7 0M272.3 367.5a1.4 1.4 0 1 0 2.7 0a1.4 1.4 0 1 0 -2.7 0M476.5 357.4a1.4 1.4 0 1 0 2.7 0a1.4 1.4 0 1 0 -2.7 0M497.1 325.6a1.4 1.4 0 1 0 2.7 0a1.4 1.4 0 1 0 -2.7 0M331.6 323.4a1.4 1.4 0 1 0 2.7 0a1.4 1.4 0 1 0 -2.7 0M350.7 300.5a1.4 1.4 0 1 0 2.7 0a1.4 1.4 0 1 0 -2.7 0M457.7 342.5a1.4 1.4 0 1 0 2.7 0a1.4 1.4 0 1 0 -2.7 0M322.2 333.4a1.4 1.4 0 1 0 2.7 0a1.4 1.4 0 1 0 -2.7 0M412.5 356.8a1.4 1.4 0 1 0 2.7 0a1.4 1.4 0 1 0 -2.7 0M387.4 338.9a1.4 1.4 0 1 0 2.7 0a1.4 1.4 0 1 0 -2.7 0M455.3 344.1a1.4 1.4 0 1 0 2.7 0a1.4 1.4 0 1 0 -2.7 0M430.5 367.3a1.4 1.4 0 1 0 2.7 0a1.4 1.4 0 1 0 -2.7 0M390.4 345.9a1.4 1.4 0 1 0 2.7 0a1.4 1.4 0 1 0 -2.7 0M501 336.8a1.4 1.4 0 1 0 2.7 0a1.4 1.4 0 1 0 -2.7 0M397.7 333.7a1.4 1.4 0 1 0 2.7 0a1.4 1.4 0 1 0 -2.7 0M377.8 297.7a1.4 1.4 0 1 0 2.7 0a1.4 1.4 0 1 0 -2.7 0M435.5 327.8a1.4 1.4 0 1 0 2.7 0a1.4 1.4 0 1 0 -2.7 0M300.7 336.8a1.4 1.4 0 1 0 2.7 0a1.4 1.4 0 1 0 -2.7 0M348.7 301.9a1.4 1.4 0 1 0 2.7 0a1.4 1.4 0 1 0 -2.7 0M412.8 332.9a1.4 1.4 0 1 0 2.7 0a1.4 1.4 0 1 0 -2.7 0M349.4 301.8a1.4 1.4 0 1 0 2.7 0a1.4 1.4 0 1 0 -2.7 0M357.6 317.5a1.4 1.4 0 1 0 2.7 0a1.4 1.4 0 1 0 -2.7 0M321.5 316.1a1.4 1.4 0 1 0 2.7 0a1.4 1.4 0 1 0 -2.7 0M471.7 354.9a1.4 1.4 0 1 0 2.7 0a1.4 1.4 0 1 0 -2.7 0M328.6 303.1a1.4 1.4 0 1 0 2.7 0a1.4 1.4 0 1 0 -2.7 0M358.8 317.7a1.4 1.4 0 1 0 2.7 0a1.4 1.4 0 1 0 -2.7 0M407.2 339.9a1.4 1.4 0 1 0 2.7 0a1.4 1.4 0 1 0 -2.7 0M301.2 309.9a1.4 1.4 0 1 0 2.7 0a1.4 1.4 0 1 0 -2.7 0M386 313.2a1.4 1.4 0 1 0 2.7 0a1.4 1.4 0 1 0 -2.7 0M479.5 361.9a1.4 1.4 0 1 0 2.7 0a1.4 1.4 0 1 0 -2.7 0M343.5 307.2a1.4 1.4 0 1 0 2.7 0a1.4 1.4 0 1 0 -2.7 0M270.7 356.1a1.4 1.4 0 1 0 2.7 0a1.4 1.4 0 1 0 -2.7 0M417.7 330a1.4 1.4 0 1 0 2.7 0a1.4 1.4 0 1 0 -2.7 0M453.2 321.5a1.4 1.4 0 1 0 2.7 0a1.4 1.4 0 1 0 -2.7 0M421.6 345.2a1.4 1.4 0 1 0 2.7 0a1.4 1.4 0 1 0 -2.7 0M428.8 356.4a1.4 1.4 0 1 0 2.7 0a1.4 1.4 0 1 0 -2.7 0M361.1 315.8a1.4 1.4 0 1 0 2.7 0a1.4 1.4 0 1 0 -2.7 0M430 364.4a1.4 1.4 0 1 0 2.7 0a1.4 1.4 0 1 0 -2.7 0M493.9 324.2a1.4 1.4 0 1 0 2.7 0a1.4 1.4 0 1 0 -2.7 0M316.8 321.6a1.4 1.4 0 1 0 2.7 0a1.4 1.4 0 1 0 -2.7 0M491.3 323.3a1.4 1.4 0 1 0 2.7 0a1.4 1.4 0 1 0 -2.7 0M486.8 358.8a1.4 1.4 0 1 0 2.7 0a1.4 1.4 0 1 0 -2.7 0M350.7 320.6a1.4 1.4 0 1 0 2.7 0a1.4 1.4 0 1 0 -2.7 0M269.5 319.7a1.4 1.4 0 1 0 2.7 0a1.4 1.4 0 1 0 -2.7 0M324.3 328.8a1.4 1.4 0 1 0 2.7 0a1.4 1.4 0 1 0 -2.7 0M468.9 332.3a1.4 1.4 0 1 0 2.7 0a1.4 1.4 0 1 0 -2.7 0M347.6 302.8a1.4 1.4 0 1 0 2.7 0a1.4 1.4 0 1 0 -2.7 0M492.6 343.3a1.4 1.4 0 1 0 2.7 0a1.4 1.4 0 1 0 -2.7 0M290.3 339.4a1.4 1.4 0 1 0 2.7 0a1.4 1.4 0 1 0 -2.7 0M303.7 306.4a1.4 1.4 0 1 0 2.7 0a1.4 1.4 0 1 0 -2.7 0M287.1 334.9a1.4 1.4 0 1 0 2.7 0a1.4 1.4 0 1 0 -2.7 0M501.4 338.2a1.4 1.4 0 1 0 2.7 0a1.4 1.4 0 1 0 -2.7 0M455.2 320.7a1.4 1.4 0 1 0 2.7 0a1.4 1.4 0 1 0 -2.7 0M499.4 346.7a1.4 1.4 0 1 0 2.7 0a1.4 1.4 0 1 0 -2.7 0M311.5 329a1.4 1.4 0 1 0 2.7 0a1.4 1.4 0 1 0 -2.7 0M370.5 303.8a1.4 1.4 0 1 0 2.7 0a1.4 1.4 0 1 0 -2.7 0M381.9 321.4a1.4 1.4 0 1 0 2.7 0a1.4 1.4 0 1 0 -2.7 0M268.1 324.8a1.4 1.4 0 1 0 2.7 0a1.4 1.4 0 1 0 -2.7 0M398.1 310.2a1.4 1.4 0 1 0 2.7 0a1.4 1.4 0 1 0 -2.7 0M496.9 344.1a1.4 1.4 0 1 0 2.7 0a1.4 1.4 0 1 0 -2.7 0M410.7 336.3a1.4 1.4 0 1 0 2.7 0a1.4 1.4 0 1 0 -2.7 0M497.1 327.3a1.4 1.4 0 1 0 2.7 0a1.4 1.4 0 1 0 -2.7 0M348.7 302.1a1.4 1.4 0 1 0 2.7 0a1.4 1.4 0 1 0 -2.7 0M516.3 411a1.4 1.4 0 1 0 2.7 0a1.4 1.4 0 1 0 -2.7 0M512.8 409.8a1.4 1.4 0 1 0 2.7 0a1.4 1.4 0 1 0 -2.7 0M519.1 416.2a1.4 1.4 0 1 0 2.7 0a1.4 1.4 0 1 0 -2.7 0M521.7 417.7a1.4 1.4 0 1 0 2.7 0a1.4 1.4 0 1 0 -2.7 0M520 426.7a1.4 1.4 0 1 0 2.7 0a1.4 1.4 0 1 0 -2.7 0M524.6 430.2a1.4 1.4 0 1 0 2.7 0a1.4 1.4 0 1 0 -2.7 0M524.1 430.5a1.4 1.4 0 1 0 2.7 0a1.4 1.4 0 1 0 -2.7 0M526.6 425.2a1.4 1.4 0 1 0 2.7 0a1.4 1.4 0 1 0 -2.7 0M513.6 421.6a1.4 1.4 0 1 0 2.7 0a1.4 1.4 0 1 0 -2.7 0M509.2 407.1a1.4 1.4 0 1 0 2.7 0a1.4 1.4 0 1 0 -2.7 0M506.2 418.8a1.4 1.4 0 1 0 2.7 0a1.4 1.4 0 1 0 -2.7 0M515.2 412.3a1.4 1.4 0 1 0 2.7 0a1.4 1.4 0 1 0 -2.7 0M517 421.3a1.4 1.4 0 1 0 2.7 0a1.4 1.4 0 1 0 -2.7 0M516 412.2a1.4 1.4 0 1 0 2.7 0a1.4 1.4 0 1 0 -2.7 0M521.6 428.8a1.4 1.4 0 1 0 2.7 0a1.4 1.4 0 1 0 -2.7 0M512.5 419.6a1.4 1.4 0 1 0 2.7 0a1.4 1.4 0 1 0 -2.7 0M509.2 421.5a1.4 1.4 0 1 0 2.7 0a1.4 1.4 0 1 0 -2.7 0M524.8 420.4a1.4 1.4 0 1 0 2.7 0a1.4 1.4 0 1 0 -2.7 0M515.9 421.7a1.4 1.4 0 1 0 2.7 0a1.4 1.4 0 1 0 -2.7 0M519.6 426.4a1.4 1.4 0 1 0 2.7 0a1.4 1.4 0 1 0 -2.7 0M512.6 420.4a1.4 1.4 0 1 0 2.7 0a1.4 1.4 0 1 0 -2.7 0M521.1 418.1a1.4 1.4 0 1 0 2.7 0a1.4 1.4 0 1 0 -2.7 0M512.3 421.3a1.4 1.4 0 1 0 2.7 0a1.4 1.4 0 1 0 -2.7 0M514.3 419.9a1.4 1.4 0 1 0 2.7 0a1.4 1.4 0 1 0 -2.7 0M522.5 428.1a1.4 1.4 0 1 0 2.7 0a1.4 1.4 0 1 0 -2.7 0M515.9 413.1a1.4 1.4 0 1 0 2.7 0a1.4 1.4 0 1 0 -2.7 0M507.6 420.1a1.4 1.4 0 1 0 2.7 0a1.4 1.4 0 1 0 -2.7 0" fill="#b6b7ac"/>
<path d="M261.1 304a1.4 1.4 0 1 0 2.7 0a1.4 1.4 0 1 0 -2.7 0M261.3 310a1.4 1.4 0 1 0 2.7 0a1.4 1.4 0 1 0 -2.7 0M261.6 316a1.4 1.4 0 1 0 2.7 0a1.4 1.4 0 1 0 -2.7 0M261.4 323a1.4 1.4 0 1 0 2.7 0a1.4 1.4 0 1 0 -2.7 0M261.8 331a1.4 1.4 0 1 0 2.7 0a1.4 1.4 0 1 0 -2.7 0M261.2 338a1.4 1.4 0 1 0 2.7 0a1.4 1.4 0 1 0 -2.7 0M262.1 343a1.4 1.4 0 1 0 2.7 0a1.4 1.4 0 1 0 -2.7 0M263.1 306a1.4 1.4 0 1 0 2.7 0a1.4 1.4 0 1 0 -2.7 0M264.1 312a1.4 1.4 0 1 0 2.7 0a1.4 1.4 0 1 0 -2.7 0M264.6 320a1.4 1.4 0 1 0 2.7 0a1.4 1.4 0 1 0 -2.7 0M265.6 327a1.4 1.4 0 1 0 2.7 0a1.4 1.4 0 1 0 -2.7 0M265.1 336a1.4 1.4 0 1 0 2.7 0a1.4 1.4 0 1 0 -2.7 0M264.4 345a1.4 1.4 0 1 0 2.7 0a1.4 1.4 0 1 0 -2.7 0M266.9 306a1.4 1.4 0 1 0 2.7 0a1.4 1.4 0 1 0 -2.7 0M266.6 314a1.4 1.4 0 1 0 2.7 0a1.4 1.4 0 1 0 -2.7 0M267.6 322a1.4 1.4 0 1 0 2.7 0a1.4 1.4 0 1 0 -2.7 0M267.2 330a1.4 1.4 0 1 0 2.7 0a1.4 1.4 0 1 0 -2.7 0M269.2 303a1.4 1.4 0 1 0 2.7 0a1.4 1.4 0 1 0 -2.7 0M269.6 309a1.4 1.4 0 1 0 2.7 0a1.4 1.4 0 1 0 -2.7 0M269.8 314a1.4 1.4 0 1 0 2.7 0a1.4 1.4 0 1 0 -2.7 0M231.7 334a1.4 1.4 0 1 0 2.7 0a1.4 1.4 0 1 0 -2.7 0M232.7 349a1.4 1.4 0 1 0 2.7 0a1.4 1.4 0 1 0 -2.7 0M232.8 355a1.4 1.4 0 1 0 2.7 0a1.4 1.4 0 1 0 -2.7 0M504.6 364a1.4 1.4 0 1 0 2.7 0a1.4 1.4 0 1 0 -2.7 0M504.8 373a1.4 1.4 0 1 0 2.7 0a1.4 1.4 0 1 0 -2.7 0M505 379a1.4 1.4 0 1 0 2.7 0a1.4 1.4 0 1 0 -2.7 0M505.1 385a1.4 1.4 0 1 0 2.7 0a1.4 1.4 0 1 0 -2.7 0M505.3 392a1.4 1.4 0 1 0 2.7 0a1.4 1.4 0 1 0 -2.7 0M505.6 400a1.4 1.4 0 1 0 2.7 0a1.4 1.4 0 1 0 -2.7 0M504.8 369a1.4 1.4 0 1 0 2.7 0a1.4 1.4 0 1 0 -2.7 0" fill="#b6b7ac"/>
<path d="M153 429.6a1.7 1.7 0 1 0 3.4 0a1.7 1.7 0 1 0 -3.4 0M152.6 435.8a1.7 1.7 0 1 0 3.4 0a1.7 1.7 0 1 0 -3.4 0M152.6 445.5a1.7 1.7 0 1 0 3.4 0a1.7 1.7 0 1 0 -3.4 0M152.9 464.4a1.7 1.7 0 1 0 3.4 0a1.7 1.7 0 1 0 -3.4 0M152.7 426.9a1.7 1.7 0 1 0 3.4 0a1.7 1.7 0 1 0 -3.4 0M153.4 438.7a1.7 1.7 0 1 0 3.4 0a1.7 1.7 0 1 0 -3.4 0M153.5 442.7a1.7 1.7 0 1 0 3.4 0a1.7 1.7 0 1 0 -3.4 0M153.7 432.8a1.7 1.7 0 1 0 3.4 0a1.7 1.7 0 1 0 -3.4 0M153.4 463a1.7 1.7 0 1 0 3.4 0a1.7 1.7 0 1 0 -3.4 0M154.4 433.9a1.7 1.7 0 1 0 3.4 0a1.7 1.7 0 1 0 -3.4 0M154.5 449.1a1.7 1.7 0 1 0 3.4 0a1.7 1.7 0 1 0 -3.4 0M154.6 426.6a1.7 1.7 0 1 0 3.4 0a1.7 1.7 0 1 0 -3.4 0M154.2 435.2a1.7 1.7 0 1 0 3.4 0a1.7 1.7 0 1 0 -3.4 0M155.2 429.8a1.7 1.7 0 1 0 3.4 0a1.7 1.7 0 1 0 -3.4 0M155.1 457.7a1.7 1.7 0 1 0 3.4 0a1.7 1.7 0 1 0 -3.4 0M155.2 439.8a1.7 1.7 0 1 0 3.4 0a1.7 1.7 0 1 0 -3.4 0M155.2 434.2a1.7 1.7 0 1 0 3.4 0a1.7 1.7 0 1 0 -3.4 0M156.2 438.7a1.7 1.7 0 1 0 3.4 0a1.7 1.7 0 1 0 -3.4 0M156 423.2a1.7 1.7 0 1 0 3.4 0a1.7 1.7 0 1 0 -3.4 0M155.9 435.8a1.7 1.7 0 1 0 3.4 0a1.7 1.7 0 1 0 -3.4 0M155.8 427.6a1.7 1.7 0 1 0 3.4 0a1.7 1.7 0 1 0 -3.4 0M156.7 454.3a1.7 1.7 0 1 0 3.4 0a1.7 1.7 0 1 0 -3.4 0M156.8 429.3a1.7 1.7 0 1 0 3.4 0a1.7 1.7 0 1 0 -3.4 0M156.9 436.3a1.7 1.7 0 1 0 3.4 0a1.7 1.7 0 1 0 -3.4 0M156.9 427.3a1.7 1.7 0 1 0 3.4 0a1.7 1.7 0 1 0 -3.4 0M157.7 430.5a1.7 1.7 0 1 0 3.4 0a1.7 1.7 0 1 0 -3.4 0M157.5 424a1.7 1.7 0 1 0 3.4 0a1.7 1.7 0 1 0 -3.4 0M157.6 446.6a1.7 1.7 0 1 0 3.4 0a1.7 1.7 0 1 0 -3.4 0M157.7 432.5a1.7 1.7 0 1 0 3.4 0a1.7 1.7 0 1 0 -3.4 0M158.6 434.6a1.7 1.7 0 1 0 3.4 0a1.7 1.7 0 1 0 -3.4 0M158.5 426.5a1.7 1.7 0 1 0 3.4 0a1.7 1.7 0 1 0 -3.4 0M158.4 435.8a1.7 1.7 0 1 0 3.4 0a1.7 1.7 0 1 0 -3.4 0M158.2 421.4a1.7 1.7 0 1 0 3.4 0a1.7 1.7 0 1 0 -3.4 0M159.1 425.2a1.7 1.7 0 1 0 3.4 0a1.7 1.7 0 1 0 -3.4 0M159 452.7a1.7 1.7 0 1 0 3.4 0a1.7 1.7 0 1 0 -3.4 0M159.1 419.9a1.7 1.7 0 1 0 3.4 0a1.7 1.7 0 1 0 -3.4 0M159.3 427.2a1.7 1.7 0 1 0 3.4 0a1.7 1.7 0 1 0 -3.4 0M159.4 447.8a1.7 1.7 0 1 0 3.4 0a1.7 1.7 0 1 0 -3.4 0M160 445.3a1.7 1.7 0 1 0 3.4 0a1.7 1.7 0 1 0 -3.4 0M159.9 417.2a1.7 1.7 0 1 0 3.4 0a1.7 1.7 0 1 0 -3.4 0M160 439.3a1.7 1.7 0 1 0 3.4 0a1.7 1.7 0 1 0 -3.4 0M160.2 460.9a1.7 1.7 0 1 0 3.4 0a1.7 1.7 0 1 0 -3.4 0M160.8 418.7a1.7 1.7 0 1 0 3.4 0a1.7 1.7 0 1 0 -3.4 0M160.6 462.8a1.7 1.7 0 1 0 3.4 0a1.7 1.7 0 1 0 -3.4 0M160.6 421a1.7 1.7 0 1 0 3.4 0a1.7 1.7 0 1 0 -3.4 0M160.9 433.4a1.7 1.7 0 1 0 3.4 0a1.7 1.7 0 1 0 -3.4 0M161.7 429.2a1.7 1.7 0 1 0 3.4 0a1.7 1.7 0 1 0 -3.4 0M161.5 470.3a1.7 1.7 0 1 0 3.4 0a1.7 1.7 0 1 0 -3.4 0M161.8 411.8a1.7 1.7 0 1 0 3.4 0a1.7 1.7 0 1 0 -3.4 0M161.4 427.6a1.7 1.7 0 1 0 3.4 0a1.7 1.7 0 1 0 -3.4 0M162.5 432.4a1.7 1.7 0 1 0 3.4 0a1.7 1.7 0 1 0 -3.4 0M162.5 419.9a1.7 1.7 0 1 0 3.4 0a1.7 1.7 0 1 0 -3.4 0M162.3 432.3a1.7 1.7 0 1 0 3.4 0a1.7 1.7 0 1 0 -3.4 0M162.4 433.3a1.7 1.7 0 1 0 3.4 0a1.7 1.7 0 1 0 -3.4 0M162.4 437.5a1.7 1.7 0 1 0 3.4 0a1.7 1.7 0 1 0 -3.4 0M163.2 438a1.7 1.7 0 1 0 3.4 0a1.7 1.7 0 1 0 -3.4 0M163.4 435.5a1.7 1.7 0 1 0 3.4 0a1.7 1.7 0 1 0 -3.4 0M163.4 452.9a1.7 1.7 0 1 0 3.4 0a1.7 1.7 0 1 0 -3.4 0M163.3 454.6a1.7 1.7 0 1 0 3.4 0a1.7 1.7 0 1 0 -3.4 0M163 452.9a1.7 1.7 0 1 0 3.4 0a1.7 1.7 0 1 0 -3.4 0M163.9 446.9a1.7 1.7 0 1 0 3.4 0a1.7 1.7 0 1 0 -3.4 0M164.2 416.2a1.7 1.7 0 1 0 3.4 0a1.7 1.7 0 1 0 -3.4 0M164 427a1.7 1.7 0 1 0 3.4 0a1.7 1.7 0 1 0 -3.4 0M164.1 432.8a1.7 1.7 0 1 0 3.4 0a1.7 1.7 0 1 0 -3.4 0M164.1 426.3a1.7 1.7 0 1 0 3.4 0a1.7 1.7 0 1 0 -3.4 0M164.8 427a1.7 1.7 0 1 0 3.4 0a1.7 1.7 0 1 0 -3.4 0M164.8 429.7a1.7 1.7 0 1 0 3.4 0a1.7 1.7 0 1 0 -3.4 0M164.6 433a1.7 1.7 0 1 0 3.4 0a1.7 1.7 0 1 0 -3.4 0M164.6 431.7a1.7 1.7 0 1 0 3.4 0a1.7 1.7 0 1 0 -3.4 0M165.5 397.1a1.7 1.7 0 1 0 3.4 0a1.7 1.7 0 1 0 -3.4 0M165.5 435.8a1.7 1.7 0 1 0 3.4 0a1.7 1.7 0 1 0 -3.4 0M165.6 425.2a1.7 1.7 0 1 0 3.4 0a1.7 1.7 0 1 0 -3.4 0M165.5 428.5a1.7 1.7 0 1 0 3.4 0a1.7 1.7 0 1 0 -3.4 0M166.3 412.8a1.7 1.7 0 1 0 3.4 0a1.7 1.7 0 1 0 -3.4 0M166.4 411.5a1.7 1.7 0 1 0 3.4 0a1.7 1.7 0 1 0 -3.4 0M166.6 417.9a1.7 1.7 0 1 0 3.4 0a1.7 1.7 0 1 0 -3.4 0M166.4 440a1.7 1.7 0 1 0 3.4 0a1.7 1.7 0 1 0 -3.4 0M167.2 433.5a1.7 1.7 0 1 0 3.4 0a1.7 1.7 0 1 0 -3.4 0M167.1 464.7a1.7 1.7 0 1 0 3.4 0a1.7 1.7 0 1 0 -3.4 0M167.2 414.6a1.7 1.7 0 1 0 3.4 0a1.7 1.7 0 1 0 -3.4 0M167 426.5a1.7 1.7 0 1 0 3.4 0a1.7 1.7 0 1 0 -3.4 0M167.2 454.7a1.7 1.7 0 1 0 3.4 0a1.7 1.7 0 1 0 -3.4 0M168.1 434.2a1.7 1.7 0 1 0 3.4 0a1.7 1.7 0 1 0 -3.4 0M168.2 441.7a1.7 1.7 0 1 0 3.4 0a1.7 1.7 0 1 0 -3.4 0M168 429.3a1.7 1.7 0 1 0 3.4 0a1.7 1.7 0 1 0 -3.4 0M167.9 417.9a1.7 1.7 0 1 0 3.4 0a1.7 1.7 0 1 0 -3.4 0M168.8 420.2a1.7 1.7 0 1 0 3.4 0a1.7 1.7 0 1 0 -3.4 0M168.9 422.2a1.7 1.7 0 1 0 3.4 0a1.7 1.7 0 1 0 -3.4 0M168.8 422.3a1.7 1.7 0 1 0 3.4 0a1.7 1.7 0 1 0 -3.4 0M169 434.3a1.7 1.7 0 1 0 3.4 0a1.7 1.7 0 1 0 -3.4 0M169.6 417.6a1.7 1.7 0 1 0 3.4 0a1.7 1.7 0 1 0 -3.4 0M169.4 416.2a1.7 1.7 0 1 0 3.4 0a1.7 1.7 0 1 0 -3.4 0M169.6 411.2a1.7 1.7 0 1 0 3.4 0a1.7 1.7 0 1 0 -3.4 0M169.7 410.2a1.7 1.7 0 1 0 3.4 0a1.7 1.7 0 1 0 -3.4 0M170.2 436.2a1.7 1.7 0 1 0 3.4 0a1.7 1.7 0 1 0 -3.4 0M170.5 418.8a1.7 1.7 0 1 0 3.4 0a1.7 1.7 0 1 0 -3.4 0M170.6 429.4a1.7 1.7 0 1 0 3.4 0a1.7 1.7 0 1 0 -3.4 0M170.3 429.7a1.7 1.7 0 1 0 3.4 0a1.7 1.7 0 1 0 -3.4 0M171.2 423.4a1.7 1.7 0 1 0 3.4 0a1.7 1.7 0 1 0 -3.4 0M171.1 445.5a1.7 1.7 0 1 0 3.4 0a1.7 1.7 0 1 0 -3.4 0M171.4 424a1.7 1.7 0 1 0 3.4 0a1.7 1.7 0 1 0 -3.4 0M171.4 416a1.7 1.7 0 1 0 3.4 0a1.7 1.7 0 1 0 -3.4 0M172.2 396.1a1.7 1.7 0 1 0 3.4 0a1.7 1.7 0 1 0 -3.4 0M172 405.9a1.7 1.7 0 1 0 3.4 0a1.7 1.7 0 1 0 -3.4 0M172 426.8a1.7 1.7 0 1 0 3.4 0a1.7 1.7 0 1 0 -3.4 0M172.2 446.8a1.7 1.7 0 1 0 3.4 0a1.7 1.7 0 1 0 -3.4 0M172.2 419.6a1.7 1.7 0 1 0 3.4 0a1.7 1.7 0 1 0 -3.4 0M172.7 400.7a1.7 1.7 0 1 0 3.4 0a1.7 1.7 0 1 0 -3.4 0M172.6 421.9a1.7 1.7 0 1 0 3.4 0a1.7 1.7 0 1 0 -3.4 0M172.6 433.5a1.7 1.7 0 1 0 3.4 0a1.7 1.7 0 1 0 -3.4 0M172.8 433.4a1.7 1.7 0 1 0 3.4 0a1.7 1.7 0 1 0 -3.4 0M173.4 437.5a1.7 1.7 0 1 0 3.4 0a1.7 1.7 0 1 0 -3.4 0M173.5 428.8a1.7 1.7 0 1 0 3.4 0a1.7 1.7 0 1 0 -3.4 0M173.4 427.3a1.7 1.7 0 1 0 3.4 0a1.7 1.7 0 1 0 -3.4 0M173.8 416a1.7 1.7 0 1 0 3.4 0a1.7 1.7 0 1 0 -3.4 0M174.2 430.6a1.7 1.7 0 1 0 3.4 0a1.7 1.7 0 1 0 -3.4 0M174.3 426.1a1.7 1.7 0 1 0 3.4 0a1.7 1.7 0 1 0 -3.4 0M174.6 428.6a1.7 1.7 0 1 0 3.4 0a1.7 1.7 0 1 0 -3.4 0M174.5 415.8a1.7 1.7 0 1 0 3.4 0a1.7 1.7 0 1 0 -3.4 0M174.3 424.7a1.7 1.7 0 1 0 3.4 0a1.7 1.7 0 1 0 -3.4 0M175 395.9a1.7 1.7 0 1 0 3.4 0a1.7 1.7 0 1 0 -3.4 0M175.4 432.8a1.7 1.7 0 1 0 3.4 0a1.7 1.7 0 1 0 -3.4 0M175.3 424.2a1.7 1.7 0 1 0 3.4 0a1.7 1.7 0 1 0 -3.4 0M175.4 434.9a1.7 1.7 0 1 0 3.4 0a1.7 1.7 0 1 0 -3.4 0M175.8 446.3a1.7 1.7 0 1 0 3.4 0a1.7 1.7 0 1 0 -3.4 0M176.2 427.2a1.7 1.7 0 1 0 3.4 0a1.7 1.7 0 1 0 -3.4 0M175.9 428.7a1.7 1.7 0 1 0 3.4 0a1.7 1.7 0 1 0 -3.4 0M175.8 431.1a1.7 1.7 0 1 0 3.4 0a1.7 1.7 0 1 0 -3.4 0M176.7 422a1.7 1.7 0 1 0 3.4 0a1.7 1.7 0 1 0 -3.4 0M176.7 423.6a1.7 1.7 0 1 0 3.4 0a1.7 1.7 0 1 0 -3.4 0M177 417.5a1.7 1.7 0 1 0 3.4 0a1.7 1.7 0 1 0 -3.4 0M176.7 407.1a1.7 1.7 0 1 0 3.4 0a1.7 1.7 0 1 0 -3.4 0M176.8 409.4a1.7 1.7 0 1 0 3.4 0a1.7 1.7 0 1 0 -3.4 0M177.7 424.1a1.7 1.7 0 1 0 3.4 0a1.7 1.7 0 1 0 -3.4 0M177.5 425.5a1.7 1.7 0 1 0 3.4 0a1.7 1.7 0 1 0 -3.4 0M177.7 422a1.7 1.7 0 1 0 3.4 0a1.7 1.7 0 1 0 -3.4 0M177.8 421.8a1.7 1.7 0 1 0 3.4 0a1.7 1.7 0 1 0 -3.4 0M178.3 409.3a1.7 1.7 0 1 0 3.4 0a1.7 1.7 0 1 0 -3.4 0M178.6 400a1.7 1.7 0 1 0 3.4 0a1.7 1.7 0 1 0 -3.4 0M178.4 413.7a1.7 1.7 0 1 0 3.4 0a1.7 1.7 0 1 0 -3.4 0M178.6 422.1a1.7 1.7 0 1 0 3.4 0a1.7 1.7 0 1 0 -3.4 0M179.3 404.1a1.7 1.7 0 1 0 3.4 0a1.7 1.7 0 1 0 -3.4 0M179.1 427.5a1.7 1.7 0 1 0 3.4 0a1.7 1.7 0 1 0 -3.4 0M179 427.8a1.7 1.7 0 1 0 3.4 0a1.7 1.7 0 1 0 -3.4 0M179.4 422.1a1.7 1.7 0 1 0 3.4 0a1.7 1.7 0 1 0 -3.4 0M179.1 443.2a1.7 1.7 0 1 0 3.4 0a1.7 1.7 0 1 0 -3.4 0M180.2 431.1a1.7 1.7 0 1 0 3.4 0a1.7 1.7 0 1 0 -3.4 0M180 372.3a1.7 1.7 0 1 0 3.4 0a1.7 1.7 0 1 0 -3.4 0M180 357.6a1.7 1.7 0 1 0 3.4 0a1.7 1.7 0 1 0 -3.4 0M180.1 383.5a1.7 1.7 0 1 0 3.4 0a1.7 1.7 0 1 0 -3.4 0M180.7 411.3a1.7 1.7 0 1 0 3.4 0a1.7 1.7 0 1 0 -3.4 0M180.8 402.4a1.7 1.7 0 1 0 3.4 0a1.7 1.7 0 1 0 -3.4 0M180.6 413.5a1.7 1.7 0 1 0 3.4 0a1.7 1.7 0 1 0 -3.4 0M181 419.6a1.7 1.7 0 1 0 3.4 0a1.7 1.7 0 1 0 -3.4 0M181.6 429.3a1.7 1.7 0 1 0 3.4 0a1.7 1.7 0 1 0 -3.4 0M181.4 431.9a1.7 1.7 0 1 0 3.4 0a1.7 1.7 0 1 0 -3.4 0M181.4 417.5a1.7 1.7 0 1 0 3.4 0a1.7 1.7 0 1 0 -3.4 0M181.4 416.2a1.7 1.7 0 1 0 3.4 0a1.7 1.7 0 1 0 -3.4 0M182.4 413.9a1.7 1.7 0 1 0 3.4 0a1.7 1.7 0 1 0 -3.4 0M182.2 394.8a1.7 1.7 0 1 0 3.4 0a1.7 1.7 0 1 0 -3.4 0M182.4 425.9a1.7 1.7 0 1 0 3.4 0a1.7 1.7 0 1 0 -3.4 0M182.2 430a1.7 1.7 0 1 0 3.4 0a1.7 1.7 0 1 0 -3.4 0M183.4 413.9a1.7 1.7 0 1 0 3.4 0a1.7 1.7 0 1 0 -3.4 0M183 422.5a1.7 1.7 0 1 0 3.4 0a1.7 1.7 0 1 0 -3.4 0M183.1 427.6a1.7 1.7 0 1 0 3.4 0a1.7 1.7 0 1 0 -3.4 0M183 423.4a1.7 1.7 0 1 0 3.4 0a1.7 1.7 0 1 0 -3.4 0M184.2 437.3a1.7 1.7 0 1 0 3.4 0a1.7 1.7 0 1 0 -3.4 0M184 427.8a1.7 1.7 0 1 0 3.4 0a1.7 1.7 0 1 0 -3.4 0M183.9 437a1.7 1.7 0 1 0 3.4 0a1.7 1.7 0 1 0 -3.4 0M183.9 422.4a1.7 1.7 0 1 0 3.4 0a1.7 1.7 0 1 0 -3.4 0M184.1 414.9a1.7 1.7 0 1 0 3.4 0a1.7 1.7 0 1 0 -3.4 0M185 421.3a1.7 1.7 0 1 0 3.4 0a1.7 1.7 0 1 0 -3.4 0M184.9 419.1a1.7 1.7 0 1 0 3.4 0a1.7 1.7 0 1 0 -3.4 0M184.9 407.3a1.7 1.7 0 1 0 3.4 0a1.7 1.7 0 1 0 -3.4 0M184.6 427.3a1.7 1.7 0 1 0 3.4 0a1.7 1.7 0 1 0 -3.4 0M185.7 422.8a1.7 1.7 0 1 0 3.4 0a1.7 1.7 0 1 0 -3.4 0M185.8 422.5a1.7 1.7 0 1 0 3.4 0a1.7 1.7 0 1 0 -3.4 0M185.5 425.2a1.7 1.7 0 1 0 3.4 0a1.7 1.7 0 1 0 -3.4 0M185.8 417.6a1.7 1.7 0 1 0 3.4 0a1.7 1.7 0 1 0 -3.4 0M186.4 406.6a1.7 1.7 0 1 0 3.4 0a1.7 1.7 0 1 0 -3.4 0M186.2 428.1a1.7 1.7 0 1 0 3.4 0a1.7 1.7 0 1 0 -3.4 0M186.2 400.4a1.7 1.7 0 1 0 3.4 0a1.7 1.7 0 1 0 -3.4 0M186.5 421.4a1.7 1.7 0 1 0 3.4 0a1.7 1.7 0 1 0 -3.4 0M187.1 400.4a1.7 1.7 0 1 0 3.4 0a1.7 1.7 0 1 0 -3.4 0M187.1 400.5a1.7 1.7 0 1 0 3.4 0a1.7 1.7 0 1 0 -3.4 0M187.3 427.1a1.7 1.7 0 1 0 3.4 0a1.7 1.7 0 1 0 -3.4 0M187 392.9a1.7 1.7 0 1 0 3.4 0a1.7 1.7 0 1 0 -3.4 0M188.1 411.1a1.7 1.7 0 1 0 3.4 0a1.7 1.7 0 1 0 -3.4 0M187.8 406.6a1.7 1.7 0 1 0 3.4 0a1.7 1.7 0 1 0 -3.4 0M187.9 416.2a1.7 1.7 0 1 0 3.4 0a1.7 1.7 0 1 0 -3.4 0M188.1 427.6a1.7 1.7 0 1 0 3.4 0a1.7 1.7 0 1 0 -3.4 0M188.9 412.5a1.7 1.7 0 1 0 3.4 0a1.7 1.7 0 1 0 -3.4 0M188.7 409.3a1.7 1.7 0 1 0 3.4 0a1.7 1.7 0 1 0 -3.4 0M189 406.5a1.7 1.7 0 1 0 3.4 0a1.7 1.7 0 1 0 -3.4 0M189 428.4a1.7 1.7 0 1 0 3.4 0a1.7 1.7 0 1 0 -3.4 0M189.6 408.8a1.7 1.7 0 1 0 3.4 0a1.7 1.7 0 1 0 -3.4 0M189.8 402.4a1.7 1.7 0 1 0 3.4 0a1.7 1.7 0 1 0 -3.4 0M189.6 412.3a1.7 1.7 0 1 0 3.4 0a1.7 1.7 0 1 0 -3.4 0M189.8 405.8a1.7 1.7 0 1 0 3.4 0a1.7 1.7 0 1 0 -3.4 0M190.4 404.8a1.7 1.7 0 1 0 3.4 0a1.7 1.7 0 1 0 -3.4 0M190.5 401.6a1.7 1.7 0 1 0 3.4 0a1.7 1.7 0 1 0 -3.4 0M190.6 408.7a1.7 1.7 0 1 0 3.4 0a1.7 1.7 0 1 0 -3.4 0M190.2 403.5a1.7 1.7 0 1 0 3.4 0a1.7 1.7 0 1 0 -3.4 0M190.3 398.3a1.7 1.7 0 1 0 3.4 0a1.7 1.7 0 1 0 -3.4 0M191.3 395.1a1.7 1.7 0 1 0 3.4 0a1.7 1.7 0 1 0 -3.4 0M191.2 404.9a1.7 1.7 0 1 0 3.4 0a1.7 1.7 0 1 0 -3.4 0M191.1 392a1.7 1.7 0 1 0 3.4 0a1.7 1.7 0 1 0 -3.4 0M191.3 400.6a1.7 1.7 0 1 0 3.4 0a1.7 1.7 0 1 0 -3.4 0M191.3 392.4a1.7 1.7 0 1 0 3.4 0a1.7 1.7 0 1 0 -3.4 0M192.2 407.4a1.7 1.7 0 1 0 3.4 0a1.7 1.7 0 1 0 -3.4 0M192.2 417.2a1.7 1.7 0 1 0 3.4 0a1.7 1.7 0 1 0 -3.4 0M191.9 397.3a1.7 1.7 0 1 0 3.4 0a1.7 1.7 0 1 0 -3.4 0M191.9 383.7a1.7 1.7 0 1 0 3.4 0a1.7 1.7 0 1 0 -3.4 0M192.6 415.4a1.7 1.7 0 1 0 3.4 0a1.7 1.7 0 1 0 -3.4 0M192.9 421a1.7 1.7 0 1 0 3.4 0a1.7 1.7 0 1 0 -3.4 0M192.6 417.2a1.7 1.7 0 1 0 3.4 0a1.7 1.7 0 1 0 -3.4 0M192.8 438.2a1.7 1.7 0 1 0 3.4 0a1.7 1.7 0 1 0 -3.4 0M192.9 404a1.7 1.7 0 1 0 3.4 0a1.7 1.7 0 1 0 -3.4 0M193.8 423.1a1.7 1.7 0 1 0 3.4 0a1.7 1.7 0 1 0 -3.4 0M193.6 433.4a1.7 1.7 0 1 0 3.4 0a1.7 1.7 0 1 0 -3.4 0M193.4 433.3a1.7 1.7 0 1 0 3.4 0a1.7 1.7 0 1 0 -3.4 0M193.6 412.6a1.7 1.7 0 1 0 3.4 0a1.7 1.7 0 1 0 -3.4 0M193.6 418.4a1.7 1.7 0 1 0 3.4 0a1.7 1.7 0 1 0 -3.4 0M194.6 422.3a1.7 1.7 0 1 0 3.4 0a1.7 1.7 0 1 0 -3.4 0M194.2 421.9a1.7 1.7 0 1 0 3.4 0a1.7 1.7 0 1 0 -3.4 0M194.5 428.1a1.7 1.7 0 1 0 3.4 0a1.7 1.7 0 1 0 -3.4 0M194.2 410.6a1.7 1.7 0 1 0 3.4 0a1.7 1.7 0 1 0 -3.4 0M195 394.2a1.7 1.7 0 1 0 3.4 0a1.7 1.7 0 1 0 -3.4 0M195 454.9a1.7 1.7 0 1 0 3.4 0a1.7 1.7 0 1 0 -3.4 0M195 441.3a1.7 1.7 0 1 0 3.4 0a1.7 1.7 0 1 0 -3.4 0M195 432.3a1.7 1.7 0 1 0 3.4 0a1.7 1.7 0 1 0 -3.4 0M195.8 446.7a1.7 1.7 0 1 0 3.4 0a1.7 1.7 0 1 0 -3.4 0M195.8 439.3a1.7 1.7 0 1 0 3.4 0a1.7 1.7 0 1 0 -3.4 0M196.2 439.5a1.7 1.7 0 1 0 3.4 0a1.7 1.7 0 1 0 -3.4 0M196 424a1.7 1.7 0 1 0 3.4 0a1.7 1.7 0 1 0 -3.4 0M196.9 416.5a1.7 1.7 0 1 0 3.4 0a1.7 1.7 0 1 0 -3.4 0M196.8 419.8a1.7 1.7 0 1 0 3.4 0a1.7 1.7 0 1 0 -3.4 0M196.8 456.9a1.7 1.7 0 1 0 3.4 0a1.7 1.7 0 1 0 -3.4 0M197 447.4a1.7 1.7 0 1 0 3.4 0a1.7 1.7 0 1 0 -3.4 0M196.8 438.8a1.7 1.7 0 1 0 3.4 0a1.7 1.7 0 1 0 -3.4 0M197.8 443.9a1.7 1.7 0 1 0 3.4 0a1.7 1.7 0 1 0 -3.4 0M197.4 448.7a1.7 1.7 0 1 0 3.4 0a1.7 1.7 0 1 0 -3.4 0M197.4 427.1a1.7 1.7 0 1 0 3.4 0a1.7 1.7 0 1 0 -3.4 0M197.6 439.7a1.7 1.7 0 1 0 3.4 0a1.7 1.7 0 1 0 -3.4 0M197.7 450.5a1.7 1.7 0 1 0 3.4 0a1.7 1.7 0 1 0 -3.4 0M198.4 444.2a1.7 1.7 0 1 0 3.4 0a1.7 1.7 0 1 0 -3.4 0M198.4 448.4a1.7 1.7 0 1 0 3.4 0a1.7 1.7 0 1 0 -3.4 0M198.2 478.3a1.7 1.7 0 1 0 3.4 0a1.7 1.7 0 1 0 -3.4 0M198.4 441a1.7 1.7 0 1 0 3.4 0a1.7 1.7 0 1 0 -3.4 0M199.1 446.4a1.7 1.7 0 1 0 3.4 0a1.7 1.7 0 1 0 -3.4 0M199.2 431.3a1.7 1.7 0 1 0 3.4 0a1.7 1.7 0 1 0 -3.4 0M199.3 451.9a1.7 1.7 0 1 0 3.4 0a1.7 1.7 0 1 0 -3.4 0M199.2 457.2a1.7 1.7 0 1 0 3.4 0a1.7 1.7 0 1 0 -3.4 0M199.8 454.8a1.7 1.7 0 1 0 3.4 0a1.7 1.7 0 1 0 -3.4 0M199.9 451.8a1.7 1.7 0 1 0 3.4 0a1.7 1.7 0 1 0 -3.4 0M200.1 456.7a1.7 1.7 0 1 0 3.4 0a1.7 1.7 0 1 0 -3.4 0M200.2 443.8a1.7 1.7 0 1 0 3.4 0a1.7 1.7 0 1 0 -3.4 0M200.8 437.1a1.7 1.7 0 1 0 3.4 0a1.7 1.7 0 1 0 -3.4 0M200.7 455.4a1.7 1.7 0 1 0 3.4 0a1.7 1.7 0 1 0 -3.4 0M200.9 452a1.7 1.7 0 1 0 3.4 0a1.7 1.7 0 1 0 -3.4 0M200.8 449.3a1.7 1.7 0 1 0 3.4 0a1.7 1.7 0 1 0 -3.4 0M201.6 449.8a1.7 1.7 0 1 0 3.4 0a1.7 1.7 0 1 0 -3.4 0M201.6 451a1.7 1.7 0 1 0 3.4 0a1.7 1.7 0 1 0 -3.4 0M201.6 468.6a1.7 1.7 0 1 0 3.4 0a1.7 1.7 0 1 0 -3.4 0M201.8 462.4a1.7 1.7 0 1 0 3.4 0a1.7 1.7 0 1 0 -3.4 0M201.5 452.2a1.7 1.7 0 1 0 3.4 0a1.7 1.7 0 1 0 -3.4 0M202.3 469.8a1.7 1.7 0 1 0 3.4 0a1.7 1.7 0 1 0 -3.4 0M202.2 454.7a1.7 1.7 0 1 0 3.4 0a1.7 1.7 0 1 0 -3.4 0M202.2 472.2a1.7 1.7 0 1 0 3.4 0a1.7 1.7 0 1 0 -3.4 0M202.4 445.7a1.7 1.7 0 1 0 3.4 0a1.7 1.7 0 1 0 -3.4 0M203.1 476.5a1.7 1.7 0 1 0 3.4 0a1.7 1.7 0 1 0 -3.4 0M203.2 478.5a1.7 1.7 0 1 0 3.4 0a1.7 1.7 0 1 0 -3.4 0M203.4 460a1.7 1.7 0 1 0 3.4 0a1.7 1.7 0 1 0 -3.4 0M203.4 458.3a1.7 1.7 0 1 0 3.4 0a1.7 1.7 0 1 0 -3.4 0M204.1 462.7a1.7 1.7 0 1 0 3.4 0a1.7 1.7 0 1 0 -3.4 0M204.2 472.3a1.7 1.7 0 1 0 3.4 0a1.7 1.7 0 1 0 -3.4 0M204.1 457.7a1.7 1.7 0 1 0 3.4 0a1.7 1.7 0 1 0 -3.4 0M203.9 460.7a1.7 1.7 0 1 0 3.4 0a1.7 1.7 0 1 0 -3.4 0M204.7 447a1.7 1.7 0 1 0 3.4 0a1.7 1.7 0 1 0 -3.4 0M205 447a1.7 1.7 0 1 0 3.4 0a1.7 1.7 0 1 0 -3.4 0M204.8 448.8a1.7 1.7 0 1 0 3.4 0a1.7 1.7 0 1 0 -3.4 0M204.7 451.1a1.7 1.7 0 1 0 3.4 0a1.7 1.7 0 1 0 -3.4 0M204.9 468.1a1.7 1.7 0 1 0 3.4 0a1.7 1.7 0 1 0 -3.4 0M205.5 446.2a1.7 1.7 0 1 0 3.4 0a1.7 1.7 0 1 0 -3.4 0M205.8 455.4a1.7 1.7 0 1 0 3.4 0a1.7 1.7 0 1 0 -3.4 0M205.8 455.3a1.7 1.7 0 1 0 3.4 0a1.7 1.7 0 1 0 -3.4 0M205.5 466.7a1.7 1.7 0 1 0 3.4 0a1.7 1.7 0 1 0 -3.4 0M206.6 450.9a1.7 1.7 0 1 0 3.4 0a1.7 1.7 0 1 0 -3.4 0M206.6 449.2a1.7 1.7 0 1 0 3.4 0a1.7 1.7 0 1 0 -3.4 0M206.3 435.1a1.7 1.7 0 1 0 3.4 0a1.7 1.7 0 1 0 -3.4 0M206.4 460.8a1.7 1.7 0 1 0 3.4 0a1.7 1.7 0 1 0 -3.4 0M207 451.6a1.7 1.7 0 1 0 3.4 0a1.7 1.7 0 1 0 -3.4 0M207.1 443.8a1.7 1.7 0 1 0 3.4 0a1.7 1.7 0 1 0 -3.4 0M207 451a1.7 1.7 0 1 0 3.4 0a1.7 1.7 0 1 0 -3.4 0M207.1 446.2a1.7 1.7 0 1 0 3.4 0a1.7 1.7 0 1 0 -3.4 0M207.8 441.3a1.7 1.7 0 1 0 3.4 0a1.7 1.7 0 1 0 -3.4 0M207.8 452.4a1.7 1.7 0 1 0 3.4 0a1.7 1.7 0 1 0 -3.4 0M208.2 430.2a1.7 1.7 0 1 0 3.4 0a1.7 1.7 0 1 0 -3.4 0M208 440.5a1.7 1.7 0 1 0 3.4 0a1.7 1.7 0 1 0 -3.4 0M208.6 428.3a1.7 1.7 0 1 0 3.4 0a1.7 1.7 0 1 0 -3.4 0M209 439.6a1.7 1.7 0 1 0 3.4 0a1.7 1.7 0 1 0 -3.4 0M208.6 444.2a1.7 1.7 0 1 0 3.4 0a1.7 1.7 0 1 0 -3.4 0M209 443.9a1.7 1.7 0 1 0 3.4 0a1.7 1.7 0 1 0 -3.4 0M209 424.2a1.7 1.7 0 1 0 3.4 0a1.7 1.7 0 1 0 -3.4 0M209.4 436.2a1.7 1.7 0 1 0 3.4 0a1.7 1.7 0 1 0 -3.4 0M209.7 429.1a1.7 1.7 0 1 0 3.4 0a1.7 1.7 0 1 0 -3.4 0M209.7 415.9a1.7 1.7 0 1 0 3.4 0a1.7 1.7 0 1 0 -3.4 0M209.5 432.7a1.7 1.7 0 1 0 3.4 0a1.7 1.7 0 1 0 -3.4 0M210.6 425.9a1.7 1.7 0 1 0 3.4 0a1.7 1.7 0 1 0 -3.4 0M210.2 426.2a1.7 1.7 0 1 0 3.4 0a1.7 1.7 0 1 0 -3.4 0M210.4 437.9a1.7 1.7 0 1 0 3.4 0a1.7 1.7 0 1 0 -3.4 0M210.3 427.7a1.7 1.7 0 1 0 3.4 0a1.7 1.7 0 1 0 -3.4 0M211.2 432a1.7 1.7 0 1 0 3.4 0a1.7 1.7 0 1 0 -3.4 0M211 434.3a1.7 1.7 0 1 0 3.4 0a1.7 1.7 0 1 0 -3.4 0M211.1 451.2a1.7 1.7 0 1 0 3.4 0a1.7 1.7 0 1 0 -3.4 0M211.3 432.8a1.7 1.7 0 1 0 3.4 0a1.7 1.7 0 1 0 -3.4 0M212.1 422.5a1.7 1.7 0 1 0 3.4 0a1.7 1.7 0 1 0 -3.4 0M211.9 441.3a1.7 1.7 0 1 0 3.4 0a1.7 1.7 0 1 0 -3.4 0M212.1 433.3a1.7 1.7 0 1 0 3.4 0a1.7 1.7 0 1 0 -3.4 0M212 433.5a1.7 1.7 0 1 0 3.4 0a1.7 1.7 0 1 0 -3.4 0M212.7 431.9a1.7 1.7 0 1 0 3.4 0a1.7 1.7 0 1 0 -3.4 0M212.6 452.4a1.7 1.7 0 1 0 3.4 0a1.7 1.7 0 1 0 -3.4 0M213 414.1a1.7 1.7 0 1 0 3.4 0a1.7 1.7 0 1 0 -3.4 0M212.7 418.7a1.7 1.7 0 1 0 3.4 0a1.7 1.7 0 1 0 -3.4 0M213.4 436.7a1.7 1.7 0 1 0 3.4 0a1.7 1.7 0 1 0 -3.4 0M213.7 460.9a1.7 1.7 0 1 0 3.4 0a1.7 1.7 0 1 0 -3.4 0M213.7 427a1.7 1.7 0 1 0 3.4 0a1.7 1.7 0 1 0 -3.4 0M213.8 425.2a1.7 1.7 0 1 0 3.4 0a1.7 1.7 0 1 0 -3.4 0M214.3 444.6a1.7 1.7 0 1 0 3.4 0a1.7 1.7 0 1 0 -3.4 0M214.6 414.3a1.7 1.7 0 1 0 3.4 0a1.7 1.7 0 1 0 -3.4 0M214.4 451.6a1.7 1.7 0 1 0 3.4 0a1.7 1.7 0 1 0 -3.4 0M214.2 442.7a1.7 1.7 0 1 0 3.4 0a1.7 1.7 0 1 0 -3.4 0M215 430.9a1.7 1.7 0 1 0 3.4 0a1.7 1.7 0 1 0 -3.4 0M215.2 455.2a1.7 1.7 0 1 0 3.4 0a1.7 1.7 0 1 0 -3.4 0M215 433a1.7 1.7 0 1 0 3.4 0a1.7 1.7 0 1 0 -3.4 0M215.4 422.4a1.7 1.7 0 1 0 3.4 0a1.7 1.7 0 1 0 -3.4 0M216.2 419.3a1.7 1.7 0 1 0 3.4 0a1.7 1.7 0 1 0 -3.4 0M215.8 427.1a1.7 1.7 0 1 0 3.4 0a1.7 1.7 0 1 0 -3.4 0M216.1 434a1.7 1.7 0 1 0 3.4 0a1.7 1.7 0 1 0 -3.4 0M215.9 436a1.7 1.7 0 1 0 3.4 0a1.7 1.7 0 1 0 -3.4 0M216.2 427.8a1.7 1.7 0 1 0 3.4 0a1.7 1.7 0 1 0 -3.4 0M216.8 428.3a1.7 1.7 0 1 0 3.4 0a1.7 1.7 0 1 0 -3.4 0M216.8 428.5a1.7 1.7 0 1 0 3.4 0a1.7 1.7 0 1 0 -3.4 0M216.7 428a1.7 1.7 0 1 0 3.4 0a1.7 1.7 0 1 0 -3.4 0M216.8 454.6a1.7 1.7 0 1 0 3.4 0a1.7 1.7 0 1 0 -3.4 0M217.6 449.1a1.7 1.7 0 1 0 3.4 0a1.7 1.7 0 1 0 -3.4 0M217.5 434.4a1.7 1.7 0 1 0 3.4 0a1.7 1.7 0 1 0 -3.4 0M217.4 412.5a1.7 1.7 0 1 0 3.4 0a1.7 1.7 0 1 0 -3.4 0M217.8 436.9a1.7 1.7 0 1 0 3.4 0a1.7 1.7 0 1 0 -3.4 0M218.3 429.6a1.7 1.7 0 1 0 3.4 0a1.7 1.7 0 1 0 -3.4 0M218.5 430.7a1.7 1.7 0 1 0 3.4 0a1.7 1.7 0 1 0 -3.4 0M218.5 397.9a1.7 1.7 0 1 0 3.4 0a1.7 1.7 0 1 0 -3.4 0M218.3 410.3a1.7 1.7 0 1 0 3.4 0a1.7 1.7 0 1 0 -3.4 0M219.4 430.7a1.7 1.7 0 1 0 3.4 0a1.7 1.7 0 1 0 -3.4 0M219.4 406.3a1.7 1.7 0 1 0 3.4 0a1.7 1.7 0 1 0 -3.4 0M219.4 401.8a1.7 1.7 0 1 0 3.4 0a1.7 1.7 0 1 0 -3.4 0M219.3 406.6a1.7 1.7 0 1 0 3.4 0a1.7 1.7 0 1 0 -3.4 0M220 420.5a1.7 1.7 0 1 0 3.4 0a1.7 1.7 0 1 0 -3.4 0M219.8 418.8a1.7 1.7 0 1 0 3.4 0a1.7 1.7 0 1 0 -3.4 0M220.2 441.1a1.7 1.7 0 1 0 3.4 0a1.7 1.7 0 1 0 -3.4 0M220 421.8a1.7 1.7 0 1 0 3.4 0a1.7 1.7 0 1 0 -3.4 0M220.7 375.5a1.7 1.7 0 1 0 3.4 0a1.7 1.7 0 1 0 -3.4 0M220.6 411.7a1.7 1.7 0 1 0 3.4 0a1.7 1.7 0 1 0 -3.4 0M220.7 430.1a1.7 1.7 0 1 0 3.4 0a1.7 1.7 0 1 0 -3.4 0M220.9 401a1.7 1.7 0 1 0 3.4 0a1.7 1.7 0 1 0 -3.4 0M221.7 394.3a1.7 1.7 0 1 0 3.4 0a1.7 1.7 0 1 0 -3.4 0M221.5 410.2a1.7 1.7 0 1 0 3.4 0a1.7 1.7 0 1 0 -3.4 0M221.5 428.2a1.7 1.7 0 1 0 3.4 0a1.7 1.7 0 1 0 -3.4 0M221.4 384.2a1.7 1.7 0 1 0 3.4 0a1.7 1.7 0 1 0 -3.4 0M221.8 398.4a1.7 1.7 0 1 0 3.4 0a1.7 1.7 0 1 0 -3.4 0M222.3 407.9a1.7 1.7 0 1 0 3.4 0a1.7 1.7 0 1 0 -3.4 0M222.5 401.4a1.7 1.7 0 1 0 3.4 0a1.7 1.7 0 1 0 -3.4 0M222.3 411.8a1.7 1.7 0 1 0 3.4 0a1.7 1.7 0 1 0 -3.4 0M222.3 390a1.7 1.7 0 1 0 3.4 0a1.7 1.7 0 1 0 -3.4 0M223.1 401.5a1.7 1.7 0 1 0 3.4 0a1.7 1.7 0 1 0 -3.4 0M223 386.8a1.7 1.7 0 1 0 3.4 0a1.7 1.7 0 1 0 -3.4 0M223.1 401.2a1.7 1.7 0 1 0 3.4 0a1.7 1.7 0 1 0 -3.4 0M223.1 415a1.7 1.7 0 1 0 3.4 0a1.7 1.7 0 1 0 -3.4 0M224 398.4a1.7 1.7 0 1 0 3.4 0a1.7 1.7 0 1 0 -3.4 0M224 413.4a1.7 1.7 0 1 0 3.4 0a1.7 1.7 0 1 0 -3.4 0M224 372a1.7 1.7 0 1 0 3.4 0a1.7 1.7 0 1 0 -3.4 0M224 391a1.7 1.7 0 1 0 3.4 0a1.7 1.7 0 1 0 -3.4 0M224.7 422.1a1.7 1.7 0 1 0 3.4 0a1.7 1.7 0 1 0 -3.4 0M224.6 388.9a1.7 1.7 0 1 0 3.4 0a1.7 1.7 0 1 0 -3.4 0M224.8 442.4a1.7 1.7 0 1 0 3.4 0a1.7 1.7 0 1 0 -3.4 0M225 391.9a1.7 1.7 0 1 0 3.4 0a1.7 1.7 0 1 0 -3.4 0M224.9 404.2a1.7 1.7 0 1 0 3.4 0a1.7 1.7 0 1 0 -3.4 0M225.7 395.1a1.7 1.7 0 1 0 3.4 0a1.7 1.7 0 1 0 -3.4 0M225.8 387.7a1.7 1.7 0 1 0 3.4 0a1.7 1.7 0 1 0 -3.4 0M225.8 416.7a1.7 1.7 0 1 0 3.4 0a1.7 1.7 0 1 0 -3.4 0M225.7 410.5a1.7 1.7 0 1 0 3.4 0a1.7 1.7 0 1 0 -3.4 0M226.2 386.2a1.7 1.7 0 1 0 3.4 0a1.7 1.7 0 1 0 -3.4 0M226.5 435.4a1.7 1.7 0 1 0 3.4 0a1.7 1.7 0 1 0 -3.4 0M226.2 405a1.7 1.7 0 1 0 3.4 0a1.7 1.7 0 1 0 -3.4 0M226.4 396a1.7 1.7 0 1 0 3.4 0a1.7 1.7 0 1 0 -3.4 0M226.2 373.3a1.7 1.7 0 1 0 3.4 0a1.7 1.7 0 1 0 -3.4 0M227.4 399.3a1.7 1.7 0 1 0 3.4 0a1.7 1.7 0 1 0 -3.4 0M227.1 394.9a1.7 1.7 0 1 0 3.4 0a1.7 1.7 0 1 0 -3.4 0M227.1 417.2a1.7 1.7 0 1 0 3.4 0a1.7 1.7 0 1 0 -3.4 0M227.4 381.3a1.7 1.7 0 1 0 3.4 0a1.7 1.7 0 1 0 -3.4 0M228.2 418.2a1.7 1.7 0 1 0 3.4 0a1.7 1.7 0 1 0 -3.4 0M228.1 393.5a1.7 1.7 0 1 0 3.4 0a1.7 1.7 0 1 0 -3.4 0M227.9 395a1.7 1.7 0 1 0 3.4 0a1.7 1.7 0 1 0 -3.4 0M228.1 400.7a1.7 1.7 0 1 0 3.4 0a1.7 1.7 0 1 0 -3.4 0M261.8 410.2a1.7 1.7 0 1 0 3.4 0a1.7 1.7 0 1 0 -3.4 0M261.9 405.4a1.7 1.7 0 1 0 3.4 0a1.7 1.7 0 1 0 -3.4 0M261.7 401.3a1.7 1.7 0 1 0 3.4 0a1.7 1.7 0 1 0 -3.4 0M261.9 418.2a1.7 1.7 0 1 0 3.4 0a1.7 1.7 0 1 0 -3.4 0M262.6 420.8a1.7 1.7 0 1 0 3.4 0a1.7 1.7 0 1 0 -3.4 0M262.8 420.9a1.7 1.7 0 1 0 3.4 0a1.7 1.7 0 1 0 -3.4 0M262.5 435.2a1.7 1.7 0 1 0 3.4 0a1.7 1.7 0 1 0 -3.4 0M262.5 405.4a1.7 1.7 0 1 0 3.4 0a1.7 1.7 0 1 0 -3.4 0M263.3 421.5a1.7 1.7 0 1 0 3.4 0a1.7 1.7 0 1 0 -3.4 0M263.4 395.3a1.7 1.7 0 1 0 3.4 0a1.7 1.7 0 1 0 -3.4 0M263.2 411.3a1.7 1.7 0 1 0 3.4 0a1.7 1.7 0 1 0 -3.4 0M263.5 410a1.7 1.7 0 1 0 3.4 0a1.7 1.7 0 1 0 -3.4 0M264.2 415.5a1.7 1.7 0 1 0 3.4 0a1.7 1.7 0 1 0 -3.4 0M264 417.7a1.7 1.7 0 1 0 3.4 0a1.7 1.7 0 1 0 -3.4 0M264.1 458a1.7 1.7 0 1 0 3.4 0a1.7 1.7 0 1 0 -3.4 0M264.2 400.8a1.7 1.7 0 1 0 3.4 0a1.7 1.7 0 1 0 -3.4 0M264.9 408.1a1.7 1.7 0 1 0 3.4 0a1.7 1.7 0 1 0 -3.4 0M264.9 407.6a1.7 1.7 0 1 0 3.4 0a1.7 1.7 0 1 0 -3.4 0M265.2 412.9a1.7 1.7 0 1 0 3.4 0a1.7 1.7 0 1 0 -3.4 0M264.9 414.3a1.7 1.7 0 1 0 3.4 0a1.7 1.7 0 1 0 -3.4 0M265 432.6a1.7 1.7 0 1 0 3.4 0a1.7 1.7 0 1 0 -3.4 0M266 405.3a1.7 1.7 0 1 0 3.4 0a1.7 1.7 0 1 0 -3.4 0M265.6 408.9a1.7 1.7 0 1 0 3.4 0a1.7 1.7 0 1 0 -3.4 0M265.7 417.5a1.7 1.7 0 1 0 3.4 0a1.7 1.7 0 1 0 -3.4 0M265.9 415.5a1.7 1.7 0 1 0 3.4 0a1.7 1.7 0 1 0 -3.4 0M266.7 411.5a1.7 1.7 0 1 0 3.4 0a1.7 1.7 0 1 0 -3.4 0M266.7 425.4a1.7 1.7 0 1 0 3.4 0a1.7 1.7 0 1 0 -3.4 0M266.8 417.8a1.7 1.7 0 1 0 3.4 0a1.7 1.7 0 1 0 -3.4 0M266.6 405.1a1.7 1.7 0 1 0 3.4 0a1.7 1.7 0 1 0 -3.4 0M267.5 381.2a1.7 1.7 0 1 0 3.4 0a1.7 1.7 0 1 0 -3.4 0M267.5 426.8a1.7 1.7 0 1 0 3.4 0a1.7 1.7 0 1 0 -3.4 0M267.2 420.1a1.7 1.7 0 1 0 3.4 0a1.7 1.7 0 1 0 -3.4 0M267.4 417.7a1.7 1.7 0 1 0 3.4 0a1.7 1.7 0 1 0 -3.4 0M268.2 438.4a1.7 1.7 0 1 0 3.4 0a1.7 1.7 0 1 0 -3.4 0M268.4 412.4a1.7 1.7 0 1 0 3.4 0a1.7 1.7 0 1 0 -3.4 0M268.4 385.1a1.7 1.7 0 1 0 3.4 0a1.7 1.7 0 1 0 -3.4 0M268.4 416.9a1.7 1.7 0 1 0 3.4 0a1.7 1.7 0 1 0 -3.4 0M269.1 426.8a1.7 1.7 0 1 0 3.4 0a1.7 1.7 0 1 0 -3.4 0M269 389.7a1.7 1.7 0 1 0 3.4 0a1.7 1.7 0 1 0 -3.4 0M269.1 429.6a1.7 1.7 0 1 0 3.4 0a1.7 1.7 0 1 0 -3.4 0M268.9 396.9a1.7 1.7 0 1 0 3.4 0a1.7 1.7 0 1 0 -3.4 0M269.2 425.9a1.7 1.7 0 1 0 3.4 0a1.7 1.7 0 1 0 -3.4 0M269.8 427.3a1.7 1.7 0 1 0 3.4 0a1.7 1.7 0 1 0 -3.4 0M270 431.4a1.7 1.7 0 1 0 3.4 0a1.7 1.7 0 1 0 -3.4 0M270 427.7a1.7 1.7 0 1 0 3.4 0a1.7 1.7 0 1 0 -3.4 0M269.9 376.2a1.7 1.7 0 1 0 3.4 0a1.7 1.7 0 1 0 -3.4 0M270.8 430.8a1.7 1.7 0 1 0 3.4 0a1.7 1.7 0 1 0 -3.4 0M270.6 421.3a1.7 1.7 0 1 0 3.4 0a1.7 1.7 0 1 0 -3.4 0M270.6 421a1.7 1.7 0 1 0 3.4 0a1.7 1.7 0 1 0 -3.4 0M270.7 447.3a1.7 1.7 0 1 0 3.4 0a1.7 1.7 0 1 0 -3.4 0M271.4 408.9a1.7 1.7 0 1 0 3.4 0a1.7 1.7 0 1 0 -3.4 0M271.2 414.3a1.7 1.7 0 1 0 3.4 0a1.7 1.7 0 1 0 -3.4 0M271.5 427.2a1.7 1.7 0 1 0 3.4 0a1.7 1.7 0 1 0 -3.4 0M271.6 405.7a1.7 1.7 0 1 0 3.4 0a1.7 1.7 0 1 0 -3.4 0M272.2 432.5a1.7 1.7 0 1 0 3.4 0a1.7 1.7 0 1 0 -3.4 0M272.2 426.7a1.7 1.7 0 1 0 3.4 0a1.7 1.7 0 1 0 -3.4 0M272.1 473.4a1.7 1.7 0 1 0 3.4 0a1.7 1.7 0 1 0 -3.4 0M272.4 441.1a1.7 1.7 0 1 0 3.4 0a1.7 1.7 0 1 0 -3.4 0M273 433.5a1.7 1.7 0 1 0 3.4 0a1.7 1.7 0 1 0 -3.4 0M273 442.9a1.7 1.7 0 1 0 3.4 0a1.7 1.7 0 1 0 -3.4 0M273 431.3a1.7 1.7 0 1 0 3.4 0a1.7 1.7 0 1 0 -3.4 0M272.9 437.8a1.7 1.7 0 1 0 3.4 0a1.7 1.7 0 1 0 -3.4 0M273.7 429.4a1.7 1.7 0 1 0 3.4 0a1.7 1.7 0 1 0 -3.4 0M273.9 409.4a1.7 1.7 0 1 0 3.4 0a1.7 1.7 0 1 0 -3.4 0M274 433.8a1.7 1.7 0 1 0 3.4 0a1.7 1.7 0 1 0 -3.4 0M273.8 438.2a1.7 1.7 0 1 0 3.4 0a1.7 1.7 0 1 0 -3.4 0M274.6 427.7a1.7 1.7 0 1 0 3.4 0a1.7 1.7 0 1 0 -3.4 0M274.6 443.8a1.7 1.7 0 1 0 3.4 0a1.7 1.7 0 1 0 -3.4 0M274.4 443.6a1.7 1.7 0 1 0 3.4 0a1.7 1.7 0 1 0 -3.4 0M274.5 430.8a1.7 1.7 0 1 0 3.4 0a1.7 1.7 0 1 0 -3.4 0M275.4 412.1a1.7 1.7 0 1 0 3.4 0a1.7 1.7 0 1 0 -3.4 0M275.6 443.8a1.7 1.7 0 1 0 3.4 0a1.7 1.7 0 1 0 -3.4 0M275.3 442.6a1.7 1.7 0 1 0 3.4 0a1.7 1.7 0 1 0 -3.4 0M275.4 420a1.7 1.7 0 1 0 3.4 0a1.7 1.7 0 1 0 -3.4 0M276.1 445.7a1.7 1.7 0 1 0 3.4 0a1.7 1.7 0 1 0 -3.4 0M276.2 468.4a1.7 1.7 0 1 0 3.4 0a1.7 1.7 0 1 0 -3.4 0M276.3 432.5a1.7 1.7 0 1 0 3.4 0a1.7 1.7 0 1 0 -3.4 0M276 441a1.7 1.7 0 1 0 3.4 0a1.7 1.7 0 1 0 -3.4 0M276.9 438.3a1.7 1.7 0 1 0 3.4 0a1.7 1.7 0 1 0 -3.4 0M277.2 400.1a1.7 1.7 0 1 0 3.4 0a1.7 1.7 0 1 0 -3.4 0M276.8 422.2a1.7 1.7 0 1 0 3.4 0a1.7 1.7 0 1 0 -3.4 0M277 435.4a1.7 1.7 0 1 0 3.4 0a1.7 1.7 0 1 0 -3.4 0M277.7 434.7a1.7 1.7 0 1 0 3.4 0a1.7 1.7 0 1 0 -3.4 0M277.6 431.8a1.7 1.7 0 1 0 3.4 0a1.7 1.7 0 1 0 -3.4 0M277.8 445.8a1.7 1.7 0 1 0 3.4 0a1.7 1.7 0 1 0 -3.4 0M277.9 426.2a1.7 1.7 0 1 0 3.4 0a1.7 1.7 0 1 0 -3.4 0M278.8 446.2a1.7 1.7 0 1 0 3.4 0a1.7 1.7 0 1 0 -3.4 0M278.6 406.8a1.7 1.7 0 1 0 3.4 0a1.7 1.7 0 1 0 -3.4 0M278.4 422.1a1.7 1.7 0 1 0 3.4 0a1.7 1.7 0 1 0 -3.4 0M278.5 410.7a1.7 1.7 0 1 0 3.4 0a1.7 1.7 0 1 0 -3.4 0M278.8 428.6a1.7 1.7 0 1 0 3.4 0a1.7 1.7 0 1 0 -3.4 0M279.4 424.2a1.7 1.7 0 1 0 3.4 0a1.7 1.7 0 1 0 -3.4 0M279.6 418.6a1.7 1.7 0 1 0 3.4 0a1.7 1.7 0 1 0 -3.4 0M279.6 450.5a1.7 1.7 0 1 0 3.4 0a1.7 1.7 0 1 0 -3.4 0M279.3 429.4a1.7 1.7 0 1 0 3.4 0a1.7 1.7 0 1 0 -3.4 0M279.6 444a1.7 1.7 0 1 0 3.4 0a1.7 1.7 0 1 0 -3.4 0M280.2 428.2a1.7 1.7 0 1 0 3.4 0a1.7 1.7 0 1 0 -3.4 0M280.2 425.7a1.7 1.7 0 1 0 3.4 0a1.7 1.7 0 1 0 -3.4 0M280 409.7a1.7 1.7 0 1 0 3.4 0a1.7 1.7 0 1 0 -3.4 0M280.3 418.4a1.7 1.7 0 1 0 3.4 0a1.7 1.7 0 1 0 -3.4 0M280 442.3a1.7 1.7 0 1 0 3.4 0a1.7 1.7 0 1 0 -3.4 0M280.9 427.4a1.7 1.7 0 1 0 3.4 0a1.7 1.7 0 1 0 -3.4 0M281.2 384.1a1.7 1.7 0 1 0 3.4 0a1.7 1.7 0 1 0 -3.4 0M280.8 429.4a1.7 1.7 0 1 0 3.4 0a1.7 1.7 0 1 0 -3.4 0M281.1 394.6a1.7 1.7 0 1 0 3.4 0a1.7 1.7 0 1 0 -3.4 0M281.1 426.2a1.7 1.7 0 1 0 3.4 0a1.7 1.7 0 1 0 -3.4 0M282 434.1a1.7 1.7 0 1 0 3.4 0a1.7 1.7 0 1 0 -3.4 0M281.9 421.3a1.7 1.7 0 1 0 3.4 0a1.7 1.7 0 1 0 -3.4 0M281.6 427.5a1.7 1.7 0 1 0 3.4 0a1.7 1.7 0 1 0 -3.4 0M281.8 421.7a1.7 1.7 0 1 0 3.4 0a1.7 1.7 0 1 0 -3.4 0M282.7 408a1.7 1.7 0 1 0 3.4 0a1.7 1.7 0 1 0 -3.4 0M282.8 385.8a1.7 1.7 0 1 0 3.4 0a1.7 1.7 0 1 0 -3.4 0M282.5 418.1a1.7 1.7 0 1 0 3.4 0a1.7 1.7 0 1 0 -3.4 0M282.4 427a1.7 1.7 0 1 0 3.4 0a1.7 1.7 0 1 0 -3.4 0M283.5 426.1a1.7 1.7 0 1 0 3.4 0a1.7 1.7 0 1 0 -3.4 0M283.3 425.4a1.7 1.7 0 1 0 3.4 0a1.7 1.7 0 1 0 -3.4 0M283.6 393.1a1.7 1.7 0 1 0 3.4 0a1.7 1.7 0 1 0 -3.4 0M283.2 393.5a1.7 1.7 0 1 0 3.4 0a1.7 1.7 0 1 0 -3.4 0M284 412.4a1.7 1.7 0 1 0 3.4 0a1.7 1.7 0 1 0 -3.4 0M284 412.2a1.7 1.7 0 1 0 3.4 0a1.7 1.7 0 1 0 -3.4 0M284.4 425.4a1.7 1.7 0 1 0 3.4 0a1.7 1.7 0 1 0 -3.4 0M284.1 415a1.7 1.7 0 1 0 3.4 0a1.7 1.7 0 1 0 -3.4 0M284.4 424.7a1.7 1.7 0 1 0 3.4 0a1.7 1.7 0 1 0 -3.4 0M284.9 405.5a1.7 1.7 0 1 0 3.4 0a1.7 1.7 0 1 0 -3.4 0M284.9 405.9a1.7 1.7 0 1 0 3.4 0a1.7 1.7 0 1 0 -3.4 0M285 386.9a1.7 1.7 0 1 0 3.4 0a1.7 1.7 0 1 0 -3.4 0M285.1 442.8a1.7 1.7 0 1 0 3.4 0a1.7 1.7 0 1 0 -3.4 0M285.6 424.2a1.7 1.7 0 1 0 3.4 0a1.7 1.7 0 1 0 -3.4 0M285.6 423.8a1.7 1.7 0 1 0 3.4 0a1.7 1.7 0 1 0 -3.4 0M286 397.8a1.7 1.7 0 1 0 3.4 0a1.7 1.7 0 1 0 -3.4 0M285.6 410.8a1.7 1.7 0 1 0 3.4 0a1.7 1.7 0 1 0 -3.4 0M286 431.4a1.7 1.7 0 1 0 3.4 0a1.7 1.7 0 1 0 -3.4 0M286.5 422.8a1.7 1.7 0 1 0 3.4 0a1.7 1.7 0 1 0 -3.4 0M286.7 438.1a1.7 1.7 0 1 0 3.4 0a1.7 1.7 0 1 0 -3.4 0M286.4 428.8a1.7 1.7 0 1 0 3.4 0a1.7 1.7 0 1 0 -3.4 0M286.6 436.5a1.7 1.7 0 1 0 3.4 0a1.7 1.7 0 1 0 -3.4 0M287.4 414.7a1.7 1.7 0 1 0 3.4 0a1.7 1.7 0 1 0 -3.4 0M287.6 445.6a1.7 1.7 0 1 0 3.4 0a1.7 1.7 0 1 0 -3.4 0M287.6 406.3a1.7 1.7 0 1 0 3.4 0a1.7 1.7 0 1 0 -3.4 0M287.4 432.7a1.7 1.7 0 1 0 3.4 0a1.7 1.7 0 1 0 -3.4 0M288.1 410.9a1.7 1.7 0 1 0 3.4 0a1.7 1.7 0 1 0 -3.4 0M288.3 439a1.7 1.7 0 1 0 3.4 0a1.7 1.7 0 1 0 -3.4 0M288.1 414.9a1.7 1.7 0 1 0 3.4 0a1.7 1.7 0 1 0 -3.4 0M288.4 440a1.7 1.7 0 1 0 3.4 0a1.7 1.7 0 1 0 -3.4 0M288.1 422.1a1.7 1.7 0 1 0 3.4 0a1.7 1.7 0 1 0 -3.4 0M288.8 436.8a1.7 1.7 0 1 0 3.4 0a1.7 1.7 0 1 0 -3.4 0M288.9 444.9a1.7 1.7 0 1 0 3.4 0a1.7 1.7 0 1 0 -3.4 0M289 421a1.7 1.7 0 1 0 3.4 0a1.7 1.7 0 1 0 -3.4 0M289.2 449.8a1.7 1.7 0 1 0 3.4 0a1.7 1.7 0 1 0 -3.4 0M289.7 469.6a1.7 1.7 0 1 0 3.4 0a1.7 1.7 0 1 0 -3.4 0M289.6 431.5a1.7 1.7 0 1 0 3.4 0a1.7 1.7 0 1 0 -3.4 0M289.8 416.7a1.7 1.7 0 1 0 3.4 0a1.7 1.7 0 1 0 -3.4 0M289.7 464a1.7 1.7 0 1 0 3.4 0a1.7 1.7 0 1 0 -3.4 0M290.7 437.8a1.7 1.7 0 1 0 3.4 0a1.7 1.7 0 1 0 -3.4 0M290.5 449.7a1.7 1.7 0 1 0 3.4 0a1.7 1.7 0 1 0 -3.4 0M290.6 441.9a1.7 1.7 0 1 0 3.4 0a1.7 1.7 0 1 0 -3.4 0M290.8 446.2a1.7 1.7 0 1 0 3.4 0a1.7 1.7 0 1 0 -3.4 0M291.5 406.1a1.7 1.7 0 1 0 3.4 0a1.7 1.7 0 1 0 -3.4 0M291.3 446.1a1.7 1.7 0 1 0 3.4 0a1.7 1.7 0 1 0 -3.4 0M291.6 399.2a1.7 1.7 0 1 0 3.4 0a1.7 1.7 0 1 0 -3.4 0M291.3 457.8a1.7 1.7 0 1 0 3.4 0a1.7 1.7 0 1 0 -3.4 0M292.2 432.3a1.7 1.7 0 1 0 3.4 0a1.7 1.7 0 1 0 -3.4 0M292.1 443.7a1.7 1.7 0 1 0 3.4 0a1.7 1.7 0 1 0 -3.4 0M292.1 469.9a1.7 1.7 0 1 0 3.4 0a1.7 1.7 0 1 0 -3.4 0M292.1 444.2a1.7 1.7 0 1 0 3.4 0a1.7 1.7 0 1 0 -3.4 0M292.8 455.3a1.7 1.7 0 1 0 3.4 0a1.7 1.7 0 1 0 -3.4 0M292.9 447.7a1.7 1.7 0 1 0 3.4 0a1.7 1.7 0 1 0 -3.4 0M293.2 465.4a1.7 1.7 0 1 0 3.4 0a1.7 1.7 0 1 0 -3.4 0M292.8 475.1a1.7 1.7 0 1 0 3.4 0a1.7 1.7 0 1 0 -3.4 0M294 461.9a1.7 1.7 0 1 0 3.4 0a1.7 1.7 0 1 0 -3.4 0M293.6 461a1.7 1.7 0 1 0 3.4 0a1.7 1.7 0 1 0 -3.4 0M293.6 457.8a1.7 1.7 0 1 0 3.4 0a1.7 1.7 0 1 0 -3.4 0M293.6 454.9a1.7 1.7 0 1 0 3.4 0a1.7 1.7 0 1 0 -3.4 0M294.5 461.2a1.7 1.7 0 1 0 3.4 0a1.7 1.7 0 1 0 -3.4 0M294.4 450.3a1.7 1.7 0 1 0 3.4 0a1.7 1.7 0 1 0 -3.4 0M294.4 450.7a1.7 1.7 0 1 0 3.4 0a1.7 1.7 0 1 0 -3.4 0M294.6 468.4a1.7 1.7 0 1 0 3.4 0a1.7 1.7 0 1 0 -3.4 0M295.5 434.6a1.7 1.7 0 1 0 3.4 0a1.7 1.7 0 1 0 -3.4 0M295.5 443.7a1.7 1.7 0 1 0 3.4 0a1.7 1.7 0 1 0 -3.4 0M295.4 453.6a1.7 1.7 0 1 0 3.4 0a1.7 1.7 0 1 0 -3.4 0M295.2 466.6a1.7 1.7 0 1 0 3.4 0a1.7 1.7 0 1 0 -3.4 0M295.6 445.9a1.7 1.7 0 1 0 3.4 0a1.7 1.7 0 1 0 -3.4 0M296.1 441.1a1.7 1.7 0 1 0 3.4 0a1.7 1.7 0 1 0 -3.4 0M296.3 440.8a1.7 1.7 0 1 0 3.4 0a1.7 1.7 0 1 0 -3.4 0M296.1 424.4a1.7 1.7 0 1 0 3.4 0a1.7 1.7 0 1 0 -3.4 0M296.2 442a1.7 1.7 0 1 0 3.4 0a1.7 1.7 0 1 0 -3.4 0M297.2 438.7a1.7 1.7 0 1 0 3.4 0a1.7 1.7 0 1 0 -3.4 0M297.1 433.2a1.7 1.7 0 1 0 3.4 0a1.7 1.7 0 1 0 -3.4 0M296.8 435.5a1.7 1.7 0 1 0 3.4 0a1.7 1.7 0 1 0 -3.4 0M296.8 433a1.7 1.7 0 1 0 3.4 0a1.7 1.7 0 1 0 -3.4 0M297.8 421.6a1.7 1.7 0 1 0 3.4 0a1.7 1.7 0 1 0 -3.4 0M297.9 438.1a1.7 1.7 0 1 0 3.4 0a1.7 1.7 0 1 0 -3.4 0M297.7 416.2a1.7 1.7 0 1 0 3.4 0a1.7 1.7 0 1 0 -3.4 0M297.8 421.1a1.7 1.7 0 1 0 3.4 0a1.7 1.7 0 1 0 -3.4 0M298.4 416.6a1.7 1.7 0 1 0 3.4 0a1.7 1.7 0 1 0 -3.4 0M298.4 439.7a1.7 1.7 0 1 0 3.4 0a1.7 1.7 0 1 0 -3.4 0M298.6 387.2a1.7 1.7 0 1 0 3.4 0a1.7 1.7 0 1 0 -3.4 0M298.4 418.1a1.7 1.7 0 1 0 3.4 0a1.7 1.7 0 1 0 -3.4 0M299.2 423.9a1.7 1.7 0 1 0 3.4 0a1.7 1.7 0 1 0 -3.4 0M299.2 462.5a1.7 1.7 0 1 0 3.4 0a1.7 1.7 0 1 0 -3.4 0M299.5 422.6a1.7 1.7 0 1 0 3.4 0a1.7 1.7 0 1 0 -3.4 0M299.5 437.7a1.7 1.7 0 1 0 3.4 0a1.7 1.7 0 1 0 -3.4 0M300.4 455.1a1.7 1.7 0 1 0 3.4 0a1.7 1.7 0 1 0 -3.4 0M300.2 447.1a1.7 1.7 0 1 0 3.4 0a1.7 1.7 0 1 0 -3.4 0M300.4 430.6a1.7 1.7 0 1 0 3.4 0a1.7 1.7 0 1 0 -3.4 0M300.4 447.3a1.7 1.7 0 1 0 3.4 0a1.7 1.7 0 1 0 -3.4 0M300.8 437a1.7 1.7 0 1 0 3.4 0a1.7 1.7 0 1 0 -3.4 0M301.2 440a1.7 1.7 0 1 0 3.4 0a1.7 1.7 0 1 0 -3.4 0M301 446.9a1.7 1.7 0 1 0 3.4 0a1.7 1.7 0 1 0 -3.4 0M300.9 436.3a1.7 1.7 0 1 0 3.4 0a1.7 1.7 0 1 0 -3.4 0M301 446.7a1.7 1.7 0 1 0 3.4 0a1.7 1.7 0 1 0 -3.4 0M301.9 445.8a1.7 1.7 0 1 0 3.4 0a1.7 1.7 0 1 0 -3.4 0M301.8 416.7a1.7 1.7 0 1 0 3.4 0a1.7 1.7 0 1 0 -3.4 0M301.8 437.2a1.7 1.7 0 1 0 3.4 0a1.7 1.7 0 1 0 -3.4 0M301.7 428.8a1.7 1.7 0 1 0 3.4 0a1.7 1.7 0 1 0 -3.4 0M302.6 436.3a1.7 1.7 0 1 0 3.4 0a1.7 1.7 0 1 0 -3.4 0M302.6 469.4a1.7 1.7 0 1 0 3.4 0a1.7 1.7 0 1 0 -3.4 0M302.8 447.5a1.7 1.7 0 1 0 3.4 0a1.7 1.7 0 1 0 -3.4 0M302.8 432.4a1.7 1.7 0 1 0 3.4 0a1.7 1.7 0 1 0 -3.4 0M302.5 441.6a1.7 1.7 0 1 0 3.4 0a1.7 1.7 0 1 0 -3.4 0M303.3 427.6a1.7 1.7 0 1 0 3.4 0a1.7 1.7 0 1 0 -3.4 0M303.2 430.4a1.7 1.7 0 1 0 3.4 0a1.7 1.7 0 1 0 -3.4 0M303.3 441.5a1.7 1.7 0 1 0 3.4 0a1.7 1.7 0 1 0 -3.4 0M303.4 444.7a1.7 1.7 0 1 0 3.4 0a1.7 1.7 0 1 0 -3.4 0M304.3 383.8a1.7 1.7 0 1 0 3.4 0a1.7 1.7 0 1 0 -3.4 0M304.1 442.4a1.7 1.7 0 1 0 3.4 0a1.7 1.7 0 1 0 -3.4 0M304.4 442.4a1.7 1.7 0 1 0 3.4 0a1.7 1.7 0 1 0 -3.4 0M304.2 425.3a1.7 1.7 0 1 0 3.4 0a1.7 1.7 0 1 0 -3.4 0M304.9 431.3a1.7 1.7 0 1 0 3.4 0a1.7 1.7 0 1 0 -3.4 0M305 444.8a1.7 1.7 0 1 0 3.4 0a1.7 1.7 0 1 0 -3.4 0M304.8 411.5a1.7 1.7 0 1 0 3.4 0a1.7 1.7 0 1 0 -3.4 0M305.1 449.9a1.7 1.7 0 1 0 3.4 0a1.7 1.7 0 1 0 -3.4 0M305.9 421.7a1.7 1.7 0 1 0 3.4 0a1.7 1.7 0 1 0 -3.4 0M306 432.9a1.7 1.7 0 1 0 3.4 0a1.7 1.7 0 1 0 -3.4 0M305.6 409.1a1.7 1.7 0 1 0 3.4 0a1.7 1.7 0 1 0 -3.4 0M305.7 416.8a1.7 1.7 0 1 0 3.4 0a1.7 1.7 0 1 0 -3.4 0M306.4 446.1a1.7 1.7 0 1 0 3.4 0a1.7 1.7 0 1 0 -3.4 0M306.7 441.7a1.7 1.7 0 1 0 3.4 0a1.7 1.7 0 1 0 -3.4 0M306.5 432.1a1.7 1.7 0 1 0 3.4 0a1.7 1.7 0 1 0 -3.4 0M306.7 441.4a1.7 1.7 0 1 0 3.4 0a1.7 1.7 0 1 0 -3.4 0M307.4 437.8a1.7 1.7 0 1 0 3.4 0a1.7 1.7 0 1 0 -3.4 0M307.2 411.8a1.7 1.7 0 1 0 3.4 0a1.7 1.7 0 1 0 -3.4 0M307.2 434.6a1.7 1.7 0 1 0 3.4 0a1.7 1.7 0 1 0 -3.4 0M307.3 424.5a1.7 1.7 0 1 0 3.4 0a1.7 1.7 0 1 0 -3.4 0M308 421.4a1.7 1.7 0 1 0 3.4 0a1.7 1.7 0 1 0 -3.4 0M308.2 439.3a1.7 1.7 0 1 0 3.4 0a1.7 1.7 0 1 0 -3.4 0M308.3 445.1a1.7 1.7 0 1 0 3.4 0a1.7 1.7 0 1 0 -3.4 0M308.2 426.8a1.7 1.7 0 1 0 3.4 0a1.7 1.7 0 1 0 -3.4 0M309 422.8a1.7 1.7 0 1 0 3.4 0a1.7 1.7 0 1 0 -3.4 0M309.2 408.2a1.7 1.7 0 1 0 3.4 0a1.7 1.7 0 1 0 -3.4 0M309.1 440.4a1.7 1.7 0 1 0 3.4 0a1.7 1.7 0 1 0 -3.4 0M308.9 420.4a1.7 1.7 0 1 0 3.4 0a1.7 1.7 0 1 0 -3.4 0M309.8 447.1a1.7 1.7 0 1 0 3.4 0a1.7 1.7 0 1 0 -3.4 0M309.6 428.2a1.7 1.7 0 1 0 3.4 0a1.7 1.7 0 1 0 -3.4 0M309.7 439.3a1.7 1.7 0 1 0 3.4 0a1.7 1.7 0 1 0 -3.4 0M309.8 455.7a1.7 1.7 0 1 0 3.4 0a1.7 1.7 0 1 0 -3.4 0M310.7 421.6a1.7 1.7 0 1 0 3.4 0a1.7 1.7 0 1 0 -3.4 0M310.7 478.7a1.7 1.7 0 1 0 3.4 0a1.7 1.7 0 1 0 -3.4 0M310.5 435.4a1.7 1.7 0 1 0 3.4 0a1.7 1.7 0 1 0 -3.4 0M310.7 395.1a1.7 1.7 0 1 0 3.4 0a1.7 1.7 0 1 0 -3.4 0M311.2 436.9a1.7 1.7 0 1 0 3.4 0a1.7 1.7 0 1 0 -3.4 0M311.2 445.7a1.7 1.7 0 1 0 3.4 0a1.7 1.7 0 1 0 -3.4 0M311.2 424.2a1.7 1.7 0 1 0 3.4 0a1.7 1.7 0 1 0 -3.4 0M311.6 454.4a1.7 1.7 0 1 0 3.4 0a1.7 1.7 0 1 0 -3.4 0M312.4 411.6a1.7 1.7 0 1 0 3.4 0a1.7 1.7 0 1 0 -3.4 0M312.2 452.8a1.7 1.7 0 1 0 3.4 0a1.7 1.7 0 1 0 -3.4 0M312.2 449.1a1.7 1.7 0 1 0 3.4 0a1.7 1.7 0 1 0 -3.4 0M312.2 437.4a1.7 1.7 0 1 0 3.4 0a1.7 1.7 0 1 0 -3.4 0M313.2 452.1a1.7 1.7 0 1 0 3.4 0a1.7 1.7 0 1 0 -3.4 0M313 439.2a1.7 1.7 0 1 0 3.4 0a1.7 1.7 0 1 0 -3.4 0M313.1 444.5a1.7 1.7 0 1 0 3.4 0a1.7 1.7 0 1 0 -3.4 0M313.2 447.9a1.7 1.7 0 1 0 3.4 0a1.7 1.7 0 1 0 -3.4 0M313.9 418.7a1.7 1.7 0 1 0 3.4 0a1.7 1.7 0 1 0 -3.4 0M313.9 432.3a1.7 1.7 0 1 0 3.4 0a1.7 1.7 0 1 0 -3.4 0M314 436.3a1.7 1.7 0 1 0 3.4 0a1.7 1.7 0 1 0 -3.4 0M313.7 448.3a1.7 1.7 0 1 0 3.4 0a1.7 1.7 0 1 0 -3.4 0M314.4 435.6a1.7 1.7 0 1 0 3.4 0a1.7 1.7 0 1 0 -3.4 0M314.5 426.2a1.7 1.7 0 1 0 3.4 0a1.7 1.7 0 1 0 -3.4 0M314.7 422a1.7 1.7 0 1 0 3.4 0a1.7 1.7 0 1 0 -3.4 0M314.4 447.9a1.7 1.7 0 1 0 3.4 0a1.7 1.7 0 1 0 -3.4 0M315.5 441.3a1.7 1.7 0 1 0 3.4 0a1.7 1.7 0 1 0 -3.4 0M315.5 422.4a1.7 1.7 0 1 0 3.4 0a1.7 1.7 0 1 0 -3.4 0M315.3 422.6a1.7 1.7 0 1 0 3.4 0a1.7 1.7 0 1 0 -3.4 0M315.6 429a1.7 1.7 0 1 0 3.4 0a1.7 1.7 0 1 0 -3.4 0M316.1 456.8a1.7 1.7 0 1 0 3.4 0a1.7 1.7 0 1 0 -3.4 0M316.2 442.3a1.7 1.7 0 1 0 3.4 0a1.7 1.7 0 1 0 -3.4 0M316.2 459.5a1.7 1.7 0 1 0 3.4 0a1.7 1.7 0 1 0 -3.4 0M316.2 463.2a1.7 1.7 0 1 0 3.4 0a1.7 1.7 0 1 0 -3.4 0M316.8 448.5a1.7 1.7 0 1 0 3.4 0a1.7 1.7 0 1 0 -3.4 0M317 426.2a1.7 1.7 0 1 0 3.4 0a1.7 1.7 0 1 0 -3.4 0M316.9 435.1a1.7 1.7 0 1 0 3.4 0a1.7 1.7 0 1 0 -3.4 0M317.2 425.4a1.7 1.7 0 1 0 3.4 0a1.7 1.7 0 1 0 -3.4 0M317.8 424.2a1.7 1.7 0 1 0 3.4 0a1.7 1.7 0 1 0 -3.4 0M317.8 431.9a1.7 1.7 0 1 0 3.4 0a1.7 1.7 0 1 0 -3.4 0M317.6 397.5a1.7 1.7 0 1 0 3.4 0a1.7 1.7 0 1 0 -3.4 0M318 455a1.7 1.7 0 1 0 3.4 0a1.7 1.7 0 1 0 -3.4 0M317.9 449.2a1.7 1.7 0 1 0 3.4 0a1.7 1.7 0 1 0 -3.4 0M318.7 428.5a1.7 1.7 0 1 0 3.4 0a1.7 1.7 0 1 0 -3.4 0M318.4 439.9a1.7 1.7 0 1 0 3.4 0a1.7 1.7 0 1 0 -3.4 0M318.4 436a1.7 1.7 0 1 0 3.4 0a1.7 1.7 0 1 0 -3.4 0M318.6 450.8a1.7 1.7 0 1 0 3.4 0a1.7 1.7 0 1 0 -3.4 0M319.3 453.3a1.7 1.7 0 1 0 3.4 0a1.7 1.7 0 1 0 -3.4 0M319.4 438.6a1.7 1.7 0 1 0 3.4 0a1.7 1.7 0 1 0 -3.4 0M319.3 425.3a1.7 1.7 0 1 0 3.4 0a1.7 1.7 0 1 0 -3.4 0M319.2 437a1.7 1.7 0 1 0 3.4 0a1.7 1.7 0 1 0 -3.4 0M320 446.7a1.7 1.7 0 1 0 3.4 0a1.7 1.7 0 1 0 -3.4 0M320.3 456.5a1.7 1.7 0 1 0 3.4 0a1.7 1.7 0 1 0 -3.4 0M320.3 449.2a1.7 1.7 0 1 0 3.4 0a1.7 1.7 0 1 0 -3.4 0M320.2 440.4a1.7 1.7 0 1 0 3.4 0a1.7 1.7 0 1 0 -3.4 0M320.2 439.5a1.7 1.7 0 1 0 3.4 0a1.7 1.7 0 1 0 -3.4 0M320.8 442.9a1.7 1.7 0 1 0 3.4 0a1.7 1.7 0 1 0 -3.4 0M321.2 440.8a1.7 1.7 0 1 0 3.4 0a1.7 1.7 0 1 0 -3.4 0M320.8 431.4a1.7 1.7 0 1 0 3.4 0a1.7 1.7 0 1 0 -3.4 0M320.9 434.1a1.7 1.7 0 1 0 3.4 0a1.7 1.7 0 1 0 -3.4 0M321.7 429a1.7 1.7 0 1 0 3.4 0a1.7 1.7 0 1 0 -3.4 0M321.9 450.9a1.7 1.7 0 1 0 3.4 0a1.7 1.7 0 1 0 -3.4 0M321.6 428.5a1.7 1.7 0 1 0 3.4 0a1.7 1.7 0 1 0 -3.4 0M321.8 434a1.7 1.7 0 1 0 3.4 0a1.7 1.7 0 1 0 -3.4 0M322.7 452.2a1.7 1.7 0 1 0 3.4 0a1.7 1.7 0 1 0 -3.4 0M322.8 443.2a1.7 1.7 0 1 0 3.4 0a1.7 1.7 0 1 0 -3.4 0M322.4 441.3a1.7 1.7 0 1 0 3.4 0a1.7 1.7 0 1 0 -3.4 0M322.6 439.3a1.7 1.7 0 1 0 3.4 0a1.7 1.7 0 1 0 -3.4 0M323.5 466.2a1.7 1.7 0 1 0 3.4 0a1.7 1.7 0 1 0 -3.4 0M323.4 455a1.7 1.7 0 1 0 3.4 0a1.7 1.7 0 1 0 -3.4 0M323.3 464.6a1.7 1.7 0 1 0 3.4 0a1.7 1.7 0 1 0 -3.4 0M323.3 444.1a1.7 1.7 0 1 0 3.4 0a1.7 1.7 0 1 0 -3.4 0M324.2 450.2a1.7 1.7 0 1 0 3.4 0a1.7 1.7 0 1 0 -3.4 0M324.4 426a1.7 1.7 0 1 0 3.4 0a1.7 1.7 0 1 0 -3.4 0M324 463.6a1.7 1.7 0 1 0 3.4 0a1.7 1.7 0 1 0 -3.4 0M324.4 438.2a1.7 1.7 0 1 0 3.4 0a1.7 1.7 0 1 0 -3.4 0M325.2 456.7a1.7 1.7 0 1 0 3.4 0a1.7 1.7 0 1 0 -3.4 0M325.1 465.6a1.7 1.7 0 1 0 3.4 0a1.7 1.7 0 1 0 -3.4 0M325 424.9a1.7 1.7 0 1 0 3.4 0a1.7 1.7 0 1 0 -3.4 0M324.8 432.6a1.7 1.7 0 1 0 3.4 0a1.7 1.7 0 1 0 -3.4 0M325.8 441.6a1.7 1.7 0 1 0 3.4 0a1.7 1.7 0 1 0 -3.4 0M325.7 458.6a1.7 1.7 0 1 0 3.4 0a1.7 1.7 0 1 0 -3.4 0M325.9 450.8a1.7 1.7 0 1 0 3.4 0a1.7 1.7 0 1 0 -3.4 0M325.6 425.9a1.7 1.7 0 1 0 3.4 0a1.7 1.7 0 1 0 -3.4 0M326.7 463.7a1.7 1.7 0 1 0 3.4 0a1.7 1.7 0 1 0 -3.4 0M326.7 452.9a1.7 1.7 0 1 0 3.4 0a1.7 1.7 0 1 0 -3.4 0M326.8 423.2a1.7 1.7 0 1 0 3.4 0a1.7 1.7 0 1 0 -3.4 0M326.5 441.6a1.7 1.7 0 1 0 3.4 0a1.7 1.7 0 1 0 -3.4 0M326.5 447.8a1.7 1.7 0 1 0 3.4 0a1.7 1.7 0 1 0 -3.4 0M327.2 441.2a1.7 1.7 0 1 0 3.4 0a1.7 1.7 0 1 0 -3.4 0M327.5 436.9a1.7 1.7 0 1 0 3.4 0a1.7 1.7 0 1 0 -3.4 0M327.5 398.6a1.7 1.7 0 1 0 3.4 0a1.7 1.7 0 1 0 -3.4 0M327.2 431.5a1.7 1.7 0 1 0 3.4 0a1.7 1.7 0 1 0 -3.4 0M328.4 442.3a1.7 1.7 0 1 0 3.4 0a1.7 1.7 0 1 0 -3.4 0M328.3 438.4a1.7 1.7 0 1 0 3.4 0a1.7 1.7 0 1 0 -3.4 0M328 426.4a1.7 1.7 0 1 0 3.4 0a1.7 1.7 0 1 0 -3.4 0M328.2 441.6a1.7 1.7 0 1 0 3.4 0a1.7 1.7 0 1 0 -3.4 0M329 447.4a1.7 1.7 0 1 0 3.4 0a1.7 1.7 0 1 0 -3.4 0M328.9 412.3a1.7 1.7 0 1 0 3.4 0a1.7 1.7 0 1 0 -3.4 0M328.9 462.2a1.7 1.7 0 1 0 3.4 0a1.7 1.7 0 1 0 -3.4 0M329.2 427.3a1.7 1.7 0 1 0 3.4 0a1.7 1.7 0 1 0 -3.4 0M329 454.9a1.7 1.7 0 1 0 3.4 0a1.7 1.7 0 1 0 -3.4 0M329.9 461.5a1.7 1.7 0 1 0 3.4 0a1.7 1.7 0 1 0 -3.4 0M329.6 433.9a1.7 1.7 0 1 0 3.4 0a1.7 1.7 0 1 0 -3.4 0M329.8 460a1.7 1.7 0 1 0 3.4 0a1.7 1.7 0 1 0 -3.4 0M329.6 414.3a1.7 1.7 0 1 0 3.4 0a1.7 1.7 0 1 0 -3.4 0M330.4 449.2a1.7 1.7 0 1 0 3.4 0a1.7 1.7 0 1 0 -3.4 0M330.4 445.4a1.7 1.7 0 1 0 3.4 0a1.7 1.7 0 1 0 -3.4 0M330.7 448.6a1.7 1.7 0 1 0 3.4 0a1.7 1.7 0 1 0 -3.4 0M330.7 427.2a1.7 1.7 0 1 0 3.4 0a1.7 1.7 0 1 0 -3.4 0M330.5 419a1.7 1.7 0 1 0 3.4 0a1.7 1.7 0 1 0 -3.4 0M331.2 431.4a1.7 1.7 0 1 0 3.4 0a1.7 1.7 0 1 0 -3.4 0M331.2 426.5a1.7 1.7 0 1 0 3.4 0a1.7 1.7 0 1 0 -3.4 0M331.6 446.1a1.7 1.7 0 1 0 3.4 0a1.7 1.7 0 1 0 -3.4 0M331.6 442.6a1.7 1.7 0 1 0 3.4 0a1.7 1.7 0 1 0 -3.4 0M332.4 427.2a1.7 1.7 0 1 0 3.4 0a1.7 1.7 0 1 0 -3.4 0M332.2 444a1.7 1.7 0 1 0 3.4 0a1.7 1.7 0 1 0 -3.4 0M332.3 452a1.7 1.7 0 1 0 3.4 0a1.7 1.7 0 1 0 -3.4 0M332.2 447.9a1.7 1.7 0 1 0 3.4 0a1.7 1.7 0 1 0 -3.4 0M333.2 452.6a1.7 1.7 0 1 0 3.4 0a1.7 1.7 0 1 0 -3.4 0M333 440.7a1.7 1.7 0 1 0 3.4 0a1.7 1.7 0 1 0 -3.4 0M333 434.4a1.7 1.7 0 1 0 3.4 0a1.7 1.7 0 1 0 -3.4 0M332.9 429.8a1.7 1.7 0 1 0 3.4 0a1.7 1.7 0 1 0 -3.4 0M333.8 438.8a1.7 1.7 0 1 0 3.4 0a1.7 1.7 0 1 0 -3.4 0M333.6 463.2a1.7 1.7 0 1 0 3.4 0a1.7 1.7 0 1 0 -3.4 0M333.7 441.8a1.7 1.7 0 1 0 3.4 0a1.7 1.7 0 1 0 -3.4 0M334 444.4a1.7 1.7 0 1 0 3.4 0a1.7 1.7 0 1 0 -3.4 0M333.7 444.3a1.7 1.7 0 1 0 3.4 0a1.7 1.7 0 1 0 -3.4 0M334.4 447.3a1.7 1.7 0 1 0 3.4 0a1.7 1.7 0 1 0 -3.4 0M334.4 449a1.7 1.7 0 1 0 3.4 0a1.7 1.7 0 1 0 -3.4 0M334.4 451a1.7 1.7 0 1 0 3.4 0a1.7 1.7 0 1 0 -3.4 0M334.6 430.4a1.7 1.7 0 1 0 3.4 0a1.7 1.7 0 1 0 -3.4 0M335.6 447.9a1.7 1.7 0 1 0 3.4 0a1.7 1.7 0 1 0 -3.4 0M335.4 461.3a1.7 1.7 0 1 0 3.4 0a1.7 1.7 0 1 0 -3.4 0M335.4 439.6a1.7 1.7 0 1 0 3.4 0a1.7 1.7 0 1 0 -3.4 0M335.5 434.1a1.7 1.7 0 1 0 3.4 0a1.7 1.7 0 1 0 -3.4 0M336 450.9a1.7 1.7 0 1 0 3.4 0a1.7 1.7 0 1 0 -3.4 0M336 454.5a1.7 1.7 0 1 0 3.4 0a1.7 1.7 0 1 0 -3.4 0M336 437.9a1.7 1.7 0 1 0 3.4 0a1.7 1.7 0 1 0 -3.4 0M336 444.9a1.7 1.7 0 1 0 3.4 0a1.7 1.7 0 1 0 -3.4 0M337.2 421.3a1.7 1.7 0 1 0 3.4 0a1.7 1.7 0 1 0 -3.4 0M337 462.3a1.7 1.7 0 1 0 3.4 0a1.7 1.7 0 1 0 -3.4 0M336.8 445.1a1.7 1.7 0 1 0 3.4 0a1.7 1.7 0 1 0 -3.4 0M336.9 442.4a1.7 1.7 0 1 0 3.4 0a1.7 1.7 0 1 0 -3.4 0M337.7 451.4a1.7 1.7 0 1 0 3.4 0a1.7 1.7 0 1 0 -3.4 0M337.7 448a1.7 1.7 0 1 0 3.4 0a1.7 1.7 0 1 0 -3.4 0M337.9 455.1a1.7 1.7 0 1 0 3.4 0a1.7 1.7 0 1 0 -3.4 0M337.7 446.5a1.7 1.7 0 1 0 3.4 0a1.7 1.7 0 1 0 -3.4 0M338.5 436.4a1.7 1.7 0 1 0 3.4 0a1.7 1.7 0 1 0 -3.4 0M338.5 419.6a1.7 1.7 0 1 0 3.4 0a1.7 1.7 0 1 0 -3.4 0M338.7 425.9a1.7 1.7 0 1 0 3.4 0a1.7 1.7 0 1 0 -3.4 0M338.4 420.1a1.7 1.7 0 1 0 3.4 0a1.7 1.7 0 1 0 -3.4 0M339.2 445a1.7 1.7 0 1 0 3.4 0a1.7 1.7 0 1 0 -3.4 0M339.2 447.8a1.7 1.7 0 1 0 3.4 0a1.7 1.7 0 1 0 -3.4 0M339.2 437.3a1.7 1.7 0 1 0 3.4 0a1.7 1.7 0 1 0 -3.4 0M339.6 404.2a1.7 1.7 0 1 0 3.4 0a1.7 1.7 0 1 0 -3.4 0M340.4 446.3a1.7 1.7 0 1 0 3.4 0a1.7 1.7 0 1 0 -3.4 0M340.1 445.1a1.7 1.7 0 1 0 3.4 0a1.7 1.7 0 1 0 -3.4 0M340.4 444.3a1.7 1.7 0 1 0 3.4 0a1.7 1.7 0 1 0 -3.4 0M340.2 423.2a1.7 1.7 0 1 0 3.4 0a1.7 1.7 0 1 0 -3.4 0M340.9 444.7a1.7 1.7 0 1 0 3.4 0a1.7 1.7 0 1 0 -3.4 0M341 424a1.7 1.7 0 1 0 3.4 0a1.7 1.7 0 1 0 -3.4 0M341 431.7a1.7 1.7 0 1 0 3.4 0a1.7 1.7 0 1 0 -3.4 0M340.8 451.4a1.7 1.7 0 1 0 3.4 0a1.7 1.7 0 1 0 -3.4 0M341.8 413.9a1.7 1.7 0 1 0 3.4 0a1.7 1.7 0 1 0 -3.4 0M341.6 435.3a1.7 1.7 0 1 0 3.4 0a1.7 1.7 0 1 0 -3.4 0M341.6 431.7a1.7 1.7 0 1 0 3.4 0a1.7 1.7 0 1 0 -3.4 0M341.7 439.8a1.7 1.7 0 1 0 3.4 0a1.7 1.7 0 1 0 -3.4 0M342.5 411.3a1.7 1.7 0 1 0 3.4 0a1.7 1.7 0 1 0 -3.4 0M342.6 419.8a1.7 1.7 0 1 0 3.4 0a1.7 1.7 0 1 0 -3.4 0M342.8 433.4a1.7 1.7 0 1 0 3.4 0a1.7 1.7 0 1 0 -3.4 0M342.5 432.2a1.7 1.7 0 1 0 3.4 0a1.7 1.7 0 1 0 -3.4 0M343.4 404.8a1.7 1.7 0 1 0 3.4 0a1.7 1.7 0 1 0 -3.4 0M343.4 421a1.7 1.7 0 1 0 3.4 0a1.7 1.7 0 1 0 -3.4 0M343.2 422.3a1.7 1.7 0 1 0 3.4 0a1.7 1.7 0 1 0 -3.4 0M344 428.7a1.7 1.7 0 1 0 3.4 0a1.7 1.7 0 1 0 -3.4 0M344.4 427.6a1.7 1.7 0 1 0 3.4 0a1.7 1.7 0 1 0 -3.4 0M344.2 411.5a1.7 1.7 0 1 0 3.4 0a1.7 1.7 0 1 0 -3.4 0M345.2 490a1.7 1.7 0 1 0 3.4 0a1.7 1.7 0 1 0 -3.4 0M345.2 380.6a1.7 1.7 0 1 0 3.4 0a1.7 1.7 0 1 0 -3.4 0M344.9 407.7a1.7 1.7 0 1 0 3.4 0a1.7 1.7 0 1 0 -3.4 0M345.6 401.7a1.7 1.7 0 1 0 3.4 0a1.7 1.7 0 1 0 -3.4 0M345.7 427.3a1.7 1.7 0 1 0 3.4 0a1.7 1.7 0 1 0 -3.4 0M345.8 372.6a1.7 1.7 0 1 0 3.4 0a1.7 1.7 0 1 0 -3.4 0M346.7 421.4a1.7 1.7 0 1 0 3.4 0a1.7 1.7 0 1 0 -3.4 0M346.5 433.6a1.7 1.7 0 1 0 3.4 0a1.7 1.7 0 1 0 -3.4 0M346.7 397.6a1.7 1.7 0 1 0 3.4 0a1.7 1.7 0 1 0 -3.4 0M347.5 407.7a1.7 1.7 0 1 0 3.4 0a1.7 1.7 0 1 0 -3.4 0M347.4 420.4a1.7 1.7 0 1 0 3.4 0a1.7 1.7 0 1 0 -3.4 0M347.5 404.6a1.7 1.7 0 1 0 3.4 0a1.7 1.7 0 1 0 -3.4 0M347.5 426.3a1.7 1.7 0 1 0 3.4 0a1.7 1.7 0 1 0 -3.4 0M348.4 409.7a1.7 1.7 0 1 0 3.4 0a1.7 1.7 0 1 0 -3.4 0M348.1 399.3a1.7 1.7 0 1 0 3.4 0a1.7 1.7 0 1 0 -3.4 0M348 432a1.7 1.7 0 1 0 3.4 0a1.7 1.7 0 1 0 -3.4 0M348.4 404a1.7 1.7 0 1 0 3.4 0a1.7 1.7 0 1 0 -3.4 0M348.9 448.6a1.7 1.7 0 1 0 3.4 0a1.7 1.7 0 1 0 -3.4 0M349.2 402.9a1.7 1.7 0 1 0 3.4 0a1.7 1.7 0 1 0 -3.4 0M349.2 433.3a1.7 1.7 0 1 0 3.4 0a1.7 1.7 0 1 0 -3.4 0M350 436.8a1.7 1.7 0 1 0 3.4 0a1.7 1.7 0 1 0 -3.4 0M349.7 403.5a1.7 1.7 0 1 0 3.4 0a1.7 1.7 0 1 0 -3.4 0M349.6 423.9a1.7 1.7 0 1 0 3.4 0a1.7 1.7 0 1 0 -3.4 0M350.5 452.6a1.7 1.7 0 1 0 3.4 0a1.7 1.7 0 1 0 -3.4 0M350.4 428a1.7 1.7 0 1 0 3.4 0a1.7 1.7 0 1 0 -3.4 0M350.7 377.6a1.7 1.7 0 1 0 3.4 0a1.7 1.7 0 1 0 -3.4 0M351.3 415.7a1.7 1.7 0 1 0 3.4 0a1.7 1.7 0 1 0 -3.4 0M351.4 423.3a1.7 1.7 0 1 0 3.4 0a1.7 1.7 0 1 0 -3.4 0M351.2 414.6a1.7 1.7 0 1 0 3.4 0a1.7 1.7 0 1 0 -3.4 0M352.3 397.2a1.7 1.7 0 1 0 3.4 0a1.7 1.7 0 1 0 -3.4 0M352.3 397.7a1.7 1.7 0 1 0 3.4 0a1.7 1.7 0 1 0 -3.4 0M352.4 414.2a1.7 1.7 0 1 0 3.4 0a1.7 1.7 0 1 0 -3.4 0M353 424.6a1.7 1.7 0 1 0 3.4 0a1.7 1.7 0 1 0 -3.4 0M353 400.7a1.7 1.7 0 1 0 3.4 0a1.7 1.7 0 1 0 -3.4 0M352.9 411.1a1.7 1.7 0 1 0 3.4 0a1.7 1.7 0 1 0 -3.4 0M353.8 417.3a1.7 1.7 0 1 0 3.4 0a1.7 1.7 0 1 0 -3.4 0M353.9 421.3a1.7 1.7 0 1 0 3.4 0a1.7 1.7 0 1 0 -3.4 0M353.8 404.9a1.7 1.7 0 1 0 3.4 0a1.7 1.7 0 1 0 -3.4 0M354.5 399.3a1.7 1.7 0 1 0 3.4 0a1.7 1.7 0 1 0 -3.4 0M354.6 419.2a1.7 1.7 0 1 0 3.4 0a1.7 1.7 0 1 0 -3.4 0M354.8 368.7a1.7 1.7 0 1 0 3.4 0a1.7 1.7 0 1 0 -3.4 0M354.7 385.3a1.7 1.7 0 1 0 3.4 0a1.7 1.7 0 1 0 -3.4 0M355.4 412.9a1.7 1.7 0 1 0 3.4 0a1.7 1.7 0 1 0 -3.4 0M355.6 438.5a1.7 1.7 0 1 0 3.4 0a1.7 1.7 0 1 0 -3.4 0M355.3 395.1a1.7 1.7 0 1 0 3.4 0a1.7 1.7 0 1 0 -3.4 0M355.4 432.4a1.7 1.7 0 1 0 3.4 0a1.7 1.7 0 1 0 -3.4 0M356.2 393.6a1.7 1.7 0 1 0 3.4 0a1.7 1.7 0 1 0 -3.4 0M356.3 404.4a1.7 1.7 0 1 0 3.4 0a1.7 1.7 0 1 0 -3.4 0M356.2 402.8a1.7 1.7 0 1 0 3.4 0a1.7 1.7 0 1 0 -3.4 0M356.8 424.9a1.7 1.7 0 1 0 3.4 0a1.7 1.7 0 1 0 -3.4 0M357.1 399.6a1.7 1.7 0 1 0 3.4 0a1.7 1.7 0 1 0 -3.4 0M357 353.6a1.7 1.7 0 1 0 3.4 0a1.7 1.7 0 1 0 -3.4 0M357.1 395.1a1.7 1.7 0 1 0 3.4 0a1.7 1.7 0 1 0 -3.4 0M357.7 420.3a1.7 1.7 0 1 0 3.4 0a1.7 1.7 0 1 0 -3.4 0M358 396.9a1.7 1.7 0 1 0 3.4 0a1.7 1.7 0 1 0 -3.4 0M357.9 418.3a1.7 1.7 0 1 0 3.4 0a1.7 1.7 0 1 0 -3.4 0M357.7 401a1.7 1.7 0 1 0 3.4 0a1.7 1.7 0 1 0 -3.4 0M358.6 399.1a1.7 1.7 0 1 0 3.4 0a1.7 1.7 0 1 0 -3.4 0M358.5 412a1.7 1.7 0 1 0 3.4 0a1.7 1.7 0 1 0 -3.4 0M358.8 432.1a1.7 1.7 0 1 0 3.4 0a1.7 1.7 0 1 0 -3.4 0M359.3 413.7a1.7 1.7 0 1 0 3.4 0a1.7 1.7 0 1 0 -3.4 0M359.5 388.6a1.7 1.7 0 1 0 3.4 0a1.7 1.7 0 1 0 -3.4 0M359.6 395.1a1.7 1.7 0 1 0 3.4 0a1.7 1.7 0 1 0 -3.4 0M359.6 444.7a1.7 1.7 0 1 0 3.4 0a1.7 1.7 0 1 0 -3.4 0M360.1 419.9a1.7 1.7 0 1 0 3.4 0a1.7 1.7 0 1 0 -3.4 0M360.2 389.1a1.7 1.7 0 1 0 3.4 0a1.7 1.7 0 1 0 -3.4 0M360.2 429a1.7 1.7 0 1 0 3.4 0a1.7 1.7 0 1 0 -3.4 0M360.2 417.1a1.7 1.7 0 1 0 3.4 0a1.7 1.7 0 1 0 -3.4 0M360.9 419.9a1.7 1.7 0 1 0 3.4 0a1.7 1.7 0 1 0 -3.4 0M361.1 408.4a1.7 1.7 0 1 0 3.4 0a1.7 1.7 0 1 0 -3.4 0M360.9 437.5a1.7 1.7 0 1 0 3.4 0a1.7 1.7 0 1 0 -3.4 0M361.6 424.3a1.7 1.7 0 1 0 3.4 0a1.7 1.7 0 1 0 -3.4 0M362 381a1.7 1.7 0 1 0 3.4 0a1.7 1.7 0 1 0 -3.4 0M361.9 410.9a1.7 1.7 0 1 0 3.4 0a1.7 1.7 0 1 0 -3.4 0M362.4 425.5a1.7 1.7 0 1 0 3.4 0a1.7 1.7 0 1 0 -3.4 0M362.8 420.7a1.7 1.7 0 1 0 3.4 0a1.7 1.7 0 1 0 -3.4 0M362.5 424.2a1.7 1.7 0 1 0 3.4 0a1.7 1.7 0 1 0 -3.4 0M362.4 391.6a1.7 1.7 0 1 0 3.4 0a1.7 1.7 0 1 0 -3.4 0M363.5 414.1a1.7 1.7 0 1 0 3.4 0a1.7 1.7 0 1 0 -3.4 0M363.5 424a1.7 1.7 0 1 0 3.4 0a1.7 1.7 0 1 0 -3.4 0M363.2 414.1a1.7 1.7 0 1 0 3.4 0a1.7 1.7 0 1 0 -3.4 0M363.4 408a1.7 1.7 0 1 0 3.4 0a1.7 1.7 0 1 0 -3.4 0M364.3 410.2a1.7 1.7 0 1 0 3.4 0a1.7 1.7 0 1 0 -3.4 0M364.2 398.7a1.7 1.7 0 1 0 3.4 0a1.7 1.7 0 1 0 -3.4 0M364.1 395.7a1.7 1.7 0 1 0 3.4 0a1.7 1.7 0 1 0 -3.4 0M364 415.5a1.7 1.7 0 1 0 3.4 0a1.7 1.7 0 1 0 -3.4 0M365 428.8a1.7 1.7 0 1 0 3.4 0a1.7 1.7 0 1 0 -3.4 0M365 424.5a1.7 1.7 0 1 0 3.4 0a1.7 1.7 0 1 0 -3.4 0M365 419a1.7 1.7 0 1 0 3.4 0a1.7 1.7 0 1 0 -3.4 0M365.2 400.5a1.7 1.7 0 1 0 3.4 0a1.7 1.7 0 1 0 -3.4 0M365.6 406.9a1.7 1.7 0 1 0 3.4 0a1.7 1.7 0 1 0 -3.4 0M365.6 401.6a1.7 1.7 0 1 0 3.4 0a1.7 1.7 0 1 0 -3.4 0M366 416.2a1.7 1.7 0 1 0 3.4 0a1.7 1.7 0 1 0 -3.4 0M366.8 392.8a1.7 1.7 0 1 0 3.4 0a1.7 1.7 0 1 0 -3.4 0M366.4 436.6a1.7 1.7 0 1 0 3.4 0a1.7 1.7 0 1 0 -3.4 0M366.4 406.4a1.7 1.7 0 1 0 3.4 0a1.7 1.7 0 1 0 -3.4 0M366.7 433.8a1.7 1.7 0 1 0 3.4 0a1.7 1.7 0 1 0 -3.4 0M367.5 410.1a1.7 1.7 0 1 0 3.4 0a1.7 1.7 0 1 0 -3.4 0M367.3 414.7a1.7 1.7 0 1 0 3.4 0a1.7 1.7 0 1 0 -3.4 0M367.4 417.3a1.7 1.7 0 1 0 3.4 0a1.7 1.7 0 1 0 -3.4 0M367.6 418a1.7 1.7 0 1 0 3.4 0a1.7 1.7 0 1 0 -3.4 0M368 410.8a1.7 1.7 0 1 0 3.4 0a1.7 1.7 0 1 0 -3.4 0M368.1 412.6a1.7 1.7 0 1 0 3.4 0a1.7 1.7 0 1 0 -3.4 0M368.3 399.8a1.7 1.7 0 1 0 3.4 0a1.7 1.7 0 1 0 -3.4 0M368 403.2a1.7 1.7 0 1 0 3.4 0a1.7 1.7 0 1 0 -3.4 0M368.8 408.9a1.7 1.7 0 1 0 3.4 0a1.7 1.7 0 1 0 -3.4 0M368.8 413.3a1.7 1.7 0 1 0 3.4 0a1.7 1.7 0 1 0 -3.4 0M369.2 411.2a1.7 1.7 0 1 0 3.4 0a1.7 1.7 0 1 0 -3.4 0M369.7 402.7a1.7 1.7 0 1 0 3.4 0a1.7 1.7 0 1 0 -3.4 0M369.9 401.9a1.7 1.7 0 1 0 3.4 0a1.7 1.7 0 1 0 -3.4 0M369.6 386.6a1.7 1.7 0 1 0 3.4 0a1.7 1.7 0 1 0 -3.4 0M369.8 393.6a1.7 1.7 0 1 0 3.4 0a1.7 1.7 0 1 0 -3.4 0M370.7 419.5a1.7 1.7 0 1 0 3.4 0a1.7 1.7 0 1 0 -3.4 0M370.4 410.3a1.7 1.7 0 1 0 3.4 0a1.7 1.7 0 1 0 -3.4 0M370.6 423.6a1.7 1.7 0 1 0 3.4 0a1.7 1.7 0 1 0 -3.4 0M371.3 397.3a1.7 1.7 0 1 0 3.4 0a1.7 1.7 0 1 0 -3.4 0M371.5 414.2a1.7 1.7 0 1 0 3.4 0a1.7 1.7 0 1 0 -3.4 0M371.4 401.9a1.7 1.7 0 1 0 3.4 0a1.7 1.7 0 1 0 -3.4 0M372.2 426.9a1.7 1.7 0 1 0 3.4 0a1.7 1.7 0 1 0 -3.4 0M372.1 422.2a1.7 1.7 0 1 0 3.4 0a1.7 1.7 0 1 0 -3.4 0M372.3 375.5a1.7 1.7 0 1 0 3.4 0a1.7 1.7 0 1 0 -3.4 0M372.3 398.8a1.7 1.7 0 1 0 3.4 0a1.7 1.7 0 1 0 -3.4 0M373.1 417.3a1.7 1.7 0 1 0 3.4 0a1.7 1.7 0 1 0 -3.4 0M373.2 449.5a1.7 1.7 0 1 0 3.4 0a1.7 1.7 0 1 0 -3.4 0M373 407.1a1.7 1.7 0 1 0 3.4 0a1.7 1.7 0 1 0 -3.4 0M373.2 423.2a1.7 1.7 0 1 0 3.4 0a1.7 1.7 0 1 0 -3.4 0M373.6 376.1a1.7 1.7 0 1 0 3.4 0a1.7 1.7 0 1 0 -3.4 0M373.7 407.8a1.7 1.7 0 1 0 3.4 0a1.7 1.7 0 1 0 -3.4 0M373.8 443.2a1.7 1.7 0 1 0 3.4 0a1.7 1.7 0 1 0 -3.4 0M374.4 428.7a1.7 1.7 0 1 0 3.4 0a1.7 1.7 0 1 0 -3.4 0M374.8 398.6a1.7 1.7 0 1 0 3.4 0a1.7 1.7 0 1 0 -3.4 0M374.5 416.7a1.7 1.7 0 1 0 3.4 0a1.7 1.7 0 1 0 -3.4 0M375.5 393.6a1.7 1.7 0 1 0 3.4 0a1.7 1.7 0 1 0 -3.4 0M375.5 409.8a1.7 1.7 0 1 0 3.4 0a1.7 1.7 0 1 0 -3.4 0M375.3 406.1a1.7 1.7 0 1 0 3.4 0a1.7 1.7 0 1 0 -3.4 0M376.3 409.5a1.7 1.7 0 1 0 3.4 0a1.7 1.7 0 1 0 -3.4 0M376.1 409.7a1.7 1.7 0 1 0 3.4 0a1.7 1.7 0 1 0 -3.4 0M376.4 415.6a1.7 1.7 0 1 0 3.4 0a1.7 1.7 0 1 0 -3.4 0M376.2 392.4a1.7 1.7 0 1 0 3.4 0a1.7 1.7 0 1 0 -3.4 0M377.1 456.5a1.7 1.7 0 1 0 3.4 0a1.7 1.7 0 1 0 -3.4 0M377.2 404a1.7 1.7 0 1 0 3.4 0a1.7 1.7 0 1 0 -3.4 0M377.2 394.7a1.7 1.7 0 1 0 3.4 0a1.7 1.7 0 1 0 -3.4 0M377.1 396.5a1.7 1.7 0 1 0 3.4 0a1.7 1.7 0 1 0 -3.4 0M377.6 394.2a1.7 1.7 0 1 0 3.4 0a1.7 1.7 0 1 0 -3.4 0M377.8 411.8a1.7 1.7 0 1 0 3.4 0a1.7 1.7 0 1 0 -3.4 0M377.6 397.1a1.7 1.7 0 1 0 3.4 0a1.7 1.7 0 1 0 -3.4 0M378.5 396.7a1.7 1.7 0 1 0 3.4 0a1.7 1.7 0 1 0 -3.4 0M378.8 354.1a1.7 1.7 0 1 0 3.4 0a1.7 1.7 0 1 0 -3.4 0M378.5 417.3a1.7 1.7 0 1 0 3.4 0a1.7 1.7 0 1 0 -3.4 0M379.5 413.9a1.7 1.7 0 1 0 3.4 0a1.7 1.7 0 1 0 -3.4 0M379.4 383.3a1.7 1.7 0 1 0 3.4 0a1.7 1.7 0 1 0 -3.4 0M379.3 407.2a1.7 1.7 0 1 0 3.4 0a1.7 1.7 0 1 0 -3.4 0M379.2 381.6a1.7 1.7 0 1 0 3.4 0a1.7 1.7 0 1 0 -3.4 0M380.1 378.4a1.7 1.7 0 1 0 3.4 0a1.7 1.7 0 1 0 -3.4 0M380 435.3a1.7 1.7 0 1 0 3.4 0a1.7 1.7 0 1 0 -3.4 0M380.1 402.6a1.7 1.7 0 1 0 3.4 0a1.7 1.7 0 1 0 -3.4 0M381 386.2a1.7 1.7 0 1 0 3.4 0a1.7 1.7 0 1 0 -3.4 0M381.1 397.6a1.7 1.7 0 1 0 3.4 0a1.7 1.7 0 1 0 -3.4 0M380.9 399.2a1.7 1.7 0 1 0 3.4 0a1.7 1.7 0 1 0 -3.4 0M380.8 376.9a1.7 1.7 0 1 0 3.4 0a1.7 1.7 0 1 0 -3.4 0M381.6 432.4a1.7 1.7 0 1 0 3.4 0a1.7 1.7 0 1 0 -3.4 0M381.8 411.1a1.7 1.7 0 1 0 3.4 0a1.7 1.7 0 1 0 -3.4 0M381.8 389.7a1.7 1.7 0 1 0 3.4 0a1.7 1.7 0 1 0 -3.4 0M381.7 403.7a1.7 1.7 0 1 0 3.4 0a1.7 1.7 0 1 0 -3.4 0M382.4 400.5a1.7 1.7 0 1 0 3.4 0a1.7 1.7 0 1 0 -3.4 0M382.7 393.6a1.7 1.7 0 1 0 3.4 0a1.7 1.7 0 1 0 -3.4 0M382.6 401.3a1.7 1.7 0 1 0 3.4 0a1.7 1.7 0 1 0 -3.4 0M382.7 376.3a1.7 1.7 0 1 0 3.4 0a1.7 1.7 0 1 0 -3.4 0M383.3 386a1.7 1.7 0 1 0 3.4 0a1.7 1.7 0 1 0 -3.4 0M383.3 421a1.7 1.7 0 1 0 3.4 0a1.7 1.7 0 1 0 -3.4 0M383.5 401.2a1.7 1.7 0 1 0 3.4 0a1.7 1.7 0 1 0 -3.4 0M384.3 396.3a1.7 1.7 0 1 0 3.4 0a1.7 1.7 0 1 0 -3.4 0M384.1 420.5a1.7 1.7 0 1 0 3.4 0a1.7 1.7 0 1 0 -3.4 0M384 424.4a1.7 1.7 0 1 0 3.4 0a1.7 1.7 0 1 0 -3.4 0M384 399.3a1.7 1.7 0 1 0 3.4 0a1.7 1.7 0 1 0 -3.4 0M385 416.8a1.7 1.7 0 1 0 3.4 0a1.7 1.7 0 1 0 -3.4 0M384.8 442a1.7 1.7 0 1 0 3.4 0a1.7 1.7 0 1 0 -3.4 0M385 383.7a1.7 1.7 0 1 0 3.4 0a1.7 1.7 0 1 0 -3.4 0M386 457.6a1.7 1.7 0 1 0 3.4 0a1.7 1.7 0 1 0 -3.4 0M386 401a1.7 1.7 0 1 0 3.4 0a1.7 1.7 0 1 0 -3.4 0M385.9 423.5a1.7 1.7 0 1 0 3.4 0a1.7 1.7 0 1 0 -3.4 0M386.6 413.1a1.7 1.7 0 1 0 3.4 0a1.7 1.7 0 1 0 -3.4 0M386.7 409.3a1.7 1.7 0 1 0 3.4 0a1.7 1.7 0 1 0 -3.4 0M386.6 423.3a1.7 1.7 0 1 0 3.4 0a1.7 1.7 0 1 0 -3.4 0M386.6 407.6a1.7 1.7 0 1 0 3.4 0a1.7 1.7 0 1 0 -3.4 0M387.4 418.8a1.7 1.7 0 1 0 3.4 0a1.7 1.7 0 1 0 -3.4 0M387.6 437.5a1.7 1.7 0 1 0 3.4 0a1.7 1.7 0 1 0 -3.4 0M387.3 412.9a1.7 1.7 0 1 0 3.4 0a1.7 1.7 0 1 0 -3.4 0M387.3 437.4a1.7 1.7 0 1 0 3.4 0a1.7 1.7 0 1 0 -3.4 0M388.1 453.1a1.7 1.7 0 1 0 3.4 0a1.7 1.7 0 1 0 -3.4 0M388.3 414a1.7 1.7 0 1 0 3.4 0a1.7 1.7 0 1 0 -3.4 0M388.3 417.7a1.7 1.7 0 1 0 3.4 0a1.7 1.7 0 1 0 -3.4 0M389.1 442.1a1.7 1.7 0 1 0 3.4 0a1.7 1.7 0 1 0 -3.4 0M388.9 403.3a1.7 1.7 0 1 0 3.4 0a1.7 1.7 0 1 0 -3.4 0M389.1 422.7a1.7 1.7 0 1 0 3.4 0a1.7 1.7 0 1 0 -3.4 0M389.8 421.1a1.7 1.7 0 1 0 3.4 0a1.7 1.7 0 1 0 -3.4 0M390 418.6a1.7 1.7 0 1 0 3.4 0a1.7 1.7 0 1 0 -3.4 0M389.9 407.6a1.7 1.7 0 1 0 3.4 0a1.7 1.7 0 1 0 -3.4 0M390.4 408.8a1.7 1.7 0 1 0 3.4 0a1.7 1.7 0 1 0 -3.4 0M390.4 407.5a1.7 1.7 0 1 0 3.4 0a1.7 1.7 0 1 0 -3.4 0M390.4 402.3a1.7 1.7 0 1 0 3.4 0a1.7 1.7 0 1 0 -3.4 0M391.6 382.7a1.7 1.7 0 1 0 3.4 0a1.7 1.7 0 1 0 -3.4 0M391.2 391.1a1.7 1.7 0 1 0 3.4 0a1.7 1.7 0 1 0 -3.4 0M391.2 408.1a1.7 1.7 0 1 0 3.4 0a1.7 1.7 0 1 0 -3.4 0M391.3 383.6a1.7 1.7 0 1 0 3.4 0a1.7 1.7 0 1 0 -3.4 0M392.1 415.5a1.7 1.7 0 1 0 3.4 0a1.7 1.7 0 1 0 -3.4 0M392.2 423.9a1.7 1.7 0 1 0 3.4 0a1.7 1.7 0 1 0 -3.4 0M392.2 413.7a1.7 1.7 0 1 0 3.4 0a1.7 1.7 0 1 0 -3.4 0M392.1 376.3a1.7 1.7 0 1 0 3.4 0a1.7 1.7 0 1 0 -3.4 0M392.8 425.7a1.7 1.7 0 1 0 3.4 0a1.7 1.7 0 1 0 -3.4 0M393 422.8a1.7 1.7 0 1 0 3.4 0a1.7 1.7 0 1 0 -3.4 0M392.8 396.2a1.7 1.7 0 1 0 3.4 0a1.7 1.7 0 1 0 -3.4 0M393.2 408.6a1.7 1.7 0 1 0 3.4 0a1.7 1.7 0 1 0 -3.4 0M394 424a1.7 1.7 0 1 0 3.4 0a1.7 1.7 0 1 0 -3.4 0M394 392.5a1.7 1.7 0 1 0 3.4 0a1.7 1.7 0 1 0 -3.4 0M394 396.7a1.7 1.7 0 1 0 3.4 0a1.7 1.7 0 1 0 -3.4 0M394.6 442.6a1.7 1.7 0 1 0 3.4 0a1.7 1.7 0 1 0 -3.4 0M394.8 409.4a1.7 1.7 0 1 0 3.4 0a1.7 1.7 0 1 0 -3.4 0M394.6 402.8a1.7 1.7 0 1 0 3.4 0a1.7 1.7 0 1 0 -3.4 0M395.6 420.1a1.7 1.7 0 1 0 3.4 0a1.7 1.7 0 1 0 -3.4 0M395.2 404.5a1.7 1.7 0 1 0 3.4 0a1.7 1.7 0 1 0 -3.4 0M395.3 415.9a1.7 1.7 0 1 0 3.4 0a1.7 1.7 0 1 0 -3.4 0M396.1 420.3a1.7 1.7 0 1 0 3.4 0a1.7 1.7 0 1 0 -3.4 0M396.4 421.4a1.7 1.7 0 1 0 3.4 0a1.7 1.7 0 1 0 -3.4 0M396.1 418.3a1.7 1.7 0 1 0 3.4 0a1.7 1.7 0 1 0 -3.4 0M396.3 431.8a1.7 1.7 0 1 0 3.4 0a1.7 1.7 0 1 0 -3.4 0M396.9 397.4a1.7 1.7 0 1 0 3.4 0a1.7 1.7 0 1 0 -3.4 0M396.9 390.4a1.7 1.7 0 1 0 3.4 0a1.7 1.7 0 1 0 -3.4 0M397 394.9a1.7 1.7 0 1 0 3.4 0a1.7 1.7 0 1 0 -3.4 0M397.2 404a1.7 1.7 0 1 0 3.4 0a1.7 1.7 0 1 0 -3.4 0M397.6 409.5a1.7 1.7 0 1 0 3.4 0a1.7 1.7 0 1 0 -3.4 0M397.7 412.4a1.7 1.7 0 1 0 3.4 0a1.7 1.7 0 1 0 -3.4 0M397.7 410.6a1.7 1.7 0 1 0 3.4 0a1.7 1.7 0 1 0 -3.4 0M398.4 390a1.7 1.7 0 1 0 3.4 0a1.7 1.7 0 1 0 -3.4 0M398.7 411.5a1.7 1.7 0 1 0 3.4 0a1.7 1.7 0 1 0 -3.4 0M398.4 393.1a1.7 1.7 0 1 0 3.4 0a1.7 1.7 0 1 0 -3.4 0M398.7 388.8a1.7 1.7 0 1 0 3.4 0a1.7 1.7 0 1 0 -3.4 0M399.4 401.8a1.7 1.7 0 1 0 3.4 0a1.7 1.7 0 1 0 -3.4 0M399.6 401.1a1.7 1.7 0 1 0 3.4 0a1.7 1.7 0 1 0 -3.4 0M399.2 421.9a1.7 1.7 0 1 0 3.4 0a1.7 1.7 0 1 0 -3.4 0M399.2 411.4a1.7 1.7 0 1 0 3.4 0a1.7 1.7 0 1 0 -3.4 0M400.2 409.7a1.7 1.7 0 1 0 3.4 0a1.7 1.7 0 1 0 -3.4 0M400.2 428.4a1.7 1.7 0 1 0 3.4 0a1.7 1.7 0 1 0 -3.4 0M400.4 405.2a1.7 1.7 0 1 0 3.4 0a1.7 1.7 0 1 0 -3.4 0M401.1 422.9a1.7 1.7 0 1 0 3.4 0a1.7 1.7 0 1 0 -3.4 0M401.1 392.2a1.7 1.7 0 1 0 3.4 0a1.7 1.7 0 1 0 -3.4 0M400.9 436.7a1.7 1.7 0 1 0 3.4 0a1.7 1.7 0 1 0 -3.4 0M401 406a1.7 1.7 0 1 0 3.4 0a1.7 1.7 0 1 0 -3.4 0M401.7 435.5a1.7 1.7 0 1 0 3.4 0a1.7 1.7 0 1 0 -3.4 0M401.6 407.4a1.7 1.7 0 1 0 3.4 0a1.7 1.7 0 1 0 -3.4 0M402 438.4a1.7 1.7 0 1 0 3.4 0a1.7 1.7 0 1 0 -3.4 0M401.7 406.4a1.7 1.7 0 1 0 3.4 0a1.7 1.7 0 1 0 -3.4 0M402.6 433.3a1.7 1.7 0 1 0 3.4 0a1.7 1.7 0 1 0 -3.4 0M402.6 421.7a1.7 1.7 0 1 0 3.4 0a1.7 1.7 0 1 0 -3.4 0M402.7 441.4a1.7 1.7 0 1 0 3.4 0a1.7 1.7 0 1 0 -3.4 0M402.5 398.6a1.7 1.7 0 1 0 3.4 0a1.7 1.7 0 1 0 -3.4 0M403.6 428.1a1.7 1.7 0 1 0 3.4 0a1.7 1.7 0 1 0 -3.4 0M403.3 403.3a1.7 1.7 0 1 0 3.4 0a1.7 1.7 0 1 0 -3.4 0M403.3 443a1.7 1.7 0 1 0 3.4 0a1.7 1.7 0 1 0 -3.4 0M404 449.3a1.7 1.7 0 1 0 3.4 0a1.7 1.7 0 1 0 -3.4 0M404.2 417a1.7 1.7 0 1 0 3.4 0a1.7 1.7 0 1 0 -3.4 0M404.3 404.7a1.7 1.7 0 1 0 3.4 0a1.7 1.7 0 1 0 -3.4 0M405.1 403.6a1.7 1.7 0 1 0 3.4 0a1.7 1.7 0 1 0 -3.4 0M405.2 429.8a1.7 1.7 0 1 0 3.4 0a1.7 1.7 0 1 0 -3.4 0M405.2 408.7a1.7 1.7 0 1 0 3.4 0a1.7 1.7 0 1 0 -3.4 0M405.9 408.3a1.7 1.7 0 1 0 3.4 0a1.7 1.7 0 1 0 -3.4 0M405.7 418.3a1.7 1.7 0 1 0 3.4 0a1.7 1.7 0 1 0 -3.4 0M405.8 423a1.7 1.7 0 1 0 3.4 0a1.7 1.7 0 1 0 -3.4 0M405.7 400.6a1.7 1.7 0 1 0 3.4 0a1.7 1.7 0 1 0 -3.4 0M406.5 421.3a1.7 1.7 0 1 0 3.4 0a1.7 1.7 0 1 0 -3.4 0M406.8 411.9a1.7 1.7 0 1 0 3.4 0a1.7 1.7 0 1 0 -3.4 0M406.8 418.9a1.7 1.7 0 1 0 3.4 0a1.7 1.7 0 1 0 -3.4 0M407.2 420.7a1.7 1.7 0 1 0 3.4 0a1.7 1.7 0 1 0 -3.4 0M407.4 390.7a1.7 1.7 0 1 0 3.4 0a1.7 1.7 0 1 0 -3.4 0M407.6 425.8a1.7 1.7 0 1 0 3.4 0a1.7 1.7 0 1 0 -3.4 0M408 402.1a1.7 1.7 0 1 0 3.4 0a1.7 1.7 0 1 0 -3.4 0M408 410.3a1.7 1.7 0 1 0 3.4 0a1.7 1.7 0 1 0 -3.4 0M408 431.6a1.7 1.7 0 1 0 3.4 0a1.7 1.7 0 1 0 -3.4 0M409.2 421.3a1.7 1.7 0 1 0 3.4 0a1.7 1.7 0 1 0 -3.4 0M408.9 440.9a1.7 1.7 0 1 0 3.4 0a1.7 1.7 0 1 0 -3.4 0M409 410.9a1.7 1.7 0 1 0 3.4 0a1.7 1.7 0 1 0 -3.4 0M409.1 434.6a1.7 1.7 0 1 0 3.4 0a1.7 1.7 0 1 0 -3.4 0M409.8 406.2a1.7 1.7 0 1 0 3.4 0a1.7 1.7 0 1 0 -3.4 0M409.8 406.4a1.7 1.7 0 1 0 3.4 0a1.7 1.7 0 1 0 -3.4 0M409.7 408.2a1.7 1.7 0 1 0 3.4 0a1.7 1.7 0 1 0 -3.4 0M409.8 422.6a1.7 1.7 0 1 0 3.4 0a1.7 1.7 0 1 0 -3.4 0M410.8 433.5a1.7 1.7 0 1 0 3.4 0a1.7 1.7 0 1 0 -3.4 0M410.8 411.1a1.7 1.7 0 1 0 3.4 0a1.7 1.7 0 1 0 -3.4 0M410.7 401a1.7 1.7 0 1 0 3.4 0a1.7 1.7 0 1 0 -3.4 0M410.4 416.8a1.7 1.7 0 1 0 3.4 0a1.7 1.7 0 1 0 -3.4 0M411.5 408.1a1.7 1.7 0 1 0 3.4 0a1.7 1.7 0 1 0 -3.4 0M411.2 451a1.7 1.7 0 1 0 3.4 0a1.7 1.7 0 1 0 -3.4 0M411.2 385.3a1.7 1.7 0 1 0 3.4 0a1.7 1.7 0 1 0 -3.4 0M411.4 433.7a1.7 1.7 0 1 0 3.4 0a1.7 1.7 0 1 0 -3.4 0M412.3 426.6a1.7 1.7 0 1 0 3.4 0a1.7 1.7 0 1 0 -3.4 0M412.3 452.6a1.7 1.7 0 1 0 3.4 0a1.7 1.7 0 1 0 -3.4 0M412.4 429.2a1.7 1.7 0 1 0 3.4 0a1.7 1.7 0 1 0 -3.4 0M413 400.4a1.7 1.7 0 1 0 3.4 0a1.7 1.7 0 1 0 -3.4 0M413 416.1a1.7 1.7 0 1 0 3.4 0a1.7 1.7 0 1 0 -3.4 0M413.2 435.1a1.7 1.7 0 1 0 3.4 0a1.7 1.7 0 1 0 -3.4 0M413.7 433.3a1.7 1.7 0 1 0 3.4 0a1.7 1.7 0 1 0 -3.4 0M414 411.7a1.7 1.7 0 1 0 3.4 0a1.7 1.7 0 1 0 -3.4 0M413.8 439.1a1.7 1.7 0 1 0 3.4 0a1.7 1.7 0 1 0 -3.4 0M414 433.6a1.7 1.7 0 1 0 3.4 0a1.7 1.7 0 1 0 -3.4 0M414.7 446.6a1.7 1.7 0 1 0 3.4 0a1.7 1.7 0 1 0 -3.4 0M414.6 389.1a1.7 1.7 0 1 0 3.4 0a1.7 1.7 0 1 0 -3.4 0M414.6 410.4a1.7 1.7 0 1 0 3.4 0a1.7 1.7 0 1 0 -3.4 0M414.6 422.4a1.7 1.7 0 1 0 3.4 0a1.7 1.7 0 1 0 -3.4 0M415.4 425.6a1.7 1.7 0 1 0 3.4 0a1.7 1.7 0 1 0 -3.4 0M415.3 416.7a1.7 1.7 0 1 0 3.4 0a1.7 1.7 0 1 0 -3.4 0M415.2 404.4a1.7 1.7 0 1 0 3.4 0a1.7 1.7 0 1 0 -3.4 0M415.3 448.8a1.7 1.7 0 1 0 3.4 0a1.7 1.7 0 1 0 -3.4 0M416 426.5a1.7 1.7 0 1 0 3.4 0a1.7 1.7 0 1 0 -3.4 0M416.2 425.7a1.7 1.7 0 1 0 3.4 0a1.7 1.7 0 1 0 -3.4 0M416.4 404.7a1.7 1.7 0 1 0 3.4 0a1.7 1.7 0 1 0 -3.4 0M416.4 417.5a1.7 1.7 0 1 0 3.4 0a1.7 1.7 0 1 0 -3.4 0M416.9 425.3a1.7 1.7 0 1 0 3.4 0a1.7 1.7 0 1 0 -3.4 0M416.9 433a1.7 1.7 0 1 0 3.4 0a1.7 1.7 0 1 0 -3.4 0M416.8 416.5a1.7 1.7 0 1 0 3.4 0a1.7 1.7 0 1 0 -3.4 0M417.8 438.9a1.7 1.7 0 1 0 3.4 0a1.7 1.7 0 1 0 -3.4 0M417.6 439.6a1.7 1.7 0 1 0 3.4 0a1.7 1.7 0 1 0 -3.4 0M417.6 415.2a1.7 1.7 0 1 0 3.4 0a1.7 1.7 0 1 0 -3.4 0M418.8 425.3a1.7 1.7 0 1 0 3.4 0a1.7 1.7 0 1 0 -3.4 0M418.5 409a1.7 1.7 0 1 0 3.4 0a1.7 1.7 0 1 0 -3.4 0M418.6 363.2a1.7 1.7 0 1 0 3.4 0a1.7 1.7 0 1 0 -3.4 0M418.8 435.8a1.7 1.7 0 1 0 3.4 0a1.7 1.7 0 1 0 -3.4 0M419.2 424.2a1.7 1.7 0 1 0 3.4 0a1.7 1.7 0 1 0 -3.4 0M419.2 421.9a1.7 1.7 0 1 0 3.4 0a1.7 1.7 0 1 0 -3.4 0M419.6 433.6a1.7 1.7 0 1 0 3.4 0a1.7 1.7 0 1 0 -3.4 0M419.5 411.3a1.7 1.7 0 1 0 3.4 0a1.7 1.7 0 1 0 -3.4 0M420.4 435.7a1.7 1.7 0 1 0 3.4 0a1.7 1.7 0 1 0 -3.4 0M420.1 417.3a1.7 1.7 0 1 0 3.4 0a1.7 1.7 0 1 0 -3.4 0M420.3 448.2a1.7 1.7 0 1 0 3.4 0a1.7 1.7 0 1 0 -3.4 0M420.9 433.1a1.7 1.7 0 1 0 3.4 0a1.7 1.7 0 1 0 -3.4 0M420.8 402.7a1.7 1.7 0 1 0 3.4 0a1.7 1.7 0 1 0 -3.4 0M420.8 433.2a1.7 1.7 0 1 0 3.4 0a1.7 1.7 0 1 0 -3.4 0M421.7 424.8a1.7 1.7 0 1 0 3.4 0a1.7 1.7 0 1 0 -3.4 0M421.8 431.1a1.7 1.7 0 1 0 3.4 0a1.7 1.7 0 1 0 -3.4 0M421.7 443.4a1.7 1.7 0 1 0 3.4 0a1.7 1.7 0 1 0 -3.4 0M421.7 414a1.7 1.7 0 1 0 3.4 0a1.7 1.7 0 1 0 -3.4 0M422.6 423.8a1.7 1.7 0 1 0 3.4 0a1.7 1.7 0 1 0 -3.4 0M422.4 425.9a1.7 1.7 0 1 0 3.4 0a1.7 1.7 0 1 0 -3.4 0M422.7 433.8a1.7 1.7 0 1 0 3.4 0a1.7 1.7 0 1 0 -3.4 0M422.6 433.5a1.7 1.7 0 1 0 3.4 0a1.7 1.7 0 1 0 -3.4 0M423.3 421.4a1.7 1.7 0 1 0 3.4 0a1.7 1.7 0 1 0 -3.4 0M423.3 432.6a1.7 1.7 0 1 0 3.4 0a1.7 1.7 0 1 0 -3.4 0M423.3 432.1a1.7 1.7 0 1 0 3.4 0a1.7 1.7 0 1 0 -3.4 0M423.6 439.3a1.7 1.7 0 1 0 3.4 0a1.7 1.7 0 1 0 -3.4 0M424.2 432a1.7 1.7 0 1 0 3.4 0a1.7 1.7 0 1 0 -3.4 0M424.1 392.4a1.7 1.7 0 1 0 3.4 0a1.7 1.7 0 1 0 -3.4 0M424.3 420.5a1.7 1.7 0 1 0 3.4 0a1.7 1.7 0 1 0 -3.4 0M424.9 449a1.7 1.7 0 1 0 3.4 0a1.7 1.7 0 1 0 -3.4 0M424.9 427a1.7 1.7 0 1 0 3.4 0a1.7 1.7 0 1 0 -3.4 0M425 444.1a1.7 1.7 0 1 0 3.4 0a1.7 1.7 0 1 0 -3.4 0M425.6 454.3a1.7 1.7 0 1 0 3.4 0a1.7 1.7 0 1 0 -3.4 0M425.9 374.9a1.7 1.7 0 1 0 3.4 0a1.7 1.7 0 1 0 -3.4 0M425.7 440.9a1.7 1.7 0 1 0 3.4 0a1.7 1.7 0 1 0 -3.4 0M426.4 413.2a1.7 1.7 0 1 0 3.4 0a1.7 1.7 0 1 0 -3.4 0M426.7 423.1a1.7 1.7 0 1 0 3.4 0a1.7 1.7 0 1 0 -3.4 0M426.5 444.8a1.7 1.7 0 1 0 3.4 0a1.7 1.7 0 1 0 -3.4 0M426.4 426.1a1.7 1.7 0 1 0 3.4 0a1.7 1.7 0 1 0 -3.4 0M427.4 402a1.7 1.7 0 1 0 3.4 0a1.7 1.7 0 1 0 -3.4 0M427.5 423.9a1.7 1.7 0 1 0 3.4 0a1.7 1.7 0 1 0 -3.4 0M427.5 451.2a1.7 1.7 0 1 0 3.4 0a1.7 1.7 0 1 0 -3.4 0M427.4 439.8a1.7 1.7 0 1 0 3.4 0a1.7 1.7 0 1 0 -3.4 0M428 429.9a1.7 1.7 0 1 0 3.4 0a1.7 1.7 0 1 0 -3.4 0M428 438.2a1.7 1.7 0 1 0 3.4 0a1.7 1.7 0 1 0 -3.4 0M428.3 440.8a1.7 1.7 0 1 0 3.4 0a1.7 1.7 0 1 0 -3.4 0M428.2 416.4a1.7 1.7 0 1 0 3.4 0a1.7 1.7 0 1 0 -3.4 0M429.2 445.8a1.7 1.7 0 1 0 3.4 0a1.7 1.7 0 1 0 -3.4 0M429.1 425.1a1.7 1.7 0 1 0 3.4 0a1.7 1.7 0 1 0 -3.4 0M429.1 425.8a1.7 1.7 0 1 0 3.4 0a1.7 1.7 0 1 0 -3.4 0M429.1 432.6a1.7 1.7 0 1 0 3.4 0a1.7 1.7 0 1 0 -3.4 0M429.8 449.3a1.7 1.7 0 1 0 3.4 0a1.7 1.7 0 1 0 -3.4 0M429.8 439.1a1.7 1.7 0 1 0 3.4 0a1.7 1.7 0 1 0 -3.4 0M429.7 429.1a1.7 1.7 0 1 0 3.4 0a1.7 1.7 0 1 0 -3.4 0M430.5 437.3a1.7 1.7 0 1 0 3.4 0a1.7 1.7 0 1 0 -3.4 0M430.4 442.9a1.7 1.7 0 1 0 3.4 0a1.7 1.7 0 1 0 -3.4 0M430.5 409.2a1.7 1.7 0 1 0 3.4 0a1.7 1.7 0 1 0 -3.4 0M431.3 432.6a1.7 1.7 0 1 0 3.4 0a1.7 1.7 0 1 0 -3.4 0M431.5 427.1a1.7 1.7 0 1 0 3.4 0a1.7 1.7 0 1 0 -3.4 0M431.4 430.7a1.7 1.7 0 1 0 3.4 0a1.7 1.7 0 1 0 -3.4 0M432.1 438.2a1.7 1.7 0 1 0 3.4 0a1.7 1.7 0 1 0 -3.4 0M432.2 474.1a1.7 1.7 0 1 0 3.4 0a1.7 1.7 0 1 0 -3.4 0M432.1 421.6a1.7 1.7 0 1 0 3.4 0a1.7 1.7 0 1 0 -3.4 0M432.9 426.7a1.7 1.7 0 1 0 3.4 0a1.7 1.7 0 1 0 -3.4 0M433.2 438a1.7 1.7 0 1 0 3.4 0a1.7 1.7 0 1 0 -3.4 0M432.9 407.3a1.7 1.7 0 1 0 3.4 0a1.7 1.7 0 1 0 -3.4 0M433.2 424.3a1.7 1.7 0 1 0 3.4 0a1.7 1.7 0 1 0 -3.4 0M433.8 425.5a1.7 1.7 0 1 0 3.4 0a1.7 1.7 0 1 0 -3.4 0M433.8 430.7a1.7 1.7 0 1 0 3.4 0a1.7 1.7 0 1 0 -3.4 0M433.9 421.9a1.7 1.7 0 1 0 3.4 0a1.7 1.7 0 1 0 -3.4 0M433.8 405.9a1.7 1.7 0 1 0 3.4 0a1.7 1.7 0 1 0 -3.4 0M434.5 419.3a1.7 1.7 0 1 0 3.4 0a1.7 1.7 0 1 0 -3.4 0M434.5 420.4a1.7 1.7 0 1 0 3.4 0a1.7 1.7 0 1 0 -3.4 0M434.4 415.6a1.7 1.7 0 1 0 3.4 0a1.7 1.7 0 1 0 -3.4 0M434.5 412.8a1.7 1.7 0 1 0 3.4 0a1.7 1.7 0 1 0 -3.4 0M435.5 398.7a1.7 1.7 0 1 0 3.4 0a1.7 1.7 0 1 0 -3.4 0M435.5 431.9a1.7 1.7 0 1 0 3.4 0a1.7 1.7 0 1 0 -3.4 0M435.6 425.4a1.7 1.7 0 1 0 3.4 0a1.7 1.7 0 1 0 -3.4 0M436.4 391.5a1.7 1.7 0 1 0 3.4 0a1.7 1.7 0 1 0 -3.4 0M436.1 414.6a1.7 1.7 0 1 0 3.4 0a1.7 1.7 0 1 0 -3.4 0M436.4 415.6a1.7 1.7 0 1 0 3.4 0a1.7 1.7 0 1 0 -3.4 0M436.4 408.6a1.7 1.7 0 1 0 3.4 0a1.7 1.7 0 1 0 -3.4 0M437.2 419.7a1.7 1.7 0 1 0 3.4 0a1.7 1.7 0 1 0 -3.4 0M437.2 410.9a1.7 1.7 0 1 0 3.4 0a1.7 1.7 0 1 0 -3.4 0M436.9 427.3a1.7 1.7 0 1 0 3.4 0a1.7 1.7 0 1 0 -3.4 0M437.2 388.3a1.7 1.7 0 1 0 3.4 0a1.7 1.7 0 1 0 -3.4 0M438 409.9a1.7 1.7 0 1 0 3.4 0a1.7 1.7 0 1 0 -3.4 0M438 425.4a1.7 1.7 0 1 0 3.4 0a1.7 1.7 0 1 0 -3.4 0M437.7 418.3a1.7 1.7 0 1 0 3.4 0a1.7 1.7 0 1 0 -3.4 0M438.8 415.6a1.7 1.7 0 1 0 3.4 0a1.7 1.7 0 1 0 -3.4 0M438.6 394.9a1.7 1.7 0 1 0 3.4 0a1.7 1.7 0 1 0 -3.4 0M438.5 387.5a1.7 1.7 0 1 0 3.4 0a1.7 1.7 0 1 0 -3.4 0M438.7 412.6a1.7 1.7 0 1 0 3.4 0a1.7 1.7 0 1 0 -3.4 0M439.5 384.5a1.7 1.7 0 1 0 3.4 0a1.7 1.7 0 1 0 -3.4 0M439.3 405.3a1.7 1.7 0 1 0 3.4 0a1.7 1.7 0 1 0 -3.4 0M439.4 401.3a1.7 1.7 0 1 0 3.4 0a1.7 1.7 0 1 0 -3.4 0M440.1 392.9a1.7 1.7 0 1 0 3.4 0a1.7 1.7 0 1 0 -3.4 0M440.1 417.3a1.7 1.7 0 1 0 3.4 0a1.7 1.7 0 1 0 -3.4 0M440 417.2a1.7 1.7 0 1 0 3.4 0a1.7 1.7 0 1 0 -3.4 0M440.9 398.1a1.7 1.7 0 1 0 3.4 0a1.7 1.7 0 1 0 -3.4 0M440.8 393.7a1.7 1.7 0 1 0 3.4 0a1.7 1.7 0 1 0 -3.4 0M441.2 433.6a1.7 1.7 0 1 0 3.4 0a1.7 1.7 0 1 0 -3.4 0M441.1 421.9a1.7 1.7 0 1 0 3.4 0a1.7 1.7 0 1 0 -3.4 0M441.9 404.3a1.7 1.7 0 1 0 3.4 0a1.7 1.7 0 1 0 -3.4 0M442 420.6a1.7 1.7 0 1 0 3.4 0a1.7 1.7 0 1 0 -3.4 0M442 406.4a1.7 1.7 0 1 0 3.4 0a1.7 1.7 0 1 0 -3.4 0M442 418.3a1.7 1.7 0 1 0 3.4 0a1.7 1.7 0 1 0 -3.4 0M442.8 399a1.7 1.7 0 1 0 3.4 0a1.7 1.7 0 1 0 -3.4 0M442.5 419.1a1.7 1.7 0 1 0 3.4 0a1.7 1.7 0 1 0 -3.4 0M442.6 390.6a1.7 1.7 0 1 0 3.4 0a1.7 1.7 0 1 0 -3.4 0M442.8 401.2a1.7 1.7 0 1 0 3.4 0a1.7 1.7 0 1 0 -3.4 0M443.5 396.7a1.7 1.7 0 1 0 3.4 0a1.7 1.7 0 1 0 -3.4 0M443.2 433.3a1.7 1.7 0 1 0 3.4 0a1.7 1.7 0 1 0 -3.4 0M443.4 418.9a1.7 1.7 0 1 0 3.4 0a1.7 1.7 0 1 0 -3.4 0M443.2 407.4a1.7 1.7 0 1 0 3.4 0a1.7 1.7 0 1 0 -3.4 0M444.2 413.2a1.7 1.7 0 1 0 3.4 0a1.7 1.7 0 1 0 -3.4 0M444 420.3a1.7 1.7 0 1 0 3.4 0a1.7 1.7 0 1 0 -3.4 0M444 392a1.7 1.7 0 1 0 3.4 0a1.7 1.7 0 1 0 -3.4 0M445.2 394.6a1.7 1.7 0 1 0 3.4 0a1.7 1.7 0 1 0 -3.4 0M445 414.1a1.7 1.7 0 1 0 3.4 0a1.7 1.7 0 1 0 -3.4 0M444.9 423.1a1.7 1.7 0 1 0 3.4 0a1.7 1.7 0 1 0 -3.4 0M445.7 402.2a1.7 1.7 0 1 0 3.4 0a1.7 1.7 0 1 0 -3.4 0M445.6 402.6a1.7 1.7 0 1 0 3.4 0a1.7 1.7 0 1 0 -3.4 0M445.7 419.8a1.7 1.7 0 1 0 3.4 0a1.7 1.7 0 1 0 -3.4 0M446 406.9a1.7 1.7 0 1 0 3.4 0a1.7 1.7 0 1 0 -3.4 0M446.5 431.3a1.7 1.7 0 1 0 3.4 0a1.7 1.7 0 1 0 -3.4 0M446.8 379.3a1.7 1.7 0 1 0 3.4 0a1.7 1.7 0 1 0 -3.4 0M446.5 410a1.7 1.7 0 1 0 3.4 0a1.7 1.7 0 1 0 -3.4 0M446.7 399a1.7 1.7 0 1 0 3.4 0a1.7 1.7 0 1 0 -3.4 0M447.4 438.7a1.7 1.7 0 1 0 3.4 0a1.7 1.7 0 1 0 -3.4 0M447.3 393.6a1.7 1.7 0 1 0 3.4 0a1.7 1.7 0 1 0 -3.4 0M447.6 403.1a1.7 1.7 0 1 0 3.4 0a1.7 1.7 0 1 0 -3.4 0M447.6 438.6a1.7 1.7 0 1 0 3.4 0a1.7 1.7 0 1 0 -3.4 0M448.3 419.7a1.7 1.7 0 1 0 3.4 0a1.7 1.7 0 1 0 -3.4 0M448.4 423.4a1.7 1.7 0 1 0 3.4 0a1.7 1.7 0 1 0 -3.4 0M448.3 407a1.7 1.7 0 1 0 3.4 0a1.7 1.7 0 1 0 -3.4 0M448.9 421.4a1.7 1.7 0 1 0 3.4 0a1.7 1.7 0 1 0 -3.4 0M448.9 406.2a1.7 1.7 0 1 0 3.4 0a1.7 1.7 0 1 0 -3.4 0M448.8 407.6a1.7 1.7 0 1 0 3.4 0a1.7 1.7 0 1 0 -3.4 0M449.8 424.4a1.7 1.7 0 1 0 3.4 0a1.7 1.7 0 1 0 -3.4 0M449.6 414.9a1.7 1.7 0 1 0 3.4 0a1.7 1.7 0 1 0 -3.4 0M449.7 404.2a1.7 1.7 0 1 0 3.4 0a1.7 1.7 0 1 0 -3.4 0M450.6 422.7a1.7 1.7 0 1 0 3.4 0a1.7 1.7 0 1 0 -3.4 0M450.7 397.2a1.7 1.7 0 1 0 3.4 0a1.7 1.7 0 1 0 -3.4 0M450.4 428.1a1.7 1.7 0 1 0 3.4 0a1.7 1.7 0 1 0 -3.4 0M450.6 395.5a1.7 1.7 0 1 0 3.4 0a1.7 1.7 0 1 0 -3.4 0M451.4 431.4a1.7 1.7 0 1 0 3.4 0a1.7 1.7 0 1 0 -3.4 0M451.4 423.2a1.7 1.7 0 1 0 3.4 0a1.7 1.7 0 1 0 -3.4 0M451.3 430.5a1.7 1.7 0 1 0 3.4 0a1.7 1.7 0 1 0 -3.4 0M452.4 425.3a1.7 1.7 0 1 0 3.4 0a1.7 1.7 0 1 0 -3.4 0M452.4 413.7a1.7 1.7 0 1 0 3.4 0a1.7 1.7 0 1 0 -3.4 0M452.1 430.1a1.7 1.7 0 1 0 3.4 0a1.7 1.7 0 1 0 -3.4 0M452.3 430.8a1.7 1.7 0 1 0 3.4 0a1.7 1.7 0 1 0 -3.4 0M452.8 418.8a1.7 1.7 0 1 0 3.4 0a1.7 1.7 0 1 0 -3.4 0M453.1 425.8a1.7 1.7 0 1 0 3.4 0a1.7 1.7 0 1 0 -3.4 0M453 420a1.7 1.7 0 1 0 3.4 0a1.7 1.7 0 1 0 -3.4 0M452.9 430.7a1.7 1.7 0 1 0 3.4 0a1.7 1.7 0 1 0 -3.4 0M453.6 432a1.7 1.7 0 1 0 3.4 0a1.7 1.7 0 1 0 -3.4 0M453.9 413.9a1.7 1.7 0 1 0 3.4 0a1.7 1.7 0 1 0 -3.4 0M453.7 424.2a1.7 1.7 0 1 0 3.4 0a1.7 1.7 0 1 0 -3.4 0M454 426a1.7 1.7 0 1 0 3.4 0a1.7 1.7 0 1 0 -3.4 0M454.5 452.7a1.7 1.7 0 1 0 3.4 0a1.7 1.7 0 1 0 -3.4 0M454.5 440.4a1.7 1.7 0 1 0 3.4 0a1.7 1.7 0 1 0 -3.4 0M454.6 420.5a1.7 1.7 0 1 0 3.4 0a1.7 1.7 0 1 0 -3.4 0M455.4 416.5a1.7 1.7 0 1 0 3.4 0a1.7 1.7 0 1 0 -3.4 0M455.5 411.8a1.7 1.7 0 1 0 3.4 0a1.7 1.7 0 1 0 -3.4 0M455.2 442.2a1.7 1.7 0 1 0 3.4 0a1.7 1.7 0 1 0 -3.4 0M455.4 452a1.7 1.7 0 1 0 3.4 0a1.7 1.7 0 1 0 -3.4 0M456.1 434.9a1.7 1.7 0 1 0 3.4 0a1.7 1.7 0 1 0 -3.4 0M456.4 428.5a1.7 1.7 0 1 0 3.4 0a1.7 1.7 0 1 0 -3.4 0M456.4 425.1a1.7 1.7 0 1 0 3.4 0a1.7 1.7 0 1 0 -3.4 0M456.9 421.1a1.7 1.7 0 1 0 3.4 0a1.7 1.7 0 1 0 -3.4 0M456.8 442.2a1.7 1.7 0 1 0 3.4 0a1.7 1.7 0 1 0 -3.4 0M457 423.2a1.7 1.7 0 1 0 3.4 0a1.7 1.7 0 1 0 -3.4 0M457 391.6a1.7 1.7 0 1 0 3.4 0a1.7 1.7 0 1 0 -3.4 0M457.7 456.2a1.7 1.7 0 1 0 3.4 0a1.7 1.7 0 1 0 -3.4 0M457.7 444.3a1.7 1.7 0 1 0 3.4 0a1.7 1.7 0 1 0 -3.4 0M457.8 443.9a1.7 1.7 0 1 0 3.4 0a1.7 1.7 0 1 0 -3.4 0M457.8 433.5a1.7 1.7 0 1 0 3.4 0a1.7 1.7 0 1 0 -3.4 0M458.7 437.8a1.7 1.7 0 1 0 3.4 0a1.7 1.7 0 1 0 -3.4 0M458.8 441.6a1.7 1.7 0 1 0 3.4 0a1.7 1.7 0 1 0 -3.4 0M458.7 441a1.7 1.7 0 1 0 3.4 0a1.7 1.7 0 1 0 -3.4 0M458.6 415.5a1.7 1.7 0 1 0 3.4 0a1.7 1.7 0 1 0 -3.4 0M459.6 435a1.7 1.7 0 1 0 3.4 0a1.7 1.7 0 1 0 -3.4 0M459.2 408.4a1.7 1.7 0 1 0 3.4 0a1.7 1.7 0 1 0 -3.4 0M459.2 431.2a1.7 1.7 0 1 0 3.4 0a1.7 1.7 0 1 0 -3.4 0M459.5 424.9a1.7 1.7 0 1 0 3.4 0a1.7 1.7 0 1 0 -3.4 0M460.3 448.6a1.7 1.7 0 1 0 3.4 0a1.7 1.7 0 1 0 -3.4 0M460.4 417.7a1.7 1.7 0 1 0 3.4 0a1.7 1.7 0 1 0 -3.4 0M460.1 442a1.7 1.7 0 1 0 3.4 0a1.7 1.7 0 1 0 -3.4 0M461 407.5a1.7 1.7 0 1 0 3.4 0a1.7 1.7 0 1 0 -3.4 0M461 442.3a1.7 1.7 0 1 0 3.4 0a1.7 1.7 0 1 0 -3.4 0M460.8 448.4a1.7 1.7 0 1 0 3.4 0a1.7 1.7 0 1 0 -3.4 0M461.8 443.7a1.7 1.7 0 1 0 3.4 0a1.7 1.7 0 1 0 -3.4 0M462 444.5a1.7 1.7 0 1 0 3.4 0a1.7 1.7 0 1 0 -3.4 0M461.7 436.8a1.7 1.7 0 1 0 3.4 0a1.7 1.7 0 1 0 -3.4 0M461.9 433.1a1.7 1.7 0 1 0 3.4 0a1.7 1.7 0 1 0 -3.4 0M462.5 436.4a1.7 1.7 0 1 0 3.4 0a1.7 1.7 0 1 0 -3.4 0M462.4 442.5a1.7 1.7 0 1 0 3.4 0a1.7 1.7 0 1 0 -3.4 0M462.8 431.3a1.7 1.7 0 1 0 3.4 0a1.7 1.7 0 1 0 -3.4 0M463.3 448.3a1.7 1.7 0 1 0 3.4 0a1.7 1.7 0 1 0 -3.4 0M463.5 435.9a1.7 1.7 0 1 0 3.4 0a1.7 1.7 0 1 0 -3.4 0M463.6 431.3a1.7 1.7 0 1 0 3.4 0a1.7 1.7 0 1 0 -3.4 0M463.2 442.8a1.7 1.7 0 1 0 3.4 0a1.7 1.7 0 1 0 -3.4 0M464.3 433.8a1.7 1.7 0 1 0 3.4 0a1.7 1.7 0 1 0 -3.4 0M464.4 447a1.7 1.7 0 1 0 3.4 0a1.7 1.7 0 1 0 -3.4 0M464.1 437.5a1.7 1.7 0 1 0 3.4 0a1.7 1.7 0 1 0 -3.4 0M465.1 459.7a1.7 1.7 0 1 0 3.4 0a1.7 1.7 0 1 0 -3.4 0M465 455.7a1.7 1.7 0 1 0 3.4 0a1.7 1.7 0 1 0 -3.4 0M465.2 442.4a1.7 1.7 0 1 0 3.4 0a1.7 1.7 0 1 0 -3.4 0M465.9 452.3a1.7 1.7 0 1 0 3.4 0a1.7 1.7 0 1 0 -3.4 0M466 423.7a1.7 1.7 0 1 0 3.4 0a1.7 1.7 0 1 0 -3.4 0M465.9 429.1a1.7 1.7 0 1 0 3.4 0a1.7 1.7 0 1 0 -3.4 0M466.4 455.3a1.7 1.7 0 1 0 3.4 0a1.7 1.7 0 1 0 -3.4 0M466.4 458.5a1.7 1.7 0 1 0 3.4 0a1.7 1.7 0 1 0 -3.4 0M466.5 453.4a1.7 1.7 0 1 0 3.4 0a1.7 1.7 0 1 0 -3.4 0M467.5 491.4a1.7 1.7 0 1 0 3.4 0a1.7 1.7 0 1 0 -3.4 0M467.2 456.1a1.7 1.7 0 1 0 3.4 0a1.7 1.7 0 1 0 -3.4 0M467.3 432.1a1.7 1.7 0 1 0 3.4 0a1.7 1.7 0 1 0 -3.4 0M468.4 430.9a1.7 1.7 0 1 0 3.4 0a1.7 1.7 0 1 0 -3.4 0M468.3 402.5a1.7 1.7 0 1 0 3.4 0a1.7 1.7 0 1 0 -3.4 0M468.1 417.2a1.7 1.7 0 1 0 3.4 0a1.7 1.7 0 1 0 -3.4 0M468 429.8a1.7 1.7 0 1 0 3.4 0a1.7 1.7 0 1 0 -3.4 0M468.9 438.9a1.7 1.7 0 1 0 3.4 0a1.7 1.7 0 1 0 -3.4 0M469 429.8a1.7 1.7 0 1 0 3.4 0a1.7 1.7 0 1 0 -3.4 0M469 456.3a1.7 1.7 0 1 0 3.4 0a1.7 1.7 0 1 0 -3.4 0M469.2 427.1a1.7 1.7 0 1 0 3.4 0a1.7 1.7 0 1 0 -3.4 0M469.6 433.7a1.7 1.7 0 1 0 3.4 0a1.7 1.7 0 1 0 -3.4 0M469.6 446.4a1.7 1.7 0 1 0 3.4 0a1.7 1.7 0 1 0 -3.4 0M469.8 453.2a1.7 1.7 0 1 0 3.4 0a1.7 1.7 0 1 0 -3.4 0M469.8 482.5a1.7 1.7 0 1 0 3.4 0a1.7 1.7 0 1 0 -3.4 0M470.8 434.4a1.7 1.7 0 1 0 3.4 0a1.7 1.7 0 1 0 -3.4 0M470.6 440.5a1.7 1.7 0 1 0 3.4 0a1.7 1.7 0 1 0 -3.4 0M470.4 449.6a1.7 1.7 0 1 0 3.4 0a1.7 1.7 0 1 0 -3.4 0M471.4 434a1.7 1.7 0 1 0 3.4 0a1.7 1.7 0 1 0 -3.4 0M471.6 458.3a1.7 1.7 0 1 0 3.4 0a1.7 1.7 0 1 0 -3.4 0M471.2 450.1a1.7 1.7 0 1 0 3.4 0a1.7 1.7 0 1 0 -3.4 0M472.4 498.8a1.7 1.7 0 1 0 3.4 0a1.7 1.7 0 1 0 -3.4 0M472.3 439.4a1.7 1.7 0 1 0 3.4 0a1.7 1.7 0 1 0 -3.4 0M472.1 448.5a1.7 1.7 0 1 0 3.4 0a1.7 1.7 0 1 0 -3.4 0M472.3 426.4a1.7 1.7 0 1 0 3.4 0a1.7 1.7 0 1 0 -3.4 0M472.9 469.3a1.7 1.7 0 1 0 3.4 0a1.7 1.7 0 1 0 -3.4 0M472.9 463.8a1.7 1.7 0 1 0 3.4 0a1.7 1.7 0 1 0 -3.4 0M473 452a1.7 1.7 0 1 0 3.4 0a1.7 1.7 0 1 0 -3.4 0M473.2 451.1a1.7 1.7 0 1 0 3.4 0a1.7 1.7 0 1 0 -3.4 0M473.6 439.2a1.7 1.7 0 1 0 3.4 0a1.7 1.7 0 1 0 -3.4 0M473.6 443.5a1.7 1.7 0 1 0 3.4 0a1.7 1.7 0 1 0 -3.4 0M473.7 454.7a1.7 1.7 0 1 0 3.4 0a1.7 1.7 0 1 0 -3.4 0M474 450.1a1.7 1.7 0 1 0 3.4 0a1.7 1.7 0 1 0 -3.4 0M474.8 464.7a1.7 1.7 0 1 0 3.4 0a1.7 1.7 0 1 0 -3.4 0M474.8 446.1a1.7 1.7 0 1 0 3.4 0a1.7 1.7 0 1 0 -3.4 0M474.4 404.6a1.7 1.7 0 1 0 3.4 0a1.7 1.7 0 1 0 -3.4 0M475.6 430.8a1.7 1.7 0 1 0 3.4 0a1.7 1.7 0 1 0 -3.4 0M475.3 460.5a1.7 1.7 0 1 0 3.4 0a1.7 1.7 0 1 0 -3.4 0M475.5 442.4a1.7 1.7 0 1 0 3.4 0a1.7 1.7 0 1 0 -3.4 0M476.1 443.5a1.7 1.7 0 1 0 3.4 0a1.7 1.7 0 1 0 -3.4 0M476.1 435.4a1.7 1.7 0 1 0 3.4 0a1.7 1.7 0 1 0 -3.4 0M476.1 455.5a1.7 1.7 0 1 0 3.4 0a1.7 1.7 0 1 0 -3.4 0M476.1 466.7a1.7 1.7 0 1 0 3.4 0a1.7 1.7 0 1 0 -3.4 0M477.1 437.6a1.7 1.7 0 1 0 3.4 0a1.7 1.7 0 1 0 -3.4 0M477.2 454.2a1.7 1.7 0 1 0 3.4 0a1.7 1.7 0 1 0 -3.4 0M477.2 457.7a1.7 1.7 0 1 0 3.4 0a1.7 1.7 0 1 0 -3.4 0M476.9 451.5a1.7 1.7 0 1 0 3.4 0a1.7 1.7 0 1 0 -3.4 0M477.8 433.9a1.7 1.7 0 1 0 3.4 0a1.7 1.7 0 1 0 -3.4 0M478 446.9a1.7 1.7 0 1 0 3.4 0a1.7 1.7 0 1 0 -3.4 0M477.6 469.4a1.7 1.7 0 1 0 3.4 0a1.7 1.7 0 1 0 -3.4 0M477.9 442.4a1.7 1.7 0 1 0 3.4 0a1.7 1.7 0 1 0 -3.4 0M478.5 440.6a1.7 1.7 0 1 0 3.4 0a1.7 1.7 0 1 0 -3.4 0M478.7 460.9a1.7 1.7 0 1 0 3.4 0a1.7 1.7 0 1 0 -3.4 0M478.6 438.8a1.7 1.7 0 1 0 3.4 0a1.7 1.7 0 1 0 -3.4 0M478.4 463a1.7 1.7 0 1 0 3.4 0a1.7 1.7 0 1 0 -3.4 0M479.3 452.9a1.7 1.7 0 1 0 3.4 0a1.7 1.7 0 1 0 -3.4 0M479.3 428.5a1.7 1.7 0 1 0 3.4 0a1.7 1.7 0 1 0 -3.4 0M479.3 434.2a1.7 1.7 0 1 0 3.4 0a1.7 1.7 0 1 0 -3.4 0M480.3 456.3a1.7 1.7 0 1 0 3.4 0a1.7 1.7 0 1 0 -3.4 0M480.4 461.9a1.7 1.7 0 1 0 3.4 0a1.7 1.7 0 1 0 -3.4 0M480.4 460a1.7 1.7 0 1 0 3.4 0a1.7 1.7 0 1 0 -3.4 0M480.9 440.3a1.7 1.7 0 1 0 3.4 0a1.7 1.7 0 1 0 -3.4 0M480.8 439.1a1.7 1.7 0 1 0 3.4 0a1.7 1.7 0 1 0 -3.4 0M481.1 457a1.7 1.7 0 1 0 3.4 0a1.7 1.7 0 1 0 -3.4 0M480.9 457.6a1.7 1.7 0 1 0 3.4 0a1.7 1.7 0 1 0 -3.4 0M496.9 442.4a1.7 1.7 0 1 0 3.4 0a1.7 1.7 0 1 0 -3.4 0M497 442.9a1.7 1.7 0 1 0 3.4 0a1.7 1.7 0 1 0 -3.4 0M496.9 438.9a1.7 1.7 0 1 0 3.4 0a1.7 1.7 0 1 0 -3.4 0M496.9 432.7a1.7 1.7 0 1 0 3.4 0a1.7 1.7 0 1 0 -3.4 0M497.4 440.6a1.7 1.7 0 1 0 3.4 0a1.7 1.7 0 1 0 -3.4 0M497.4 425.1a1.7 1.7 0 1 0 3.4 0a1.7 1.7 0 1 0 -3.4 0M497.8 431.8a1.7 1.7 0 1 0 3.4 0a1.7 1.7 0 1 0 -3.4 0M497.8 444.1a1.7 1.7 0 1 0 3.4 0a1.7 1.7 0 1 0 -3.4 0M498.6 440.9a1.7 1.7 0 1 0 3.4 0a1.7 1.7 0 1 0 -3.4 0M498.4 435.2a1.7 1.7 0 1 0 3.4 0a1.7 1.7 0 1 0 -3.4 0M498.6 451a1.7 1.7 0 1 0 3.4 0a1.7 1.7 0 1 0 -3.4 0M498.2 445a1.7 1.7 0 1 0 3.4 0a1.7 1.7 0 1 0 -3.4 0M499.2 431.6a1.7 1.7 0 1 0 3.4 0a1.7 1.7 0 1 0 -3.4 0M499.3 436.4a1.7 1.7 0 1 0 3.4 0a1.7 1.7 0 1 0 -3.4 0M499.2 441.4a1.7 1.7 0 1 0 3.4 0a1.7 1.7 0 1 0 -3.4 0M499.4 442.2a1.7 1.7 0 1 0 3.4 0a1.7 1.7 0 1 0 -3.4 0M499.8 439.6a1.7 1.7 0 1 0 3.4 0a1.7 1.7 0 1 0 -3.4 0M499.8 440.7a1.7 1.7 0 1 0 3.4 0a1.7 1.7 0 1 0 -3.4 0M500.2 438.1a1.7 1.7 0 1 0 3.4 0a1.7 1.7 0 1 0 -3.4 0M500.1 432.7a1.7 1.7 0 1 0 3.4 0a1.7 1.7 0 1 0 -3.4 0M501 437.7a1.7 1.7 0 1 0 3.4 0a1.7 1.7 0 1 0 -3.4 0M500.7 442.8a1.7 1.7 0 1 0 3.4 0a1.7 1.7 0 1 0 -3.4 0M500.9 445.6a1.7 1.7 0 1 0 3.4 0a1.7 1.7 0 1 0 -3.4 0M500.7 438.9a1.7 1.7 0 1 0 3.4 0a1.7 1.7 0 1 0 -3.4 0M501.8 434.8a1.7 1.7 0 1 0 3.4 0a1.7 1.7 0 1 0 -3.4 0M501.6 444.6a1.7 1.7 0 1 0 3.4 0a1.7 1.7 0 1 0 -3.4 0M501.6 446.3a1.7 1.7 0 1 0 3.4 0a1.7 1.7 0 1 0 -3.4 0M501.6 428.6a1.7 1.7 0 1 0 3.4 0a1.7 1.7 0 1 0 -3.4 0M502.3 465.3a1.7 1.7 0 1 0 3.4 0a1.7 1.7 0 1 0 -3.4 0M502.4 441.6a1.7 1.7 0 1 0 3.4 0a1.7 1.7 0 1 0 -3.4 0M502.6 466.1a1.7 1.7 0 1 0 3.4 0a1.7 1.7 0 1 0 -3.4 0M502.4 459.8a1.7 1.7 0 1 0 3.4 0a1.7 1.7 0 1 0 -3.4 0M503.4 452a1.7 1.7 0 1 0 3.4 0a1.7 1.7 0 1 0 -3.4 0M503.4 452.8a1.7 1.7 0 1 0 3.4 0a1.7 1.7 0 1 0 -3.4 0M503.3 456.3a1.7 1.7 0 1 0 3.4 0a1.7 1.7 0 1 0 -3.4 0M503 448.5a1.7 1.7 0 1 0 3.4 0a1.7 1.7 0 1 0 -3.4 0M504 463a1.7 1.7 0 1 0 3.4 0a1.7 1.7 0 1 0 -3.4 0M504.1 452.7a1.7 1.7 0 1 0 3.4 0a1.7 1.7 0 1 0 -3.4 0M504 461.1a1.7 1.7 0 1 0 3.4 0a1.7 1.7 0 1 0 -3.4 0M503.9 457.3a1.7 1.7 0 1 0 3.4 0a1.7 1.7 0 1 0 -3.4 0M503.9 462.4a1.7 1.7 0 1 0 3.4 0a1.7 1.7 0 1 0 -3.4 0M504.7 462.8a1.7 1.7 0 1 0 3.4 0a1.7 1.7 0 1 0 -3.4 0M504.9 460.6a1.7 1.7 0 1 0 3.4 0a1.7 1.7 0 1 0 -3.4 0M504.7 458.4a1.7 1.7 0 1 0 3.4 0a1.7 1.7 0 1 0 -3.4 0M505 471.2a1.7 1.7 0 1 0 3.4 0a1.7 1.7 0 1 0 -3.4 0M505.7 465.3a1.7 1.7 0 1 0 3.4 0a1.7 1.7 0 1 0 -3.4 0M505.7 472.3a1.7 1.7 0 1 0 3.4 0a1.7 1.7 0 1 0 -3.4 0M505.5 462.1a1.7 1.7 0 1 0 3.4 0a1.7 1.7 0 1 0 -3.4 0M505.6 471.7a1.7 1.7 0 1 0 3.4 0a1.7 1.7 0 1 0 -3.4 0M505.5 461.1a1.7 1.7 0 1 0 3.4 0a1.7 1.7 0 1 0 -3.4 0M506.5 465.7a1.7 1.7 0 1 0 3.4 0a1.7 1.7 0 1 0 -3.4 0M506.3 471.4a1.7 1.7 0 1 0 3.4 0a1.7 1.7 0 1 0 -3.4 0M506.3 461a1.7 1.7 0 1 0 3.4 0a1.7 1.7 0 1 0 -3.4 0M506.5 465.6a1.7 1.7 0 1 0 3.4 0a1.7 1.7 0 1 0 -3.4 0M506.5 470.2a1.7 1.7 0 1 0 3.4 0a1.7 1.7 0 1 0 -3.4 0M507.1 467.1a1.7 1.7 0 1 0 3.4 0a1.7 1.7 0 1 0 -3.4 0M507.3 462.8a1.7 1.7 0 1 0 3.4 0a1.7 1.7 0 1 0 -3.4 0M507.1 456.2a1.7 1.7 0 1 0 3.4 0a1.7 1.7 0 1 0 -3.4 0M507.4 470.9a1.7 1.7 0 1 0 3.4 0a1.7 1.7 0 1 0 -3.4 0M507.8 473.9a1.7 1.7 0 1 0 3.4 0a1.7 1.7 0 1 0 -3.4 0M508 472.6a1.7 1.7 0 1 0 3.4 0a1.7 1.7 0 1 0 -3.4 0M508.2 468.9a1.7 1.7 0 1 0 3.4 0a1.7 1.7 0 1 0 -3.4 0M507.8 480.2a1.7 1.7 0 1 0 3.4 0a1.7 1.7 0 1 0 -3.4 0M509 464.9a1.7 1.7 0 1 0 3.4 0a1.7 1.7 0 1 0 -3.4 0M508.6 468a1.7 1.7 0 1 0 3.4 0a1.7 1.7 0 1 0 -3.4 0M508.8 479.7a1.7 1.7 0 1 0 3.4 0a1.7 1.7 0 1 0 -3.4 0M508.7 466.2a1.7 1.7 0 1 0 3.4 0a1.7 1.7 0 1 0 -3.4 0M509.7 455.1a1.7 1.7 0 1 0 3.4 0a1.7 1.7 0 1 0 -3.4 0M509.5 465.8a1.7 1.7 0 1 0 3.4 0a1.7 1.7 0 1 0 -3.4 0M509.5 457.1a1.7 1.7 0 1 0 3.4 0a1.7 1.7 0 1 0 -3.4 0M509.8 434.1a1.7 1.7 0 1 0 3.4 0a1.7 1.7 0 1 0 -3.4 0M510.6 437a1.7 1.7 0 1 0 3.4 0a1.7 1.7 0 1 0 -3.4 0M510.5 445.4a1.7 1.7 0 1 0 3.4 0a1.7 1.7 0 1 0 -3.4 0M510.5 443.6a1.7 1.7 0 1 0 3.4 0a1.7 1.7 0 1 0 -3.4 0M510.3 449.4a1.7 1.7 0 1 0 3.4 0a1.7 1.7 0 1 0 -3.4 0M511.3 428.4a1.7 1.7 0 1 0 3.4 0a1.7 1.7 0 1 0 -3.4 0M511 431.9a1.7 1.7 0 1 0 3.4 0a1.7 1.7 0 1 0 -3.4 0M511 436.9a1.7 1.7 0 1 0 3.4 0a1.7 1.7 0 1 0 -3.4 0M511.3 444.8a1.7 1.7 0 1 0 3.4 0a1.7 1.7 0 1 0 -3.4 0M512 429.9a1.7 1.7 0 1 0 3.4 0a1.7 1.7 0 1 0 -3.4 0M512.2 437.6a1.7 1.7 0 1 0 3.4 0a1.7 1.7 0 1 0 -3.4 0M511.8 423a1.7 1.7 0 1 0 3.4 0a1.7 1.7 0 1 0 -3.4 0M511.9 414a1.7 1.7 0 1 0 3.4 0a1.7 1.7 0 1 0 -3.4 0M515.4 464.4a1.7 1.7 0 1 0 3.4 0a1.7 1.7 0 1 0 -3.4 0M515.4 459.5a1.7 1.7 0 1 0 3.4 0a1.7 1.7 0 1 0 -3.4 0M515.2 454.1a1.7 1.7 0 1 0 3.4 0a1.7 1.7 0 1 0 -3.4 0M515.5 467.4a1.7 1.7 0 1 0 3.4 0a1.7 1.7 0 1 0 -3.4 0M516 466.5a1.7 1.7 0 1 0 3.4 0a1.7 1.7 0 1 0 -3.4 0M516.4 472.2a1.7 1.7 0 1 0 3.4 0a1.7 1.7 0 1 0 -3.4 0M516.1 467.8a1.7 1.7 0 1 0 3.4 0a1.7 1.7 0 1 0 -3.4 0M516.1 475a1.7 1.7 0 1 0 3.4 0a1.7 1.7 0 1 0 -3.4 0M517 463.4a1.7 1.7 0 1 0 3.4 0a1.7 1.7 0 1 0 -3.4 0M516.8 474.8a1.7 1.7 0 1 0 3.4 0a1.7 1.7 0 1 0 -3.4 0M516.9 462a1.7 1.7 0 1 0 3.4 0a1.7 1.7 0 1 0 -3.4 0M516.8 482.6a1.7 1.7 0 1 0 3.4 0a1.7 1.7 0 1 0 -3.4 0M517.9 474a1.7 1.7 0 1 0 3.4 0a1.7 1.7 0 1 0 -3.4 0M517.9 477.8a1.7 1.7 0 1 0 3.4 0a1.7 1.7 0 1 0 -3.4 0M517.9 474a1.7 1.7 0 1 0 3.4 0a1.7 1.7 0 1 0 -3.4 0M517.6 467a1.7 1.7 0 1 0 3.4 0a1.7 1.7 0 1 0 -3.4 0M518.8 479.7a1.7 1.7 0 1 0 3.4 0a1.7 1.7 0 1 0 -3.4 0M518.7 496.1a1.7 1.7 0 1 0 3.4 0a1.7 1.7 0 1 0 -3.4 0M518.4 479.7a1.7 1.7 0 1 0 3.4 0a1.7 1.7 0 1 0 -3.4 0M518.6 474.3a1.7 1.7 0 1 0 3.4 0a1.7 1.7 0 1 0 -3.4 0M519.5 476.7a1.7 1.7 0 1 0 3.4 0a1.7 1.7 0 1 0 -3.4 0M519.3 477.1a1.7 1.7 0 1 0 3.4 0a1.7 1.7 0 1 0 -3.4 0M519.2 472.6a1.7 1.7 0 1 0 3.4 0a1.7 1.7 0 1 0 -3.4 0M519.3 472.9a1.7 1.7 0 1 0 3.4 0a1.7 1.7 0 1 0 -3.4 0M520 482.7a1.7 1.7 0 1 0 3.4 0a1.7 1.7 0 1 0 -3.4 0M520.3 476.2a1.7 1.7 0 1 0 3.4 0a1.7 1.7 0 1 0 -3.4 0M520.1 489.1a1.7 1.7 0 1 0 3.4 0a1.7 1.7 0 1 0 -3.4 0M520.1 480.4a1.7 1.7 0 1 0 3.4 0a1.7 1.7 0 1 0 -3.4 0M521 479.1a1.7 1.7 0 1 0 3.4 0a1.7 1.7 0 1 0 -3.4 0M520.8 479.5a1.7 1.7 0 1 0 3.4 0a1.7 1.7 0 1 0 -3.4 0M520.9 477.8a1.7 1.7 0 1 0 3.4 0a1.7 1.7 0 1 0 -3.4 0M520.9 488.9a1.7 1.7 0 1 0 3.4 0a1.7 1.7 0 1 0 -3.4 0M478.6 495.6a1.7 1.7 0 1 0 3.4 0a1.7 1.7 0 1 0 -3.4 0M331 472.4a1.7 1.7 0 1 0 3.4 0a1.7 1.7 0 1 0 -3.4 0M331.5 472.6a1.7 1.7 0 1 0 3.4 0a1.7 1.7 0 1 0 -3.4 0M331.2 472a1.7 1.7 0 1 0 3.4 0a1.7 1.7 0 1 0 -3.4 0" fill="none" stroke="#141414" stroke-width="0.9"/>
<path d="M154.8,444 155.8,437.1 156.7,436.6 157.9,430.1 159.2,435.2 159.9,432.8 160.9,436.5 161.6,432.3 162.6,434 163.6,428.5 164.8,431.4 165.7,429.3 166.7,432.9 168,429.6 168.7,432.3 169.9,427.8 170.7,429.5 171.9,424.9 172.8,427.9 173.7,424.5 174.9,426.9 175.7,421.6 177,423.1 178.1,417 179,421.8 179.9,415 180.7,419 181.8,415.3 182.8,420.4 183.6,417.5 184.6,422.5 185.6,421.6 186.7,422.6 187.4,415.3 188.7,416.5 189.9,410.7 191.1,413.2 192.2,405.6 193.1,408.1 194.4,410.8 195.5,428.6 196.4,437.3 197.4,445.2 198.4,442 199.5,450.6 200.5,449.1 201.4,456.1 202.7,452.9 203.8,461.6 204.9,459.3 205.6,464.2 206.5,457.4 207.2,458.6 208.3,450.2 209.6,447.6 210.4,438.1 211.2,442.5 211.9,434.9 212.8,439.2 213.6,433.6 214.5,438 215.5,433.5 216.2,441.4 217.1,432 218.3,433.9 219.3,424 220.3,425.2 221.3,413.4 222.6,408.1 223.9,396.7 224.7,399.1 225.4,388.6 226.7,396.9 227.9,398.2 229.1,404.4M263.8,417.6 264.6,410.7 265.4,416.6 266.3,405.1 267.1,411.7 268.2,406.8 269.3,412.5 270,406.1 271,418.2 272.2,420.3 273.1,429.7 274.3,427.6 275.3,437.9 276.5,435.7 277.3,439.6 278.1,432.2 279.2,434.5 280,428.3 281.3,429.5 282.4,417 283.4,420.8 284.7,405.4 285.8,416.4 287,417.2 288,428 288.9,426 289.9,439.9 290.9,437.8 292,446.5 292.7,446.7 293.9,457.5 295.1,450.6 296.1,449.7 297.1,439.9 298.3,441.9 299.5,436.1 300.8,440.5 301.9,434 303.2,439.2 304.1,431.6 305.3,436.8 306.3,431.7 307.5,434.5 308.6,429 309.4,433.2 310.6,425.7 311.9,435.3 313.1,433.5 314.1,439.6 315.2,434.4 316,440.5 316.8,432 318,440.4 319.3,435.1 320.3,442.3 321.5,434.5 322.3,441.6 323.3,435.7 324.2,441.5 325,437.7 326.3,442.4 327.1,435.2 327.9,441.1 328.9,435.9 330,443.2 331.2,438.3 332.4,444.1 333.5,439.8 334.2,449 335.5,444.1 336.6,451 337.5,445.2 338.6,448.2 339.9,442.1 340.9,444.9 341.9,438.6 343,440.3 343.9,432.4 345,430.6 345.8,420.4 346.7,421.7 348,415.4 348.9,419.6 349.9,415.3 350.7,419.1 351.9,412.8 353,414.2 353.8,407.1 354.6,411.6 355.3,405.1 356.2,410.7 357.3,404.9 358.4,408.6 359.4,405.9 360.5,411.8 361.4,408.7 362.2,414.6 363.1,409.9 364,412.7 365.2,408.8 365.9,410.8 367.2,406.6 367.9,410.2 369,407.7 369.7,412.4 370.7,408.2 371.5,412 372.6,411.3 373.6,415.1 374.8,412.1 375.6,415.8 376.8,409.5 377.8,409.7 378.7,403.5 379.8,404.1 380.7,398.6 381.9,401.5 383,393.7 384,403.2 385.1,401.4 385.9,409.2 386.9,410.9 387.8,421.8 388.6,420.1 389.8,425.7 390.8,414.5 391.6,415.3 392.3,406.1 393.4,408.5 394.7,403.6 395.9,407.4 396.9,400.7 398,403.4 398.8,399.5 400,408.4 401.1,407.5 402.3,416.1 403.2,414.3 404.4,423.7 405.4,420.9 406.4,424.9 407.1,420.2 408.3,423.8 409.4,418.6 410.5,424.5 411.5,422.1 412.7,427.4 413.5,426.2 414.7,428 415.7,424 416.8,426.6 417.7,421.5 418.9,427.3 419.9,421.9 421.2,428 422.2,423 423,429 423.9,425.3 424.6,429.9 425.6,426.3 426.9,434.3 428,429.5 428.9,435 429.8,432.5 430.8,436.7 431.7,430.4 432.9,431.3 434,422.9 435.1,425.2 436.1,415.9 437,416.7 438.2,408.9 439,412.2 439.9,405.4 440.7,407.7 441.9,402.2 442.9,408.7 443.8,405.9 445.1,413.4 446,410.2 447.1,416.3 447.9,411.6 448.9,414.7 449.9,412.8 450.9,418.5 451.6,413.3 452.8,420.1 453.6,416.7 454.5,424.9 455.5,421.7 456.4,428 457.3,427.9 458.3,433.6 459.5,430.3 460.6,436.3 461.3,432.8 462.3,440.2 463,434.9 464.2,439.9 465.2,437.2 465.9,442.7 466.8,436.8 467.5,443.6 468.5,437.9 469.4,443 470.4,440.1 471.3,444.1 472,442.9 472.8,446.4 474,444.2 475,449.5 475.9,445.9 477.2,453.1 478.1,447.7 478.9,453.3 479.9,448.4 480.7,451.3 481.5,446.5 482.4,449.3M498.8,440.4 499.7,438.1 500.8,443.2 501.9,440.4 502.7,447.2 503.8,447.7 505,457.4 506.1,457.1 506.9,464.6 507.8,464.7 508.7,471.3 510,468.3 511,460.7 512.2,438.6 513.4,429.2M517.4,468.3 518.5,467.5 519.6,476.8 520.5,476.8 521.5,484.4 522.2,482.8" fill="none" stroke="#d9262b" stroke-width="1.0" stroke-linejoin="round"/>
<rect x="61" y="287.6" width="498.5" height="224" fill="none" stroke="#111" stroke-width="1.5"/>
<path d="M61 511.6h5M61 479.6h5M61 447.6h5M61 415.6h5M61 383.6h5M61 351.6h5M61 319.6h5M61 287.6h5M559.5 492.5h-6M559.5 443.5h-6M559.5 394.5h-6M559.5 345.5h-6M559.5 296.5h-6M144.8 511.6v-6M225.9 511.6v-6M310.1 511.6v-6M394.3 511.6v-6M475.8 511.6v-6" stroke="#111" stroke-width="1.3" fill="none"/>
<text x="55.6" y="517.9" text-anchor="end" style="font-family:'Liberation Sans',sans-serif;font-size:17.5px">0</text>
<text x="55.6" y="485.9" text-anchor="end" style="font-family:'Liberation Sans',sans-serif;font-size:17.5px">1</text>
<text x="55.6" y="453.9" text-anchor="end" style="font-family:'Liberation Sans',sans-serif;font-size:17.5px">2</text>
<text x="55.6" y="421.9" text-anchor="end" style="font-family:'Liberation Sans',sans-serif;font-size:17.5px">3</text>
<text x="55.6" y="389.9" text-anchor="end" style="font-family:'Liberation Sans',sans-serif;font-size:17.5px">4</text>
<text x="55.6" y="357.9" text-anchor="end" style="font-family:'Liberation Sans',sans-serif;font-size:17.5px">5</text>
<text x="55.6" y="325.9" text-anchor="end" style="font-family:'Liberation Sans',sans-serif;font-size:17.5px">6</text>
<text x="55.6" y="293.9" text-anchor="end" style="font-family:'Liberation Sans',sans-serif;font-size:17.5px">7</text>
<text x="564" y="498.8" style="font-family:'Liberation Sans',sans-serif;font-size:17.5px">0</text>
<text x="564" y="449.8" style="font-family:'Liberation Sans',sans-serif;font-size:17.5px">5</text>
<text x="564" y="400.8" style="font-family:'Liberation Sans',sans-serif;font-size:17.5px">10</text>
<text x="564" y="351.8" style="font-family:'Liberation Sans',sans-serif;font-size:17.5px">15</text>
<text x="564" y="302.8" style="font-family:'Liberation Sans',sans-serif;font-size:17.5px">20</text>
<text x="56.3" y="533.1" text-anchor="middle" style="font-family:'Liberation Serif',serif;font-size:17.3px">May</text>
<text x="140.1" y="533.1" text-anchor="middle" style="font-family:'Liberation Serif',serif;font-size:17.3px">Jun</text>
<text x="221.5" y="533.1" text-anchor="middle" style="font-family:'Liberation Serif',serif;font-size:17.3px">Jul</text>
<text x="306" y="533.1" text-anchor="middle" style="font-family:'Liberation Serif',serif;font-size:17.3px">Aug</text>
<text x="389.5" y="533.1" text-anchor="middle" style="font-family:'Liberation Serif',serif;font-size:17.3px">Sep</text>
<text x="471.5" y="533.1" text-anchor="middle" style="font-family:'Liberation Serif',serif;font-size:17.3px">Oct</text>
<text x="555.3" y="533.1" text-anchor="middle" style="font-family:'Liberation Serif',serif;font-size:17.3px">Nov</text>
<text transform="translate(79 324.1) scale(1 1.065)" style="font-family:'Liberation Sans',sans-serif;font-weight:bold;font-size:21.5px">2009</text>
<text transform="translate(20.5 395.4) rotate(-90)" text-anchor="middle" style="font-family:'Liberation Serif',serif;font-size:21.85px">CO<tspan dy="5" style="font-size:14.3px">2</tspan><tspan dy="-5"> flux (µmol m</tspan><tspan dy="-10" style="font-size:15.5px">−2</tspan><tspan dy="10"> s</tspan><tspan dy="-10" style="font-size:15.5px">−1</tspan><tspan dy="10">)</tspan></text>
<text transform="translate(609.6 399.8) rotate(-90)" text-anchor="middle" style="font-family:'Liberation Serif',serif;font-size:22.4px">Temp (°C)</text>
<path d="M386.1 494.2L365.5 459" stroke="#111" stroke-width="2.6"/>
<path d="M360.7 450.5L364.2 465.9L366 460L372.9 461.7Z" fill="#111" stroke="#111" stroke-width="1" stroke-linejoin="round"/>
<text x="392.6" y="491.1" style="font-family:'Liberation Sans',sans-serif;font-weight:bold;font-size:23.5px">B</text>
<text x="306.8" y="560.8" text-anchor="middle" style="font-family:'Liberation Serif',serif;font-size:21px">Date</text>
<path d="M60.8,642.3 64.2,646.2 65.3,649.4 66.5,653.1 68.8,649.2 70,652.8 71.1,656 72.3,658.9 74.6,654 78,654.2 81.5,652 83.8,651.7 84.6,648.1 85.3,644.3 86.1,640.5 87.8,636 89.5,632.2 94.1,629.5 97.5,629.7 101,629.7 103.3,633.3 104.1,637 104.9,640.2 106.8,635.4 109.1,636.7 109.7,640.3 110.3,643.2 110.9,646.2 111.5,649.6 112.1,652.9 114,655 116,657.5 117.7,660.4 119.4,663.4 120.6,666 121.7,668.8 122.9,665.5 124,661.9 125.2,658.6 126.9,655.1 128.6,651.9 131.4,649.2 131.8,646.3 132.3,643 132.8,639.7 133.2,636.6 137.9,636.8 140.8,637.9 143.6,639.1 147.1,643.8 148.2,646.5 149.4,650.1 150.5,653.2 152.8,655.6 155.1,658.4 157,661.5 159,663.8 160.9,666.8 165.5,668.9 168.9,667 170.7,662.4 172.4,658.6 177,656.1 178.2,653.2 179.3,650.7 181,647.7 182.7,644.2 186.2,646.3 186.6,648.9 187.1,652.2 187.6,655.3 188,658.5 190.8,656.4 192.6,652.6 196.5,656.5 199.6,658.8 200.8,661.8 201.9,664.5 203.7,659.6 204.6,663.1 205.4,666.5 207.7,663.1 211.1,663.4 214.6,664.5 216.9,661.2 217.3,658.2 217.8,655.3 218.2,651.8 218.7,648.9 222.2,646 223.6,643.2 224.9,640.2 226.1,637 227.2,634 228.4,631.1 229.5,627.8 230.7,625.4 231.8,622.1 235.3,623 238.7,626.6 242.2,629.7 245.6,627.6 249.1,624.4 251.4,627 253.7,630 256.5,632.1 259.4,633.7 261.7,631.5 264,628.6 267.5,626.5 272.1,628.9 275.6,630.8 277.3,628.3 279,625.2 282,620.6 285.9,623.9 288.2,626.6 290.5,628.6 293.4,626.1 296.3,623.9 298.6,625.6 300.9,627.6 303.8,630.8 306.6,634 310.1,629.9 314.7,626.6 319.3,628.5 322.7,630.9 326.2,626.1 329.6,622 333.1,623 334.9,625.3" fill="none" stroke="#111" stroke-width="1.4" stroke-linejoin="round"/>
<path d="M59.3 642.3a1.4 1.4 0 1 0 2.9 0a1.4 1.4 0 1 0 -2.9 0M62.8 646.2a1.4 1.4 0 1 0 2.9 0a1.4 1.4 0 1 0 -2.9 0M63.9 649.4a1.4 1.4 0 1 0 2.9 0a1.4 1.4 0 1 0 -2.9 0M65 653.1a1.4 1.4 0 1 0 2.9 0a1.4 1.4 0 1 0 -2.9 0M67.3 649.2a1.4 1.4 0 1 0 2.9 0a1.4 1.4 0 1 0 -2.9 0M68.5 652.8a1.4 1.4 0 1 0 2.9 0a1.4 1.4 0 1 0 -2.9 0M69.7 656a1.4 1.4 0 1 0 2.9 0a1.4 1.4 0 1 0 -2.9 0M70.8 658.9a1.4 1.4 0 1 0 2.9 0a1.4 1.4 0 1 0 -2.9 0M73.1 654a1.4 1.4 0 1 0 2.9 0a1.4 1.4 0 1 0 -2.9 0M76.5 654.2a1.4 1.4 0 1 0 2.9 0a1.4 1.4 0 1 0 -2.9 0M80 652a1.4 1.4 0 1 0 2.9 0a1.4 1.4 0 1 0 -2.9 0M82.3 651.7a1.4 1.4 0 1 0 2.9 0a1.4 1.4 0 1 0 -2.9 0M83.1 648.1a1.4 1.4 0 1 0 2.9 0a1.4 1.4 0 1 0 -2.9 0M83.9 644.3a1.4 1.4 0 1 0 2.9 0a1.4 1.4 0 1 0 -2.9 0M84.6 640.5a1.4 1.4 0 1 0 2.9 0a1.4 1.4 0 1 0 -2.9 0M86.3 636a1.4 1.4 0 1 0 2.9 0a1.4 1.4 0 1 0 -2.9 0M88 632.2a1.4 1.4 0 1 0 2.9 0a1.4 1.4 0 1 0 -2.9 0M92.6 629.5a1.4 1.4 0 1 0 2.9 0a1.4 1.4 0 1 0 -2.9 0M96.1 629.7a1.4 1.4 0 1 0 2.9 0a1.4 1.4 0 1 0 -2.9 0M99.5 629.7a1.4 1.4 0 1 0 2.9 0a1.4 1.4 0 1 0 -2.9 0M101.8 633.3a1.4 1.4 0 1 0 2.9 0a1.4 1.4 0 1 0 -2.9 0M102.6 637a1.4 1.4 0 1 0 2.9 0a1.4 1.4 0 1 0 -2.9 0M103.5 640.2a1.4 1.4 0 1 0 2.9 0a1.4 1.4 0 1 0 -2.9 0M105.3 635.4a1.4 1.4 0 1 0 2.9 0a1.4 1.4 0 1 0 -2.9 0M107.6 636.7a1.4 1.4 0 1 0 2.9 0a1.4 1.4 0 1 0 -2.9 0M108.2 640.3a1.4 1.4 0 1 0 2.9 0a1.4 1.4 0 1 0 -2.9 0M108.8 643.2a1.4 1.4 0 1 0 2.9 0a1.4 1.4 0 1 0 -2.9 0M109.4 646.2a1.4 1.4 0 1 0 2.9 0a1.4 1.4 0 1 0 -2.9 0M110 649.6a1.4 1.4 0 1 0 2.9 0a1.4 1.4 0 1 0 -2.9 0M110.6 652.9a1.4 1.4 0 1 0 2.9 0a1.4 1.4 0 1 0 -2.9 0M112.6 655a1.4 1.4 0 1 0 2.9 0a1.4 1.4 0 1 0 -2.9 0M114.5 657.5a1.4 1.4 0 1 0 2.9 0a1.4 1.4 0 1 0 -2.9 0M116.2 660.4a1.4 1.4 0 1 0 2.9 0a1.4 1.4 0 1 0 -2.9 0M118 663.4a1.4 1.4 0 1 0 2.9 0a1.4 1.4 0 1 0 -2.9 0M119.1 666a1.4 1.4 0 1 0 2.9 0a1.4 1.4 0 1 0 -2.9 0M120.2 668.8a1.4 1.4 0 1 0 2.9 0a1.4 1.4 0 1 0 -2.9 0M121.4 665.5a1.4 1.4 0 1 0 2.9 0a1.4 1.4 0 1 0 -2.9 0M122.6 661.9a1.4 1.4 0 1 0 2.9 0a1.4 1.4 0 1 0 -2.9 0M123.8 658.6a1.4 1.4 0 1 0 2.9 0a1.4 1.4 0 1 0 -2.9 0M125.5 655.1a1.4 1.4 0 1 0 2.9 0a1.4 1.4 0 1 0 -2.9 0M127.1 651.9a1.4 1.4 0 1 0 2.9 0a1.4 1.4 0 1 0 -2.9 0M130 649.2a1.4 1.4 0 1 0 2.9 0a1.4 1.4 0 1 0 -2.9 0M130.4 646.3a1.4 1.4 0 1 0 2.9 0a1.4 1.4 0 1 0 -2.9 0M130.9 643a1.4 1.4 0 1 0 2.9 0a1.4 1.4 0 1 0 -2.9 0M131.3 639.7a1.4 1.4 0 1 0 2.9 0a1.4 1.4 0 1 0 -2.9 0M131.8 636.6a1.4 1.4 0 1 0 2.9 0a1.4 1.4 0 1 0 -2.9 0M136.5 636.8a1.4 1.4 0 1 0 2.9 0a1.4 1.4 0 1 0 -2.9 0M139.3 637.9a1.4 1.4 0 1 0 2.9 0a1.4 1.4 0 1 0 -2.9 0M142.2 639.1a1.4 1.4 0 1 0 2.9 0a1.4 1.4 0 1 0 -2.9 0M145.7 643.8a1.4 1.4 0 1 0 2.9 0a1.4 1.4 0 1 0 -2.9 0M146.8 646.5a1.4 1.4 0 1 0 2.9 0a1.4 1.4 0 1 0 -2.9 0M147.9 650.1a1.4 1.4 0 1 0 2.9 0a1.4 1.4 0 1 0 -2.9 0M149.1 653.2a1.4 1.4 0 1 0 2.9 0a1.4 1.4 0 1 0 -2.9 0M151.4 655.6a1.4 1.4 0 1 0 2.9 0a1.4 1.4 0 1 0 -2.9 0M153.7 658.4a1.4 1.4 0 1 0 2.9 0a1.4 1.4 0 1 0 -2.9 0M155.6 661.5a1.4 1.4 0 1 0 2.9 0a1.4 1.4 0 1 0 -2.9 0M157.5 663.8a1.4 1.4 0 1 0 2.9 0a1.4 1.4 0 1 0 -2.9 0M159.5 666.8a1.4 1.4 0 1 0 2.9 0a1.4 1.4 0 1 0 -2.9 0M164.1 668.9a1.4 1.4 0 1 0 2.9 0a1.4 1.4 0 1 0 -2.9 0M167.5 667a1.4 1.4 0 1 0 2.9 0a1.4 1.4 0 1 0 -2.9 0M169.2 662.4a1.4 1.4 0 1 0 2.9 0a1.4 1.4 0 1 0 -2.9 0M171 658.6a1.4 1.4 0 1 0 2.9 0a1.4 1.4 0 1 0 -2.9 0M175.6 656.1a1.4 1.4 0 1 0 2.9 0a1.4 1.4 0 1 0 -2.9 0M176.7 653.2a1.4 1.4 0 1 0 2.9 0a1.4 1.4 0 1 0 -2.9 0M177.9 650.7a1.4 1.4 0 1 0 2.9 0a1.4 1.4 0 1 0 -2.9 0M179.6 647.7a1.4 1.4 0 1 0 2.9 0a1.4 1.4 0 1 0 -2.9 0M181.2 644.2a1.4 1.4 0 1 0 2.9 0a1.4 1.4 0 1 0 -2.9 0M184.8 646.3a1.4 1.4 0 1 0 2.9 0a1.4 1.4 0 1 0 -2.9 0M185.2 648.9a1.4 1.4 0 1 0 2.9 0a1.4 1.4 0 1 0 -2.9 0M185.7 652.2a1.4 1.4 0 1 0 2.9 0a1.4 1.4 0 1 0 -2.9 0M186.1 655.3a1.4 1.4 0 1 0 2.9 0a1.4 1.4 0 1 0 -2.9 0M186.6 658.5a1.4 1.4 0 1 0 2.9 0a1.4 1.4 0 1 0 -2.9 0M189.4 656.4a1.4 1.4 0 1 0 2.9 0a1.4 1.4 0 1 0 -2.9 0M191.2 652.6a1.4 1.4 0 1 0 2.9 0a1.4 1.4 0 1 0 -2.9 0M195.1 656.5a1.4 1.4 0 1 0 2.9 0a1.4 1.4 0 1 0 -2.9 0M198.2 658.8a1.4 1.4 0 1 0 2.9 0a1.4 1.4 0 1 0 -2.9 0M199.3 661.8a1.4 1.4 0 1 0 2.9 0a1.4 1.4 0 1 0 -2.9 0M200.5 664.5a1.4 1.4 0 1 0 2.9 0a1.4 1.4 0 1 0 -2.9 0M202.2 659.6a1.4 1.4 0 1 0 2.9 0a1.4 1.4 0 1 0 -2.9 0M203.1 663.1a1.4 1.4 0 1 0 2.9 0a1.4 1.4 0 1 0 -2.9 0M204 666.5a1.4 1.4 0 1 0 2.9 0a1.4 1.4 0 1 0 -2.9 0M206.2 663.1a1.4 1.4 0 1 0 2.9 0a1.4 1.4 0 1 0 -2.9 0M209.7 663.4a1.4 1.4 0 1 0 2.9 0a1.4 1.4 0 1 0 -2.9 0M213.2 664.5a1.4 1.4 0 1 0 2.9 0a1.4 1.4 0 1 0 -2.9 0M215.5 661.2a1.4 1.4 0 1 0 2.9 0a1.4 1.4 0 1 0 -2.9 0M215.9 658.2a1.4 1.4 0 1 0 2.9 0a1.4 1.4 0 1 0 -2.9 0M216.4 655.3a1.4 1.4 0 1 0 2.9 0a1.4 1.4 0 1 0 -2.9 0M216.8 651.8a1.4 1.4 0 1 0 2.9 0a1.4 1.4 0 1 0 -2.9 0M217.2 648.9a1.4 1.4 0 1 0 2.9 0a1.4 1.4 0 1 0 -2.9 0M220.8 646a1.4 1.4 0 1 0 2.9 0a1.4 1.4 0 1 0 -2.9 0M222.1 643.2a1.4 1.4 0 1 0 2.9 0a1.4 1.4 0 1 0 -2.9 0M223.5 640.2a1.4 1.4 0 1 0 2.9 0a1.4 1.4 0 1 0 -2.9 0M224.6 637a1.4 1.4 0 1 0 2.9 0a1.4 1.4 0 1 0 -2.9 0M225.8 634a1.4 1.4 0 1 0 2.9 0a1.4 1.4 0 1 0 -2.9 0M227 631.1a1.4 1.4 0 1 0 2.9 0a1.4 1.4 0 1 0 -2.9 0M228.1 627.8a1.4 1.4 0 1 0 2.9 0a1.4 1.4 0 1 0 -2.9 0M229.2 625.4a1.4 1.4 0 1 0 2.9 0a1.4 1.4 0 1 0 -2.9 0M230.4 622.1a1.4 1.4 0 1 0 2.9 0a1.4 1.4 0 1 0 -2.9 0M233.9 623a1.4 1.4 0 1 0 2.9 0a1.4 1.4 0 1 0 -2.9 0M237.2 626.6a1.4 1.4 0 1 0 2.9 0a1.4 1.4 0 1 0 -2.9 0M240.8 629.7a1.4 1.4 0 1 0 2.9 0a1.4 1.4 0 1 0 -2.9 0M244.2 627.6a1.4 1.4 0 1 0 2.9 0a1.4 1.4 0 1 0 -2.9 0M247.7 624.4a1.4 1.4 0 1 0 2.9 0a1.4 1.4 0 1 0 -2.9 0M249.9 627a1.4 1.4 0 1 0 2.9 0a1.4 1.4 0 1 0 -2.9 0M252.2 630a1.4 1.4 0 1 0 2.9 0a1.4 1.4 0 1 0 -2.9 0M255.1 632.1a1.4 1.4 0 1 0 2.9 0a1.4 1.4 0 1 0 -2.9 0M257.9 633.7a1.4 1.4 0 1 0 2.9 0a1.4 1.4 0 1 0 -2.9 0M260.2 631.5a1.4 1.4 0 1 0 2.9 0a1.4 1.4 0 1 0 -2.9 0M262.6 628.6a1.4 1.4 0 1 0 2.9 0a1.4 1.4 0 1 0 -2.9 0M266.1 626.5a1.4 1.4 0 1 0 2.9 0a1.4 1.4 0 1 0 -2.9 0M270.7 628.9a1.4 1.4 0 1 0 2.9 0a1.4 1.4 0 1 0 -2.9 0M274.2 630.8a1.4 1.4 0 1 0 2.9 0a1.4 1.4 0 1 0 -2.9 0M275.9 628.3a1.4 1.4 0 1 0 2.9 0a1.4 1.4 0 1 0 -2.9 0M277.6 625.2a1.4 1.4 0 1 0 2.9 0a1.4 1.4 0 1 0 -2.9 0M280.6 620.6a1.4 1.4 0 1 0 2.9 0a1.4 1.4 0 1 0 -2.9 0M284.4 623.9a1.4 1.4 0 1 0 2.9 0a1.4 1.4 0 1 0 -2.9 0M286.8 626.6a1.4 1.4 0 1 0 2.9 0a1.4 1.4 0 1 0 -2.9 0M289.1 628.6a1.4 1.4 0 1 0 2.9 0a1.4 1.4 0 1 0 -2.9 0M291.9 626.1a1.4 1.4 0 1 0 2.9 0a1.4 1.4 0 1 0 -2.9 0M294.9 623.9a1.4 1.4 0 1 0 2.9 0a1.4 1.4 0 1 0 -2.9 0M297.2 625.6a1.4 1.4 0 1 0 2.9 0a1.4 1.4 0 1 0 -2.9 0M299.4 627.6a1.4 1.4 0 1 0 2.9 0a1.4 1.4 0 1 0 -2.9 0M302.3 630.8a1.4 1.4 0 1 0 2.9 0a1.4 1.4 0 1 0 -2.9 0M305.2 634a1.4 1.4 0 1 0 2.9 0a1.4 1.4 0 1 0 -2.9 0M308.7 629.9a1.4 1.4 0 1 0 2.9 0a1.4 1.4 0 1 0 -2.9 0M313.2 626.6a1.4 1.4 0 1 0 2.9 0a1.4 1.4 0 1 0 -2.9 0M317.9 628.5a1.4 1.4 0 1 0 2.9 0a1.4 1.4 0 1 0 -2.9 0M321.2 630.9a1.4 1.4 0 1 0 2.9 0a1.4 1.4 0 1 0 -2.9 0M324.8 626.1a1.4 1.4 0 1 0 2.9 0a1.4 1.4 0 1 0 -2.9 0M328.2 622a1.4 1.4 0 1 0 2.9 0a1.4 1.4 0 1 0 -2.9 0M331.7 623a1.4 1.4 0 1 0 2.9 0a1.4 1.4 0 1 0 -2.9 0M333.4 625.3a1.4 1.4 0 1 0 2.9 0a1.4 1.4 0 1 0 -2.9 0" fill="#111"/>
<path d="M60 784.9a2.4 2.4 0 1 0 4.7 0a2.4 2.4 0 1 0 -4.7 0M63.6 757.2a2.4 2.4 0 1 0 4.7 0a2.4 2.4 0 1 0 -4.7 0M67.7 770.6a2.4 2.4 0 1 0 4.7 0a2.4 2.4 0 1 0 -4.7 0M70 766a2.4 2.4 0 1 0 4.7 0a2.4 2.4 0 1 0 -4.7 0M72.2 764.4a2.4 2.4 0 1 0 4.7 0a2.4 2.4 0 1 0 -4.7 0M75.2 762.1a2.4 2.4 0 1 0 4.7 0a2.4 2.4 0 1 0 -4.7 0M78 767.1a2.4 2.4 0 1 0 4.7 0a2.4 2.4 0 1 0 -4.7 0M81.5 749.9a2.4 2.4 0 1 0 4.7 0a2.4 2.4 0 1 0 -4.7 0M84.9 766a2.4 2.4 0 1 0 4.7 0a2.4 2.4 0 1 0 -4.7 0M89.1 767.6a2.4 2.4 0 1 0 4.7 0a2.4 2.4 0 1 0 -4.7 0M93 755.6a2.4 2.4 0 1 0 4.7 0a2.4 2.4 0 1 0 -4.7 0M96.4 743.7a2.4 2.4 0 1 0 4.7 0a2.4 2.4 0 1 0 -4.7 0M99.9 759.1a2.4 2.4 0 1 0 4.7 0a2.4 2.4 0 1 0 -4.7 0M103.8 750.6a2.4 2.4 0 1 0 4.7 0a2.4 2.4 0 1 0 -4.7 0M107.2 769a2.4 2.4 0 1 0 4.7 0a2.4 2.4 0 1 0 -4.7 0M110.9 783.3a2.4 2.4 0 1 0 4.7 0a2.4 2.4 0 1 0 -4.7 0M114.8 775.9a2.4 2.4 0 1 0 4.7 0a2.4 2.4 0 1 0 -4.7 0M118.2 761.8a2.4 2.4 0 1 0 4.7 0a2.4 2.4 0 1 0 -4.7 0M121.7 771.7a2.4 2.4 0 1 0 4.7 0a2.4 2.4 0 1 0 -4.7 0M125.4 776.8a2.4 2.4 0 1 0 4.7 0a2.4 2.4 0 1 0 -4.7 0M128.7 753.8a2.4 2.4 0 1 0 4.7 0a2.4 2.4 0 1 0 -4.7 0M132.8 751.7a2.4 2.4 0 1 0 4.7 0a2.4 2.4 0 1 0 -4.7 0M136.7 757.5a2.4 2.4 0 1 0 4.7 0a2.4 2.4 0 1 0 -4.7 0M139.7 766a2.4 2.4 0 1 0 4.7 0a2.4 2.4 0 1 0 -4.7 0M143.6 771.7a2.4 2.4 0 1 0 4.7 0a2.4 2.4 0 1 0 -4.7 0M147.1 789a2.4 2.4 0 1 0 4.7 0a2.4 2.4 0 1 0 -4.7 0M150.5 775.9a2.4 2.4 0 1 0 4.7 0a2.4 2.4 0 1 0 -4.7 0M154.3 782.1a2.4 2.4 0 1 0 4.7 0a2.4 2.4 0 1 0 -4.7 0M158.1 792a2.4 2.4 0 1 0 4.7 0a2.4 2.4 0 1 0 -4.7 0M162 785.1a2.4 2.4 0 1 0 4.7 0a2.4 2.4 0 1 0 -4.7 0M165.5 782.1a2.4 2.4 0 1 0 4.7 0a2.4 2.4 0 1 0 -4.7 0M172.3 784.4a2.4 2.4 0 1 0 4.7 0a2.4 2.4 0 1 0 -4.7 0M176.2 784.4a2.4 2.4 0 1 0 4.7 0a2.4 2.4 0 1 0 -4.7 0M179.2 759.5a2.4 2.4 0 1 0 4.7 0a2.4 2.4 0 1 0 -4.7 0M183.3 773.6a2.4 2.4 0 1 0 4.7 0a2.4 2.4 0 1 0 -4.7 0M187.1 782.1a2.4 2.4 0 1 0 4.7 0a2.4 2.4 0 1 0 -4.7 0M190.8 789.5a2.4 2.4 0 1 0 4.7 0a2.4 2.4 0 1 0 -4.7 0M194.2 782.1a2.4 2.4 0 1 0 4.7 0a2.4 2.4 0 1 0 -4.7 0M205.3 777a2.4 2.4 0 1 0 4.7 0a2.4 2.4 0 1 0 -4.7 0M208.8 798.2a2.4 2.4 0 1 0 4.7 0a2.4 2.4 0 1 0 -4.7 0M212.2 785.1a2.4 2.4 0 1 0 4.7 0a2.4 2.4 0 1 0 -4.7 0M216.3 787.4a2.4 2.4 0 1 0 4.7 0a2.4 2.4 0 1 0 -4.7 0M219.6 755.6a2.4 2.4 0 1 0 4.7 0a2.4 2.4 0 1 0 -4.7 0M223.1 760.7a2.4 2.4 0 1 0 4.7 0a2.4 2.4 0 1 0 -4.7 0M226.8 784a2.4 2.4 0 1 0 4.7 0a2.4 2.4 0 1 0 -4.7 0M230.7 775.9a2.4 2.4 0 1 0 4.7 0a2.4 2.4 0 1 0 -4.7 0M231.8 770.6a2.4 2.4 0 1 0 4.7 0a2.4 2.4 0 1 0 -4.7 0M236 769.9a2.4 2.4 0 1 0 4.7 0a2.4 2.4 0 1 0 -4.7 0M239.2 776.3a2.4 2.4 0 1 0 4.7 0a2.4 2.4 0 1 0 -4.7 0M242.8 778.2a2.4 2.4 0 1 0 4.7 0a2.4 2.4 0 1 0 -4.7 0M246.1 786.7a2.4 2.4 0 1 0 4.7 0a2.4 2.4 0 1 0 -4.7 0M250.2 786a2.4 2.4 0 1 0 4.7 0a2.4 2.4 0 1 0 -4.7 0M257 789a2.4 2.4 0 1 0 4.7 0a2.4 2.4 0 1 0 -4.7 0M260.8 797.8a2.4 2.4 0 1 0 4.7 0a2.4 2.4 0 1 0 -4.7 0M264.4 771.3a2.4 2.4 0 1 0 4.7 0a2.4 2.4 0 1 0 -4.7 0M268.1 759.1a2.4 2.4 0 1 0 4.7 0a2.4 2.4 0 1 0 -4.7 0M272 765.3a2.4 2.4 0 1 0 4.7 0a2.4 2.4 0 1 0 -4.7 0M275 772.9a2.4 2.4 0 1 0 4.7 0a2.4 2.4 0 1 0 -4.7 0M278.9 759.8a2.4 2.4 0 1 0 4.7 0a2.4 2.4 0 1 0 -4.7 0M290.4 769.9a2.4 2.4 0 1 0 4.7 0a2.4 2.4 0 1 0 -4.7 0M293.4 774.7a2.4 2.4 0 1 0 4.7 0a2.4 2.4 0 1 0 -4.7 0M297.3 771.7a2.4 2.4 0 1 0 4.7 0a2.4 2.4 0 1 0 -4.7 0M300.3 782.8a2.4 2.4 0 1 0 4.7 0a2.4 2.4 0 1 0 -4.7 0M304.2 779.8a2.4 2.4 0 1 0 4.7 0a2.4 2.4 0 1 0 -4.7 0M308.1 768.3a2.4 2.4 0 1 0 4.7 0a2.4 2.4 0 1 0 -4.7 0M311.6 782.1a2.4 2.4 0 1 0 4.7 0a2.4 2.4 0 1 0 -4.7 0M315.3 792a2.4 2.4 0 1 0 4.7 0a2.4 2.4 0 1 0 -4.7 0M318.8 771.7a2.4 2.4 0 1 0 4.7 0a2.4 2.4 0 1 0 -4.7 0M322.6 767.8a2.4 2.4 0 1 0 4.7 0a2.4 2.4 0 1 0 -4.7 0M325.6 790.2a2.4 2.4 0 1 0 4.7 0a2.4 2.4 0 1 0 -4.7 0M329.8 790.8a2.4 2.4 0 1 0 4.7 0a2.4 2.4 0 1 0 -4.7 0" fill="none" stroke="#111" stroke-width="1.8"/>
<path d="M60.8,772.9C61.5,772.3 63.9,770.7 65.4,769.4C66.9,768.1 68.5,766.2 70,765.3C71.5,764.3 72.9,764.6 74.6,763.7C76.3,762.8 78.6,760.4 80.3,759.8C82,759.2 83.2,759.8 84.9,760.2C86.6,760.7 89,763.5 90.7,762.5C92.4,761.5 93.4,756.4 95.3,754.5C97.2,752.6 100.3,750 102.2,751C104.1,752 104.9,756.2 106.8,760.2C108.7,764.2 111.6,773.5 113.7,775.2C115.8,776.9 117.5,771.6 119.4,770.6C121.3,769.6 123.5,770.9 125.2,769.4C126.9,767.9 128.3,763.9 129.8,761.4C131.3,758.9 132.7,754.5 134.4,754.5C136.1,754.5 138.3,757.9 140.2,761.4C142.1,764.9 144,771.9 145.9,775.2C147.8,778.5 149.8,779.5 151.7,781C153.6,782.5 155.7,783.4 157.4,784.4C159.1,785.4 160.5,786.7 162,786.7C163.5,786.7 164.9,785 166.6,784.4C168.3,783.8 170.7,783.3 172.4,783.3C174.1,783.3 175.7,785.8 177,784.4C178.3,783 179.1,777.1 180.4,775.2C181.7,773.3 183.7,772.1 185,772.9C186.3,773.7 187.2,777.9 188.5,779.8C189.8,781.7 191.2,784 193.1,784.4C194.9,784.8 197.8,783.2 199.6,782.1C201.4,781 202.8,776.7 204.2,777.5C205.5,778.3 206.5,785.2 207.7,786.7C208.8,788.2 209.8,785.9 211.1,786.7C212.4,787.5 214.3,793 215.7,791.3C217,789.6 218,780.3 219.2,776.3C220.3,772.3 221.4,768.4 222.6,767.1C223.8,765.8 224.8,766.9 226.1,768.3C227.4,769.6 229.4,774.4 230.7,775.2C232,776 232.9,773.5 234.1,772.9C235.2,772.3 236.2,771.3 237.6,771.7C238.9,772.1 240.5,773.5 242.2,775.2C243.9,776.9 246,780.2 247.9,782.1C249.8,784 251.8,785 253.7,786.7C255.6,788.4 257.7,793.5 259.4,792.5C261.1,791.5 262.5,785.4 264,781C265.5,776.6 266.9,768.6 268.6,766C270.3,763.4 272.5,765.3 274.4,765.3C276.3,765.3 278.7,766.8 280.2,766C281.7,765.2 282.3,760.1 283.6,760.7C284.9,761.3 286.5,767.6 288.2,769.4C289.9,771.2 292.1,770.7 294,771.7C295.9,772.7 298,774.2 299.7,775.2C301.4,776.2 302.8,777.2 304.3,777.5C305.8,777.8 307.5,776.6 308.9,776.8C310.2,777 311,777.9 312.4,778.6C313.8,779.3 315.5,781.3 317,781C318.5,780.7 320.3,777.3 321.6,776.8C322.9,776.3 323.9,777.3 325,778.2C326.1,779.1 327.2,781.8 328.5,782.1C329.8,782.4 331.5,780.5 332.6,779.8C333.7,779.1 334.6,778.3 335,778" fill="none" stroke="#d9262b" stroke-width="2.6" stroke-linejoin="round"/>
<path d="M60.8,895.8 62.8,895.2 64.8,895.1 66.8,895.5 68.8,895.1 71.1,894.9 73.4,895.2 75.7,895 78,894.6 80.2,894.8 82.3,894.7 84.5,894.3 87,895.6 89.5,896.7 91.8,896 94.1,896.1 96.4,895.4 98.7,895.8 101,895.8 103.3,896.1 105.6,896.7 107.9,896.5 110.2,896.7 112.5,896.8 114.8,897 117.1,897.3 119.4,898.2 121.7,898.6 124,898.5 126.3,899.4 128.7,899.9 131,900.2 133.3,900.9 135.6,900.6 137.9,901.3 140.2,901.1 142.5,900.9 144.8,900.6 147.1,900.9 149.4,901.1 151.7,900.7 154,900.7 156.3,901.3 158.6,901.2 160.9,902 163.2,902.2 165.5,902.4 167.8,901.9 170.1,902.3 172.4,902.1 174.4,902.4 176.4,901.8 178.4,901.7 180.4,901.6 182.8,901.6 185.2,902.1 187.6,901.9" fill="none" stroke="#111" stroke-width="2.4" stroke-linejoin="round"/>
<path d="M187.6,901.9 188.2,882 189.7,874.8 191.4,869.5 192.3,860.5 194,860.8 195.7,853 197.8,846.7" fill="none" stroke="#111" stroke-width="0.9"/>
<path d="M186.9 882a1.3 1.3 0 1 0 2.6 0a1.3 1.3 0 1 0 -2.6 0M188.4 874.8a1.3 1.3 0 1 0 2.6 0a1.3 1.3 0 1 0 -2.6 0M190.1 869.5a1.3 1.3 0 1 0 2.6 0a1.3 1.3 0 1 0 -2.6 0M191 860.5a1.3 1.3 0 1 0 2.6 0a1.3 1.3 0 1 0 -2.6 0M192.7 860.8a1.3 1.3 0 1 0 2.6 0a1.3 1.3 0 1 0 -2.6 0M194.4 853a1.3 1.3 0 1 0 2.6 0a1.3 1.3 0 1 0 -2.6 0M196.5 846.7a1.3 1.3 0 1 0 2.6 0a1.3 1.3 0 1 0 -2.6 0" fill="#111"/>
<path d="M197.8,847 198.6,848.9 199.5,851 200.3,853 201.6,854.5 202.8,856.2 204.1,857.8 206,855.5 207.9,853.3 210.5,851.7 212.4,853.3 214.3,855.5 216.4,856.2 218.5,856.8 220.6,857.3 222.5,858.3 224.4,859.3 226.4,860 228.3,860.7 230.2,861.1 232.1,861.7 234,862.7 235.9,862.9 237.9,863.3 239.9,863.3 242,863.3 244,863.3 246,863.6 248,864.1 250.1,864.3 252.1,864.8 254.2,865 256.2,865.5 258.2,864.6 260.2,864.3 262.3,863.9 264.3,863.4 266.3,863 268.3,863.4 270.4,863.6 272.4,863.8 274.5,864.4 276.5,864.6 278.5,865.1 280.6,865.2 282.6,865.5 284.7,865.9 286.7,866.5 288.7,866.1 290.7,866.4 292.8,866.2 294.8,866.4 296.8,866.4 298.8,866.3 300.9,866.8 302.9,866.9 305,867 307,867.4 309,868 311,867.7 313.1,867.7 315.1,868.3 317.1,868.3 319.3,868.4 321.6,868 323.8,868.3 326,868.3 327.3,866.4 328.6,864.4 332.4,865.2 335,865.7" fill="none" stroke="#111" stroke-width="2.4" stroke-linejoin="round"/>
<rect x="61" y="592" width="274.3" height="345.6" fill="none" stroke="#111" stroke-width="1.5"/>
<path d="M61 706.7H335.3M61 822.5H335.3" stroke="#111" stroke-width="1.4"/>
<path d="M152.5 706.7v-4.5M152.5 822.5v-4.5M152.5 937.6v-4.5M243.8 706.7v-4.5M243.8 822.5v-4.5M243.8 937.6v-4.5M61 692.6h3M61 663.8h3M61 635.1h3M61 606.3h3M61 795h3M61 764.8h3M61 734.5h3M61 933.8h3M61 914.6h3M61 895.5h3M61 876.3h3M61 857.1h3M61 838h3" stroke="#111" stroke-width="1.2" fill="none"/>
<path d="M351.9,647.2 355.4,647.2 356.9,648.5 358.5,650.2 360,651.3 363.4,649.4 365.7,650.5 368,650.9 370.3,648.4 372.6,646.8 374.4,645.1 376.1,643.6 377.8,643 379.5,641 381.2,640.1 383,639.1 386.4,637.7 388.1,640.1 389.9,642.7 393.3,644.6 395.6,646 397.9,647.3 399.6,649.2 401.4,651.3 403.7,651.5 406,652.4 408.3,654 410.6,655.4 412.1,653.8 413.7,652 415.2,650.1 416.7,649 418.3,647.1 419.8,645.8 421.3,644.7 422.9,643 424.4,641.8 426.7,640.3 429,638.6 432.5,638.4 434.2,639.4 435.9,641.6 437.6,642.7 439.4,643.8 441.1,645 442.8,647.1 445.1,649.3 447.4,650.8 449.7,652.7 452,654.3 453.8,655.3 455.5,657.4 457,659.9 458.5,661.8 459.9,659.5 461.2,657.5 462.9,655.6 464.7,653.9 465.3,651.6 465.9,649.4 466.4,647.2 467,644.5 468.7,642.2 470.4,640.3 472.7,639.4 475,638.4 477.3,639.3 479.6,640.1 481.9,642.4 484.2,643.5 486.4,645.2 488.5,646.5 490.2,648.8 491.9,650.4 494.2,651.3 496.5,651.7 498.8,652.9 501.1,654 503.4,655.3 503.8,658 504.2,659.8 504.6,662.6 504.9,660.3 505.2,658.3 505.6,656.5 505.9,654.4 506.2,651.9 509.2,651 510.9,648.3 512.6,646.1 513.8,643.9 514.9,642.7 516.1,640.5 517.2,639.1 519.1,637.8 521.1,637.1 523,636 525.3,637.9 527.6,639 529,641 530.5,642.3 531.9,644.3 533.3,646 534.7,647.4 536.1,649.1 537.4,650.3 538.8,652.1 540.2,653.8 542.5,655.3 544.8,656.4 547.1,657.1 549.4,657.1 551.7,656.4 554,656.3 554.7,653.6 555.4,651.6 556.1,650 556.8,647.9 557.5,646.4 558.7,644.1 559.8,641.5 561,639 562.7,637.3 564.4,636.1 566.1,632.9 567.9,631 571.3,631.3 571.8,633.5 572.4,635.2 572.9,638.2 575.9,637.2 578.2,638.7 580.5,639.9 582,642.3 583.4,643.3 584.8,644.9 586.3,647.3 587.7,648.7 589.1,650.3 590.6,651.5 592,652.5 594.9,652.8 597.8,653.7 598.6,652 599.5,649.6 600.4,648.2 601.2,645.9 602.1,643.7 603,641.6 603.8,639.3 604.7,636.9 606.4,634.1 608.1,632.4 609.6,631.2 611.2,629.9 612.7,628.4 615,628.6 617.3,628.4 619.6,630.9 621.9,632.7 623.2,633.5 624.6,635.4 625.9,636.8" fill="none" stroke="#111" stroke-width="1.9" stroke-linejoin="round"/>
<path d="M350.5 647.2a1.4 1.4 0 1 0 2.7 0a1.4 1.4 0 1 0 -2.7 0M355.6 648.5a1.4 1.4 0 1 0 2.7 0a1.4 1.4 0 1 0 -2.7 0M358.6 651.3a1.4 1.4 0 1 0 2.7 0a1.4 1.4 0 1 0 -2.7 0M364.3 650.5a1.4 1.4 0 1 0 2.7 0a1.4 1.4 0 1 0 -2.7 0M368.9 648.4a1.4 1.4 0 1 0 2.7 0a1.4 1.4 0 1 0 -2.7 0M373 645.1a1.4 1.4 0 1 0 2.7 0a1.4 1.4 0 1 0 -2.7 0M376.4 643a1.4 1.4 0 1 0 2.7 0a1.4 1.4 0 1 0 -2.7 0M379.9 640.1a1.4 1.4 0 1 0 2.7 0a1.4 1.4 0 1 0 -2.7 0M385 637.7a1.4 1.4 0 1 0 2.7 0a1.4 1.4 0 1 0 -2.7 0M388.5 642.7a1.4 1.4 0 1 0 2.7 0a1.4 1.4 0 1 0 -2.7 0M394.2 646a1.4 1.4 0 1 0 2.7 0a1.4 1.4 0 1 0 -2.7 0M398.3 649.2a1.4 1.4 0 1 0 2.7 0a1.4 1.4 0 1 0 -2.7 0M402.3 651.5a1.4 1.4 0 1 0 2.7 0a1.4 1.4 0 1 0 -2.7 0M406.9 654a1.4 1.4 0 1 0 2.7 0a1.4 1.4 0 1 0 -2.7 0M410.8 653.8a1.4 1.4 0 1 0 2.7 0a1.4 1.4 0 1 0 -2.7 0M413.8 650.1a1.4 1.4 0 1 0 2.7 0a1.4 1.4 0 1 0 -2.7 0M416.9 647.1a1.4 1.4 0 1 0 2.7 0a1.4 1.4 0 1 0 -2.7 0M420 644.7a1.4 1.4 0 1 0 2.7 0a1.4 1.4 0 1 0 -2.7 0M423 641.8a1.4 1.4 0 1 0 2.7 0a1.4 1.4 0 1 0 -2.7 0M427.6 638.6a1.4 1.4 0 1 0 2.7 0a1.4 1.4 0 1 0 -2.7 0M432.8 639.4a1.4 1.4 0 1 0 2.7 0a1.4 1.4 0 1 0 -2.7 0M436.3 642.7a1.4 1.4 0 1 0 2.7 0a1.4 1.4 0 1 0 -2.7 0M439.8 645a1.4 1.4 0 1 0 2.7 0a1.4 1.4 0 1 0 -2.7 0M443.8 649.3a1.4 1.4 0 1 0 2.7 0a1.4 1.4 0 1 0 -2.7 0M448.3 652.7a1.4 1.4 0 1 0 2.7 0a1.4 1.4 0 1 0 -2.7 0M452.4 655.3a1.4 1.4 0 1 0 2.7 0a1.4 1.4 0 1 0 -2.7 0M455.6 659.9a1.4 1.4 0 1 0 2.7 0a1.4 1.4 0 1 0 -2.7 0M458.5 659.5a1.4 1.4 0 1 0 2.7 0a1.4 1.4 0 1 0 -2.7 0M461.6 655.6a1.4 1.4 0 1 0 2.7 0a1.4 1.4 0 1 0 -2.7 0M463.9 651.6a1.4 1.4 0 1 0 2.7 0a1.4 1.4 0 1 0 -2.7 0M465.1 647.2a1.4 1.4 0 1 0 2.7 0a1.4 1.4 0 1 0 -2.7 0M467.3 642.2a1.4 1.4 0 1 0 2.7 0a1.4 1.4 0 1 0 -2.7 0M471.3 639.4a1.4 1.4 0 1 0 2.7 0a1.4 1.4 0 1 0 -2.7 0M475.9 639.3a1.4 1.4 0 1 0 2.7 0a1.4 1.4 0 1 0 -2.7 0M480.5 642.4a1.4 1.4 0 1 0 2.7 0a1.4 1.4 0 1 0 -2.7 0M485 645.2a1.4 1.4 0 1 0 2.7 0a1.4 1.4 0 1 0 -2.7 0M488.8 648.8a1.4 1.4 0 1 0 2.7 0a1.4 1.4 0 1 0 -2.7 0M492.8 651.3a1.4 1.4 0 1 0 2.7 0a1.4 1.4 0 1 0 -2.7 0M497.4 652.9a1.4 1.4 0 1 0 2.7 0a1.4 1.4 0 1 0 -2.7 0M502 655.3a1.4 1.4 0 1 0 2.7 0a1.4 1.4 0 1 0 -2.7 0M502.8 659.8a1.4 1.4 0 1 0 2.7 0a1.4 1.4 0 1 0 -2.7 0M503.6 660.3a1.4 1.4 0 1 0 2.7 0a1.4 1.4 0 1 0 -2.7 0M504.2 656.5a1.4 1.4 0 1 0 2.7 0a1.4 1.4 0 1 0 -2.7 0M504.8 651.9a1.4 1.4 0 1 0 2.7 0a1.4 1.4 0 1 0 -2.7 0M509.5 648.3a1.4 1.4 0 1 0 2.7 0a1.4 1.4 0 1 0 -2.7 0M512.4 643.9a1.4 1.4 0 1 0 2.7 0a1.4 1.4 0 1 0 -2.7 0M514.7 640.5a1.4 1.4 0 1 0 2.7 0a1.4 1.4 0 1 0 -2.7 0M517.8 637.8a1.4 1.4 0 1 0 2.7 0a1.4 1.4 0 1 0 -2.7 0M521.6 636a1.4 1.4 0 1 0 2.7 0a1.4 1.4 0 1 0 -2.7 0M526.2 639a1.4 1.4 0 1 0 2.7 0a1.4 1.4 0 1 0 -2.7 0M529.1 642.3a1.4 1.4 0 1 0 2.7 0a1.4 1.4 0 1 0 -2.7 0M531.9 646a1.4 1.4 0 1 0 2.7 0a1.4 1.4 0 1 0 -2.7 0M534.7 649.1a1.4 1.4 0 1 0 2.7 0a1.4 1.4 0 1 0 -2.7 0M537.5 652.1a1.4 1.4 0 1 0 2.7 0a1.4 1.4 0 1 0 -2.7 0M541.1 655.3a1.4 1.4 0 1 0 2.7 0a1.4 1.4 0 1 0 -2.7 0M545.7 657.1a1.4 1.4 0 1 0 2.7 0a1.4 1.4 0 1 0 -2.7 0M550.4 656.4a1.4 1.4 0 1 0 2.7 0a1.4 1.4 0 1 0 -2.7 0M553.4 653.6a1.4 1.4 0 1 0 2.7 0a1.4 1.4 0 1 0 -2.7 0M554.8 650a1.4 1.4 0 1 0 2.7 0a1.4 1.4 0 1 0 -2.7 0M556.1 646.4a1.4 1.4 0 1 0 2.7 0a1.4 1.4 0 1 0 -2.7 0M558.5 641.5a1.4 1.4 0 1 0 2.7 0a1.4 1.4 0 1 0 -2.7 0M561.4 637.3a1.4 1.4 0 1 0 2.7 0a1.4 1.4 0 1 0 -2.7 0M564.8 632.9a1.4 1.4 0 1 0 2.7 0a1.4 1.4 0 1 0 -2.7 0M569.9 631.3a1.4 1.4 0 1 0 2.7 0a1.4 1.4 0 1 0 -2.7 0M571 635.2a1.4 1.4 0 1 0 2.7 0a1.4 1.4 0 1 0 -2.7 0M574.5 637.2a1.4 1.4 0 1 0 2.7 0a1.4 1.4 0 1 0 -2.7 0M579.1 639.9a1.4 1.4 0 1 0 2.7 0a1.4 1.4 0 1 0 -2.7 0M582 643.3a1.4 1.4 0 1 0 2.7 0a1.4 1.4 0 1 0 -2.7 0M584.9 647.3a1.4 1.4 0 1 0 2.7 0a1.4 1.4 0 1 0 -2.7 0M587.8 650.3a1.4 1.4 0 1 0 2.7 0a1.4 1.4 0 1 0 -2.7 0M590.6 652.5a1.4 1.4 0 1 0 2.7 0a1.4 1.4 0 1 0 -2.7 0M596.4 653.7a1.4 1.4 0 1 0 2.7 0a1.4 1.4 0 1 0 -2.7 0M598.1 649.6a1.4 1.4 0 1 0 2.7 0a1.4 1.4 0 1 0 -2.7 0M599.9 645.9a1.4 1.4 0 1 0 2.7 0a1.4 1.4 0 1 0 -2.7 0M601.6 641.6a1.4 1.4 0 1 0 2.7 0a1.4 1.4 0 1 0 -2.7 0M603.4 636.9a1.4 1.4 0 1 0 2.7 0a1.4 1.4 0 1 0 -2.7 0M606.8 632.4a1.4 1.4 0 1 0 2.7 0a1.4 1.4 0 1 0 -2.7 0M609.8 629.9a1.4 1.4 0 1 0 2.7 0a1.4 1.4 0 1 0 -2.7 0M613.6 628.6a1.4 1.4 0 1 0 2.7 0a1.4 1.4 0 1 0 -2.7 0M618.2 630.9a1.4 1.4 0 1 0 2.7 0a1.4 1.4 0 1 0 -2.7 0M621.9 633.5a1.4 1.4 0 1 0 2.7 0a1.4 1.4 0 1 0 -2.7 0M624.5 636.8a1.4 1.4 0 1 0 2.7 0a1.4 1.4 0 1 0 -2.7 0" fill="#111"/>
<path d="M353 777a2.4 2.4 0 1 0 4.7 0a2.4 2.4 0 1 0 -4.7 0M355.9 802.4a2.4 2.4 0 1 0 4.7 0a2.4 2.4 0 1 0 -4.7 0M359.9 812a2.4 2.4 0 1 0 4.7 0a2.4 2.4 0 1 0 -4.7 0M363.8 810.9a2.4 2.4 0 1 0 4.7 0a2.4 2.4 0 1 0 -4.7 0M370.8 795.4a2.4 2.4 0 1 0 4.7 0a2.4 2.4 0 1 0 -4.7 0M374.8 793.6a2.4 2.4 0 1 0 4.7 0a2.4 2.4 0 1 0 -4.7 0M378.3 781a2.4 2.4 0 1 0 4.7 0a2.4 2.4 0 1 0 -4.7 0M382.2 789a2.4 2.4 0 1 0 4.7 0a2.4 2.4 0 1 0 -4.7 0M385.6 780.5a2.4 2.4 0 1 0 4.7 0a2.4 2.4 0 1 0 -4.7 0M389.1 804.4a2.4 2.4 0 1 0 4.7 0a2.4 2.4 0 1 0 -4.7 0M393.2 801.7a2.4 2.4 0 1 0 4.7 0a2.4 2.4 0 1 0 -4.7 0M396.8 807a2.4 2.4 0 1 0 4.7 0a2.4 2.4 0 1 0 -4.7 0M400.1 801.2a2.4 2.4 0 1 0 4.7 0a2.4 2.4 0 1 0 -4.7 0M407.5 797.5a2.4 2.4 0 1 0 4.7 0a2.4 2.4 0 1 0 -4.7 0M411 786a2.4 2.4 0 1 0 4.7 0a2.4 2.4 0 1 0 -4.7 0M414.6 774a2.4 2.4 0 1 0 4.7 0a2.4 2.4 0 1 0 -4.7 0M418.1 781.4a2.4 2.4 0 1 0 4.7 0a2.4 2.4 0 1 0 -4.7 0M426.6 797.7a2.4 2.4 0 1 0 4.7 0a2.4 2.4 0 1 0 -4.7 0M430.5 782.8a2.4 2.4 0 1 0 4.7 0a2.4 2.4 0 1 0 -4.7 0M434.8 783.3a2.4 2.4 0 1 0 4.7 0a2.4 2.4 0 1 0 -4.7 0M438.1 785.5a2.4 2.4 0 1 0 4.7 0a2.4 2.4 0 1 0 -4.7 0M441.1 802.8a2.4 2.4 0 1 0 4.7 0a2.4 2.4 0 1 0 -4.7 0M445 809.7a2.4 2.4 0 1 0 4.7 0a2.4 2.4 0 1 0 -4.7 0M448.5 800.5a2.4 2.4 0 1 0 4.7 0a2.4 2.4 0 1 0 -4.7 0M452.4 817.3a2.4 2.4 0 1 0 4.7 0a2.4 2.4 0 1 0 -4.7 0M455.4 787.9a2.4 2.4 0 1 0 4.7 0a2.4 2.4 0 1 0 -4.7 0M457.8 795.9a2.4 2.4 0 1 0 4.7 0a2.4 2.4 0 1 0 -4.7 0M461.1 779.8a2.4 2.4 0 1 0 4.7 0a2.4 2.4 0 1 0 -4.7 0M465 804.7a2.4 2.4 0 1 0 4.7 0a2.4 2.4 0 1 0 -4.7 0M468 774.7a2.4 2.4 0 1 0 4.7 0a2.4 2.4 0 1 0 -4.7 0M472.2 763.7a2.4 2.4 0 1 0 4.7 0a2.4 2.4 0 1 0 -4.7 0M474.9 780.5a2.4 2.4 0 1 0 4.7 0a2.4 2.4 0 1 0 -4.7 0M479.1 783.7a2.4 2.4 0 1 0 4.7 0a2.4 2.4 0 1 0 -4.7 0M483 775.2a2.4 2.4 0 1 0 4.7 0a2.4 2.4 0 1 0 -4.7 0M486.8 774a2.4 2.4 0 1 0 4.7 0a2.4 2.4 0 1 0 -4.7 0M490 764.1a2.4 2.4 0 1 0 4.7 0a2.4 2.4 0 1 0 -4.7 0M493.6 764.8a2.4 2.4 0 1 0 4.7 0a2.4 2.4 0 1 0 -4.7 0M497.6 779.1a2.4 2.4 0 1 0 4.7 0a2.4 2.4 0 1 0 -4.7 0M512.1 760.2a2.4 2.4 0 1 0 4.7 0a2.4 2.4 0 1 0 -4.7 0M515.4 742.5a2.4 2.4 0 1 0 4.7 0a2.4 2.4 0 1 0 -4.7 0M519 750.6a2.4 2.4 0 1 0 4.7 0a2.4 2.4 0 1 0 -4.7 0M522.2 755.6a2.4 2.4 0 1 0 4.7 0a2.4 2.4 0 1 0 -4.7 0M526.4 757.9a2.4 2.4 0 1 0 4.7 0a2.4 2.4 0 1 0 -4.7 0M530.5 760.2a2.4 2.4 0 1 0 4.7 0a2.4 2.4 0 1 0 -4.7 0M533.2 774.5a2.4 2.4 0 1 0 4.7 0a2.4 2.4 0 1 0 -4.7 0M537.1 776.8a2.4 2.4 0 1 0 4.7 0a2.4 2.4 0 1 0 -4.7 0M540.6 770.6a2.4 2.4 0 1 0 4.7 0a2.4 2.4 0 1 0 -4.7 0M544.1 759.5a2.4 2.4 0 1 0 4.7 0a2.4 2.4 0 1 0 -4.7 0M548.2 772.9a2.4 2.4 0 1 0 4.7 0a2.4 2.4 0 1 0 -4.7 0M551.2 776.8a2.4 2.4 0 1 0 4.7 0a2.4 2.4 0 1 0 -4.7 0M555.1 756.1a2.4 2.4 0 1 0 4.7 0a2.4 2.4 0 1 0 -4.7 0M558.6 741.4a2.4 2.4 0 1 0 4.7 0a2.4 2.4 0 1 0 -4.7 0M562.2 761.4a2.4 2.4 0 1 0 4.7 0a2.4 2.4 0 1 0 -4.7 0M565.9 744.1a2.4 2.4 0 1 0 4.7 0a2.4 2.4 0 1 0 -4.7 0M569.6 748.3a2.4 2.4 0 1 0 4.7 0a2.4 2.4 0 1 0 -4.7 0M573 761.4a2.4 2.4 0 1 0 4.7 0a2.4 2.4 0 1 0 -4.7 0M577 769.4a2.4 2.4 0 1 0 4.7 0a2.4 2.4 0 1 0 -4.7 0M580.4 746.9a2.4 2.4 0 1 0 4.7 0a2.4 2.4 0 1 0 -4.7 0M583.9 776.3a2.4 2.4 0 1 0 4.7 0a2.4 2.4 0 1 0 -4.7 0M587.9 791.5a2.4 2.4 0 1 0 4.7 0a2.4 2.4 0 1 0 -4.7 0M591.2 774a2.4 2.4 0 1 0 4.7 0a2.4 2.4 0 1 0 -4.7 0M594.9 767.1a2.4 2.4 0 1 0 4.7 0a2.4 2.4 0 1 0 -4.7 0M598.4 766.7a2.4 2.4 0 1 0 4.7 0a2.4 2.4 0 1 0 -4.7 0M601.9 768.3a2.4 2.4 0 1 0 4.7 0a2.4 2.4 0 1 0 -4.7 0M605.8 775.2a2.4 2.4 0 1 0 4.7 0a2.4 2.4 0 1 0 -4.7 0M609.2 749.9a2.4 2.4 0 1 0 4.7 0a2.4 2.4 0 1 0 -4.7 0M612.9 754a2.4 2.4 0 1 0 4.7 0a2.4 2.4 0 1 0 -4.7 0M616.6 775.2a2.4 2.4 0 1 0 4.7 0a2.4 2.4 0 1 0 -4.7 0M621.2 774a2.4 2.4 0 1 0 4.7 0a2.4 2.4 0 1 0 -4.7 0M624.6 778.6a2.4 2.4 0 1 0 4.7 0a2.4 2.4 0 1 0 -4.7 0" fill="none" stroke="#111" stroke-width="1.8"/>
<path d="M354.7,789C355.6,791.5 358.6,800.3 360,804C361.4,807.7 361.9,810.2 363,811.3C364.1,812.4 366.2,810.5 366.9,810.4M372.2,794.3C373.2,793.2 376.4,789.7 378.4,787.9C380.4,786.1 382.6,782.7 384.1,783.3C385.6,783.9 386.2,788.4 387.6,791.3C389,794.2 390.9,798.3 392.2,800.5C393.5,802.7 394.1,803.9 395.6,804.4C397.1,804.9 400.4,803.6 401.4,803.5M409,792C409.8,790.7 412,786.9 414,784.4C416,781.9 419.1,775.8 421,776.8C422.9,777.8 423.9,788.4 425.6,790.2C427.3,792.1 429.6,789 431.3,787.9C433,786.8 434.4,782.1 435.9,783.3C437.4,784.4 438.8,791 440.5,794.8C442.2,798.6 444.8,803.8 446.3,806.3C447.8,808.8 448.6,810.5 449.7,809.7C450.8,808.9 451.8,803.8 453.2,801.7C454.6,799.6 456.6,799 457.8,797.1C459,795.2 459,792.1 460.1,790.2C461.2,788.3 463,787.6 464.7,785.5C466.4,783.4 468.7,779.6 470.4,777.5C472.1,775.4 473.5,772.7 475,772.9C476.5,773.1 478.1,778.4 479.6,778.6C481.1,778.8 482.7,774.8 484.2,774C485.7,773.2 487,775.1 488.5,774C490,772.9 491.6,767.7 493.1,767.1C494.6,766.5 496,769.6 497.7,770.6C499.4,771.6 501.5,772.7 503.4,772.9C505.3,773.1 507.7,773.1 509.2,771.7C510.7,770.4 511.3,768.4 512.2,764.8C513.1,761.2 513.5,752.3 514.5,749.9C515.5,747.5 517,750 518.4,750.6C519.8,751.2 521.3,752.2 523,753.8C524.7,755.4 527,758.2 528.7,760.2C530.4,762.2 531.7,763.7 533.3,766C534.9,768.3 536.7,773.8 538.4,774C540.1,774.2 542.2,768.1 543.7,767.1C545.2,766.1 545.8,768.3 547.1,768.3C548.4,768.3 550.2,768.6 551.7,767.1C553.2,765.6 554.6,761.8 556.3,759.1C558,756.4 560.4,752.5 562.1,751C563.8,749.5 565.2,749.7 566.7,749.9C568.2,750.1 569.9,750.5 571.3,752.2C572.6,753.9 573.6,759.1 574.8,760.2C575.9,761.4 577.1,758.1 578.2,759.1C579.4,760.1 580.4,763.5 581.7,766C583.1,768.5 584.8,771.5 586.3,774C587.8,776.5 589.4,781.8 590.9,781C592.4,780.2 594,771.7 595.5,769.4C597,767.1 598.6,767.2 600.1,767.1C601.6,767 603.2,769.6 604.7,769C606.2,768.4 607.8,765.2 609.3,763.7C610.8,762.2 612.4,759.6 613.9,760.2C615.4,760.8 617,764.6 618.5,767.1C620,769.6 621.8,772.7 623.1,775.2C624.4,777.7 625.9,781 626.5,782.1" fill="none" stroke="#d9262b" stroke-width="2.6" stroke-linejoin="round"/>
<path d="M352.6,921.3 355.1,921.2 357.7,921.3 360.2,921.5 362.3,921.4 364.5,921.8 366.6,921.6 368.5,920.9 370.4,919.4 372.9,919.6 375.5,919 378,918.5 380.6,919.5 383.1,920.8 385,922 386.9,922.6 389.4,922.6 392,921.9 394.1,922.4 396.2,922.2 398.3,921.8 400.9,922.6 403.4,922.8 406,922.7 408.1,922.8 410.2,923 412.3,923.2 413.6,920.2 415.5,919.9 417.4,919.3 418.7,919.6M459.3,927 461.3,924.2 462.9,925.6 464.4,926.4 466.9,927.2 469.4,927.6 472,927.1 474.5,927.2 477.1,926.6 479.6,926.8 482.2,926.2 484.7,926.2 486.5,926.2M509.4,895 513.2,895.4 515.1,896.6 517,897.9 520.8,899.2 523.3,899.6 525.9,900.1 528.4,900.3 530.4,899.9 532.5,900.5 534.5,900.2 536.6,900.3 538.6,900.5 541.1,901.4 543.7,901.6 546.2,901.8 548.8,902 551.3,902.1 553.8,900.5 556.3,902 558.9,903.6 561.4,903.4 564,904.3 566.5,904.3 568.5,904.8 570.6,904.8 572.6,904.9 574.7,905.1 576.7,905.5 578.7,906.1 580.7,905.6 582.8,906 584.8,906 586.8,906.2 589,906.3 591.2,906.6 593.5,907.2 595.7,906.8 598.3,905.8 600.4,906.6 602.5,907.2 604.6,908.2 606.5,908.8 608.4,909.7 610.3,909.7 612.2,910.9 614.7,910.8 617.3,910.5 619.8,910.5 621.9,909.9 623.9,910.3 626,910.2" fill="none" stroke="#111" stroke-width="2.4" stroke-linejoin="round"/>
<path d="M486.5,926.2 487.3,916.5 488.5,913.5 490.3,911.5 491,900.8 492.8,903.3 494.3,903.3 495.6,890.6 497.4,893.7 500,895.4 501.7,896.2 502.6,905.1" fill="none" stroke="#111" stroke-width="0.9"/>
<path d="M486 916.5a1.3 1.3 0 1 0 2.6 0a1.3 1.3 0 1 0 -2.6 0M487.2 913.5a1.3 1.3 0 1 0 2.6 0a1.3 1.3 0 1 0 -2.6 0M489 911.5a1.3 1.3 0 1 0 2.6 0a1.3 1.3 0 1 0 -2.6 0M489.7 900.8a1.3 1.3 0 1 0 2.6 0a1.3 1.3 0 1 0 -2.6 0M491.5 903.3a1.3 1.3 0 1 0 2.6 0a1.3 1.3 0 1 0 -2.6 0M493 903.3a1.3 1.3 0 1 0 2.6 0a1.3 1.3 0 1 0 -2.6 0M494.3 890.6a1.3 1.3 0 1 0 2.6 0a1.3 1.3 0 1 0 -2.6 0M496.1 893.7a1.3 1.3 0 1 0 2.6 0a1.3 1.3 0 1 0 -2.6 0M498.7 895.4a1.3 1.3 0 1 0 2.6 0a1.3 1.3 0 1 0 -2.6 0M500.4 896.2a1.3 1.3 0 1 0 2.6 0a1.3 1.3 0 1 0 -2.6 0M501.3 905.1a1.3 1.3 0 1 0 2.6 0a1.3 1.3 0 1 0 -2.6 0" fill="#111"/>
<rect x="352" y="592" width="274.5" height="345.6" fill="none" stroke="#111" stroke-width="1.5"/>
<path d="M352 706.7H626.5M352 822.5H626.5" stroke="#111" stroke-width="1.4"/>
<path d="M443.4 706.7v-4.5M443.4 822.5v-4.5M535 706.7v-4.5M535 822.5v-4.5M398.2 937.6v-4.5M489 937.6v-4.5M580.2 937.6v-4.5" stroke="#111" stroke-width="1.2" fill="none"/>
<text x="55.4" y="698.8" text-anchor="end" style="font-family:'Liberation Sans',sans-serif;font-size:17.5px">14</text>
<text x="55.4" y="670" text-anchor="end" style="font-family:'Liberation Sans',sans-serif;font-size:17.5px">16</text>
<text x="55.4" y="641.3" text-anchor="end" style="font-family:'Liberation Sans',sans-serif;font-size:17.5px">18</text>
<text x="55.4" y="612.5" text-anchor="end" style="font-family:'Liberation Sans',sans-serif;font-size:17.5px">20</text>
<text x="55.4" y="801.2" text-anchor="end" style="font-family:'Liberation Sans',sans-serif;font-size:17.5px">2</text>
<text x="55.4" y="771" text-anchor="end" style="font-family:'Liberation Sans',sans-serif;font-size:17.5px">3</text>
<text x="55.4" y="740.7" text-anchor="end" style="font-family:'Liberation Sans',sans-serif;font-size:17.5px">4</text>
<text x="55.4" y="940" text-anchor="end" style="font-family:'Liberation Sans',sans-serif;font-size:17.5px">25</text>
<text x="55.4" y="920.8" text-anchor="end" style="font-family:'Liberation Sans',sans-serif;font-size:17.5px">30</text>
<text x="55.4" y="901.7" text-anchor="end" style="font-family:'Liberation Sans',sans-serif;font-size:17.5px">35</text>
<text x="55.4" y="882.5" text-anchor="end" style="font-family:'Liberation Sans',sans-serif;font-size:17.5px">40</text>
<text x="55.4" y="863.4" text-anchor="end" style="font-family:'Liberation Sans',sans-serif;font-size:17.5px">45</text>
<text x="55.4" y="844.2" text-anchor="end" style="font-family:'Liberation Sans',sans-serif;font-size:17.5px">50</text>
<text x="55.5" y="959" text-anchor="middle" style="font-family:'Liberation Sans',sans-serif;font-size:17.5px">30.07</text>
<text x="147.2" y="959" text-anchor="middle" style="font-family:'Liberation Sans',sans-serif;font-size:17.5px">01.08</text>
<text x="238.7" y="959" text-anchor="middle" style="font-family:'Liberation Sans',sans-serif;font-size:17.5px">03.08</text>
<text x="330.3" y="959" text-anchor="middle" style="font-family:'Liberation Sans',sans-serif;font-size:17.5px">05.08</text>
<text x="393.6" y="959" text-anchor="middle" style="font-family:'Liberation Sans',sans-serif;font-size:17.5px">12.08</text>
<text x="485" y="959" text-anchor="middle" style="font-family:'Liberation Sans',sans-serif;font-size:17.5px">14.08</text>
<text x="576.9" y="959" text-anchor="middle" style="font-family:'Liberation Sans',sans-serif;font-size:17.5px">16.08</text>
<text x="200.6" y="990.5" text-anchor="middle" style="font-family:'Liberation Serif',serif;font-size:22px">Date 2008</text>
<text x="496.4" y="990.5" text-anchor="middle" style="font-family:'Liberation Serif',serif;font-size:22px">Date 2009</text>
<text x="71" y="618.9" style="font-family:'Liberation Sans',sans-serif;font-weight:bold;font-size:24px">A</text>
<text x="361.7" y="621.4" style="font-family:'Liberation Sans',sans-serif;font-weight:bold;font-size:24px">B</text>
<text transform="translate(18.3 648.8) rotate(-90)" text-anchor="middle" style="font-family:'Liberation Serif',serif;font-size:22.4px">Temp (°C)</text>
<text transform="translate(19 763.8) rotate(-90)" text-anchor="middle" style="font-family:'Liberation Serif',serif;font-size:21.9px">CO<tspan dy="5" style="font-size:14.5px">2</tspan><tspan dy="-5"> efflux</tspan></text>
<text transform="translate(20.5 896.5) rotate(-90)" text-anchor="middle" style="font-family:'Liberation Serif',serif;font-size:22.5px">Moist (Vol %)</text>
</svg>
</body></html>
